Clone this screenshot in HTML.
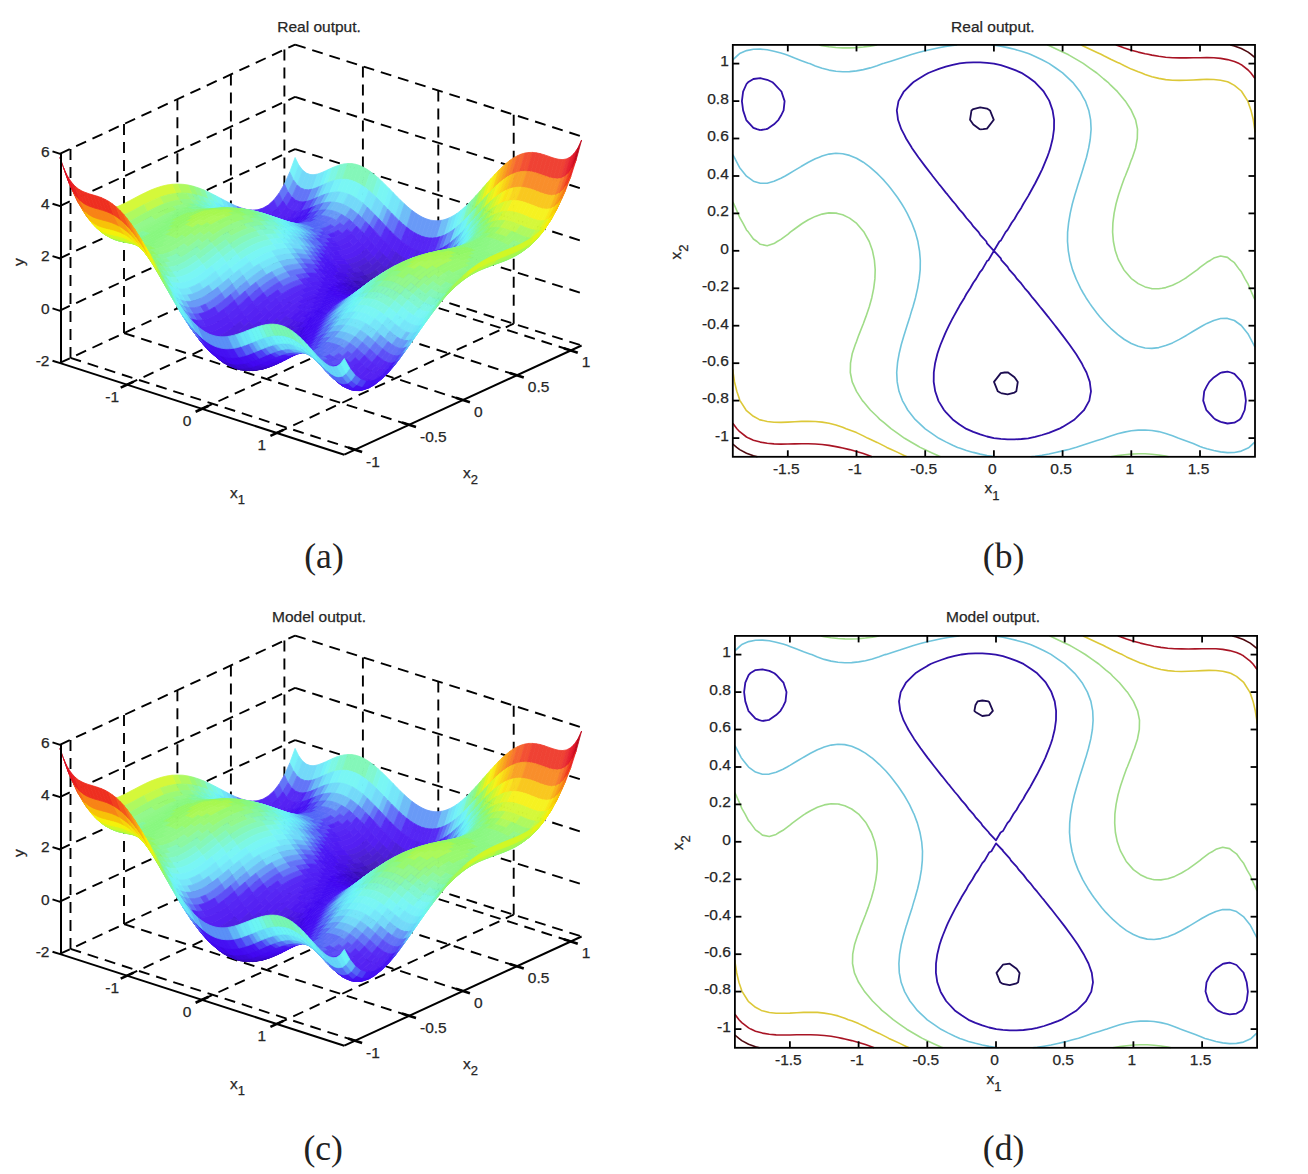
<!DOCTYPE html>
<html><head><meta charset="utf-8"><title>Real vs model output</title>
<style>html,body{margin:0;padding:0;background:#fff;}svg{display:block;}.k0{fill:#2b088f;stroke:#2b088f}.k1{fill:#2f08a3;stroke:#2f08a3}.k2{fill:#3408b7;stroke:#3408b7}.k3{fill:#3808ca;stroke:#3808ca}.k4{fill:#3c08d8;stroke:#3c08d8}.k5{fill:#3f08e5;stroke:#3f08e5}.k6{fill:#4208f1;stroke:#4208f1}.k7{fill:#430cf2;stroke:#430cf2}.k8{fill:#4510f3;stroke:#4510f3}.k9{fill:#4616f4;stroke:#4616f4}.k10{fill:#4d3ef5;stroke:#4d3ef5}.k11{fill:#5367f6;stroke:#5367f6}.k12{fill:#5a90f6;stroke:#5a90f6}.k13{fill:#60b6f7;stroke:#60b6f7}.k14{fill:#64d5f8;stroke:#64d5f8}.k15{fill:#67e4f8;stroke:#67e4f8}.k16{fill:#69f1f8;stroke:#69f1f8}.k17{fill:#6bf5f3;stroke:#6bf5f3}.k18{fill:#6ff6e2;stroke:#6ff6e2}.k19{fill:#73f6ca;stroke:#73f6ca}.k20{fill:#77f6b2;stroke:#77f6b2}.k21{fill:#7ff798;stroke:#7ff798}.k22{fill:#88f87f;stroke:#88f87f}.k23{fill:#91f866;stroke:#91f866}.k24{fill:#a7f84f;stroke:#a7f84f}.k25{fill:#bcf838;stroke:#bcf838}.k26{fill:#d1f725;stroke:#d1f725}.k27{fill:#e3f418;stroke:#e3f418}.k28{fill:#f5f10a;stroke:#f5f10a}.k29{fill:#f8e308;stroke:#f8e308}.k30{fill:#f8d308;stroke:#f8d308}.k31{fill:#f8c208;stroke:#f8c208}.k32{fill:#f8ae0b;stroke:#f8ae0b}.k33{fill:#f89811;stroke:#f89811}.k34{fill:#f88316;stroke:#f88316}.k35{fill:#f66c19;stroke:#f66c19}.k36{fill:#f4551b;stroke:#f4551b}.k37{fill:#f13f1e;stroke:#f13f1e}.k38{fill:#ee2e20;stroke:#ee2e20}.k39{fill:#e92121;stroke:#e92121}.k40{fill:#e51522;stroke:#e51522}.k41{fill:#dd0e22;stroke:#dd0e22}.k42{fill:#d20c20;stroke:#d20c20}.k43{fill:#c7091e;stroke:#c7091e}.k44{fill:#bd081c;stroke:#bd081c}.k45{fill:#b1081b;stroke:#b1081b}.k46{fill:#a50819;stroke:#a50819}.k47{fill:#990817;stroke:#990817}.k48{fill:#310f93;stroke:#310f93}.k49{fill:#360fa6;stroke:#360fa6}.k50{fill:#3a0fb9;stroke:#3a0fb9}.k51{fill:#3e0fcc;stroke:#3e0fcc}.k52{fill:#420fd9;stroke:#420fd9}.k53{fill:#450fe6;stroke:#450fe6}.k54{fill:#4810f1;stroke:#4810f1}.k55{fill:#4913f2;stroke:#4913f2}.k56{fill:#4a17f4;stroke:#4a17f4}.k57{fill:#4c1df5;stroke:#4c1df5}.k58{fill:#5244f6;stroke:#5244f6}.k59{fill:#586cf6;stroke:#586cf6}.k60{fill:#5f93f7;stroke:#5f93f7}.k61{fill:#65b8f7;stroke:#65b8f7}.k62{fill:#69d6f8;stroke:#69d6f8}.k63{fill:#6be5f8;stroke:#6be5f8}.k64{fill:#6df1f8;stroke:#6df1f8}.k65{fill:#70f5f3;stroke:#70f5f3}.k66{fill:#74f7e3;stroke:#74f7e3}.k67{fill:#78f7cb;stroke:#78f7cb}.k68{fill:#7bf7b4;stroke:#7bf7b4}.k69{fill:#83f79c;stroke:#83f79c}.k70{fill:#8cf883;stroke:#8cf883}.k71{fill:#95f86a;stroke:#95f86a}.k72{fill:#a9f854;stroke:#a9f854}.k73{fill:#bef83f;stroke:#bef83f}.k74{fill:#d2f72c;stroke:#d2f72c}.k75{fill:#e3f41f;stroke:#e3f41f}.k76{fill:#f5f112;stroke:#f5f112}.k77{fill:#f8e40f;stroke:#f8e40f}.k78{fill:#f8d40f;stroke:#f8d40f}.k79{fill:#f8c40f;stroke:#f8c40f}.k80{fill:#f8b013;stroke:#f8b013}.k81{fill:#f89c18;stroke:#f89c18}.k82{fill:#f8871d;stroke:#f8871d}.k83{fill:#f77120;stroke:#f77120}.k84{fill:#f45b22;stroke:#f45b22}.k85{fill:#f24525;stroke:#f24525}.k86{fill:#ee3527;stroke:#ee3527}.k87{fill:#ea2828;stroke:#ea2828}.k88{fill:#e61c29;stroke:#e61c29}.k89{fill:#de1529;stroke:#de1529}.k90{fill:#d31327;stroke:#d31327}.k91{fill:#c91125;stroke:#c91125}.k92{fill:#bf0f23;stroke:#bf0f23}.k93{fill:#b30f22;stroke:#b30f22}.k94{fill:#a80f20;stroke:#a80f20}.k95{fill:#9c0f1e;stroke:#9c0f1e}.k96{fill:#381796;stroke:#381796}.k97{fill:#3c17a9;stroke:#3c17a9}.k98{fill:#4017bc;stroke:#4017bc}.k99{fill:#4517ce;stroke:#4517ce}.k100{fill:#4817da;stroke:#4817da}.k101{fill:#4b17e7;stroke:#4b17e7}.k102{fill:#4e17f1;stroke:#4e17f1}.k103{fill:#4f1bf3;stroke:#4f1bf3}.k104{fill:#501ff4;stroke:#501ff4}.k105{fill:#5225f5;stroke:#5225f5}.k106{fill:#584af6;stroke:#584af6}.k107{fill:#5e70f7;stroke:#5e70f7}.k108{fill:#6497f7;stroke:#6497f7}.k109{fill:#6abbf7;stroke:#6abbf7}.k110{fill:#6ed8f9;stroke:#6ed8f9}.k111{fill:#70e5f9;stroke:#70e5f9}.k112{fill:#72f1f9;stroke:#72f1f9}.k113{fill:#75f5f3;stroke:#75f5f3}.k114{fill:#78f7e4;stroke:#78f7e4}.k115{fill:#7cf7cd;stroke:#7cf7cd}.k116{fill:#80f7b6;stroke:#80f7b6}.k117{fill:#87f79f;stroke:#87f79f}.k118{fill:#90f887;stroke:#90f887}.k119{fill:#98f96f;stroke:#98f96f}.k120{fill:#acf95a;stroke:#acf95a}.k121{fill:#c0f945;stroke:#c0f945}.k122{fill:#d3f833;stroke:#d3f833}.k123{fill:#e4f526;stroke:#e4f526}.k124{fill:#f5f219;stroke:#f5f219}.k125{fill:#f9e517;stroke:#f9e517}.k126{fill:#f9d517;stroke:#f9d517}.k127{fill:#f9c617;stroke:#f9c617}.k128{fill:#f9b31b;stroke:#f9b31b}.k129{fill:#f99f1f;stroke:#f99f1f}.k130{fill:#f98a24;stroke:#f98a24}.k131{fill:#f77527;stroke:#f77527}.k132{fill:#f5602a;stroke:#f5602a}.k133{fill:#f24a2c;stroke:#f24a2c}.k134{fill:#ef3b2e;stroke:#ef3b2e}.k135{fill:#eb2f2f;stroke:#eb2f2f}.k136{fill:#e62330;stroke:#e62330}.k137{fill:#df1d2f;stroke:#df1d2f}.k138{fill:#d51b2e;stroke:#d51b2e}.k139{fill:#cb192c;stroke:#cb192c}.k140{fill:#c1172a;stroke:#c1172a}.k141{fill:#b61729;stroke:#b61729}.k142{fill:#ab1727;stroke:#ab1727}.k143{fill:#9f1726;stroke:#9f1726}.k144{fill:#3e1f9a;stroke:#3e1f9a}.k145{fill:#421fac;stroke:#421fac}.k146{fill:#471fbe;stroke:#471fbe}.k147{fill:#4b1fcf;stroke:#4b1fcf}.k148{fill:#4e1fdb;stroke:#4e1fdb}.k149{fill:#511fe7;stroke:#511fe7}.k150{fill:#541ff2;stroke:#541ff2}.k151{fill:#5522f3;stroke:#5522f3}.k152{fill:#5626f4;stroke:#5626f4}.k153{fill:#572cf5;stroke:#572cf5}.k154{fill:#5d50f6;stroke:#5d50f6}.k155{fill:#6375f7;stroke:#6375f7}.k156{fill:#699af7;stroke:#699af7}.k157{fill:#6fbdf7;stroke:#6fbdf7}.k158{fill:#73d9f9;stroke:#73d9f9}.k159{fill:#75e6f9;stroke:#75e6f9}.k160{fill:#77f2f9;stroke:#77f2f9}.k161{fill:#79f6f4;stroke:#79f6f4}.k162{fill:#7cf7e4;stroke:#7cf7e4}.k163{fill:#80f7cf;stroke:#80f7cf}.k164{fill:#84f7b9;stroke:#84f7b9}.k165{fill:#8bf8a2;stroke:#8bf8a2}.k166{fill:#93f88b;stroke:#93f88b}.k167{fill:#9bf974;stroke:#9bf974}.k168{fill:#aff95f;stroke:#aff95f}.k169{fill:#c2f94b;stroke:#c2f94b}.k170{fill:#d5f83a;stroke:#d5f83a}.k171{fill:#e5f52d;stroke:#e5f52d}.k172{fill:#f6f221;stroke:#f6f221}.k173{fill:#f9e61f;stroke:#f9e61f}.k174{fill:#f9d71f;stroke:#f9d71f}.k175{fill:#f9c81f;stroke:#f9c81f}.k176{fill:#f9b522;stroke:#f9b522}.k177{fill:#f9a227;stroke:#f9a227}.k178{fill:#f98e2b;stroke:#f98e2b}.k179{fill:#f77a2e;stroke:#f77a2e}.k180{fill:#f56531;stroke:#f56531}.k181{fill:#f35033;stroke:#f35033}.k182{fill:#ef4234;stroke:#ef4234}.k183{fill:#eb3636;stroke:#eb3636}.k184{fill:#e72a37;stroke:#e72a37}.k185{fill:#e02436;stroke:#e02436}.k186{fill:#d62235;stroke:#d62235}.k187{fill:#cd2033;stroke:#cd2033}.k188{fill:#c31f31;stroke:#c31f31}.k189{fill:#b81f30;stroke:#b81f30}.k190{fill:#ad1f2e;stroke:#ad1f2e}.k191{fill:#a31f2d;stroke:#a31f2d}</style></head>
<body><svg width="1308" height="1174" viewBox="0 0 1308 1174">
<rect width="1308" height="1174" fill="#fff"/>
<g stroke="#000" stroke-width="1.9" stroke-dasharray="11 7" fill="none"><line x1="59.8" y1="362.9" x2="295.1" y2="253.7" /><line x1="295.1" y1="253.7" x2="581.6" y2="345.5" /><line x1="59.8" y1="310.6" x2="295.1" y2="201.4" /><line x1="295.1" y1="201.4" x2="581.6" y2="293.2" /><line x1="59.8" y1="258.3" x2="295.1" y2="149.1" /><line x1="295.1" y1="149.1" x2="581.6" y2="240.9" /><line x1="59.8" y1="206.1" x2="295.1" y2="96.9" /><line x1="295.1" y1="96.9" x2="581.6" y2="188.7" /><line x1="59.8" y1="153.8" x2="295.1" y2="44.6" /><line x1="295.1" y1="44.6" x2="581.6" y2="136.4" /><line x1="70.5" y1="357.9" x2="70.5" y2="148.8" /><line x1="70.5" y1="357.9" x2="355.1" y2="449.7" /><line x1="124" y1="333.1" x2="124" y2="124" /><line x1="124" y1="333.1" x2="409" y2="424.9" /><line x1="177.4" y1="308.3" x2="177.4" y2="99.2" /><line x1="177.4" y1="308.3" x2="462.9" y2="400.1" /><line x1="230.9" y1="283.4" x2="230.9" y2="74.4" /><line x1="230.9" y1="283.4" x2="516.8" y2="375.3" /><line x1="284.4" y1="258.6" x2="284.4" y2="49.6" /><line x1="284.4" y1="258.6" x2="570.8" y2="350.4" /><line x1="362.9" y1="275.4" x2="362.9" y2="66.3" /><line x1="127.2" y1="384.6" x2="362.9" y2="275.4" /><line x1="438.3" y1="299.6" x2="438.3" y2="90.5" /><line x1="202.1" y1="408.8" x2="438.3" y2="299.6" /><line x1="513.7" y1="323.7" x2="513.7" y2="114.7" /><line x1="276.9" y1="432.9" x2="513.7" y2="323.7" /></g>
<g stroke-width=".8" stroke-linejoin="round"><path class="k160" d="M289.7 172.2l5.4-14.7 3.7 7.6-5.3 14.8z"/><path class="k157" d="M284.4 184l5.3-11.8 3.8 7.7-5.4 11.9z"/><path class="k155" d="M279 193.2l5.4-9.2 3.7 7.8-5.3 9.2z"/><path class="k154" d="M273.7 200.1l5.3-6.9 3.8 7.8-5.4 7z"/><path class="k153" d="M268.3 205l5.4-4.9 3.7 7.9-5.3 4.9z"/><path class="k152" d="M257.6 209.8l5.4-1.7 5.3-3.1 3.8 7.9-5.4 3.2-5.3 1.7z"/><path class="k153" d="M246.9 209.5l5.4 .6 5.3-.3 3.8 8-5.3 .5-5.4-.6z"/><path class="k154" d="M241.6 208.1l5.3 1.4 3.8 8.2-5.3-1.3z"/><path class="k155" d="M236.2 206.1l5.4 2 3.8 8.3-5.4-2z"/><path class="k109" d="M230.9 203.6l5.3 2.5 3.8 8.3-5.3-2.4z"/><path class="k110" d="M225.6 200.9l5.3 2.7 3.8 8.4-5.4-2.6z"/><path class="k111" d="M220.2 198.1l5.4 2.8 3.7 8.5-5.3-2.8z"/><path class="k113" d="M214.9 195.3l5.3 2.8 3.8 8.5-5.4-2.8z"/><path class="k114" d="M209.5 192.6l5.4 2.7 3.7 8.5-5.3-2.6z"/><path class="k163" d="M204.2 190.1l5.3 2.5 3.8 8.6-5.4-2.3z"/><path class="k165" d="M198.8 188l5.4 2.1 3.7 8.8-5.3-2.1z"/><path class="k166" d="M193.5 186.3l5.3 1.7 3.8 8.8-5.4-1.6z"/><path class="k167" d="M188.1 185l5.4 1.3 3.7 8.9-5.3-1.2z"/><path class="k168" d="M177.4 184l5.4 .3 5.3 .7 3.8 9-5.4-.8-5.3-.2z"/><path class="k169" d="M172.1 184.3l5.3-.3 3.8 9-5.3 .4z"/><path class="k170" d="M107.9 209.5l5.4-1.4 5.3-2 5.4-2.5 5.3-2.7 5.4-2.9 5.3-2.8 5.4-2.6 5.3-2.5 5.4-2.1 5.3-1.7 5.3-1.3 5.4-.7 3.8 9.1-5.4 .8-5.3 1.3-5.4 1.8-5.3 2.2-5.4 2.5-5.3 2.7-5.4 2.9-5.3 2.9-5.4 2.8-5.3 2.5-5.4 2.1-5.3 1.5z"/><path class="k171" d="M97.3 209.7l5.3 .4 5.3-.6 3.8 9.9-5.4 .7-5.3-.4z"/><path class="k172" d="M91.9 208.1l5.4 1.6 3.7 10-5.3-1.5z"/><path class="k173" d="M86.6 204.9l5.3 3.2 3.8 10.1-5.4-3.1z"/><path class="k127" d="M81.2 200.1l5.4 4.8 3.7 10.2-5.3-4.8z"/><path class="k33" d="M75.9 193.2l5.3 6.9 3.8 10.2-5.4-6.8z"/><path class="k36" d="M70.5 184l5.4 9.2 3.7 10.3-5.3-9.2z"/><path class="k39" d="M65.2 172.2l5.3 11.8 3.8 10.3-5.4-11.7z"/><path class="k44" d="M59.8 157.4l5.4 14.8 3.7 10.4-5.3-14.7z"/><path class="k159" d="M293.5 179.9l5.3-14.8 3.8 5-5.4 14.9z"/><path class="k156" d="M288.1 191.8l5.4-11.9 3.7 5.1-5.3 12z"/><path class="k154" d="M282.8 201l5.3-9.2 3.8 5.2-5.3 9.3z"/><path class="k152" d="M277.4 208l5.4-7 3.8 5.3-5.4 7z"/><path class="k151" d="M256.1 218.3l5.3-.5 5.3-1.7 5.4-3.2 5.3-4.9 3.8 5.3-5.3 5-5.4 3.3-5.3 1.7-5.4 .6z"/><path class="k104" d="M250.7 217.7l5.4 .6 3.7 5.6-5.3-.5z"/><path class="k105" d="M245.4 216.4l5.3 1.3 3.8 5.7-5.4-1.3z"/><path class="k58" d="M240 214.4l5.4 2 3.7 5.7-5.3-1.9z"/><path class="k59" d="M234.7 212l5.3 2.4 3.8 5.8-5.4-2.3z"/><path class="k60" d="M229.3 209.4l5.4 2.6 3.7 5.9-5.3-2.6z"/><path class="k62" d="M224 206.6l5.3 2.8 3.8 5.9-5.4-2.7z"/><path class="k63" d="M218.6 203.8l5.4 2.8 3.7 6-5.3-2.7z"/><path class="k64" d="M213.3 201.2l5.3 2.6 3.8 6.1-5.4-2.6z"/><path class="k66" d="M207.9 198.9l5.4 2.3 3.7 6.1-5.3-2.3z"/><path class="k115" d="M202.6 196.8l5.3 2.1 3.8 6.1-5.4-2z"/><path class="k116" d="M197.2 195.2l5.4 1.6 3.7 6.2-5.3-1.5z"/><path class="k117" d="M191.9 194l5.3 1.2 3.8 6.3-5.4-1.2z"/><path class="k166" d="M186.5 193.2l5.4 .8 3.7 6.3-5.3-.6z"/><path class="k167" d="M175.9 193.4l5.3-.4 5.3 .2 3.8 6.5-5.3-.2-5.4 .4z"/><path class="k168" d="M159.8 197.3l5.4-1.8 5.3-1.3 5.4-.8 3.7 6.5-5.3 .9-5.4 1.4-5.3 1.9z"/><path class="k169" d="M143.8 204.7l5.3-2.7 5.4-2.5 5.3-2.2 3.8 6.8-5.4 2.2-5.3 2.6-5.4 2.8z"/><path class="k168" d="M111.7 219.4l5.3-1.5 5.4-2.1 5.3-2.5 5.4-2.8 5.3-2.9 5.4-2.9 3.7 7-5.3 2.9-5.4 3-5.3 2.8-5.4 2.6-5.3 2.2-5.4 1.5z"/><path class="k169" d="M101 219.7l5.3 .4 5.4-.7 3.7 7.3-5.3 .8-5.4-.3z"/><path class="k170" d="M95.7 218.2l5.3 1.5 3.7 7.5-5.3-1.5z"/><path class="k123" d="M90.3 215.1l5.4 3.1 3.7 7.5-5.3-3z"/><path class="k29" d="M85 210.3l5.3 4.8 3.8 7.6-5.4-4.7z"/><path class="k31" d="M79.6 203.5l5.4 6.8 3.7 7.7-5.3-6.8z"/><path class="k34" d="M74.3 194.3l5.3 9.2 3.8 7.7-5.4-9.1z"/><path class="k37" d="M68.9 182.6l5.4 11.7 3.7 7.8-5.3-11.6z"/><path class="k41" d="M63.6 167.9l5.3 14.7 3.8 7.9-5.4-14.7z"/><path class="k158" d="M297.2 185l5.4-14.9 3.8 3-5.4 15z"/><path class="k155" d="M291.9 197l5.3-12 3.8 3.1-5.3 12z"/><path class="k153" d="M286.6 206.3l5.3-9.3 3.8 3.1-5.4 9.4z"/><path class="k151" d="M275.9 218.3l5.3-5 5.4-7 3.7 3.2-5.3 7.1-5.4 5z"/><path class="k150" d="M270.5 221.6l5.4-3.3 3.7 3.3-5.3 3.4z"/><path class="k102" d="M259.8 223.9l5.4-.6 5.3-1.7 3.8 3.4-5.4 1.8-5.3 .6z"/><path class="k55" d="M254.5 223.4l5.3 .5 3.8 3.5-5.4-.4z"/><path class="k8" d="M249.1 222.1l5.4 1.3 3.7 3.6-5.3-1.3z"/><path class="k9" d="M243.8 220.2l5.3 1.9 3.8 3.6-5.4-1.8z"/><path class="k10" d="M238.4 217.9l5.4 2.3 3.7 3.7-5.3-2.3z"/><path class="k11" d="M233.1 215.3l5.3 2.6 3.8 3.7-5.4-2.5z"/><path class="k13" d="M227.7 212.6l5.4 2.7 3.7 3.8-5.3-2.6z"/><path class="k14" d="M222.4 209.9l5.3 2.7 3.8 3.9-5.4-2.6z"/><path class="k15" d="M217 207.3l5.4 2.6 3.7 4-5.3-2.5z"/><path class="k17" d="M211.7 205l5.3 2.3 3.8 4.1-5.4-2.3z"/><path class="k18" d="M206.3 203l5.4 2 3.7 4.1-5.3-1.9z"/><path class="k19" d="M201 201.5l5.3 1.5 3.8 4.2-5.3-1.5z"/><path class="k68" d="M195.6 200.3l5.4 1.2 3.8 4.2-5.4-1.1z"/><path class="k117" d="M190.3 199.7l5.3 .6 3.8 4.3-5.3-.5z"/><path class="k118" d="M179.6 199.9l5.4-.4 5.3 .2 3.8 4.4-5.4-.1-5.3 .4z"/><path class="k167" d="M110.1 227.5l5.3-.8 5.4-1.5 5.3-2.2 5.4-2.6 5.3-2.8 5.4-3 5.3-2.9 5.4-2.8 5.3-2.6 5.4-2.2 5.3-1.9 5.4-1.4 5.3-.9 3.8 4.5-5.4 1-5.3 1.5-5.4 1.9-5.3 2.3-5.4 2.6-5.3 2.9-5.4 3-5.3 3-5.4 2.9-5.3 2.7-5.4 2.2-5.3 1.6-5.4 .8z"/><path class="k120" d="M104.7 227.2l5.4 .3 3.7 5.3-5.3-.2z"/><path class="k121" d="M99.4 225.7l5.3 1.5 3.8 5.4-5.4-1.4z"/><path class="k26" d="M94.1 222.7l5.3 3 3.7 5.5-5.3-2.9z"/><path class="k28" d="M88.7 218l5.4 4.7 3.7 5.6-5.4-4.7z"/><path class="k30" d="M83.4 211.2l5.3 6.8 3.7 5.6-5.3-6.7z"/><path class="k33" d="M78 202.1l5.4 9.1 3.7 5.7-5.3-9z"/><path class="k36" d="M72.7 190.5l5.3 11.6 3.8 5.8-5.4-11.6z"/><path class="k40" d="M67.3 175.8l5.4 14.7 3.7 5.8-5.3-14.6z"/><path class="k158" d="M301 188.1l5.4-15 3.7 1.4-5.3 15z"/><path class="k155" d="M295.7 200.1l5.3-12 3.8 1.4-5.4 12.1z"/><path class="k153" d="M290.3 209.5l5.4-9.4 3.7 1.5-5.3 9.5z"/><path class="k151" d="M285 216.6l5.3-7.1 3.8 1.6-5.4 7.1z"/><path class="k150" d="M279.6 221.6l5.4-5 3.7 1.6-5.3 5.2z"/><path class="k102" d="M274.3 225l5.3-3.4 3.8 1.8-5.4 3.3z"/><path class="k54" d="M268.9 226.8l5.4-1.8 3.7 1.7-5.3 1.9z"/><path class="k6" d="M263.6 227.4l5.3-.6 3.8 1.8-5.4 .7z"/><path class="k7" d="M258.2 227l5.4 .4 3.7 1.9-5.3-.4z"/><path class="k8" d="M252.9 225.7l5.3 1.3 3.8 1.9-5.4-1.1z"/><path class="k9" d="M247.5 223.9l5.4 1.8 3.7 2.1-5.3-1.8z"/><path class="k10" d="M242.2 221.6l5.3 2.3 3.8 2.1-5.3-2.2z"/><path class="k11" d="M236.8 219.1l5.4 2.5 3.8 2.2-5.4-2.4z"/><path class="k12" d="M231.5 216.5l5.3 2.6 3.8 2.3-5.3-2.6z"/><path class="k14" d="M226.1 213.9l5.4 2.6 3.8 2.3-5.4-2.6z"/><path class="k15" d="M220.8 211.4l5.3 2.5 3.8 2.3-5.3-2.4z"/><path class="k16" d="M215.4 209.1l5.4 2.3 3.8 2.4-5.4-2.2z"/><path class="k17" d="M210.1 207.2l5.3 1.9 3.8 2.5-5.3-1.8z"/><path class="k18" d="M204.8 205.7l5.3 1.5 3.8 2.6-5.4-1.5z"/><path class="k19" d="M199.4 204.6l5.4 1.1 3.7 2.6-5.3-1z"/><path class="k20" d="M194.1 204.1l5.3 .5 3.8 2.7-5.4-.5z"/><path class="k21" d="M188.7 204l5.4 .1 3.7 2.7-5.3 0z"/><path class="k70" d="M183.4 204.4l5.3-.4 3.8 2.8-5.4 .5z"/><path class="k118" d="M172.7 206.9l5.3-1.5 5.4-1 3.7 2.9-5.3 1.1-5.4 1.5z"/><path class="k119" d="M162 211.1l5.3-2.3 5.4-1.9 3.7 3-5.3 2-5.4 2.3z"/><path class="k167" d="M151.3 216.6l5.3-2.9 5.4-2.6 3.7 3.1-5.3 2.7-5.4 3z"/><path class="k166" d="M124.5 230.4l5.4-2.2 5.3-2.7 5.4-2.9 5.3-3 5.4-3 3.7 3.3-5.3 3.1-5.4 3-5.3 3-5.4 2.7-5.3 2.3z"/><path class="k118" d="M119.2 232l5.3-1.6 3.8 3.6-5.4 1.7z"/><path class="k119" d="M113.8 232.8l5.4-.8 3.7 3.7-5.3 .9z"/><path class="k71" d="M108.5 232.6l5.3 .2 3.8 3.8-5.4-.2z"/><path class="k24" d="M103.1 231.2l5.4 1.4 3.7 3.8-5.3-1.3z"/><path class="k25" d="M97.8 228.3l5.3 2.9 3.8 3.9-5.4-2.9z"/><path class="k27" d="M92.4 223.6l5.4 4.7 3.7 3.9-5.3-4.6z"/><path class="k29" d="M87.1 216.9l5.3 6.7 3.8 4-5.4-6.6z"/><path class="k32" d="M81.8 207.9l5.3 9 3.7 4.1-5.3-9z"/><path class="k35" d="M76.4 196.3l5.4 11.6 3.7 4.1-5.4-11.5z"/><path class="k39" d="M71.1 181.7l5.3 14.6 3.7 4.2-5.3-14.5z"/><path class="k158" d="M304.8 189.5l5.3-15 3.8 .2-5.3 15.1z"/><path class="k155" d="M299.4 201.6l5.4-12.1 3.8 .3-5.4 12.1z"/><path class="k153" d="M294.1 211.1l5.3-9.5 3.8 .3-5.3 9.5z"/><path class="k103" d="M288.7 218.2l5.4-7.1 3.8 .3-5.4 7.3z"/><path class="k102" d="M283.4 223.4l5.3-5.2 3.8 .5-5.3 5.2z"/><path class="k54" d="M278 226.7l5.4-3.3 3.8 .5-5.4 3.4z"/><path class="k6" d="M267.3 229.3l5.4-.7 5.3-1.9 3.8 .6-5.3 2-5.4 .7z"/><path class="k7" d="M256.6 227.8l5.4 1.1 5.3 .4 3.8 .7-5.3-.3-5.4-1.1z"/><path class="k8" d="M251.3 226l5.3 1.8 3.8 .8-5.3-1.7z"/><path class="k10" d="M246 223.8l5.3 2.2 3.8 .9-5.4-2.1z"/><path class="k11" d="M240.6 221.4l5.4 2.4 3.7 1-5.3-2.4z"/><path class="k12" d="M235.3 218.8l5.3 2.6 3.8 1-5.4-2.5z"/><path class="k13" d="M229.9 216.2l5.4 2.6 3.7 1.1-5.3-2.5z"/><path class="k15" d="M224.6 213.8l5.3 2.4 3.8 1.2-5.4-2.4z"/><path class="k16" d="M219.2 211.6l5.4 2.2 3.7 1.2-5.3-2.1z"/><path class="k17" d="M213.9 209.8l5.3 1.8 3.8 1.3-5.4-1.8z"/><path class="k18" d="M208.5 208.3l5.4 1.5 3.7 1.3-5.3-1.3z"/><path class="k19" d="M203.2 207.3l5.3 1 3.8 1.5-5.4-1z"/><path class="k20" d="M197.8 206.8l5.4 .5 3.7 1.5-5.3-.4z"/><path class="k21" d="M187.1 207.3l5.4-.5 5.3 0 3.8 1.6-5.4 0-5.3 .6z"/><path class="k22" d="M181.8 208.4l5.3-1.1 3.8 1.7-5.4 1.1z"/><path class="k70" d="M171.1 211.9l5.3-2 5.4-1.5 3.7 1.7-5.3 1.6-5.4 2z"/><path class="k118" d="M122.9 235.7l5.4-1.7 5.3-2.3 5.4-2.7 5.3-3 5.4-3 5.3-3.1 5.4-3 5.3-2.7 5.4-2.3 3.7 1.8-5.3 2.5-5.4 2.7-5.3 3-5.4 3.2-5.3 3.1-5.4 3.1-5.3 2.8-5.4 2.3-5.3 1.8z"/><path class="k70" d="M117.6 236.6l5.3-.9 3.8 2.5-5.4 .9z"/><path class="k23" d="M106.9 235.1l5.3 1.3 5.4 .2 3.7 2.5-5.3-.1-5.4-1.3z"/><path class="k25" d="M101.5 232.2l5.4 2.9 3.7 2.6-5.3-2.8z"/><path class="k26" d="M96.2 227.6l5.3 4.6 3.8 2.7-5.4-4.5z"/><path class="k28" d="M90.8 221l5.4 6.6 3.7 2.8-5.3-6.6z"/><path class="k31" d="M85.5 212l5.3 9 3.8 2.8-5.4-8.9z"/><path class="k34" d="M80.1 200.5l5.4 11.5 3.7 2.9-5.3-11.4z"/><path class="k38" d="M74.8 186l5.3 14.5 3.8 3-5.4-14.5z"/><path class="k158" d="M308.6 189.8l5.3-15.1 3.8-.7-5.4 15.1z"/><path class="k155" d="M303.2 201.9l5.4-12.1 3.7-.7-5.3 12.2z"/><path class="k105" d="M297.9 211.4l5.3-9.5 3.8-.6-5.4 9.6z"/><path class="k104" d="M292.5 218.7l5.4-7.3 3.7-.5-5.3 7.3z"/><path class="k55" d="M287.2 223.9l5.3-5.2 3.8-.5-5.4 5.3z"/><path class="k6" d="M271.1 230l5.4-.7 5.3-2 5.4-3.4 3.7-.4-5.3 3.5-5.4 2-5.3 .8z"/><path class="k7" d="M265.8 229.7l5.3 .3 3.8-.2-5.4-.2z"/><path class="k8" d="M260.4 228.6l5.4 1.1 3.7-.1-5.3-1.1z"/><path class="k9" d="M255.1 226.9l5.3 1.7 3.8-.1-5.4-1.6z"/><path class="k10" d="M249.7 224.8l5.4 2.1 3.7 0-5.3-2.1z"/><path class="k11" d="M244.4 222.4l5.3 2.4 3.8 0-5.4-2.3z"/><path class="k12" d="M239 219.9l5.4 2.5 3.7 .1-5.3-2.4z"/><path class="k14" d="M233.7 217.4l5.3 2.5 3.8 .2-5.4-2.4z"/><path class="k15" d="M228.3 215l5.4 2.4 3.7 .3-5.3-2.3z"/><path class="k16" d="M223 212.9l5.3 2.1 3.8 .4-5.4-2.1z"/><path class="k17" d="M217.6 211.1l5.4 1.8 3.7 .4-5.3-1.7z"/><path class="k18" d="M212.3 209.8l5.3 1.3 3.8 .5-5.4-1.3z"/><path class="k19" d="M206.9 208.8l5.4 1 3.7 .5-5.3-.9z"/><path class="k20" d="M201.6 208.4l5.3 .4 3.8 .6-5.4-.4z"/><path class="k21" d="M190.9 209l5.3-.6 5.4 0 3.7 .6-5.3 .1-5.4 .7z"/><path class="k22" d="M169.5 216.2l5.3-2.5 5.4-2 5.3-1.6 5.4-1.1 3.7 .8-5.3 1.2-5.4 1.6-5.3 2.1-5.4 2.5z"/><path class="k70" d="M142.7 231.3l5.4-3.1 5.3-3.1 5.4-3.2 5.3-3 5.4-2.7 3.7 1-5.3 2.9-5.4 3-5.3 3.2-5.4 3.2-5.3 3.2z"/><path class="k69" d="M132 236.4l5.4-2.3 5.3-2.8 3.8 1.4-5.4 2.8-5.3 2.4z"/><path class="k70" d="M126.7 238.2l5.3-1.8 3.8 1.5-5.4 1.8z"/><path class="k22" d="M116 239l5.3 .1 5.4-.9 3.7 1.5-5.3 1-5.4 0z"/><path class="k23" d="M110.6 237.7l5.4 1.3 3.7 1.7-5.3-1.2z"/><path class="k24" d="M105.3 234.9l5.3 2.8 3.8 1.8-5.4-2.7z"/><path class="k26" d="M99.9 230.4l5.4 4.5 3.7 1.9-5.3-4.5z"/><path class="k28" d="M94.6 223.8l5.3 6.6 3.8 1.9-5.4-6.5z"/><path class="k31" d="M89.2 214.9l5.4 8.9 3.7 2-5.3-8.8z"/><path class="k34" d="M83.9 203.5l5.3 11.4 3.8 2.1-5.4-11.5z"/><path class="k38" d="M78.5 189l5.4 14.5 3.7 2-5.3-14.3z"/><path class="k159" d="M312.3 189.1l5.4-15.1 3.7-1.3-5.3 15.2z"/><path class="k108" d="M307 201.3l5.3-12.2 3.8-1.2-5.4 12.3z"/><path class="k106" d="M301.6 210.9l5.4-9.6 3.7-1.1-5.3 9.6z"/><path class="k56" d="M296.3 218.2l5.3-7.3 3.8-1.1-5.4 7.4z"/><path class="k7" d="M285.6 227l5.3-3.5 5.4-5.3 3.7-1-5.3 5.3-5.4 3.6z"/><path class="k6" d="M280.2 229l5.4-2 3.7-.9-5.3 2.1z"/><path class="k7" d="M269.5 229.6l5.4 .2 5.3-.8 3.8-.8-5.4 .8-5.3-.1z"/><path class="k8" d="M264.2 228.5l5.3 1.1 3.8-.7-5.4-1z"/><path class="k9" d="M258.8 226.9l5.4 1.6 3.7-.6-5.3-1.6z"/><path class="k10" d="M253.5 224.8l5.3 2.1 3.8-.6-5.4-2z"/><path class="k11" d="M248.1 222.5l5.4 2.3 3.7-.5-5.3-2.2z"/><path class="k13" d="M242.8 220.1l5.3 2.4 3.8-.4-5.4-2.4z"/><path class="k14" d="M237.4 217.7l5.4 2.4 3.7-.4-5.3-2.4z"/><path class="k15" d="M232.1 215.4l5.3 2.3 3.8-.4-5.4-2.2z"/><path class="k16" d="M226.7 213.3l5.4 2.1 3.7-.3-5.3-2z"/><path class="k18" d="M221.4 211.6l5.3 1.7 3.8-.2-5.4-1.6z"/><path class="k19" d="M216 210.3l5.4 1.3 3.7-.1-5.3-1.3z"/><path class="k20" d="M205.3 209l5.4 .4 5.3 .9 3.8-.1-5.4-.8-5.3-.3z"/><path class="k21" d="M200 209.1l5.3-.1 3.8 .1-5.4 .2z"/><path class="k22" d="M162.5 223.1l5.4-3 5.3-2.9 5.4-2.5 5.3-2.1 5.4-1.6 5.3-1.2 5.4-.7 3.7 .2-5.3 .7-5.4 1.2-5.3 1.7-5.4 2.2-5.3 2.6-5.4 2.9-5.3 3.1z"/><path class="k70" d="M146.5 232.7l5.3-3.2 5.4-3.2 5.3-3.2 3.8 .6-5.4 3.3-5.3 3.3-5.4 3.1z"/><path class="k69" d="M141.1 235.5l5.4-2.8 3.7 .7-5.3 3z"/><path class="k21" d="M135.8 237.9l5.3-2.4 3.8 .9-5.4 2.4z"/><path class="k22" d="M119.7 240.7l5.4 0 5.3-1 5.4-1.8 3.7 .9-5.3 1.9-5.4 1.1-5.3 0z"/><path class="k23" d="M114.4 239.5l5.3 1.2 3.8 1.1-5.4-1.1z"/><path class="k24" d="M109 236.8l5.4 2.7 3.7 1.2-5.3-2.7z"/><path class="k26" d="M103.7 232.3l5.3 4.5 3.8 1.2-5.4-4.4z"/><path class="k28" d="M98.3 225.8l5.4 6.5 3.7 1.3-5.3-6.5z"/><path class="k31" d="M93 217l5.3 8.8 3.8 1.3-5.4-8.7z"/><path class="k34" d="M87.6 205.5l5.4 11.5 3.7 1.4-5.3-11.4z"/><path class="k38" d="M82.3 191.2l5.3 14.3 3.8 1.5-5.4-14.3z"/><path class="k159" d="M316.1 187.9l5.3-15.2 3.8-1.7-5.3 15.3z"/><path class="k108" d="M310.7 200.2l5.4-12.3 3.8-1.6-5.4 12.3z"/><path class="k106" d="M305.4 209.8l5.3-9.6 3.8-1.6-5.3 9.8z"/><path class="k57" d="M300 217.2l5.4-7.4 3.8-1.4-5.4 7.4z"/><path class="k8" d="M294.7 222.5l5.3-5.3 3.8-1.4-5.3 5.4z"/><path class="k7" d="M278.6 229l5.4-.8 5.3-2.1 5.4-3.6 3.8-1.3-5.4 3.6-5.3 2.2-5.4 .9z"/><path class="k8" d="M273.3 228.9l5.3 .1 3.8-1.1-5.3-.1z"/><path class="k9" d="M267.9 227.9l5.4 1 3.8-1.1-5.4-.9z"/><path class="k10" d="M262.6 226.3l5.3 1.6 3.8-1-5.3-1.5z"/><path class="k11" d="M257.2 224.3l5.4 2 3.8-.9-5.4-2z"/><path class="k12" d="M251.9 222.1l5.3 2.2 3.8-.9-5.4-2.1z"/><path class="k13" d="M246.5 219.7l5.4 2.4 3.7-.8-5.3-2.4z"/><path class="k14" d="M241.2 217.3l5.3 2.4 3.8-.8-5.4-2.3z"/><path class="k16" d="M235.8 215.1l5.4 2.2 3.7-.7-5.3-2.1z"/><path class="k17" d="M230.5 213.1l5.3 2 3.8-.6-5.4-1.9z"/><path class="k18" d="M225.1 211.5l5.4 1.6 3.7-.5-5.3-1.6z"/><path class="k19" d="M219.8 210.2l5.3 1.3 3.8-.5-5.4-1.2z"/><path class="k20" d="M214.4 209.4l5.4 .8 3.7-.4-5.3-.7z"/><path class="k21" d="M203.7 209.3l5.4-.2 5.3 .3 3.8-.3-5.4-.3-5.3 .3z"/><path class="k22" d="M187.7 212.9l5.3-1.7 5.4-1.2 5.3-.7 3.8-.2-5.4 .7-5.3 1.3-5.4 1.8z"/><path class="k23" d="M171.6 220.6l5.4-2.9 5.3-2.6 5.4-2.2 3.7 0-5.3 2.3-5.4 2.6-5.3 3z"/><path class="k22" d="M123.5 241.8l5.3 0 5.4-1.1 5.3-1.9 5.4-2.4 5.3-3 5.4-3.1 5.3-3.3 5.4-3.3 5.3-3.1 3.8 .2-5.4 3.1-5.3 3.4-5.4 3.3-5.3 3.3-5.4 3-5.3 2.5-5.4 1.9-5.3 1.2-5.4 .1z"/><path class="k23" d="M118.1 240.7l5.4 1.1 3.7 .8-5.3-1.1z"/><path class="k24" d="M112.8 238l5.3 2.7 3.8 .8-5.4-2.6z"/><path class="k26" d="M107.4 233.6l5.4 4.4 3.7 .9-5.3-4.4z"/><path class="k28" d="M102.1 227.1l5.3 6.5 3.8 .9-5.4-6.3z"/><path class="k31" d="M96.7 218.4l5.4 8.7 3.7 1.1-5.3-8.7z"/><path class="k34" d="M91.4 207l5.3 11.4 3.8 1.1-5.4-11.3z"/><path class="k38" d="M86 192.7l5.4 14.3 3.7 1.2-5.3-14.2z"/><path class="k112" d="M319.9 186.3l5.3-15.3 3.8-1.8-5.4 15.4z"/><path class="k109" d="M314.5 198.6l5.4-12.3 3.7-1.7-5.3 12.4z"/><path class="k59" d="M309.2 208.4l5.3-9.8 3.8-1.6-5.4 9.8z"/><path class="k9" d="M303.8 215.8l5.4-7.4 3.7-1.6-5.3 7.4z"/><path class="k8" d="M277.1 227.8l5.3 .1 5.4-.9 5.3-2.2 5.4-3.6 5.3-5.4 3.8-1.6-5.4 5.5-5.3 3.7-5.4 2.2-5.3 1-5.4 0z"/><path class="k9" d="M271.7 226.9l5.4 .9 3.7-1.2-5.3-.8z"/><path class="k10" d="M266.4 225.4l5.3 1.5 3.8-1.1-5.4-1.5z"/><path class="k11" d="M261 223.4l5.4 2 3.7-1.1-5.3-1.8z"/><path class="k12" d="M255.6 221.3l5.4 2.1 3.8-.9-5.4-2.2z"/><path class="k14" d="M250.3 218.9l5.3 2.4 3.8-1-5.3-2.2z"/><path class="k15" d="M244.9 216.6l5.4 2.3 3.8-.8-5.4-2.3z"/><path class="k16" d="M239.6 214.5l5.3 2.1 3.8-.8-5.3-2z"/><path class="k17" d="M234.2 212.6l5.4 1.9 3.8-.7-5.4-1.9z"/><path class="k18" d="M228.9 211l5.3 1.6 3.8-.7-5.3-1.5z"/><path class="k19" d="M223.5 209.8l5.4 1.2 3.8-.6-5.4-1.1z"/><path class="k20" d="M218.2 209.1l5.3 .7 3.8-.5-5.3-.7z"/><path class="k21" d="M212.8 208.8l5.4 .3 3.8-.5-5.4-.2z"/><path class="k22" d="M202.1 209.8l5.4-.7 5.3-.3 3.8-.4-5.4 .3-5.3 .9z"/><path class="k23" d="M170 223.9l5.4-3.1 5.3-3 5.4-2.6 5.3-2.3 5.4-1.8 5.3-1.3 3.8-.2-5.4 1.3-5.3 1.9-5.4 2.3-5.3 2.7-5.4 3-5.3 3.3z"/><path class="k22" d="M132.6 242.5l5.3-1.2 5.4-1.9 5.3-2.5 5.4-3 5.3-3.3 5.4-3.3 5.3-3.4 3.8 .2-5.4 3.4-5.3 3.4-5.4 3.3-5.3 3-5.4 2.6-5.3 2.1-5.4 1.2z"/><path class="k23" d="M121.9 241.5l5.3 1.1 5.4-.1 3.7 .6-5.3 .1-5.4-1z"/><path class="k24" d="M116.5 238.9l5.4 2.6 3.7 .7-5.3-2.5z"/><path class="k26" d="M111.2 234.5l5.3 4.4 3.8 .8-5.4-4.3z"/><path class="k28" d="M105.8 228.2l5.4 6.3 3.7 .9-5.3-6.3z"/><path class="k31" d="M100.5 219.5l5.3 8.7 3.8 .9-5.4-8.6z"/><path class="k34" d="M95.1 208.2l5.4 11.3 3.7 1-5.3-11.3z"/><path class="k38" d="M89.8 194l5.3 14.2 3.8 1-5.4-14.1z"/><path class="k161" d="M323.6 184.6l5.4-15.4 3.8-1.7-5.4 15.4z"/><path class="k110" d="M318.3 197l5.3-12.4 3.8-1.7-5.4 12.5z"/><path class="k108" d="M312.9 206.8l5.4-9.8 3.7-1.6-5.3 9.8z"/><path class="k58" d="M307.6 214.2l5.3-7.4 3.8-1.6-5.4 7.6z"/><path class="k9" d="M296.9 223.4l5.3-3.7 5.4-5.5 3.7-1.4-5.3 5.5-5.4 3.8z"/><path class="k8" d="M291.5 225.6l5.4-2.2 3.7-1.3-5.3 2.3z"/><path class="k9" d="M280.8 226.6l5.4 0 5.3-1 3.8-1.2-5.4 1-5.3 .1z"/><path class="k10" d="M275.5 225.8l5.3 .8 3.8-1.1-5.4-.8z"/><path class="k11" d="M270.1 224.3l5.4 1.5 3.7-1.1-5.3-1.4z"/><path class="k12" d="M264.8 222.5l5.3 1.8 3.8-1-5.4-1.8z"/><path class="k13" d="M259.4 220.3l5.4 2.2 3.7-1-5.3-2.1z"/><path class="k14" d="M254.1 218.1l5.3 2.2 3.8-.9-5.4-2.1z"/><path class="k15" d="M248.7 215.8l5.4 2.3 3.7-.8-5.3-2.2z"/><path class="k17" d="M243.4 213.8l5.3 2 3.8-.7-5.4-2z"/><path class="k18" d="M238 211.9l5.4 1.9 3.7-.7-5.3-1.8z"/><path class="k19" d="M232.7 210.4l5.3 1.5 3.8-.6-5.4-1.5z"/><path class="k20" d="M227.3 209.3l5.4 1.1 3.7-.6-5.3-1z"/><path class="k21" d="M222 208.6l5.3 .7 3.8-.5-5.4-.6z"/><path class="k22" d="M211.2 208.7l5.4-.3 5.4 .2 3.7-.4-5.3-.2-5.4 .4z"/><path class="k23" d="M168.4 227.5l5.4-3.4 5.3-3.3 5.4-3 5.3-2.7 5.4-2.3 5.3-1.9 5.4-1.3 5.3-.9 3.8-.3-5.3 .9-5.4 1.5-5.4 1.9-5.3 2.3-5.4 2.8-5.3 3.1-5.4 3.3-5.3 3.5z"/><path class="k22" d="M136.3 243.1l5.4-1.2 5.3-2.1 5.4-2.6 5.3-3 5.4-3.3 5.3-3.4 3.8 .2-5.4 3.5-5.3 3.3-5.4 3.2-5.3 2.6-5.4 2.1-5.3 1.3z"/><path class="k23" d="M125.6 242.2l5.4 1 5.3-.1 3.8 .6-5.4 .2-5.3-1z"/><path class="k25" d="M120.3 239.7l5.3 2.5 3.8 .7-5.4-2.4z"/><path class="k26" d="M114.9 235.4l5.4 4.3 3.7 .8-5.3-4.2z"/><path class="k28" d="M109.6 229.1l5.3 6.3 3.8 .9-5.4-6.3z"/><path class="k31" d="M104.2 220.5l5.4 8.6 3.7 .9-5.3-8.5z"/><path class="k34" d="M98.9 209.2l5.3 11.3 3.8 1-5.4-11.2z"/><path class="k38" d="M93.5 195.1l5.4 14.1 3.7 1.1-5.3-14.1z"/><path class="k162" d="M327.4 182.9l5.4-15.4 3.7-1.5-5.3 15.4z"/><path class="k111" d="M322 195.4l5.4-12.5 3.8-1.5-5.4 12.6z"/><path class="k108" d="M316.7 205.2l5.3-9.8 3.8-1.4-5.3 9.9z"/><path class="k59" d="M311.3 212.8l5.4-7.6 3.8-1.3-5.4 7.6z"/><path class="k10" d="M306 218.3l5.3-5.5 3.8-1.3-5.3 5.6z"/><path class="k9" d="M289.9 225.4l5.4-1 5.3-2.3 5.4-3.8 3.8-1.2-5.4 3.8-5.3 2.4-5.4 1.1z"/><path class="k10" d="M279.2 224.7l5.4 .8 5.3-.1 3.8-1-5.4 .1-5.3-.7z"/><path class="k11" d="M273.9 223.3l5.3 1.4 3.8-.9-5.4-1.3z"/><path class="k12" d="M268.5 221.5l5.4 1.8 3.7-.8-5.3-1.8z"/><path class="k14" d="M263.2 219.4l5.3 2.1 3.8-.8-5.4-2z"/><path class="k15" d="M257.8 217.3l5.4 2.1 3.7-.7-5.3-2.1z"/><path class="k16" d="M252.5 215.1l5.3 2.2 3.8-.7-5.4-2.1z"/><path class="k17" d="M247.1 213.1l5.4 2 3.7-.6-5.3-1.9z"/><path class="k18" d="M241.8 211.3l5.3 1.8 3.8-.5-5.4-1.7z"/><path class="k19" d="M236.4 209.8l5.4 1.5 3.7-.4-5.3-1.4z"/><path class="k20" d="M231.1 208.8l5.3 1 3.8-.3-5.4-1z"/><path class="k21" d="M225.7 208.2l5.4 .6 3.7-.3-5.3-.6z"/><path class="k22" d="M220.4 208l5.3 .2 3.8-.3-5.4 0z"/><path class="k23" d="M204.3 210.8l5.4-1.5 5.3-.9 5.4-.4 3.7-.1-5.3 .4-5.4 1-5.3 1.5z"/><path class="k24" d="M188.2 217.8l5.4-2.8 5.3-2.3 5.4-1.9 3.8 0-5.4 2-5.4 2.4-5.3 2.8z"/><path class="k23" d="M172.2 227.7l5.3-3.5 5.4-3.3 5.3-3.1 3.8 .2-5.4 3.2-5.3 3.4-5.4 3.5z"/><path class="k71" d="M166.8 231.2l5.4-3.5 3.7 .4-5.3 3.6z"/><path class="k70" d="M161.5 234.5l5.3-3.3 3.8 .5-5.4 3.4z"/><path class="k22" d="M140.1 243.7l5.3-1.3 5.4-2.1 5.3-2.6 5.4-3.2 3.7 .6-5.3 3.2-5.4 2.7-5.3 2.2-5.4 1.3z"/><path class="k23" d="M134.7 243.9l5.4-.2 3.7 .8-5.3 .3z"/><path class="k24" d="M129.4 242.9l5.3 1 3.8 .9-5.4-.9z"/><path class="k25" d="M124 240.5l5.4 2.4 3.7 1-5.3-2.4z"/><path class="k26" d="M118.7 236.3l5.3 4.2 3.8 1-5.4-4.2z"/><path class="k28" d="M113.3 230l5.4 6.3 3.7 1-5.3-6.1z"/><path class="k31" d="M108 221.5l5.3 8.5 3.8 1.2-5.4-8.5z"/><path class="k34" d="M102.6 210.3l5.4 11.2 3.7 1.2-5.3-11.1z"/><path class="k38" d="M97.3 196.2l5.3 14.1 3.8 1.3-5.4-14.1z"/><path class="k162" d="M331.2 181.4l5.3-15.4 3.8-1.3-5.4 15.6z"/><path class="k111" d="M325.8 194l5.4-12.6 3.7-1.1-5.3 12.6z"/><path class="k109" d="M320.5 203.9l5.3-9.9 3.8-1.1-5.4 9.9z"/><path class="k59" d="M315.1 211.5l5.4-7.6 3.7-1.1-5.3 7.7z"/><path class="k10" d="M288.3 224.5l5.4-.1 5.4-1.1 5.3-2.4 5.4-3.8 5.3-5.6 3.8-1-5.4 5.7-5.3 3.9-5.4 2.4-5.3 1.2-5.4 .2z"/><path class="k11" d="M283 223.8l5.3 .7 3.8-.6-5.3-.7z"/><path class="k12" d="M277.6 222.5l5.4 1.3 3.8-.6-5.4-1.2z"/><path class="k13" d="M272.3 220.7l5.3 1.8 3.8-.5-5.3-1.7z"/><path class="k14" d="M266.9 218.7l5.4 2 3.8-.4-5.4-1.9z"/><path class="k15" d="M261.6 216.6l5.3 2.1 3.8-.3-5.4-2.1z"/><path class="k16" d="M256.2 214.5l5.4 2.1 3.7-.3-5.3-2z"/><path class="k18" d="M250.9 212.6l5.3 1.9 3.8-.2-5.4-1.9z"/><path class="k19" d="M245.5 210.9l5.4 1.7 3.7-.2-5.3-1.7z"/><path class="k20" d="M240.2 209.5l5.3 1.4 3.8-.2-5.4-1.3z"/><path class="k21" d="M234.8 208.5l5.4 1 3.7-.1-5.3-.9z"/><path class="k22" d="M224.1 207.9l5.4 0 5.3 .6 3.8 0-5.4-.5-5.3 0z"/><path class="k23" d="M213.4 209.3l5.4-1 5.3-.4 3.8 .1-5.4 .5-5.3 1.1z"/><path class="k24" d="M186.6 221.2l5.4-3.2 5.3-2.8 5.4-2.4 5.4-2 5.3-1.5 3.8 .3-5.4 1.5-5.3 2.1-5.4 2.5-5.4 2.9-5.3 3.2z"/><path class="k71" d="M165.2 235.1l5.4-3.4 5.3-3.6 5.4-3.5 5.3-3.4 3.8 .6-5.4 3.4-5.3 3.6-5.4 3.7-5.3 3.5z"/><path class="k70" d="M154.5 241l5.4-2.7 5.3-3.2 3.8 .9-5.4 3.2-5.3 2.8z"/><path class="k22" d="M143.8 244.5l5.4-1.3 5.3-2.2 3.8 1-5.4 2.2-5.3 1.4z"/><path class="k23" d="M138.5 244.8l5.3-.3 3.8 1.1-5.4 .4z"/><path class="k24" d="M133.1 243.9l5.4 .9 3.7 1.2-5.3-.9z"/><path class="k25" d="M127.8 241.5l5.3 2.4 3.8 1.2-5.4-2.3z"/><path class="k26" d="M122.4 237.3l5.4 4.2 3.7 1.3-5.3-4.1z"/><path class="k28" d="M117.1 231.2l5.3 6.1 3.8 1.4-5.4-6.1z"/><path class="k31" d="M111.7 222.7l5.4 8.5 3.7 1.4-5.4-8.4z"/><path class="k34" d="M106.4 211.6l5.3 11.1 3.7 1.5-5.3-11.1z"/><path class="k38" d="M101 197.5l5.4 14.1 3.7 1.5-5.4-13.9z"/><path class="k163" d="M334.9 180.3l5.4-15.6 3.8-.8-5.4 15.6z"/><path class="k160" d="M329.6 192.9l5.3-12.6 3.8-.8-5.3 12.7z"/><path class="k110" d="M324.2 202.8l5.4-9.9 3.8-.7-5.4 10z"/><path class="k108" d="M318.9 210.5l5.3-7.7 3.8-.6-5.4 7.7z"/><path class="k59" d="M313.5 216.2l5.4-5.7 3.7-.6-5.3 5.8z"/><path class="k10" d="M297.5 223.7l5.3-1.2 5.4-2.4 5.3-3.9 3.8-.5-5.4 3.9-5.3 2.5-5.4 1.3z"/><path class="k11" d="M286.8 223.2l5.3 .7 5.4-.2 3.7-.3-5.3 .2-5.4-.6z"/><path class="k12" d="M281.4 222l5.4 1.2 3.7-.2-5.3-1.2z"/><path class="k13" d="M276.1 220.3l5.3 1.7 3.8-.2-5.4-1.6z"/><path class="k14" d="M270.7 218.4l5.4 1.9 3.7-.1-5.3-1.8z"/><path class="k16" d="M265.3 216.3l5.4 2.1 3.8 0-5.4-2z"/><path class="k17" d="M260 214.3l5.3 2 3.8 .1-5.3-2z"/><path class="k18" d="M254.6 212.4l5.4 1.9 3.8 .1-5.4-1.8z"/><path class="k19" d="M249.3 210.7l5.3 1.7 3.8 .2-5.4-1.6z"/><path class="k20" d="M243.9 209.4l5.4 1.3 3.7 .3-5.3-1.3z"/><path class="k21" d="M238.6 208.5l5.3 .9 3.8 .3-5.4-.8z"/><path class="k22" d="M227.9 208l5.3 0 5.4 .5 3.7 .4-5.3-.4-5.4 0z"/><path class="k23" d="M217.2 209.6l5.3-1.1 5.4-.5 3.7 .5-5.3 .6-5.4 1.1z"/><path class="k24" d="M201.1 215.7l5.4-2.5 5.3-2.1 5.4-1.5 3.7 .6-5.3 1.6-5.4 2.2-5.3 2.5z"/><path class="k72" d="M185 225.2l5.4-3.4 5.3-3.2 5.4-2.9 3.8 .8-5.4 3-5.4 3.3-5.3 3.5z"/><path class="k119" d="M169 236l5.3-3.5 5.4-3.7 5.3-3.6 3.8 1.1-5.4 3.7-5.3 3.6-5.4 3.6z"/><path class="k118" d="M163.6 239.2l5.4-3.2 3.7 1.2-5.3 3.3z"/><path class="k70" d="M152.9 244.2l5.4-2.2 5.3-2.8 3.8 1.3-5.4 2.9-5.3 2.2z"/><path class="k22" d="M147.6 245.6l5.3-1.4 3.8 1.4-5.4 1.5z"/><path class="k23" d="M142.2 246l5.4-.4 3.7 1.5-5.3 .5z"/><path class="k24" d="M136.9 245.1l5.3 .9 3.8 1.6-5.4-.8z"/><path class="k25" d="M131.5 242.8l5.4 2.3 3.7 1.7-5.3-2.3z"/><path class="k26" d="M126.2 238.7l5.3 4.1 3.8 1.7-5.4-4z"/><path class="k28" d="M120.8 232.6l5.4 6.1 3.7 1.8-5.4-6.1z"/><path class="k31" d="M115.4 224.2l5.4 8.4 3.7 1.8-5.3-8.3z"/><path class="k34" d="M110.1 213.1l5.3 11.1 3.8 1.9-5.4-11z"/><path class="k38" d="M104.7 199.2l5.4 13.9 3.7 2-5.3-13.9z"/><path class="k163" d="M338.7 179.5l5.4-15.6 3.7-.4-5.3 15.7z"/><path class="k160" d="M333.4 192.2l5.3-12.7 3.8-.3-5.4 12.7z"/><path class="k158" d="M328 202.2l5.4-10 3.7-.3-5.3 10.1z"/><path class="k108" d="M322.6 209.9l5.4-7.7 3.8-.2-5.4 7.8z"/><path class="k59" d="M317.3 215.7l5.3-5.8 3.8-.1-5.3 5.8z"/><path class="k11" d="M311.9 219.6l5.4-3.9 3.8-.1-5.4 4z"/><path class="k10" d="M306.6 222.1l5.3-2.5 3.8 0-5.4 2.6z"/><path class="k11" d="M295.9 223.6l5.3-.2 5.4-1.3 3.7 .1-5.3 1.3-5.4 .3z"/><path class="k12" d="M290.5 223l5.4 .6 3.7 .2-5.3-.5z"/><path class="k13" d="M285.2 221.8l5.3 1.2 3.8 .3-5.4-1.1z"/><path class="k14" d="M279.8 220.2l5.4 1.6 3.7 .4-5.3-1.6z"/><path class="k15" d="M274.5 218.4l5.3 1.8 3.8 .4-5.4-1.8z"/><path class="k16" d="M269.1 216.4l5.4 2 3.7 .4-5.3-1.9z"/><path class="k17" d="M263.8 214.4l5.3 2 3.8 .5-5.4-1.9z"/><path class="k18" d="M258.4 212.6l5.4 1.8 3.7 .6-5.3-1.8z"/><path class="k19" d="M253 211l5.4 1.6 3.8 .6-5.4-1.5z"/><path class="k20" d="M247.7 209.7l5.3 1.3 3.8 .7-5.4-1.2z"/><path class="k21" d="M242.3 208.9l5.4 .8 3.7 .8-5.3-.8z"/><path class="k22" d="M237 208.5l5.3 .4 3.8 .8-5.4-.3z"/><path class="k23" d="M226.3 209.1l5.3-.6 5.4 0 3.7 .9-5.3 .1-5.4 .7z"/><path class="k24" d="M210.2 214l5.4-2.2 5.3-1.6 5.4-1.1 3.7 1.1-5.3 1.1-5.4 1.7-5.3 2.2z"/><path class="k72" d="M199.5 219.5l5.4-3 5.3-2.5 3.8 1.2-5.4 2.6-5.3 3.1z"/><path class="k120" d="M188.8 226.3l5.3-3.5 5.4-3.3 3.8 1.4-5.4 3.3-5.4 3.6z"/><path class="k119" d="M172.7 237.2l5.4-3.6 5.3-3.6 5.4-3.7 3.7 1.5-5.3 3.7-5.4 3.8-5.3 3.6z"/><path class="k118" d="M162 243.4l5.4-2.9 5.3-3.3 3.8 1.7-5.4 3.4-5.3 2.9z"/><path class="k70" d="M151.3 247.1l5.4-1.5 5.3-2.2 3.8 1.8-5.4 2.3-5.3 1.6z"/><path class="k23" d="M140.6 246.8l5.4 .8 5.3-.5 3.8 2-5.4 .5-5.3-.7z"/><path class="k24" d="M135.3 244.5l5.3 2.3 3.8 2.1-5.4-2.2z"/><path class="k26" d="M129.9 240.5l5.4 4 3.7 2.2-5.4-4z"/><path class="k28" d="M124.5 234.4l5.4 6.1 3.7 2.2-5.3-6z"/><path class="k30" d="M119.2 226.1l5.3 8.3 3.8 2.3-5.4-8.3z"/><path class="k33" d="M113.8 215.1l5.4 11 3.7 2.3-5.3-10.9z"/><path class="k37" d="M108.5 201.2l5.3 13.9 3.8 2.4-5.4-13.8z"/><path class="k164" d="M342.5 179.2l5.3-15.7 3.8 .1-5.4 15.7z"/><path class="k161" d="M337.1 191.9l5.4-12.7 3.7 .1-5.3 12.8z"/><path class="k158" d="M331.8 202l5.3-10.1 3.8 .2-5.4 10.2z"/><path class="k109" d="M326.4 209.8l5.4-7.8 3.7 .3-5.3 7.9z"/><path class="k108" d="M321.1 215.6l5.3-5.8 3.8 .4-5.4 5.8z"/><path class="k59" d="M315.7 219.6l5.4-4 3.7 .4-5.3 4.1z"/><path class="k11" d="M299.6 223.8l5.4-.3 5.3-1.3 5.4-2.6 3.8 .5-5.4 2.6-5.3 1.4-5.4 .4z"/><path class="k12" d="M294.3 223.3l5.3 .5 3.8 .7-5.4-.5z"/><path class="k13" d="M288.9 222.2l5.4 1.1 3.7 .7-5.3-1z"/><path class="k14" d="M283.6 220.6l5.3 1.6 3.8 .8-5.4-1.5z"/><path class="k15" d="M278.2 218.8l5.4 1.8 3.7 .9-5.3-1.7z"/><path class="k16" d="M272.9 216.9l5.3 1.9 3.8 1-5.4-1.9z"/><path class="k17" d="M267.5 215l5.4 1.9 3.7 1-5.3-1.8z"/><path class="k18" d="M262.2 213.2l5.3 1.8 3.8 1.1-5.4-1.7z"/><path class="k19" d="M256.8 211.7l5.4 1.5 3.7 1.2-5.3-1.5z"/><path class="k20" d="M251.4 210.5l5.4 1.2 3.8 1.2-5.4-1.1z"/><path class="k21" d="M246.1 209.7l5.3 .8 3.8 1.3-5.3-.7z"/><path class="k22" d="M240.7 209.4l5.4 .3 3.8 1.4-5.4-.3z"/><path class="k23" d="M230 210.2l5.4-.7 5.3-.1 3.8 1.4-5.4 .2-5.3 .7z"/><path class="k24" d="M224.7 211.3l5.3-1.1 3.8 1.5-5.4 1.2z"/><path class="k72" d="M214 215.2l5.3-2.2 5.4-1.7 3.7 1.6-5.3 1.8-5.4 2.2z"/><path class="k120" d="M197.9 224.2l5.4-3.3 5.3-3.1 5.4-2.6 3.7 1.7-5.3 2.7-5.4 3.1-5.3 3.4z"/><path class="k119" d="M181.8 235.3l5.4-3.8 5.3-3.7 5.4-3.6 3.8 1.9-5.4 3.7-5.4 3.8-5.3 3.8z"/><path class="k118" d="M155.1 249.1l5.3-1.6 5.4-2.3 5.3-2.9 5.4-3.4 5.3-3.6 3.8 2.1-5.4 3.7-5.3 3.4-5.4 3-5.3 2.4-5.4 1.6z"/><path class="k70" d="M149.7 249.6l5.4-.5 3.7 2.4-5.3 .6z"/><path class="k23" d="M144.4 248.9l5.3 .7 3.8 2.5-5.4-.7z"/><path class="k24" d="M139 246.7l5.4 2.2 3.7 2.5-5.4-2.1z"/><path class="k26" d="M133.6 242.7l5.4 4 3.7 2.6-5.3-3.9z"/><path class="k27" d="M128.3 236.7l5.3 6 3.8 2.7-5.4-5.9z"/><path class="k30" d="M122.9 228.4l5.4 8.3 3.7 2.8-5.3-8.2z"/><path class="k33" d="M117.6 217.5l5.3 10.9 3.8 2.9-5.4-10.9z"/><path class="k37" d="M112.2 203.7l5.4 13.8 3.7 2.9-5.3-13.7z"/><path class="k164" d="M346.2 179.3l5.4-15.7 3.8 .6-5.4 15.8z"/><path class="k161" d="M340.9 192.1l5.3-12.8 3.8 .7-5.3 12.9z"/><path class="k159" d="M335.5 202.3l5.4-10.2 3.8 .8-5.4 10.2z"/><path class="k157" d="M330.2 210.2l5.3-7.9 3.8 .8-5.4 7.9z"/><path class="k108" d="M324.8 216l5.4-5.8 3.7 .8-5.3 6z"/><path class="k107" d="M319.5 220.1l5.3-4.1 3.8 1-5.4 4.1z"/><path class="k59" d="M314.1 222.7l5.4-2.6 3.7 1-5.3 2.7z"/><path class="k11" d="M303.4 224.5l5.4-.4 5.3-1.4 3.8 1.1-5.4 1.5-5.3 .4z"/><path class="k12" d="M298 224l5.4 .5 3.8 1.2-5.4-.4z"/><path class="k13" d="M292.7 223l5.3 1 3.8 1.3-5.3-1z"/><path class="k14" d="M287.3 221.5l5.4 1.5 3.8 1.3-5.4-1.4z"/><path class="k15" d="M282 219.8l5.3 1.7 3.8 1.4-5.4-1.7z"/><path class="k16" d="M276.6 217.9l5.4 1.9 3.7 1.4-5.3-1.8z"/><path class="k17" d="M271.3 216.1l5.3 1.8 3.8 1.5-5.4-1.7z"/><path class="k18" d="M265.9 214.4l5.4 1.7 3.7 1.6-5.3-1.7z"/><path class="k19" d="M260.6 212.9l5.3 1.5 3.8 1.6-5.4-1.3z"/><path class="k20" d="M255.2 211.8l5.4 1.1 3.7 1.8-5.3-1.1z"/><path class="k21" d="M249.9 211.1l5.3 .7 3.8 1.8-5.4-.7z"/><path class="k22" d="M239.1 211l5.4-.2 5.4 .3 3.7 1.8-5.3-.2-5.4 .3z"/><path class="k23" d="M233.8 211.7l5.3-.7 3.8 2-5.4 .8z"/><path class="k71" d="M228.4 212.9l5.4-1.2 3.7 2.1-5.3 1.3z"/><path class="k72" d="M223.1 214.7l5.3-1.8 3.8 2.2-5.4 1.8z"/><path class="k120" d="M207 222.7l5.4-3.1 5.3-2.7 5.4-2.2 3.7 2.2-5.3 2.3-5.4 2.7-5.3 3.2z"/><path class="k119" d="M201.7 226.1l5.3-3.4 3.8 2.4-5.4 3.5z"/><path class="k167" d="M190.9 233.6l5.4-3.8 5.4-3.7 3.7 2.5-5.3 3.7-5.4 3.9z"/><path class="k166" d="M169.5 247.5l5.4-3 5.3-3.4 5.4-3.7 5.3-3.8 3.8 2.6-5.4 3.8-5.3 3.8-5.4 3.5-5.3 3.1z"/><path class="k118" d="M158.8 251.5l5.4-1.6 5.3-2.4 3.8 2.9-5.4 2.4-5.3 1.7z"/><path class="k70" d="M153.5 252.1l5.3-.6 3.8 3-5.4 .6z"/><path class="k23" d="M148.1 251.4l5.4 .7 3.7 3-5.4-.6z"/><path class="k24" d="M142.7 249.3l5.4 2.1 3.7 3.1-5.3-2z"/><path class="k25" d="M137.4 245.4l5.3 3.9 3.8 3.2-5.4-3.9z"/><path class="k27" d="M132 239.5l5.4 5.9 3.7 3.2-5.3-5.8z"/><path class="k29" d="M126.7 231.3l5.3 8.2 3.8 3.3-5.4-8.2z"/><path class="k33" d="M121.3 220.4l5.4 10.9 3.7 3.3-5.3-10.7z"/><path class="k36" d="M116 206.7l5.3 13.7 3.8 3.5-5.4-13.7z"/><path class="k164" d="M350 180l5.4-15.8 3.7 1.1-5.3 15.9z"/><path class="k161" d="M344.7 192.9l5.3-12.9 3.8 1.2-5.4 12.9z"/><path class="k159" d="M339.3 203.1l5.4-10.2 3.7 1.2-5.3 10.3z"/><path class="k157" d="M333.9 211l5.4-7.9 3.8 1.3-5.4 8z"/><path class="k156" d="M328.6 217l5.3-6 3.8 1.4-5.3 6z"/><path class="k107" d="M323.2 221.1l5.4-4.1 3.8 1.4-5.4 4.2z"/><path class="k59" d="M317.9 223.8l5.3-2.7 3.8 1.5-5.4 2.8z"/><path class="k11" d="M307.2 225.7l5.3-.4 5.4-1.5 3.7 1.6-5.3 1.5-5.4 .5z"/><path class="k12" d="M301.8 225.3l5.4 .4 3.7 1.7-5.3-.3z"/><path class="k13" d="M296.5 224.3l5.3 1 3.8 1.8-5.4-.9z"/><path class="k14" d="M291.1 222.9l5.4 1.4 3.7 1.9-5.3-1.4z"/><path class="k15" d="M285.7 221.2l5.4 1.7 3.8 1.9-5.4-1.6z"/><path class="k16" d="M280.4 219.4l5.3 1.8 3.8 2-5.4-1.7z"/><path class="k17" d="M275 217.7l5.4 1.7 3.7 2.1-5.3-1.7z"/><path class="k18" d="M269.7 216l5.3 1.7 3.8 2.1-5.4-1.6z"/><path class="k19" d="M264.3 214.7l5.4 1.3 3.7 2.2-5.3-1.3z"/><path class="k20" d="M259 213.6l5.3 1.1 3.8 2.2-5.4-1z"/><path class="k21" d="M253.6 212.9l5.4 .7 3.7 2.3-5.3-.6z"/><path class="k22" d="M242.9 213l5.4-.3 5.3 .2 3.8 2.4-5.4-.2-5.3 .4z"/><path class="k71" d="M237.5 213.8l5.4-.8 3.8 2.5-5.4 .8z"/><path class="k119" d="M216.1 221.9l5.4-2.7 5.3-2.3 5.4-1.8 5.3-1.3 3.8 2.5-5.4 1.4-5.3 1.9-5.4 2.3-5.3 2.9z"/><path class="k167" d="M200.1 232.3l5.3-3.7 5.4-3.5 5.3-3.2 3.8 2.9-5.4 3.2-5.3 3.5-5.4 3.8z"/><path class="k166" d="M184 243.8l5.3-3.8 5.4-3.8 5.4-3.9 3.7 3-5.4 3.9-5.3 4-5.4 3.8z"/><path class="k165" d="M167.9 252.8l5.4-2.4 5.3-3.1 5.4-3.5 3.7 3.2-5.3 3.6-5.4 3.1-5.3 2.5z"/><path class="k117" d="M157.2 255.1l5.4-.6 5.3-1.7 3.8 3.4-5.4 1.8-5.3 .7z"/><path class="k70" d="M151.8 254.5l5.4 .6 3.8 3.6-5.4-.5z"/><path class="k23" d="M146.5 252.5l5.3 2 3.8 3.7-5.4-2.1z"/><path class="k25" d="M141.1 248.6l5.4 3.9 3.7 3.6-5.3-3.7z"/><path class="k26" d="M135.8 242.8l5.3 5.8 3.8 3.8-5.4-5.8z"/><path class="k29" d="M130.4 234.6l5.4 8.2 3.7 3.8-5.3-8.1z"/><path class="k32" d="M125.1 223.9l5.3 10.7 3.8 3.9-5.4-10.7z"/><path class="k36" d="M119.7 210.2l5.4 13.7 3.7 3.9-5.3-13.6z"/><path class="k164" d="M353.8 181.2l5.3-15.9 3.8 1.7-5.3 15.9z"/><path class="k161" d="M348.4 194.1l5.4-12.9 3.8 1.7-5.4 13z"/><path class="k158" d="M343.1 204.4l5.3-10.3 3.8 1.8-5.4 10.3z"/><path class="k157" d="M337.7 212.4l5.4-8 3.7 1.8-5.3 8.1z"/><path class="k156" d="M332.4 218.4l5.3-6 3.8 1.9-5.4 6.1z"/><path class="k155" d="M327 222.6l5.4-4.2 3.7 2-5.3 4.3z"/><path class="k107" d="M321.6 225.4l5.4-2.8 3.8 2.1-5.4 2.8z"/><path class="k59" d="M316.3 226.9l5.3-1.5 3.8 2.1-5.3 1.5z"/><path class="k11" d="M310.9 227.4l5.4-.5 3.8 2.1-5.4 .6z"/><path class="k12" d="M300.2 226.2l5.4 .9 5.3 .3 3.8 2.2-5.4-.2-5.3-.9z"/><path class="k13" d="M294.9 224.8l5.3 1.4 3.8 2.3-5.4-1.3z"/><path class="k14" d="M289.5 223.2l5.4 1.6 3.7 2.4-5.3-1.5z"/><path class="k15" d="M284.1 221.5l5.4 1.7 3.8 2.5-5.4-1.7z"/><path class="k17" d="M278.8 219.8l5.3 1.7 3.8 2.5-5.3-1.6z"/><path class="k18" d="M273.4 218.2l5.4 1.6 3.8 2.6-5.4-1.5z"/><path class="k19" d="M268.1 216.9l5.3 1.3 3.8 2.7-5.4-1.3z"/><path class="k20" d="M257.4 215.3l5.3 .6 5.4 1 3.7 2.7-5.3-.9-5.4-.6z"/><path class="k21" d="M252 215.1l5.4 .2 3.7 2.8-5.3 0z"/><path class="k70" d="M246.7 215.5l5.3-.4 3.8 3-5.4 .4z"/><path class="k118" d="M241.3 216.3l5.4-.8 3.7 3-5.3 .9z"/><path class="k119" d="M230.6 219.6l5.3-1.9 5.4-1.4 3.8 3.1-5.4 1.4-5.4 2z"/><path class="k167" d="M209.2 231.5l5.3-3.5 5.4-3.2 5.3-2.9 5.4-2.3 3.7 3.2-5.3 2.4-5.4 2.9-5.3 3.3-5.4 3.6z"/><path class="k166" d="M198.4 239.2l5.4-3.9 5.4-3.8 3.7 3.5-5.3 3.8-5.4 4z"/><path class="k165" d="M177 253.7l5.4-3.1 5.3-3.6 5.4-3.8 5.3-4 3.8 3.6-5.4 4-5.3 3.9-5.4 3.7-5.3 3.2z"/><path class="k164" d="M166.3 258l5.4-1.8 5.3-2.5 3.8 3.9-5.4 2.6-5.3 1.7z"/><path class="k117" d="M161 258.7l5.3-.7 3.8 3.9-5.4 .8z"/><path class="k69" d="M155.6 258.2l5.4 .5 3.7 4-5.4-.4z"/><path class="k22" d="M150.2 256.1l5.4 2.1 3.7 4.1-5.3-2z"/><path class="k24" d="M144.9 252.4l5.3 3.7 3.8 4.2-5.4-3.7z"/><path class="k26" d="M139.5 246.6l5.4 5.8 3.7 4.2-5.3-5.7z"/><path class="k28" d="M134.2 238.5l5.3 8.1 3.8 4.3-5.4-8z"/><path class="k31" d="M128.8 227.8l5.4 10.7 3.7 4.4-5.3-10.7z"/><path class="k35" d="M123.5 214.2l5.3 13.6 3.8 4.4-5.4-13.5z"/><path class="k164" d="M357.6 182.9l5.3-15.9 3.8 2.1-5.4 15.9z"/><path class="k161" d="M352.2 195.9l5.4-13 3.7 2.1-5.3 13.1z"/><path class="k158" d="M346.8 206.2l5.4-10.3 3.8 2.2-5.4 10.4z"/><path class="k157" d="M341.5 214.3l5.3-8.1 3.8 2.3-5.4 8.2z"/><path class="k155" d="M330.8 224.7l5.3-4.3 5.4-6.1 3.7 2.4-5.3 6.1-5.4 4.3z"/><path class="k106" d="M320.1 229l5.3-1.5 5.4-2.8 3.7 2.4-5.3 2.9-5.4 1.7z"/><path class="k59" d="M314.7 229.6l5.4-.6 3.7 2.7-5.3 .6z"/><path class="k11" d="M309.3 229.4l5.4 .2 3.8 2.7-5.4-.2z"/><path class="k12" d="M304 228.5l5.3 .9 3.8 2.7-5.4-.8z"/><path class="k13" d="M298.6 227.2l5.4 1.3 3.7 2.8-5.3-1.2z"/><path class="k14" d="M293.3 225.7l5.3 1.5 3.8 2.9-5.4-1.5z"/><path class="k15" d="M287.9 224l5.4 1.7 3.7 2.9-5.3-1.6z"/><path class="k16" d="M282.6 222.4l5.3 1.6 3.8 3-5.4-1.5z"/><path class="k17" d="M277.2 220.9l5.4 1.5 3.7 3.1-5.3-1.5z"/><path class="k18" d="M271.8 219.6l5.4 1.3 3.8 3.1-5.4-1.2z"/><path class="k19" d="M266.5 218.7l5.3 .9 3.8 3.2-5.4-.8z"/><path class="k20" d="M261.1 218.1l5.4 .6 3.7 3.3-5.3-.5z"/><path class="k69" d="M255.8 218.1l5.3 0 3.8 3.4-5.4 0z"/><path class="k117" d="M250.4 218.5l5.4-.4 3.7 3.4-5.3 .4z"/><path class="k118" d="M239.7 220.8l5.4-1.4 5.3-.9 3.8 3.4-5.4 1-5.3 1.5z"/><path class="k166" d="M207.6 238.8l5.3-3.8 5.4-3.6 5.3-3.3 5.4-2.9 5.3-2.4 5.4-2 3.8 3.6-5.4 2-5.4 2.5-5.3 3-5.4 3.3-5.3 3.7-5.4 3.9z"/><path class="k165" d="M196.8 246.8l5.4-4 5.4-4 3.7 4-5.4 4.1-5.3 4z"/><path class="k164" d="M164.7 262.7l5.4-.8 5.3-1.7 5.4-2.6 5.3-3.2 5.4-3.7 5.3-3.9 3.8 4.1-5.4 4-5.3 3.7-5.4 3.3-5.3 2.6-5.4 1.9-5.4 .8z"/><path class="k117" d="M159.3 262.3l5.4 .4 3.7 4.5-5.3-.4z"/><path class="k22" d="M154 260.3l5.3 2 3.8 4.5-5.4-1.9z"/><path class="k23" d="M148.6 256.6l5.4 3.7 3.7 4.6-5.3-3.6z"/><path class="k25" d="M143.3 250.9l5.3 5.7 3.8 4.7-5.4-5.6z"/><path class="k27" d="M137.9 242.9l5.4 8 3.7 4.8-5.3-8z"/><path class="k30" d="M132.6 232.2l5.3 10.7 3.8 4.8-5.4-10.6z"/><path class="k34" d="M127.2 218.7l5.4 13.5 3.7 4.9-5.4-13.5z"/><path class="k164" d="M361.3 185l5.4-15.9 3.7 2.5-5.3 16z"/><path class="k160" d="M356 198.1l5.3-13.1 3.8 2.6-5.4 13.1z"/><path class="k158" d="M350.6 208.5l5.4-10.4 3.7 2.6-5.3 10.6z"/><path class="k156" d="M345.2 216.7l5.4-8.2 3.8 2.8-5.4 8.1z"/><path class="k155" d="M339.9 222.8l5.3-6.1 3.8 2.7-5.3 6.2z"/><path class="k154" d="M329.2 230l5.3-2.9 5.4-4.3 3.8 2.8-5.4 4.5-5.4 2.9z"/><path class="k106" d="M323.8 231.7l5.4-1.7 3.7 3-5.3 1.7z"/><path class="k58" d="M318.5 232.3l5.3-.6 3.8 3-5.4 .7z"/><path class="k59" d="M313.1 232.1l5.4 .2 3.7 3.1-5.3-.1z"/><path class="k12" d="M307.7 231.3l5.4 .8 3.8 3.2-5.4-.7z"/><path class="k13" d="M302.4 230.1l5.3 1.2 3.8 3.3-5.4-1.2z"/><path class="k14" d="M297 228.6l5.4 1.5 3.7 3.3-5.3-1.4z"/><path class="k15" d="M291.7 227l5.3 1.6 3.8 3.4-5.4-1.5z"/><path class="k16" d="M286.3 225.5l5.4 1.5 3.7 3.5-5.3-1.5z"/><path class="k17" d="M281 224l5.3 1.5 3.8 3.5-5.4-1.4z"/><path class="k18" d="M275.6 222.8l5.4 1.2 3.7 3.6-5.3-1.1z"/><path class="k67" d="M264.9 221.5l5.3 .5 5.4 .8 3.8 3.7-5.4-.9-5.4-.4z"/><path class="k116" d="M259.5 221.5l5.4 0 3.7 3.7-5.3 .1z"/><path class="k117" d="M248.8 222.9l5.4-1 5.3-.4 3.8 3.8-5.4 .5-5.3 1.1z"/><path class="k165" d="M243.5 224.4l5.3-1.5 3.8 4-5.4 1.5z"/><path class="k166" d="M227.4 231.9l5.3-3 5.4-2.5 5.4-2 3.7 4-5.4 2.1-5.3 2.6-5.4 3z"/><path class="k165" d="M211.3 242.8l5.4-3.9 5.3-3.7 5.4-3.3 3.7 4.2-5.3 3.4-5.4 3.8-5.3 3.9z"/><path class="k164" d="M195.2 254.9l5.4-4 5.3-4 5.4-4.1 3.8 4.4-5.4 4.2-5.4 4.1-5.3 4z"/><path class="k163" d="M168.4 267.2l5.4-.8 5.4-1.9 5.3-2.6 5.4-3.3 5.3-3.7 3.8 4.6-5.4 3.8-5.3 3.3-5.4 2.7-5.4 2-5.3 .9z"/><path class="k116" d="M163.1 266.8l5.3 .4 3.8 5-5.4-.4z"/><path class="k69" d="M157.7 264.9l5.4 1.9 3.7 5-5.3-1.8z"/><path class="k22" d="M152.4 261.3l5.3 3.6 3.8 5.1-5.4-3.6z"/><path class="k24" d="M147 255.7l5.4 5.6 3.7 5.1-5.3-5.5z"/><path class="k26" d="M141.7 247.7l5.3 8 3.8 5.2-5.4-7.9z"/><path class="k29" d="M136.3 237.1l5.4 10.6 3.7 5.3-5.4-10.5z"/><path class="k33" d="M130.9 223.6l5.4 13.5 3.7 5.4-5.3-13.5z"/><path class="k163" d="M365.1 187.6l5.3-16 3.8 2.9-5.3 16.1z"/><path class="k160" d="M359.7 200.7l5.4-13.1 3.8 3-5.4 13.2z"/><path class="k158" d="M354.4 211.3l5.3-10.6 3.8 3.1-5.4 10.5z"/><path class="k156" d="M349 219.4l5.4-8.1 3.7 3-5.3 8.3z"/><path class="k154" d="M338.3 230.1l5.4-4.5 5.3-6.2 3.8 3.2-5.4 6.3-5.3 4.4z"/><path class="k153" d="M332.9 233l5.4-2.9 3.8 3.2-5.4 3.1z"/><path class="k105" d="M327.6 234.7l5.3-1.7 3.8 3.4-5.4 1.7z"/><path class="k106" d="M322.2 235.4l5.4-.7 3.7 3.4-5.3 .8z"/><path class="k58" d="M316.9 235.3l5.3 .1 3.8 3.5-5.4-.1z"/><path class="k59" d="M311.5 234.6l5.4 .7 3.7 3.5-5.3-.6z"/><path class="k12" d="M306.1 233.4l5.4 1.2 3.8 3.6-5.4-1.1z"/><path class="k13" d="M300.8 232l5.3 1.4 3.8 3.7-5.3-1.4z"/><path class="k14" d="M295.4 230.5l5.4 1.5 3.8 3.7-5.4-1.4z"/><path class="k15" d="M290.1 229l5.3 1.5 3.8 3.8-5.4-1.5z"/><path class="k16" d="M284.7 227.6l5.4 1.4 3.7 3.8-5.3-1.3z"/><path class="k65" d="M279.4 226.5l5.3 1.1 3.8 3.9-5.4-1z"/><path class="k66" d="M274 225.6l5.4 .9 3.7 4-5.3-.8z"/><path class="k115" d="M263.3 225.3l5.3-.1 5.4 .4 3.8 4.1-5.4-.3-5.4 .1z"/><path class="k116" d="M257.9 225.8l5.4-.5 3.7 4.2-5.3 .6z"/><path class="k164" d="M252.6 226.9l5.3-1.1 3.8 4.3-5.4 1.1z"/><path class="k165" d="M225.8 239.5l5.3-3.4 5.4-3 5.3-2.6 5.4-2.1 5.4-1.5 3.7 4.3-5.3 1.6-5.4 2.2-5.4 2.6-5.3 3.1-5.4 3.5z"/><path class="k164" d="M215.1 247.2l5.3-3.9 5.4-3.8 3.7 4.7-5.3 3.8-5.4 4z"/><path class="k163" d="M199 259.5l5.3-4 5.4-4.1 5.4-4.2 3.7 4.8-5.3 4.2-5.4 4.2-5.4 4.1z"/><path class="k162" d="M172.2 272.2l5.3-.9 5.4-2 5.4-2.7 5.3-3.3 5.4-3.8 3.7 5-5.3 3.8-5.4 3.4-5.3 2.8-5.4 2-5.4 1z"/><path class="k115" d="M166.8 271.8l5.4 .4 3.7 5.3-5.3-.3z"/><path class="k68" d="M161.5 270l5.3 1.8 3.8 5.4-5.4-1.7z"/><path class="k21" d="M156.1 266.4l5.4 3.6 3.7 5.5-5.3-3.5z"/><path class="k23" d="M150.8 260.9l5.3 5.5 3.8 5.6-5.4-5.6z"/><path class="k25" d="M145.4 253l5.4 7.9 3.7 5.5-5.4-7.8z"/><path class="k28" d="M140 242.5l5.4 10.5 3.7 5.6-5.3-10.4z"/><path class="k32" d="M134.7 229l5.3 13.5 3.8 5.7-5.4-13.4z"/><path class="k163" d="M368.9 190.6l5.3-16.1 3.8 3.2-5.4 16.2z"/><path class="k159" d="M363.5 203.8l5.4-13.2 3.7 3.3-5.3 13.2z"/><path class="k157" d="M358.1 214.3l5.4-10.5 3.8 3.3-5.4 10.7z"/><path class="k155" d="M352.8 222.6l5.3-8.3 3.8 3.5-5.3 8.3z"/><path class="k154" d="M347.4 228.9l5.4-6.3 3.8 3.5-5.4 6.3z"/><path class="k153" d="M331.3 238.1l5.4-1.7 5.4-3.1 5.3-4.4 3.8 3.5-5.4 4.6-5.3 3-5.4 1.9z"/><path class="k105" d="M326 238.9l5.3-.8 3.8 3.8-5.3 .8z"/><path class="k106" d="M320.6 238.8l5.4 .1 3.8 3.8-5.4 0z"/><path class="k58" d="M315.3 238.2l5.3 .6 3.8 3.9-5.4-.6z"/><path class="k59" d="M309.9 237.1l5.4 1.1 3.7 3.9-5.3-1z"/><path class="k12" d="M304.6 235.7l5.3 1.4 3.8 4-5.4-1.3z"/><path class="k13" d="M299.2 234.3l5.4 1.4 3.7 4.1-5.3-1.4z"/><path class="k62" d="M293.8 232.8l5.4 1.5 3.8 4.1-5.4-1.4z"/><path class="k63" d="M288.5 231.5l5.3 1.3 3.8 4.2-5.4-1.2z"/><path class="k64" d="M283.1 230.5l5.4 1 3.7 4.3-5.3-1z"/><path class="k65" d="M277.8 229.7l5.3 .8 3.8 4.3-5.4-.7z"/><path class="k114" d="M272.4 229.4l5.4 .3 3.7 4.4-5.3-.2z"/><path class="k115" d="M261.7 230.1l5.3-.6 5.4-.1 3.8 4.5-5.4 .1-5.4 .7z"/><path class="k163" d="M256.3 231.2l5.4-1.1 3.7 4.6-5.3 1.2z"/><path class="k164" d="M229.5 244.2l5.4-3.5 5.3-3.1 5.4-2.6 5.4-2.2 5.3-1.6 3.8 4.7-5.4 1.7-5.3 2.2-5.4 2.7-5.4 3.1-5.3 3.6z"/><path class="k163" d="M218.8 252l5.4-4 5.3-3.8 3.8 5-5.4 3.8-5.3 4.2z"/><path class="k162" d="M202.7 264.5l5.4-4.1 5.4-4.2 5.3-4.2 3.8 5.2-5.4 4.2-5.4 4.3-5.3 4.1z"/><path class="k161" d="M175.9 277.5l5.4-1 5.4-2 5.3-2.8 5.4-3.4 5.3-3.8 3.8 5.3-5.4 3.9-5.3 3.5-5.4 2.8-5.4 2.1-5.3 1z"/><path class="k162" d="M170.6 277.2l5.3 .3 3.8 5.6-5.4-.2z"/><path class="k114" d="M165.2 275.5l5.4 1.7 3.7 5.7-5.3-1.7z"/><path class="k20" d="M159.9 272l5.3 3.5 3.8 5.7-5.4-3.4z"/><path class="k22" d="M154.5 266.4l5.4 5.6 3.7 5.8-5.4-5.5z"/><path class="k24" d="M149.1 258.6l5.4 7.8 3.7 5.9-5.3-7.7z"/><path class="k27" d="M143.8 248.2l5.3 10.4 3.8 6-5.4-10.4z"/><path class="k31" d="M138.4 234.8l5.4 13.4 3.7 6-5.3-13.3z"/><path class="k162" d="M372.6 193.9l5.4-16.2 3.8 3.5-5.4 16.2z"/><path class="k159" d="M367.3 207.1l5.3-13.2 3.8 3.5-5.4 13.4z"/><path class="k156" d="M361.9 217.8l5.4-10.7 3.7 3.7-5.3 10.7z"/><path class="k155" d="M356.6 226.1l5.3-8.3 3.8 3.7-5.4 8.4z"/><path class="k153" d="M351.2 232.4l5.4-6.3 3.7 3.8-5.3 6.3z"/><path class="k152" d="M335.1 241.9l5.4-1.9 5.3-3 5.4-4.6 3.8 3.8-5.4 4.7-5.4 3.1-5.3 1.9z"/><path class="k104" d="M329.8 242.7l5.3-.8 3.8 4-5.4 .9z"/><path class="k105" d="M324.4 242.7l5.4 0 3.7 4.1-5.3 .1z"/><path class="k58" d="M319 242.1l5.4 .6 3.8 4.2-5.4-.6z"/><path class="k59" d="M308.3 239.8l5.4 1.3 5.3 1 3.8 4.2-5.4-.9-5.3-1.2z"/><path class="k60" d="M303 238.4l5.3 1.4 3.8 4.4-5.4-1.4z"/><path class="k61" d="M297.6 237l5.4 1.4 3.7 4.4-5.3-1.3z"/><path class="k62" d="M292.2 235.8l5.4 1.2 3.8 4.5-5.4-1.2z"/><path class="k63" d="M286.9 234.8l5.3 1 3.8 4.5-5.4-.9z"/><path class="k112" d="M281.5 234.1l5.4 .7 3.7 4.6-5.3-.6z"/><path class="k113" d="M276.2 233.9l5.3 .2 3.8 4.7-5.4-.2z"/><path class="k114" d="M270.8 234l5.4-.1 3.7 4.7-5.3 .2z"/><path class="k162" d="M265.4 234.7l5.4-.7 3.8 4.8-5.4 .7z"/><path class="k163" d="M233.3 249.2l5.3-3.6 5.4-3.1 5.4-2.7 5.3-2.2 5.4-1.7 5.3-1.2 3.8 4.8-5.4 1.3-5.3 1.8-5.4 2.2-5.3 2.8-5.4 3.2-5.4 3.6z"/><path class="k162" d="M222.6 257.2l5.3-4.2 5.4-3.8 3.7 5.2-5.3 4-5.4 4.1z"/><path class="k161" d="M211.8 265.7l5.4-4.3 5.4-4.2 3.7 5.3-5.3 4.4-5.4 4.3z"/><path class="k160" d="M174.3 282.9l5.4 .2 5.3-1 5.4-2.1 5.4-2.8 5.3-3.5 5.4-3.9 5.3-4.1 3.8 5.5-5.4 4.2-5.3 4-5.4 3.5-5.3 2.9-5.4 2.1-5.4 1.1-5.3-.1z"/><path class="k113" d="M169 281.2l5.3 1.7 3.8 6-5.4-1.6z"/><path class="k19" d="M163.6 277.8l5.4 3.4 3.7 6.1-5.3-3.4z"/><path class="k20" d="M158.2 272.3l5.4 5.5 3.8 6.1-5.4-5.4z"/><path class="k23" d="M152.9 264.6l5.3 7.7 3.8 6.2-5.4-7.7z"/><path class="k26" d="M147.5 254.2l5.4 10.4 3.7 6.2-5.3-10.3z"/><path class="k29" d="M142.2 240.9l5.3 13.3 3.8 6.3-5.4-13.2z"/><path class="k161" d="M376.4 197.4l5.4-16.2 3.7 3.7-5.3 16.3z"/><path class="k158" d="M371 210.8l5.4-13.4 3.8 3.8-5.4 13.4z"/><path class="k156" d="M365.7 221.5l5.3-10.7 3.8 3.8-5.4 10.7z"/><path class="k154" d="M360.3 229.9l5.4-8.4 3.7 3.8-5.3 8.5z"/><path class="k153" d="M355 236.2l5.3-6.3 3.8 3.9-5.4 6.4z"/><path class="k152" d="M349.6 240.9l5.4-4.7 3.7 4-5.3 4.7z"/><path class="k151" d="M338.9 245.9l5.3-1.9 5.4-3.1 3.8 4-5.4 3.2-5.4 2z"/><path class="k104" d="M328.2 246.9l5.3-.1 5.4-.9 3.7 4.2-5.3 1-5.4 .1z"/><path class="k105" d="M322.8 246.3l5.4 .6 3.7 4.3-5.3-.5z"/><path class="k58" d="M317.4 245.4l5.4 .9 3.8 4.4-5.4-.9z"/><path class="k59" d="M312.1 244.2l5.3 1.2 3.8 4.4-5.4-1.1z"/><path class="k60" d="M306.7 242.8l5.4 1.4 3.7 4.5-5.3-1.3z"/><path class="k61" d="M301.4 241.5l5.3 1.3 3.8 4.6-5.4-1.2z"/><path class="k62" d="M296 240.3l5.4 1.2 3.7 4.7-5.3-1.1z"/><path class="k110" d="M290.6 239.4l5.4 .9 3.8 4.8-5.4-.9z"/><path class="k111" d="M285.3 238.8l5.3 .6 3.8 4.8-5.4-.5z"/><path class="k112" d="M279.9 238.6l5.4 .2 3.7 4.9-5.3-.2z"/><path class="k113" d="M274.6 238.8l5.3-.2 3.8 4.9-5.4 .3z"/><path class="k161" d="M269.2 239.5l5.4-.7 3.7 5-5.3 .8z"/><path class="k162" d="M237 254.4l5.4-3.6 5.4-3.2 5.3-2.8 5.4-2.2 5.3-1.8 5.4-1.3 3.8 5.1-5.4 1.3-5.4 1.8-5.3 2.4-5.4 2.8-5.4 3.3-5.3 3.7z"/><path class="k161" d="M226.3 262.5l5.4-4.1 5.3-4 3.8 5.5-5.4 4-5.3 4.2z"/><path class="k160" d="M215.6 271.2l5.4-4.3 5.3-4.4 3.8 5.6-5.4 4.4-5.4 4.4z"/><path class="k159" d="M199.5 282.9l5.4-3.5 5.3-4 5.4-4.2 3.7 5.7-5.3 4.3-5.4 4-5.3 3.6z"/><path class="k158" d="M188.8 287.9l5.4-2.1 5.3-2.9 3.8 5.9-5.4 3-5.4 2.2z"/><path class="k159" d="M178.1 288.9l5.3 .1 5.4-1.1 3.7 6.1-5.3 1.1-5.4 0z"/><path class="k112" d="M172.7 287.3l5.4 1.6 3.7 6.2-5.3-1.6z"/><path class="k65" d="M167.4 283.9l5.3 3.4 3.8 6.2-5.4-3.3z"/><path class="k19" d="M162 278.5l5.4 5.4 3.7 6.3-5.4-5.3z"/><path class="k21" d="M156.6 270.8l5.4 7.7 3.7 6.4-5.3-7.6z"/><path class="k24" d="M151.3 260.5l5.3 10.3 3.8 6.5-5.4-10.3z"/><path class="k28" d="M145.9 247.3l5.4 13.2 3.7 6.5-5.3-13.2z"/><path class="k161" d="M380.2 201.2l5.3-16.3 3.8 3.8-5.4 16.4z"/><path class="k158" d="M374.8 214.6l5.4-13.4 3.7 3.9-5.3 13.4z"/><path class="k155" d="M369.4 225.3l5.4-10.7 3.8 3.9-5.4 10.9z"/><path class="k153" d="M364.1 233.8l5.3-8.5 3.8 4.1-5.3 8.5z"/><path class="k152" d="M358.7 240.2l5.4-6.4 3.8 4.1-5.4 6.5z"/><path class="k151" d="M337.3 251.1l5.3-1 5.4-2 5.4-3.2 5.3-4.7 3.8 4.2-5.4 4.7-5.3 3.3-5.4 2-5.4 1.1z"/><path class="k103" d="M331.9 251.2l5.4-.1 3.7 4.4-5.3 .2z"/><path class="k104" d="M326.6 250.7l5.3 .5 3.8 4.5-5.4-.4z"/><path class="k105" d="M321.2 249.8l5.4 .9 3.7 4.6-5.3-.9z"/><path class="k58" d="M315.8 248.7l5.4 1.1 3.8 4.6-5.4-1z"/><path class="k59" d="M310.5 247.4l5.3 1.3 3.8 4.7-5.4-1.2z"/><path class="k60" d="M305.1 246.2l5.4 1.2 3.7 4.8-5.3-1.2z"/><path class="k109" d="M299.8 245.1l5.3 1.1 3.8 4.8-5.4-1.1z"/><path class="k110" d="M289 243.7l5.4 .5 5.4 .9 3.7 4.8-5.3-.8-5.4-.4z"/><path class="k111" d="M283.7 243.5l5.3 .2 3.8 5-5.4-.1z"/><path class="k160" d="M273 244.6l5.3-.8 5.4-.3 3.7 5.1-5.3 .3-5.4 .9z"/><path class="k161" d="M246.1 256.2l5.4-3.3 5.4-2.8 5.3-2.4 5.4-1.8 5.4-1.3 3.7 5.2-5.4 1.4-5.3 1.9-5.4 2.4-5.3 2.9-5.4 3.3z"/><path class="k160" d="M230.1 268.1l5.3-4.2 5.4-4 5.3-3.7 3.8 5.5-5.4 3.8-5.3 4-5.4 4.3z"/><path class="k159" d="M219.3 276.9l5.4-4.4 5.4-4.4 3.7 5.7-5.3 4.5-5.4 4.4z"/><path class="k158" d="M208.6 285.2l5.4-4 5.3-4.3 3.8 5.8-5.4 4.4-5.3 4.1z"/><path class="k157" d="M187.2 295.1l5.3-1.1 5.4-2.2 5.4-3 5.3-3.6 3.8 6-5.4 3.6-5.4 3.1-5.3 2.2-5.4 1.3z"/><path class="k158" d="M181.8 295.1l5.4 0 3.7 6.3-5.3 0z"/><path class="k111" d="M176.5 293.5l5.3 1.6 3.8 6.3-5.4-1.5z"/><path class="k64" d="M171.1 290.2l5.4 3.3 3.7 6.4-5.4-3.3z"/><path class="k18" d="M165.7 284.9l5.4 5.3 3.7 6.4-5.3-5.2z"/><path class="k20" d="M160.4 277.3l5.3 7.6 3.8 6.5-5.4-7.6z"/><path class="k23" d="M155 267l5.4 10.3 3.7 6.5-5.3-10.2z"/><path class="k27" d="M149.7 253.8l5.3 13.2 3.8 6.6-5.4-13.1z"/><path class="k160" d="M383.9 205.1l5.4-16.4 3.8 3.9-5.4 16.4z"/><path class="k157" d="M378.6 218.5l5.3-13.4 3.8 3.9-5.4 13.5z"/><path class="k154" d="M373.2 229.4l5.4-10.9 3.7 4-5.3 10.9z"/><path class="k152" d="M367.9 237.9l5.3-8.5 3.8 4-5.4 8.6z"/><path class="k151" d="M362.5 244.4l5.4-6.5 3.7 4.1-5.3 6.6z"/><path class="k150" d="M341 255.5l5.4-1.1 5.4-2 5.3-3.3 5.4-4.7 3.8 4.2-5.4 4.8-5.4 3.3-5.3 2.1-5.4 1.1z"/><path class="k103" d="M330.3 255.3l5.4 .4 5.3-.2 3.8 4.4-5.4 .3-5.3-.3z"/><path class="k104" d="M325 254.4l5.3 .9 3.8 4.6-5.4-.8z"/><path class="k57" d="M319.6 253.4l5.4 1 3.7 4.7-5.3-1z"/><path class="k58" d="M314.2 252.2l5.4 1.2 3.8 4.7-5.4-1.2z"/><path class="k59" d="M308.9 251l5.3 1.2 3.8 4.7-5.4-1.1z"/><path class="k108" d="M303.5 249.9l5.4 1.1 3.7 4.8-5.3-.9z"/><path class="k109" d="M292.8 248.7l5.4 .4 5.3 .8 3.8 5-5.4-.8-5.3-.4z"/><path class="k110" d="M287.4 248.6l5.4 .1 3.8 5-5.4 0z"/><path class="k159" d="M271.3 251.2l5.4-1.4 5.4-.9 5.3-.3 3.8 5.1-5.4 .4-5.3 .9-5.4 1.5z"/><path class="k160" d="M249.9 261.7l5.4-3.3 5.3-2.9 5.4-2.4 5.3-1.9 3.8 5.3-5.4 1.9-5.3 2.5-5.4 3-5.3 3.4z"/><path class="k159" d="M239.2 269.5l5.3-4 5.4-3.8 3.8 5.6-5.4 3.8-5.4 4.1z"/><path class="k158" d="M228.5 278.3l5.3-4.5 5.4-4.3 3.7 5.7-5.3 4.4-5.4 4.5z"/><path class="k157" d="M217.7 287.1l5.4-4.4 5.4-4.4 3.7 5.8-5.4 4.5-5.3 4.5z"/><path class="k156" d="M185.6 301.4l5.3 0 5.4-1.3 5.3-2.2 5.4-3.1 5.4-3.6 5.3-4.1 3.8 6-5.4 4.1-5.3 3.7-5.4 3.1-5.4 2.4-5.3 1.3-5.4 0z"/><path class="k109" d="M180.2 299.9l5.4 1.5 3.7 6.3-5.4-1.4z"/><path class="k63" d="M174.8 296.6l5.4 3.3 3.7 6.4-5.3-3.2z"/><path class="k16" d="M169.5 291.4l5.3 5.2 3.8 6.5-5.4-5.2z"/><path class="k19" d="M164.1 283.8l5.4 7.6 3.7 6.5-5.3-7.5z"/><path class="k22" d="M158.8 273.6l5.3 10.2 3.8 6.6-5.4-10.1z"/><path class="k25" d="M153.4 260.5l5.4 13.1 3.7 6.7-5.4-13z"/><path class="k159" d="M387.7 209l5.4-16.4 3.7 3.8-5.3 16.5z"/><path class="k156" d="M382.3 222.5l5.4-13.5 3.8 3.9-5.4 13.6z"/><path class="k154" d="M377 233.4l5.3-10.9 3.8 4-5.4 11z"/><path class="k152" d="M371.6 242l5.4-8.6 3.7 4.1-5.3 8.6z"/><path class="k150" d="M366.3 248.6l5.3-6.6 3.8 4.1-5.4 6.7z"/><path class="k149" d="M344.8 259.9l5.4-1.1 5.3-2.1 5.4-3.3 5.4-4.8 3.7 4.2-5.3 4.8-5.4 3.5-5.4 2.1-5.3 1.2z"/><path class="k102" d="M334.1 259.9l5.3 .3 5.4-.3 3.8 4.5-5.4 .3-5.4-.3z"/><path class="k103" d="M328.7 259.1l5.4 .8 3.7 4.5-5.3-.7z"/><path class="k56" d="M323.4 258.1l5.3 1 3.8 4.6-5.4-.9z"/><path class="k57" d="M318 256.9l5.4 1.2 3.7 4.7-5.3-1.1z"/><path class="k106" d="M312.6 255.8l5.4 1.1 3.8 4.8-5.4-1z"/><path class="k107" d="M307.3 254.9l5.3 .9 3.8 4.9-5.4-.9z"/><path class="k108" d="M296.6 253.7l5.3 .4 5.4 .8 3.7 4.9-5.3-.7-5.4-.4z"/><path class="k109" d="M291.2 253.7l5.4 0 3.7 5-5.4 .1z"/><path class="k158" d="M275.1 256.5l5.4-1.5 5.3-.9 5.4-.4 3.7 5.1-5.3 .5-5.4 1-5.3 1.5z"/><path class="k159" d="M259 263.9l5.4-3 5.3-2.5 5.4-1.9 3.8 5.3-5.4 2-5.4 2.5-5.3 3.1z"/><path class="k158" d="M242.9 275.2l5.4-4.1 5.4-3.8 5.3-3.4 3.8 5.5-5.4 3.4-5.4 3.9-5.3 4.2z"/><path class="k157" d="M232.2 284.1l5.4-4.5 5.3-4.4 3.8 5.7-5.4 4.4-5.3 4.6z"/><path class="k156" d="M221.5 293.1l5.3-4.5 5.4-4.5 3.8 5.8-5.4 4.6-5.4 4.5z"/><path class="k155" d="M205.4 304l5.4-3.1 5.3-3.7 5.4-4.1 3.7 5.9-5.3 4.2-5.4 3.8-5.4 3.2z"/><path class="k154" d="M200 306.4l5.4-2.4 3.7 6.2-5.3 2.4z"/><path class="k155" d="M189.3 307.7l5.4 0 5.3-1.3 3.8 6.2-5.4 1.3-5.3 .2z"/><path class="k108" d="M183.9 306.3l5.4 1.4 3.8 6.4-5.4-1.4z"/><path class="k61" d="M178.6 303.1l5.3 3.2 3.8 6.4-5.4-3.1z"/><path class="k15" d="M173.2 297.9l5.4 5.2 3.7 6.5-5.3-5.1z"/><path class="k17" d="M167.9 290.4l5.3 7.5 3.8 6.6-5.4-7.5z"/><path class="k20" d="M162.5 280.3l5.4 10.1 3.7 6.6-5.4-10z"/><path class="k24" d="M157.1 267.3l5.4 13 3.7 6.7-5.3-13z"/><path class="k159" d="M391.5 212.9l5.3-16.5 3.8 3.8-5.4 16.6z"/><path class="k155" d="M386.1 226.5l5.4-13.6 3.7 3.9-5.3 13.6z"/><path class="k153" d="M380.7 237.5l5.4-11 3.8 3.9-5.4 11z"/><path class="k151" d="M375.4 246.1l5.3-8.6 3.8 3.9-5.3 8.8z"/><path class="k150" d="M370 252.8l5.4-6.7 3.8 4.1-5.4 6.7z"/><path class="k149" d="M364.7 257.6l5.3-4.8 3.8 4.1-5.4 4.9z"/><path class="k148" d="M348.6 264.4l5.3-1.2 5.4-2.1 5.4-3.5 3.7 4.2-5.3 3.5-5.4 2.2-5.4 1.2z"/><path class="k101" d="M337.8 264.4l5.4 .3 5.4-.3 3.7 4.3-5.3 .4-5.4-.2z"/><path class="k102" d="M332.5 263.7l5.3 .7 3.8 4.5-5.4-.6z"/><path class="k55" d="M327.1 262.8l5.4 .9 3.7 4.6-5.3-.9z"/><path class="k56" d="M321.8 261.7l5.3 1.1 3.8 4.6-5.4-1z"/><path class="k105" d="M316.4 260.7l5.4 1 3.7 4.7-5.3-1z"/><path class="k106" d="M311 259.8l5.4 .9 3.8 4.7-5.4-.8z"/><path class="k107" d="M300.3 258.7l5.4 .4 5.3 .7 3.8 4.8-5.4-.6-5.3-.3z"/><path class="k108" d="M294.9 258.8l5.4-.1 3.8 5-5.4 .1z"/><path class="k157" d="M278.9 261.8l5.3-1.5 5.4-1 5.3-.5 3.8 5-5.4 .6-5.3 1-5.4 1.6z"/><path class="k158" d="M262.8 269.4l5.3-3.1 5.4-2.5 5.4-2 3.7 5.2-5.3 2.1-5.4 2.6-5.4 3.1z"/><path class="k157" d="M246.7 280.9l5.3-4.2 5.4-3.9 5.4-3.4 3.7 5.4-5.3 3.5-5.4 3.9-5.4 4.3z"/><path class="k156" d="M236 289.9l5.3-4.6 5.4-4.4 3.7 5.6-5.3 4.5-5.4 4.7z"/><path class="k155" d="M230.6 294.5l5.4-4.6 3.7 5.8-5.4 4.6z"/><path class="k154" d="M214.5 307l5.4-3.8 5.3-4.2 5.4-4.5 3.7 5.8-5.3 4.6-5.4 4.2-5.3 3.9z"/><path class="k153" d="M198.4 313.9l5.4-1.3 5.3-2.4 5.4-3.2 3.8 6-5.4 3.3-5.4 2.4-5.3 1.4z"/><path class="k154" d="M193.1 314.1l5.3-.2 3.8 6.2-5.4 .2z"/><path class="k107" d="M187.7 312.7l5.4 1.4 3.7 6.2-5.4-1.3z"/><path class="k60" d="M182.3 309.6l5.4 3.1 3.7 6.3-5.3-3z"/><path class="k14" d="M177 304.5l5.3 5.1 3.8 6.4-5.4-5.1z"/><path class="k16" d="M171.6 297l5.4 7.5 3.7 6.4-5.3-7.4z"/><path class="k19" d="M166.2 287l5.4 10 3.8 6.5-5.4-9.9z"/><path class="k22" d="M160.9 274l5.3 13 3.8 6.6-5.4-13z"/><path class="k158" d="M395.2 216.8l5.4-16.6 3.8 3.6-5.4 16.7z"/><path class="k155" d="M389.9 230.4l5.3-13.6 3.8 3.7-5.4 13.7z"/><path class="k152" d="M384.5 241.4l5.4-11 3.7 3.8-5.3 11.1z"/><path class="k150" d="M379.2 250.2l5.3-8.8 3.8 3.9-5.4 8.7z"/><path class="k149" d="M373.8 256.9l5.4-6.7 3.7 3.8-5.3 6.8z"/><path class="k148" d="M368.4 261.8l5.4-4.9 3.8 3.9-5.4 5z"/><path class="k147" d="M357.7 267.5l5.4-2.2 5.3-3.5 3.8 4-5.4 3.6-5.3 2.2z"/><path class="k148" d="M352.3 268.7l5.4-1.2 3.8 4.1-5.4 1.3z"/><path class="k100" d="M347 269.1l5.3-.4 3.8 4.2-5.4 .5z"/><path class="k101" d="M336.2 268.3l5.4 .6 5.4 .2 3.7 4.3-5.3-.1-5.4-.6z"/><path class="k54" d="M330.9 267.4l5.3 .9 3.8 4.4-5.4-.8z"/><path class="k55" d="M325.5 266.4l5.4 1 3.7 4.5-5.3-1z"/><path class="k56" d="M320.2 265.4l5.3 1 3.8 4.5-5.4-.9z"/><path class="k105" d="M314.8 264.6l5.4 .8 3.7 4.6-5.3-.8z"/><path class="k106" d="M304.1 263.7l5.3 .3 5.4 .6 3.8 4.6-5.4-.5-5.4-.2z"/><path class="k107" d="M298.7 263.8l5.4-.1 3.7 4.8-5.3 .2z"/><path class="k156" d="M282.6 267l5.4-1.6 5.3-1 5.4-.6 3.8 4.9-5.4 .6-5.4 1.1-5.3 1.6z"/><path class="k157" d="M271.9 271.7l5.4-2.6 5.3-2.1 3.8 5-5.4 2.2-5.4 2.7z"/><path class="k156" d="M255.8 282.2l5.4-3.9 5.3-3.5 5.4-3.1 3.7 5.2-5.3 3.1-5.4 3.6-5.3 4z"/><path class="k155" d="M245.1 291l5.3-4.5 5.4-4.3 3.8 5.4-5.4 4.4-5.4 4.5z"/><path class="k154" d="M234.3 300.3l5.4-4.6 5.4-4.7 3.7 5.5-5.3 4.7-5.4 4.8z"/><path class="k153" d="M223.6 309.1l5.4-4.2 5.3-4.6 3.8 5.7-5.4 4.6-5.3 4.3z"/><path class="k152" d="M202.2 320.1l5.3-1.4 5.4-2.4 5.4-3.3 5.3-3.9 3.8 5.8-5.4 3.9-5.4 3.4-5.3 2.5-5.4 1.5z"/><path class="k153" d="M196.8 320.3l5.4-.2 3.7 6.1-5.3 .2z"/><path class="k105" d="M191.4 319l5.4 1.3 3.8 6.1-5.4-1.2z"/><path class="k58" d="M186.1 316l5.3 3 3.8 6.2-5.4-3z"/><path class="k12" d="M180.7 310.9l5.4 5.1 3.7 6.2-5.3-5z"/><path class="k14" d="M175.4 303.5l5.3 7.4 3.8 6.3-5.4-7.3z"/><path class="k17" d="M170 293.6l5.4 9.9 3.7 6.4-5.4-9.9z"/><path class="k21" d="M164.6 280.6l5.4 13 3.7 6.4-5.3-12.9z"/><path class="k157" d="M399 220.5l5.4-16.7 3.7 3.4-5.3 16.7z"/><path class="k154" d="M393.6 234.2l5.4-13.7 3.8 3.4-5.4 13.8z"/><path class="k151" d="M388.3 245.3l5.3-11.1 3.8 3.5-5.3 11.2z"/><path class="k150" d="M382.9 254l5.4-8.7 3.8 3.6-5.4 8.8z"/><path class="k148" d="M377.6 260.8l5.3-6.8 3.8 3.7-5.4 6.8z"/><path class="k147" d="M361.5 271.6l5.3-2.2 5.4-3.6 5.4-5 3.7 3.7-5.3 5.1-5.4 3.6-5.4 2.4z"/><path class="k99" d="M350.7 273.4l5.4-.5 5.4-1.3 3.7 4-5.3 1.3-5.4 .6z"/><path class="k100" d="M345.4 273.3l5.3 .1 3.8 4.1-5.4-.1z"/><path class="k53" d="M334.6 271.9l5.4 .8 5.4 .6 3.7 4.1-5.3-.5-5.4-.8z"/><path class="k54" d="M329.3 270.9l5.3 1 3.8 4.2-5.4-.8z"/><path class="k55" d="M323.9 270l5.4 .9 3.7 4.4-5.3-.9z"/><path class="k56" d="M318.6 269.2l5.3 .8 3.8 4.4-5.4-.7z"/><path class="k105" d="M313.2 268.7l5.4 .5 3.7 4.5-5.3-.5z"/><path class="k106" d="M302.5 268.7l5.3-.2 5.4 .2 3.8 4.5-5.4-.1-5.4 .2z"/><path class="k155" d="M286.4 272l5.3-1.6 5.4-1.1 5.4-.6 3.7 4.6-5.3 .7-5.4 1.2-5.4 1.7z"/><path class="k156" d="M275.6 276.9l5.4-2.7 5.4-2.2 3.7 4.9-5.3 2.2-5.4 2.7z"/><path class="k155" d="M259.6 287.6l5.3-4 5.4-3.6 5.3-3.1 3.8 4.9-5.4 3.3-5.3 3.6-5.4 4.1z"/><path class="k154" d="M248.8 296.5l5.4-4.5 5.4-4.4 3.7 5.2-5.4 4.4-5.3 4.6z"/><path class="k153" d="M238.1 306l5.4-4.8 5.3-4.7 3.8 5.3-5.4 4.8-5.4 4.8z"/><path class="k152" d="M227.4 314.9l5.3-4.3 5.4-4.6 3.7 5.4-5.3 4.7-5.4 4.4z"/><path class="k151" d="M200.6 326.4l5.3-.2 5.4-1.5 5.3-2.5 5.4-3.4 5.4-3.9 3.7 5.6-5.3 4-5.4 3.3-5.4 2.6-5.3 1.6-5.4 .3z"/><path class="k104" d="M195.2 325.2l5.4 1.2 3.7 5.9-5.4-1.2z"/><path class="k57" d="M189.8 322.2l5.4 3 3.7 5.9-5.3-2.9z"/><path class="k11" d="M184.5 317.2l5.3 5 3.8 6-5.4-4.9z"/><path class="k13" d="M179.1 309.9l5.4 7.3 3.7 6.1-5.4-7.2z"/><path class="k16" d="M173.7 300l5.4 9.9 3.7 6.2-5.3-9.9z"/><path class="k20" d="M168.4 287.1l5.3 12.9 3.8 6.2-5.4-12.8z"/><path class="k157" d="M402.8 223.9l5.3-16.7 3.8 3.1-5.3 16.8z"/><path class="k154" d="M397.4 237.7l5.4-13.8 3.8 3.2-5.4 13.9z"/><path class="k151" d="M392.1 248.9l5.3-11.2 3.8 3.3-5.4 11.2z"/><path class="k149" d="M386.7 257.7l5.4-8.8 3.7 3.3-5.3 8.9z"/><path class="k148" d="M381.3 264.5l5.4-6.8 3.8 3.4-5.4 6.9z"/><path class="k147" d="M376 269.6l5.3-5.1 3.8 3.5-5.4 5.1z"/><path class="k146" d="M365.2 275.6l5.4-2.4 5.4-3.6 3.7 3.5-5.3 3.7-5.4 2.4z"/><path class="k98" d="M359.9 276.9l5.3-1.3 3.8 3.6-5.4 1.4z"/><path class="k99" d="M349.1 277.4l5.4 .1 5.4-.6 3.7 3.7-5.3 .6-5.4 0z"/><path class="k52" d="M343.8 276.9l5.3 .5 3.8 3.8-5.4-.4z"/><path class="k53" d="M333 275.3l5.4 .8 5.4 .8 3.7 3.9-5.3-.7-5.4-.8z"/><path class="k54" d="M327.7 274.4l5.3 .9 3.8 4-5.4-.8z"/><path class="k55" d="M322.3 273.7l5.4 .7 3.7 4.1-5.3-.6z"/><path class="k104" d="M317 273.2l5.3 .5 3.8 4.2-5.4-.5z"/><path class="k105" d="M306.2 273.3l5.4-.2 5.4 .1 3.7 4.2-5.4 0-5.3 .3z"/><path class="k106" d="M300.9 274l5.3-.7 3.8 4.4-5.4 .7z"/><path class="k154" d="M295.5 275.2l5.4-1.2 3.7 4.4-5.4 1.3z"/><path class="k155" d="M279.4 281.8l5.4-2.7 5.3-2.2 5.4-1.7 3.7 4.5-5.3 1.7-5.4 2.3-5.3 2.8z"/><path class="k154" d="M263.3 292.8l5.4-4.1 5.3-3.6 5.4-3.3 3.8 4.7-5.4 3.3-5.4 3.8-5.3 4.1z"/><path class="k153" d="M252.6 301.8l5.3-4.6 5.4-4.4 3.8 4.9-5.4 4.4-5.4 4.7z"/><path class="k152" d="M241.8 311.4l5.4-4.8 5.4-4.8 3.7 5-5.3 4.9-5.4 4.8z"/><path class="k151" d="M231.1 320.5l5.4-4.4 5.3-4.7 3.8 5.1-5.4 4.8-5.3 4.5z"/><path class="k150" d="M204.3 332.3l5.4-.3 5.3-1.6 5.4-2.6 5.4-3.3 5.3-4 3.8 5.3-5.4 4-5.4 3.5-5.3 2.6-5.4 1.6-5.4 .4z"/><path class="k103" d="M198.9 331.1l5.4 1.2 3.7 5.6-5.3-1.1z"/><path class="k56" d="M193.6 328.2l5.3 2.9 3.8 5.7-5.4-2.8z"/><path class="k10" d="M188.2 323.3l5.4 4.9 3.7 5.8-5.4-4.9z"/><path class="k12" d="M182.8 316.1l5.4 7.2 3.7 5.8-5.3-7.2z"/><path class="k15" d="M177.5 306.2l5.3 9.9 3.8 5.8-5.4-9.8z"/><path class="k18" d="M172.1 293.4l5.4 12.8 3.7 5.9-5.3-12.7z"/><path class="k156" d="M406.6 227.1l5.3-16.8 3.8 2.8-5.4 16.9z"/><path class="k153" d="M401.2 241l5.4-13.9 3.7 2.9-5.3 13.9z"/><path class="k150" d="M395.8 252.2l5.4-11.2 3.8 2.9-5.4 11.3z"/><path class="k148" d="M390.5 261.1l5.3-8.9 3.8 3-5.4 9z"/><path class="k147" d="M385.1 268l5.4-6.9 3.7 3.1-5.3 6.9z"/><path class="k146" d="M374.4 276.8l5.3-3.7 5.4-5.1 3.8 3.1-5.4 5.2-5.4 3.8z"/><path class="k145" d="M369 279.2l5.4-2.4 3.7 3.3-5.3 2.4z"/><path class="k98" d="M358.3 281.2l5.3-.6 5.4-1.4 3.8 3.3-5.4 1.5-5.4 .7z"/><path class="k50" d="M352.9 281.2l5.4 0 3.7 3.5-5.3 .1z"/><path class="k51" d="M347.5 280.8l5.4 .4 3.8 3.6-5.4-.4z"/><path class="k52" d="M342.2 280.1l5.3 .7 3.8 3.6-5.4-.6z"/><path class="k53" d="M336.8 279.3l5.4 .8 3.7 3.7-5.3-.8z"/><path class="k54" d="M326.1 277.9l5.3 .6 5.4 .8 3.8 3.7-5.4-.7-5.4-.6z"/><path class="k55" d="M320.7 277.4l5.4 .5 3.7 3.8-5.3-.3z"/><path class="k104" d="M315.3 277.4l5.4 0 3.8 4-5.4-.1z"/><path class="k105" d="M304.6 278.4l5.4-.7 5.3-.3 3.8 3.9-5.4 .4-5.3 .8z"/><path class="k153" d="M299.2 279.7l5.4-1.3 3.8 4.1-5.4 1.4z"/><path class="k154" d="M277.8 289.8l5.4-3.3 5.3-2.8 5.4-2.3 5.3-1.7 3.8 4.2-5.4 1.8-5.3 2.3-5.4 2.9-5.4 3.3z"/><path class="k153" d="M267.1 297.7l5.3-4.1 5.4-3.8 3.7 4.4-5.3 3.9-5.4 4.2z"/><path class="k152" d="M256.3 306.8l5.4-4.7 5.4-4.4 3.7 4.6-5.4 4.5-5.3 4.7z"/><path class="k151" d="M245.6 316.5l5.4-4.8 5.3-4.9 3.8 4.7-5.4 4.9-5.4 5z"/><path class="k150" d="M240.2 321.3l5.4-4.8 3.7 4.9-5.3 4.8z"/><path class="k149" d="M208 337.9l5.4-.4 5.4-1.6 5.3-2.6 5.4-3.5 5.4-4 5.3-4.5 3.8 4.9-5.4 4.5-5.3 4.1-5.4 3.5-5.4 2.8-5.3 1.6-5.4 .5z"/><path class="k102" d="M202.7 336.8l5.3 1.1 3.8 5.3-5.4-1z"/><path class="k7" d="M197.3 334l5.4 2.8 3.7 5.4-5.3-2.8z"/><path class="k9" d="M191.9 329.1l5.4 4.9 3.8 5.4-5.4-4.8z"/><path class="k11" d="M186.6 321.9l5.3 7.2 3.8 5.5-5.4-7.1z"/><path class="k14" d="M181.2 312.1l5.4 9.8 3.7 5.6-5.3-9.8z"/><path class="k17" d="M175.9 299.4l5.3 12.7 3.8 5.6-5.4-12.6z"/><path class="k156" d="M410.3 230l5.4-16.9 3.8 2.5-5.4 16.9z"/><path class="k153" d="M405 243.9l5.3-13.9 3.8 2.5-5.4 13.9z"/><path class="k150" d="M399.6 255.2l5.4-11.3 3.7 2.5-5.3 11.4z"/><path class="k148" d="M394.2 264.2l5.4-9 3.8 2.6-5.4 9z"/><path class="k147" d="M388.9 271.1l5.3-6.9 3.8 2.6-5.4 7.1z"/><path class="k146" d="M383.5 276.3l5.4-5.2 3.7 2.8-5.3 5.2z"/><path class="k145" d="M378.1 280.1l5.4-3.8 3.8 2.8-5.4 3.8z"/><path class="k97" d="M367.4 284l5.4-1.5 5.3-2.4 3.8 2.8-5.4 2.6-5.3 1.5z"/><path class="k49" d="M362 284.7l5.4-.7 3.8 3-5.4 .8z"/><path class="k50" d="M356.7 284.8l5.3-.1 3.8 3.1-5.4 .1z"/><path class="k51" d="M351.3 284.4l5.4 .4 3.7 3.1-5.3-.3z"/><path class="k3" d="M345.9 283.8l5.4 .6 3.8 3.2-5.4-.6z"/><path class="k4" d="M340.6 283l5.3 .8 3.8 3.2-5.4-.7z"/><path class="k5" d="M335.2 282.3l5.4 .7 3.7 3.3-5.3-.6z"/><path class="k54" d="M329.8 281.7l5.4 .6 3.8 3.4-5.4-.5z"/><path class="k55" d="M319.1 281.3l5.4 .1 5.3 .3 3.8 3.5-5.4-.3-5.3 0z"/><path class="k104" d="M308.4 282.5l5.3-.8 5.4-.4 3.8 3.6-5.4 .5-5.4 .9z"/><path class="k105" d="M303 283.9l5.4-1.4 3.7 3.8-5.3 1.3z"/><path class="k153" d="M276.2 298.1l5.3-3.9 5.4-3.3 5.4-2.9 5.3-2.3 5.4-1.8 3.8 3.7-5.4 1.9-5.4 2.5-5.3 2.9-5.4 3.4-5.4 3.9z"/><path class="k152" d="M265.4 306.8l5.4-4.5 5.4-4.2 3.7 4.1-5.3 4.2-5.4 4.6z"/><path class="k151" d="M260.1 311.5l5.3-4.7 3.8 4.2-5.4 4.9z"/><path class="k150" d="M249.3 321.4l5.4-5 5.4-4.9 3.7 4.4-5.3 4.9-5.4 5z"/><path class="k149" d="M238.6 330.7l5.4-4.5 5.3-4.8 3.8 4.4-5.4 4.9-5.3 4.6z"/><path class="k148" d="M211.8 343.2l5.4-.5 5.3-1.6 5.4-2.8 5.4-3.5 5.3-4.1 3.8 4.6-5.4 4.2-5.4 3.6-5.3 2.7-5.4 1.8-5.4 .5z"/><path class="k101" d="M206.4 342.2l5.4 1 3.7 4.9-5.3-1z"/><path class="k6" d="M201.1 339.4l5.3 2.8 3.8 4.9-5.4-2.7z"/><path class="k7" d="M195.7 334.6l5.4 4.8 3.7 5-5.4-4.7z"/><path class="k10" d="M190.3 327.5l5.4 7.1 3.7 5.1-5.3-7.1z"/><path class="k12" d="M185 317.7l5.3 9.8 3.8 5.1-5.4-9.6z"/><path class="k16" d="M179.6 305.1l5.4 12.6 3.7 5.3-5.4-12.6z"/><path class="k156" d="M414.1 232.5l5.4-16.9 3.7 2-5.3 16.9z"/><path class="k152" d="M408.7 246.4l5.4-13.9 3.8 2-5.4 14.1z"/><path class="k150" d="M403.4 257.8l5.3-11.4 3.8 2.2-5.4 11.4z"/><path class="k148" d="M398 266.8l5.4-9 3.7 2.2-5.3 9.1z"/><path class="k146" d="M392.6 273.9l5.4-7.1 3.8 2.3-5.4 7.1z"/><path class="k145" d="M381.9 282.9l5.4-3.8 5.3-5.2 3.8 2.3-5.4 5.3-5.3 3.9z"/><path class="k97" d="M371.2 287l5.3-1.5 5.4-2.6 3.8 2.5-5.4 2.6-5.4 1.6z"/><path class="k49" d="M365.8 287.8l5.4-.8 3.7 2.6-5.3 .8z"/><path class="k1" d="M360.4 287.9l5.4-.1 3.8 2.6-5.4 .2z"/><path class="k2" d="M355.1 287.6l5.3 .3 3.8 2.7-5.4-.2z"/><path class="k3" d="M349.7 287l5.4 .6 3.7 2.8-5.3-.5z"/><path class="k4" d="M344.3 286.3l5.4 .7 3.8 2.9-5.4-.6z"/><path class="k5" d="M333.6 285.2l5.4 .5 5.3 .6 3.8 3-5.4-.6-5.3-.5z"/><path class="k6" d="M328.2 284.9l5.4 .3 3.8 3-5.4-.2z"/><path class="k55" d="M317.5 285.4l5.4-.5 5.3 0 3.8 3.1-5.4 .1-5.3 .5z"/><path class="k104" d="M301.4 289.5l5.4-1.9 5.3-1.3 5.4-.9 3.8 3.2-5.4 1-5.4 1.4-5.3 2z"/><path class="k152" d="M279.9 302.2l5.4-3.9 5.4-3.4 5.3-2.9 5.4-2.5 3.8 3.5-5.4 2.5-5.4 2.9-5.3 3.5-5.4 4z"/><path class="k151" d="M269.2 311l5.4-4.6 5.3-4.2 3.8 3.7-5.4 4.3-5.3 4.7z"/><path class="k150" d="M258.5 320.8l5.3-4.9 5.4-4.9 3.8 3.9-5.4 4.8-5.4 5.1z"/><path class="k149" d="M253.1 325.8l5.4-5 3.7 4-5.3 5z"/><path class="k148" d="M242.4 335.3l5.3-4.6 5.4-4.9 3.8 4-5.4 5-5.4 4.6z"/><path class="k147" d="M220.9 347.6l5.4-1.8 5.3-2.7 5.4-3.6 5.4-4.2 3.7 4.1-5.4 4.3-5.3 3.6-5.4 2.9-5.4 1.8z"/><path class="k99" d="M215.5 348.1l5.4-.5 3.7 4.4-5.3 .6z"/><path class="k52" d="M210.2 347.1l5.3 1 3.8 4.5-5.4-.9z"/><path class="k5" d="M204.8 344.4l5.4 2.7 3.7 4.6-5.4-2.7z"/><path class="k7" d="M199.4 339.7l5.4 4.7 3.7 4.6-5.3-4.6z"/><path class="k9" d="M194.1 332.6l5.3 7.1 3.8 4.7-5.4-7z"/><path class="k12" d="M188.7 323l5.4 9.6 3.7 4.8-5.4-9.6z"/><path class="k15" d="M183.3 310.4l5.4 12.6 3.7 4.8-5.3-12.5z"/><path class="k156" d="M417.9 234.5l5.3-16.9 3.8 1.5-5.4 17z"/><path class="k152" d="M412.5 248.6l5.4-14.1 3.7 1.6-5.3 14.1z"/><path class="k150" d="M407.1 260l5.4-11.4 3.8 1.6-5.4 11.5z"/><path class="k147" d="M401.8 269.1l5.3-9.1 3.8 1.7-5.4 9.2z"/><path class="k146" d="M396.4 276.2l5.4-7.1 3.7 1.8-5.3 7.2z"/><path class="k145" d="M391 281.5l5.4-5.3 3.8 1.9-5.4 5.4z"/><path class="k96" d="M380.3 288l5.4-2.6 5.3-3.9 3.8 2-5.4 3.9-5.3 2.7z"/><path class="k48" d="M374.9 289.6l5.4-1.6 3.8 2.1-5.4 1.6z"/><path class="k1" d="M364.2 290.6l5.4-.2 5.3-.8 3.8 2.1-5.4 .9-5.3 .3z"/><path class="k2" d="M358.8 290.4l5.4 .2 3.8 2.3-5.4-.2z"/><path class="k3" d="M348.1 289.3l5.4 .6 5.3 .5 3.8 2.3-5.4-.4-5.4-.6z"/><path class="k4" d="M342.7 288.7l5.4 .6 3.7 2.4-5.3-.5z"/><path class="k5" d="M337.4 288.2l5.3 .5 3.8 2.5-5.4-.4z"/><path class="k6" d="M326.6 288.1l5.4-.1 5.4 .2 3.7 2.6-5.4-.2-5.3 .2z"/><path class="k55" d="M315.9 289.6l5.4-1 5.3-.5 3.8 2.7-5.4 .6-5.4 1z"/><path class="k104" d="M299.8 295.5l5.4-2.5 5.3-2 5.4-1.4 3.7 2.8-5.3 1.5-5.4 2-5.4 2.6z"/><path class="k152" d="M289.1 301.9l5.3-3.5 5.4-2.9 3.7 3-5.3 3.1-5.4 3.5z"/><path class="k151" d="M278.3 310.2l5.4-4.3 5.4-4 3.7 3.2-5.4 4-5.3 4.4z"/><path class="k150" d="M267.6 319.7l5.4-4.8 5.3-4.7 3.8 3.3-5.4 4.7-5.4 5z"/><path class="k149" d="M262.2 324.8l5.4-5.1 3.7 3.5-5.3 5.1z"/><path class="k148" d="M251.5 334.8l5.4-5 5.3-5 3.8 3.5-5.4 5.1-5.4 5z"/><path class="k147" d="M240.7 343.7l5.4-4.3 5.4-4.6 3.7 3.6-5.3 4.7-5.4 4.4z"/><path class="k146" d="M224.6 352l5.4-1.8 5.4-2.9 5.3-3.6 3.8 3.8-5.4 3.7-5.3 2.9-5.4 1.9z"/><path class="k98" d="M219.3 352.6l5.3-.6 3.8 4-5.4 .6z"/><path class="k51" d="M213.9 351.7l5.4 .9 3.7 4-5.3-.8z"/><path class="k4" d="M208.5 349l5.4 2.7 3.8 4.1-5.4-2.6z"/><path class="k6" d="M203.2 344.4l5.3 4.6 3.8 4.2-5.4-4.6z"/><path class="k8" d="M197.8 337.4l5.4 7 3.7 4.2-5.3-6.9z"/><path class="k11" d="M192.4 327.8l5.4 9.6 3.8 4.3-5.4-9.6z"/><path class="k14" d="M187.1 315.3l5.3 12.5 3.8 4.3-5.4-12.4z"/><path class="k156" d="M421.6 236.1l5.4-17 3.8 1.1-5.4 17.1z"/><path class="k152" d="M416.3 250.2l5.3-14.1 3.8 1.2-5.4 14.1z"/><path class="k149" d="M410.9 261.7l5.4-11.5 3.7 1.2-5.3 11.6z"/><path class="k147" d="M405.5 270.9l5.4-9.2 3.8 1.3-5.4 9.2z"/><path class="k146" d="M400.2 278.1l5.3-7.2 3.8 1.3-5.4 7.2z"/><path class="k145" d="M394.8 283.5l5.4-5.4 3.7 1.3-5.3 5.5z"/><path class="k96" d="M389.4 287.4l5.4-3.9 3.8 1.4-5.4 4z"/><path class="k48" d="M378.7 291.7l5.4-1.6 5.3-2.7 3.8 1.5-5.4 2.8-5.3 1.7z"/><path class="k0" d="M373.3 292.6l5.4-.9 3.8 1.7-5.4 .9z"/><path class="k1" d="M368 292.9l5.3-.3 3.8 1.7-5.4 .3z"/><path class="k2" d="M357.2 292.3l5.4 .4 5.4 .2 3.7 1.7-5.4-.1-5.3-.3z"/><path class="k3" d="M351.8 291.7l5.4 .6 3.8 1.9-5.4-.5z"/><path class="k4" d="M346.5 291.2l5.3 .5 3.8 2-5.4-.5z"/><path class="k5" d="M335.7 290.6l5.4 .2 5.4 .4 3.7 2-5.3-.3-5.4-.1z"/><path class="k6" d="M330.4 290.8l5.3-.2 3.8 2.2-5.4 .3z"/><path class="k7" d="M325 291.4l5.4-.6 3.7 2.3-5.3 .6z"/><path class="k55" d="M314.3 293.9l5.3-1.5 5.4-1 3.8 2.3-5.4 1.1-5.4 1.6z"/><path class="k103" d="M298.2 301.6l5.3-3.1 5.4-2.6 5.4-2 3.7 2.5-5.3 2-5.4 2.7-5.4 3.1z"/><path class="k151" d="M287.4 309.1l5.4-4 5.4-3.5 3.7 2.6-5.3 3.6-5.4 4.1z"/><path class="k150" d="M276.7 318.2l5.4-4.7 5.3-4.4 3.8 2.8-5.4 4.4-5.3 4.8z"/><path class="k149" d="M271.3 323.2l5.4-5 3.8 2.9-5.4 5z"/><path class="k148" d="M260.6 333.4l5.4-5.1 5.3-5.1 3.8 2.9-5.4 5.2-5.3 5.2z"/><path class="k147" d="M255.2 338.4l5.4-5 3.8 3.1-5.4 5.1z"/><path class="k146" d="M239.1 351.2l5.4-3.7 5.4-4.4 5.3-4.7 3.8 3.2-5.4 4.8-5.4 4.3-5.3 3.8z"/><path class="k145" d="M233.8 354.1l5.3-2.9 3.8 3.3-5.4 3z"/><path class="k97" d="M228.4 356l5.4-1.9 3.7 3.4-5.4 1.9z"/><path class="k98" d="M223 356.6l5.4-.6 3.7 3.4-5.3 .7z"/><path class="k2" d="M217.7 355.8l5.3 .8 3.8 3.5-5.4-.7z"/><path class="k3" d="M212.3 353.2l5.4 2.6 3.7 3.6-5.4-2.6z"/><path class="k5" d="M206.9 348.6l5.4 4.6 3.7 3.6-5.3-4.5z"/><path class="k7" d="M201.6 341.7l5.3 6.9 3.8 3.7-5.4-6.8z"/><path class="k10" d="M196.2 332.1l5.4 9.6 3.7 3.8-5.4-9.5z"/><path class="k13" d="M190.8 319.7l5.4 12.4 3.7 3.9-5.3-12.4z"/><path class="k156" d="M425.4 237.3l5.4-17.1 3.7 .5-5.3 17.2z"/><path class="k152" d="M420 251.4l5.4-14.1 3.8 .6-5.4 14.2z"/><path class="k150" d="M414.7 263l5.3-11.6 3.8 .7-5.4 11.6z"/><path class="k147" d="M409.3 272.2l5.4-9.2 3.7 .7-5.3 9.3z"/><path class="k146" d="M403.9 279.4l5.4-7.2 3.8 .8-5.4 7.3z"/><path class="k97" d="M398.6 284.9l5.3-5.5 3.8 .9-5.4 5.6z"/><path class="k96" d="M393.2 288.9l5.4-4 3.7 1-5.3 4z"/><path class="k48" d="M387.8 291.7l5.4-2.8 3.8 1-5.4 2.8z"/><path class="k0" d="M377.1 294.3l5.4-.9 5.3-1.7 3.8 1-5.4 1.8-5.4 1z"/><path class="k1" d="M371.7 294.6l5.4-.3 3.7 1.2-5.3 .4z"/><path class="k2" d="M361 294.2l5.3 .3 5.4 .1 3.8 1.3-5.4 0-5.4-.3z"/><path class="k3" d="M355.6 293.7l5.4 .5 3.7 1.4-5.3-.5z"/><path class="k4" d="M344.9 292.9l5.3 .3 5.4 .5 3.8 1.4-5.4-.3-5.4-.3z"/><path class="k5" d="M339.5 292.8l5.4 .1 3.7 1.6-5.3 0z"/><path class="k6" d="M328.8 293.7l5.3-.6 5.4-.3 3.8 1.7-5.4 .3-5.4 .7z"/><path class="k7" d="M323.4 294.8l5.4-1.1 3.7 1.8-5.3 1.1z"/><path class="k55" d="M312.7 298.4l5.3-2 5.4-1.6 3.8 1.8-5.4 1.7-5.4 2.1z"/><path class="k103" d="M296.6 307.8l5.3-3.6 5.4-3.1 5.4-2.7 3.7 2-5.3 2.7-5.4 3.2-5.4 3.7z"/><path class="k150" d="M285.8 316.3l5.4-4.4 5.4-4.1 3.7 2.2-5.4 4.1-5.3 4.5z"/><path class="k149" d="M275.1 326.1l5.4-5 5.3-4.8 3.8 2.3-5.4 4.9-5.4 5.1z"/><path class="k148" d="M269.7 331.3l5.4-5.2 3.7 2.5-5.3 5.2z"/><path class="k147" d="M259 341.6l5.4-5.1 5.3-5.2 3.8 2.5-5.4 5.3-5.4 5.1z"/><path class="k146" d="M253.6 346.4l5.4-4.8 3.7 2.6-5.3 4.9z"/><path class="k145" d="M237.5 357.5l5.4-3 5.3-3.8 5.4-4.3 3.8 2.7-5.4 4.4-5.4 3.8-5.3 3.1z"/><path class="k97" d="M232.1 359.4l5.4-1.9 3.8 2.9-5.4 2z"/><path class="k49" d="M226.8 360.1l5.3-.7 3.8 3-5.4 .8z"/><path class="k2" d="M221.4 359.4l5.4 .7 3.7 3.1-5.3-.7z"/><path class="k3" d="M216 356.8l5.4 2.6 3.8 3.1-5.4-2.5z"/><path class="k4" d="M210.7 352.3l5.3 4.5 3.8 3.2-5.4-4.5z"/><path class="k7" d="M205.3 345.5l5.4 6.8 3.7 3.2-5.4-6.7z"/><path class="k9" d="M199.9 336l5.4 9.5 3.7 3.3-5.3-9.4z"/><path class="k13" d="M194.6 323.6l5.3 12.4 3.8 3.4-5.4-12.4z"/><path class="k156" d="M429.2 237.9l5.3-17.2 3.8 0-5.4 17.3z"/><path class="k152" d="M423.8 252.1l5.4-14.2 3.7 .1-5.3 14.3z"/><path class="k150" d="M418.4 263.7l5.4-11.6 3.8 .2-5.4 11.6z"/><path class="k148" d="M413.1 273l5.3-9.3 3.8 .2-5.4 9.4z"/><path class="k98" d="M407.7 280.3l5.4-7.3 3.7 .3-5.3 7.4z"/><path class="k97" d="M402.3 285.9l5.4-5.6 3.8 .4-5.4 5.6z"/><path class="k48" d="M397 289.9l5.3-4 3.8 .4-5.4 4.1z"/><path class="k0" d="M380.8 295.5l5.4-1 5.4-1.8 5.4-2.8 3.7 .5-5.4 2.9-5.3 1.8-5.4 1.1z"/><path class="k1" d="M375.5 295.9l5.3-.4 3.8 .7-5.4 .5z"/><path class="k2" d="M364.7 295.6l5.4 .3 5.4 0 3.7 .8-5.3 0-5.4-.3z"/><path class="k3" d="M359.4 295.1l5.3 .5 3.8 .8-5.4-.3z"/><path class="k4" d="M348.6 294.5l5.4 .3 5.4 .3 3.7 1-5.3-.3-5.4-.2z"/><path class="k5" d="M343.3 294.5l5.3 0 3.8 1.1-5.4 0z"/><path class="k6" d="M332.5 295.5l5.4-.7 5.4-.3 3.7 1.1-5.3 .4-5.4 .8z"/><path class="k7" d="M321.8 298.3l5.4-1.7 5.3-1.1 3.8 1.3-5.4 1.2-5.4 1.7z"/><path class="k55" d="M311.1 303.1l5.3-2.7 5.4-2.1 3.7 1.4-5.3 2.2-5.4 2.7z"/><path class="k103" d="M300.3 310l5.4-3.7 5.4-3.2 3.7 1.5-5.4 3.3-5.3 3.7z"/><path class="k102" d="M289.6 318.6l5.3-4.5 5.4-4.1 3.8 1.6-5.4 4.2-5.4 4.6z"/><path class="k149" d="M278.8 328.6l5.4-5.1 5.4-4.9 3.7 1.8-5.3 4.9-5.4 5.2z"/><path class="k148" d="M273.5 333.8l5.3-5.2 3.8 1.9-5.4 5.3z"/><path class="k147" d="M268.1 339.1l5.4-5.3 3.7 2-5.3 5.3z"/><path class="k146" d="M257.4 349.1l5.3-4.9 5.4-5.1 3.8 2-5.4 5.2-5.4 5z"/><path class="k145" d="M246.6 357.3l5.4-3.8 5.4-4.4 3.7 2.2-5.4 4.5-5.3 3.9z"/><path class="k96" d="M235.9 362.4l5.4-2 5.3-3.1 3.8 2.4-5.4 3.1-5.4 2z"/><path class="k49" d="M230.5 363.2l5.4-.8 3.7 2.4-5.3 .9z"/><path class="k1" d="M225.2 362.5l5.3 .7 3.8 2.5-5.4-.7z"/><path class="k2" d="M219.8 360l5.4 2.5 3.7 2.5-5.4-2.3z"/><path class="k4" d="M214.4 355.5l5.4 4.5 3.7 2.7-5.3-4.5z"/><path class="k6" d="M209 348.8l5.4 6.7 3.8 2.7-5.4-6.7z"/><path class="k9" d="M203.7 339.4l5.3 9.4 3.8 2.7-5.4-9.3z"/><path class="k12" d="M198.3 327l5.4 12.4 3.7 2.8-5.3-12.3z"/><path class="k156" d="M432.9 238l5.4-17.3 3.8-.5-5.4 17.3z"/><path class="k153" d="M427.6 252.3l5.3-14.3 3.8-.5-5.4 14.4z"/><path class="k150" d="M422.2 263.9l5.4-11.6 3.7-.4-5.3 11.8z"/><path class="k100" d="M416.8 273.3l5.4-9.4 3.8-.2-5.4 9.4z"/><path class="k98" d="M411.5 280.7l5.3-7.4 3.8-.2-5.4 7.4z"/><path class="k49" d="M406.1 286.3l5.4-5.6 3.7-.2-5.3 5.7z"/><path class="k1" d="M400.7 290.4l5.4-4.1 3.8-.1-5.4 4.2z"/><path class="k0" d="M390 295.1l5.3-1.8 5.4-2.9 3.8 0-5.4 2.9-5.4 1.9z"/><path class="k1" d="M379.2 296.7l5.4-.5 5.4-1.1 3.7 .1-5.3 1.2-5.4 .5z"/><path class="k2" d="M368.5 296.4l5.4 .3 5.3 0 3.8 .2-5.4 .1-5.3-.2z"/><path class="k3" d="M363.1 296.1l5.4 .3 3.8 .4-5.4-.3z"/><path class="k4" d="M357.8 295.8l5.3 .3 3.8 .4-5.4-.2z"/><path class="k5" d="M347 295.6l5.4 0 5.4 .2 3.7 .5-5.3-.2-5.4 .1z"/><path class="k6" d="M336.3 296.8l5.4-.8 5.3-.4 3.8 .6-5.4 .5-5.4 .8z"/><path class="k7" d="M320.2 301.9l5.3-2.2 5.4-1.7 5.4-1.2 3.7 .7-5.3 1.3-5.4 1.8-5.4 2.2z"/><path class="k55" d="M309.4 307.9l5.4-3.3 5.4-2.7 3.7 .9-5.3 2.9-5.4 3.3z"/><path class="k103" d="M304.1 311.6l5.3-3.7 3.8 1.1-5.4 3.8z"/><path class="k102" d="M293.3 320.4l5.4-4.6 5.4-4.2 3.7 1.2-5.3 4.2-5.4 4.7z"/><path class="k101" d="M288 325.3l5.3-4.9 3.8 1.3-5.4 5z"/><path class="k100" d="M277.2 335.8l5.4-5.3 5.4-5.2 3.7 1.4-5.4 5.2-5.3 5.4z"/><path class="k147" d="M271.9 341.1l5.3-5.3 3.8 1.5-5.4 5.3z"/><path class="k146" d="M261.1 351.3l5.4-5 5.4-5.2 3.7 1.5-5.4 5.3-5.3 5z"/><path class="k97" d="M255.7 355.8l5.4-4.5 3.8 1.6-5.4 4.6z"/><path class="k96" d="M245 362.8l5.4-3.1 5.3-3.9 3.8 1.7-5.4 4-5.3 3.1z"/><path class="k48" d="M239.6 364.8l5.4-2 3.8 1.8-5.4 2.2z"/><path class="k0" d="M234.3 365.7l5.3-.9 3.8 2-5.4 .9z"/><path class="k1" d="M228.9 365l5.4 .7 3.7 2-5.4-.6z"/><path class="k2" d="M223.5 362.7l5.4 2.3 3.7 2.1-5.3-2.3z"/><path class="k4" d="M218.2 358.2l5.3 4.5 3.8 2.1-5.4-4.4z"/><path class="k6" d="M212.8 351.5l5.4 6.7 3.7 2.2-5.4-6.6z"/><path class="k8" d="M207.4 342.2l5.4 9.3 3.7 2.3-5.3-9.3z"/><path class="k12" d="M202.1 329.9l5.3 12.3 3.8 2.3-5.4-12.2z"/><path class="k157" d="M436.7 237.5l5.4-17.3 3.7-1-5.3 17.4z"/><path class="k153" d="M431.3 251.9l5.4-14.4 3.8-.9-5.4 14.4z"/><path class="k103" d="M426 263.7l5.3-11.8 3.8-.9-5.4 11.8z"/><path class="k100" d="M420.6 273.1l5.4-9.4 3.7-.9-5.3 9.5z"/><path class="k99" d="M415.2 280.5l5.4-7.4 3.8-.8-5.4 7.5z"/><path class="k50" d="M409.9 286.2l5.3-5.7 3.8-.7-5.4 5.8z"/><path class="k1" d="M383 296.9l5.4-.5 5.3-1.2 5.4-1.9 5.4-2.9 5.4-4.2 3.7-.6-5.3 4.2-5.4 3-5.4 2-5.4 1.2-5.3 .6z"/><path class="k2" d="M377.6 297l5.4-.1 3.8-.3-5.4 .2z"/><path class="k3" d="M366.9 296.5l5.4 .3 5.3 .2 3.8-.2-5.4-.2-5.3-.2z"/><path class="k4" d="M361.5 296.3l5.4 .2 3.8-.1-5.4-.2z"/><path class="k5" d="M350.8 296.2l5.4-.1 5.3 .2 3.8-.1-5.4 0-5.4 .1z"/><path class="k6" d="M340 297.5l5.4-.8 5.4-.5 3.7 .1-5.3 .5-5.4 .9z"/><path class="k7" d="M318.6 305.7l5.3-2.9 5.4-2.2 5.4-1.8 5.3-1.3 3.8 .2-5.4 1.4-5.3 1.8-5.4 2.4-5.4 2.8z"/><path class="k55" d="M307.8 312.8l5.4-3.8 5.4-3.3 3.7 .4-5.4 3.4-5.3 3.9z"/><path class="k54" d="M302.5 317l5.3-4.2 3.8 .6-5.4 4.3z"/><path class="k102" d="M297.1 321.7l5.4-4.7 3.7 .7-5.4 4.8z"/><path class="k101" d="M291.7 326.7l5.4-5 3.7 .8-5.3 5z"/><path class="k100" d="M281 337.3l5.3-5.4 5.4-5.2 3.8 .8-5.4 5.3-5.4 5.4z"/><path class="k99" d="M275.6 342.6l5.4-5.3 3.7 .9-5.3 5.5z"/><path class="k98" d="M264.9 352.9l5.3-5 5.4-5.3 3.8 1.1-5.4 5.3-5.4 5.1z"/><path class="k97" d="M259.5 357.5l5.4-4.6 3.7 1.2-5.4 4.6z"/><path class="k96" d="M248.8 364.6l5.3-3.1 5.4-4 3.7 1.2-5.3 4-5.4 3.3z"/><path class="k48" d="M243.4 366.8l5.4-2.2 3.7 1.4-5.4 2.2z"/><path class="k0" d="M238 367.7l5.4-.9 3.7 1.4-5.3 1z"/><path class="k1" d="M232.6 367.1l5.4 .6 3.8 1.5-5.4-.6z"/><path class="k2" d="M227.3 364.8l5.3 2.3 3.8 1.5-5.4-2.2z"/><path class="k3" d="M221.9 360.4l5.4 4.4 3.7 1.6-5.4-4.3z"/><path class="k6" d="M216.5 353.8l5.4 6.6 3.7 1.7-5.3-6.6z"/><path class="k8" d="M211.2 344.5l5.3 9.3 3.8 1.7-5.4-9.2z"/><path class="k12" d="M205.8 332.3l5.4 12.2 3.7 1.8-5.4-12.1z"/><path class="k157" d="M440.5 236.6l5.3-17.4 3.8-1.5-5.4 17.5z"/><path class="k154" d="M435.1 251l5.4-14.4 3.7-1.4-5.3 14.4z"/><path class="k103" d="M429.7 262.8l5.4-11.8 3.8-1.4-5.4 11.9z"/><path class="k101" d="M424.4 272.3l5.3-9.5 3.8-1.3-5.4 9.6z"/><path class="k51" d="M419 279.8l5.4-7.5 3.7-1.2-5.3 7.5z"/><path class="k2" d="M408.3 289.8l5.3-4.2 5.4-5.8 3.8-1.2-5.4 5.8-5.4 4.4z"/><path class="k1" d="M397.5 294.8l5.4-2 5.4-3 3.7-1-5.4 3-5.3 2.1z"/><path class="k2" d="M381.4 296.8l5.4-.2 5.3-.6 5.4-1.2 3.8-.9-5.4 1.3-5.4 .6-5.3 .2z"/><path class="k3" d="M376 296.6l5.4 .2 3.8-.8-5.4 0z"/><path class="k4" d="M365.3 296.2l5.4 .2 5.3 .2 3.8-.6-5.4-.2-5.4-.1z"/><path class="k5" d="M359.9 296.2l5.4 0 3.7-.5-5.3 0z"/><path class="k6" d="M349.2 296.8l5.3-.5 5.4-.1 3.8-.5-5.4 .2-5.4 .6z"/><path class="k7" d="M311.6 313.4l5.3-3.9 5.4-3.4 5.4-2.8 5.4-2.4 5.3-1.8 5.4-1.4 5.4-.9 3.7-.3-5.3 1-5.4 1.4-5.4 1.9-5.4 2.4-5.3 2.9-5.4 3.5-5.4 3.9z"/><path class="k55" d="M306.2 317.7l5.4-4.3 3.7 .1-5.3 4.4z"/><path class="k54" d="M300.8 322.5l5.4-4.8 3.8 .2-5.4 4.8z"/><path class="k53" d="M295.5 327.5l5.3-5 3.8 .2-5.4 5.1z"/><path class="k101" d="M290.1 332.8l5.4-5.3 3.7 .3-5.4 5.4z"/><path class="k100" d="M284.7 338.2l5.4-5.4 3.7 .4-5.3 5.5z"/><path class="k99" d="M279.4 343.7l5.3-5.5 3.8 .5-5.4 5.5z"/><path class="k98" d="M268.6 354.1l5.4-5.1 5.4-5.3 3.7 .5-5.4 5.4-5.3 5.1z"/><path class="k97" d="M263.2 358.7l5.4-4.6 3.8 .6-5.4 4.7z"/><path class="k48" d="M252.5 366l5.4-3.3 5.3-4 3.8 .7-5.4 4.1-5.4 3.3z"/><path class="k0" d="M241.8 369.2l5.3-1 5.4-2.2 3.7 .8-5.3 2.3-5.4 1z"/><path class="k1" d="M236.4 368.6l5.4 .6 3.7 .9-5.4-.4z"/><path class="k2" d="M231 366.4l5.4 2.2 3.7 1.1-5.3-2.2z"/><path class="k3" d="M225.6 362.1l5.4 4.3 3.8 1.1-5.4-4.2z"/><path class="k5" d="M220.3 355.5l5.3 6.6 3.8 1.2-5.4-6.6z"/><path class="k8" d="M214.9 346.3l5.4 9.2 3.7 1.2-5.3-9.1z"/><path class="k12" d="M209.5 334.2l5.4 12.1 3.8 1.3-5.4-12.1z"/><path class="k158" d="M444.2 235.2l5.4-17.5 3.8-2-5.4 17.5z"/><path class="k107" d="M438.9 249.6l5.3-14.4 3.8-2-5.4 14.6z"/><path class="k104" d="M433.5 261.5l5.4-11.9 3.7-1.8-5.3 11.9z"/><path class="k54" d="M428.1 271.1l5.4-9.6 3.8-1.8-5.4 9.7z"/><path class="k4" d="M422.8 278.6l5.3-7.5 3.8-1.7-5.4 7.6z"/><path class="k3" d="M417.4 284.4l5.4-5.8 3.7-1.6-5.3 5.8z"/><path class="k2" d="M395.9 295.2l5.4-1.3 5.3-2.1 5.4-3 5.4-4.4 3.8-1.6-5.4 4.4-5.4 3.2-5.4 2.1-5.3 1.3z"/><path class="k3" d="M385.2 296l5.3-.2 5.4-.6 3.8-1.4-5.4 .7-5.4 .3z"/><path class="k4" d="M374.4 295.8l5.4 .2 5.4 0 3.7-1.2-5.4 0-5.3-.1z"/><path class="k5" d="M369 295.7l5.4 .1 3.8-1.1-5.4 0z"/><path class="k6" d="M358.3 295.9l5.4-.2 5.3 0 3.8-1-5.4 0-5.3 .3z"/><path class="k7" d="M347.6 297.5l5.3-1 5.4-.6 3.8-.9-5.4 .7-5.4 1z"/><path class="k8" d="M320.7 309.6l5.4-3.5 5.3-2.9 5.4-2.4 5.4-1.9 5.4-1.4 3.7-.8-5.4 1.5-5.3 2-5.4 2.4-5.4 3-5.3 3.6z"/><path class="k7" d="M310 317.9l5.3-4.4 5.4-3.9 3.8-.4-5.4 4-5.4 4.4z"/><path class="k6" d="M304.6 322.7l5.4-4.8 3.7-.3-5.4 4.9z"/><path class="k54" d="M299.2 327.8l5.4-5.1 3.7-.2-5.3 5.2z"/><path class="k53" d="M293.8 333.2l5.4-5.4 3.8-.1-5.4 5.4z"/><path class="k52" d="M288.5 338.7l5.3-5.5 3.8-.1-5.4 5.5z"/><path class="k51" d="M277.7 349.6l5.4-5.4 5.4-5.5 3.7-.1-5.3 5.6-5.4 5.5z"/><path class="k50" d="M272.4 354.7l5.3-5.1 3.8 .1-5.4 5.2z"/><path class="k49" d="M261.6 363.5l5.4-4.1 5.4-4.7 3.7 .2-5.4 4.7-5.3 4.2z"/><path class="k0" d="M245.5 370.1l5.4-1 5.3-2.3 5.4-3.3 3.8 .3-5.4 3.4-5.4 2.3-5.3 1.1z"/><path class="k1" d="M240.1 369.7l5.4 .4 3.8 .5-5.4-.4z"/><path class="k2" d="M234.8 367.5l5.3 2.2 3.8 .5-5.4-2.1z"/><path class="k3" d="M229.4 363.3l5.4 4.2 3.7 .6-5.4-4.2z"/><path class="k6" d="M224 356.7l5.4 6.6 3.7 .6-5.3-6.4z"/><path class="k8" d="M218.7 347.6l5.3 9.1 3.8 .8-5.4-9.1z"/><path class="k12" d="M213.3 335.5l5.4 12.1 3.7 .8-5.4-12z"/><path class="k111" d="M448 233.2l5.4-17.5 3.8-2.4-5.4 17.5z"/><path class="k108" d="M442.6 247.8l5.4-14.6 3.8-2.4-5.4 14.7z"/><path class="k105" d="M437.3 259.7l5.3-11.9 3.8-2.3-5.4 12z"/><path class="k55" d="M431.9 269.4l5.4-9.7 3.7-2.2-5.3 9.7z"/><path class="k5" d="M426.5 277l5.4-7.6 3.8-2.2-5.4 7.6z"/><path class="k4" d="M421.2 282.8l5.3-5.8 3.8-2.2-5.4 6z"/><path class="k3" d="M394.3 294.5l5.4-.7 5.3-1.3 5.4-2.1 5.4-3.2 5.4-4.4 3.7-2-5.4 4.4-5.3 3.2-5.4 2.2-5.4 1.4-5.3 .8z"/><path class="k4" d="M383.5 294.8l5.4 0 5.4-.3 3.8-1.7-5.4 .3-5.4 .1z"/><path class="k5" d="M378.2 294.7l5.3 .1 3.8-1.6-5.4 0z"/><path class="k6" d="M367.4 294.7l5.4 0 5.4 0 3.7-1.5-5.3 0-5.4 .1z"/><path class="k7" d="M356.7 295.7l5.4-.7 5.3-.3 3.8-1.4-5.4 .4-5.4 .7z"/><path class="k8" d="M319.1 313.2l5.4-4 5.3-3.6 5.4-3 5.4-2.4 5.3-2 5.4-1.5 5.4-1 3.7-1.3-5.3 1.1-5.4 1.5-5.4 2.1-5.3 2.5-5.4 3.1-5.4 3.6-5.4 4z"/><path class="k7" d="M308.3 322.5l5.4-4.9 5.4-4.4 3.7-.9-5.3 4.6-5.4 4.9z"/><path class="k6" d="M303 327.7l5.3-5.2 3.8-.7-5.4 5.2z"/><path class="k5" d="M297.6 333.1l5.4-5.4 3.7-.7-5.3 5.5z"/><path class="k53" d="M292.2 338.6l5.4-5.5 3.8-.6-5.4 5.6z"/><path class="k52" d="M286.9 344.2l5.3-5.6 3.8-.5-5.4 5.7z"/><path class="k51" d="M281.5 349.7l5.4-5.5 3.7-.4-5.4 5.5z"/><path class="k50" d="M276.1 354.9l5.4-5.2 3.7-.4-5.3 5.3z"/><path class="k1" d="M243.9 370.2l5.4 .4 5.3-1.1 5.4-2.3 5.4-3.4 5.3-4.2 5.4-4.7 3.8-.3-5.4 4.8-5.4 4.2-5.4 3.5-5.3 2.4-5.4 1.1-5.4-.3z"/><path class="k2" d="M238.5 368.1l5.4 2.1 3.7 .1-5.3-2z"/><path class="k4" d="M233.1 363.9l5.4 4.2 3.8 .2-5.4-4.1z"/><path class="k6" d="M227.8 357.5l5.3 6.4 3.8 .3-5.4-6.4z"/><path class="k8" d="M222.4 348.4l5.4 9.1 3.7 .3-5.4-9z"/><path class="k12" d="M217 336.4l5.4 12 3.7 .4-5.3-12z"/><path class="k112" d="M451.8 230.8l5.4-17.5 3.7-2.9-5.3 17.6z"/><path class="k108" d="M446.4 245.5l5.4-14.7 3.8-2.8-5.4 14.7z"/><path class="k58" d="M441 257.5l5.4-12 3.8-2.8-5.4 12.1z"/><path class="k7" d="M435.7 267.2l5.3-9.7 3.8-2.7-5.4 9.7z"/><path class="k6" d="M430.3 274.8l5.4-7.6 3.7-2.7-5.3 7.8z"/><path class="k5" d="M424.9 280.8l5.4-6 3.8-2.5-5.4 6z"/><path class="k4" d="M398.1 292.8l5.3-.8 5.4-1.4 5.4-2.2 5.3-3.2 5.4-4.4 3.8-2.5-5.4 4.5-5.4 3.3-5.3 2.2-5.4 1.5-5.4 .8z"/><path class="k5" d="M387.3 293.2l5.4-.1 5.4-.3 3.7-2.2-5.4 .4-5.3 .2z"/><path class="k6" d="M376.6 293.2l5.3 0 5.4 0 3.8-2-5.4 0-5.4 .1z"/><path class="k7" d="M371.2 293.3l5.4-.1 3.7-1.9-5.3 .2z"/><path class="k8" d="M360.4 294.4l5.4-.7 5.4-.4 3.8-1.8-5.4 .4-5.4 .8z"/><path class="k9" d="M328.2 308.3l5.4-3.6 5.4-3.1 5.3-2.5 5.4-2.1 5.4-1.5 5.3-1.1 3.8-1.7-5.4 1.2-5.3 1.6-5.4 2.1-5.4 2.6-5.4 3.1-5.3 3.7z"/><path class="k8" d="M317.5 316.9l5.3-4.6 5.4-4 3.8-1.3-5.4 4.1-5.4 4.6z"/><path class="k7" d="M306.7 327l5.4-5.2 5.4-4.9 3.7-1.2-5.4 5-5.3 5.3z"/><path class="k6" d="M301.4 332.5l5.3-5.5 3.8-1-5.4 5.5z"/><path class="k5" d="M296 338.1l5.4-5.6 3.7-1-5.4 5.7z"/><path class="k4" d="M290.6 343.8l5.4-5.7 3.7-.9-5.3 5.7z"/><path class="k3" d="M279.9 354.6l5.3-5.3 5.4-5.5 3.8-.9-5.4 5.6-5.4 5.3z"/><path class="k2" d="M274.5 359.4l5.4-4.8 3.7-.8-5.4 4.9z"/><path class="k1" d="M253 370.6l5.4-1.1 5.3-2.4 5.4-3.5 5.4-4.2 3.7-.7-5.3 4.3-5.4 3.5-5.4 2.5-5.4 1.2z"/><path class="k2" d="M247.6 370.3l5.4 .3 3.7-.4-5.3-.2z"/><path class="k3" d="M242.3 368.3l5.3 2 3.8-.3-5.4-2z"/><path class="k4" d="M236.9 364.2l5.4 4.1 3.7-.3-5.4-4z"/><path class="k6" d="M231.5 357.8l5.4 6.4 3.7-.2-5.3-6.4z"/><path class="k9" d="M226.1 348.8l5.4 9 3.8-.2-5.4-8.9z"/><path class="k12" d="M220.8 336.8l5.3 12 3.8-.1-5.4-11.9z"/><path class="k113" d="M455.6 228l5.3-17.6 3.8-3.3-5.4 17.7z"/><path class="k110" d="M450.2 242.7l5.4-14.7 3.7-3.2-5.4 14.8z"/><path class="k59" d="M444.8 254.8l5.4-12.1 3.7-3.1-5.3 12.1z"/><path class="k9" d="M439.4 264.5l5.4-9.7 3.8-3.1-5.4 9.8z"/><path class="k7" d="M434.1 272.3l5.3-7.8 3.8-3-5.4 7.9z"/><path class="k6" d="M428.7 278.3l5.4-6 3.7-2.9-5.3 6z"/><path class="k5" d="M396.4 291l5.4-.4 5.4-.8 5.4-1.5 5.3-2.2 5.4-3.3 5.4-4.5 3.8-2.9-5.4 4.6-5.4 3.3-5.4 2.4-5.3 1.5-5.4 .9-5.4 .5z"/><path class="k6" d="M391.1 291.2l5.3-.2 3.8-2.4-5.4 .2z"/><path class="k7" d="M380.3 291.3l5.4-.1 5.4 0 3.7-2.4-5.3 .1-5.4 .1z"/><path class="k8" d="M369.6 291.9l5.4-.4 5.3-.2 3.8-2.3-5.4 .3-5.4 .5z"/><path class="k9" d="M358.8 293.9l5.4-1.2 5.4-.8 3.7-2.1-5.3 .8-5.4 1.2z"/><path class="k10" d="M337.3 303.3l5.4-3.1 5.4-2.6 5.4-2.1 5.3-1.6 3.8-2.1-5.4 1.7-5.4 2.2-5.3 2.7-5.4 3.2z"/><path class="k9" d="M321.2 315.7l5.4-4.6 5.4-4.1 5.3-3.7 3.8-1.7-5.4 3.7-5.3 4.2-5.4 4.6z"/><path class="k8" d="M315.8 320.7l5.4-5 3.8-1.6-5.4 5.1z"/><path class="k7" d="M310.5 326l5.3-5.3 3.8-1.5-5.4 5.3z"/><path class="k6" d="M299.7 337.2l5.4-5.7 5.4-5.5 3.7-1.5-5.3 5.7-5.4 5.7z"/><path class="k5" d="M294.4 342.9l5.3-5.7 3.8-1.3-5.4 5.8z"/><path class="k4" d="M289 348.5l5.4-5.6 3.7-1.2-5.4 5.6z"/><path class="k3" d="M283.6 353.8l5.4-5.3 3.7-1.2-5.3 5.4z"/><path class="k2" d="M267.5 366.5l5.4-3.5 5.3-4.3 5.4-4.9 3.8-1.1-5.4 5-5.4 4.4-5.4 3.5z"/><path class="k1" d="M262.1 369l5.4-2.5 3.7-.9-5.3 2.6z"/><path class="k2" d="M251.4 370l5.3 .2 5.4-1.2 3.8-.8-5.4 1.3-5.4-.2z"/><path class="k3" d="M246 368l5.4 2 3.7-.7-5.4-2z"/><path class="k4" d="M240.6 364l5.4 4 3.7-.7-5.3-3.9z"/><path class="k6" d="M235.3 357.6l5.3 6.4 3.8-.6-5.4-6.3z"/><path class="k9" d="M229.9 348.7l5.4 8.9 3.7-.5-5.4-8.8z"/><path class="k12" d="M224.5 336.8l5.4 11.9 3.7-.4-5.4-11.9z"/><path class="k114" d="M459.3 224.8l5.4-17.7 3.8-3.6-5.4 17.8z"/><path class="k63" d="M453.9 239.6l5.4-14.8 3.8-3.5-5.4 14.8z"/><path class="k12" d="M448.6 251.7l5.3-12.1 3.8-3.5-5.4 12.2z"/><path class="k10" d="M443.2 261.5l5.4-9.8 3.7-3.4-5.3 9.9z"/><path class="k8" d="M437.8 269.4l5.4-7.9 3.8-3.3-5.4 7.9z"/><path class="k7" d="M432.5 275.4l5.3-6 3.8-3.3-5.4 6.1z"/><path class="k6" d="M405.6 288.1l5.4-.9 5.3-1.5 5.4-2.4 5.4-3.3 5.4-4.6 3.7-3.2-5.4 4.7-5.3 3.4-5.4 2.4-5.4 1.5-5.4 1z"/><path class="k7" d="M394.8 288.8l5.4-.2 5.4-.5 3.7-2.9-5.3 .6-5.4 .2z"/><path class="k8" d="M384.1 289l5.4-.1 5.3-.1 3.8-2.8-5.4 .2-5.4 .2z"/><path class="k9" d="M373.3 289.8l5.4-.5 5.4-.3 3.7-2.6-5.3 .3-5.4 .6z"/><path class="k10" d="M357.2 293.5l5.4-1.7 5.4-1.2 5.3-.8 3.8-2.5-5.4 .9-5.3 1.3-5.4 1.7z"/><path class="k11" d="M341.1 301.6l5.4-3.2 5.3-2.7 5.4-2.2 3.8-2.3-5.4 2.3-5.4 2.7-5.3 3.3z"/><path class="k10" d="M330.4 309.5l5.3-4.2 5.4-3.7 3.8-2.1-5.4 3.7-5.4 4.3z"/><path class="k9" d="M319.6 319.2l5.4-5.1 5.4-4.6 3.7-2-5.4 4.7-5.3 5.1z"/><path class="k8" d="M314.2 324.5l5.4-5.3 3.8-1.9-5.4 5.5z"/><path class="k7" d="M308.9 330.2l5.3-5.7 3.8-1.7-5.4 5.7z"/><path class="k6" d="M303.5 335.9l5.4-5.7 3.7-1.7-5.4 5.8z"/><path class="k5" d="M292.7 347.3l5.4-5.6 5.4-5.8 3.7-1.6-5.3 5.8-5.4 5.7z"/><path class="k4" d="M287.4 352.7l5.3-5.4 3.8-1.5-5.4 5.5z"/><path class="k3" d="M276.6 362.1l5.4-4.4 5.4-5 3.7-1.4-5.4 5-5.3 4.5z"/><path class="k2" d="M260.5 369.5l5.4-1.3 5.3-2.6 5.4-3.5 3.8-1.3-5.4 3.6-5.4 2.6-5.4 1.4z"/><path class="k3" d="M255.1 369.3l5.4 .2 3.7-1.1-5.3-.2z"/><path class="k4" d="M249.7 367.3l5.4 2 3.8-1.1-5.4-1.8z"/><path class="k5" d="M244.4 363.4l5.3 3.9 3.8-.9-5.4-3.9z"/><path class="k7" d="M239 357.1l5.4 6.3 3.7-.9-5.4-6.2z"/><path class="k10" d="M233.6 348.3l5.4 8.8 3.7-.8-5.3-8.8z"/><path class="k13" d="M228.2 336.4l5.4 11.9 3.8-.8-5.4-11.8z"/><path class="k116" d="M463.1 221.3l5.4-17.8 3.7-3.8-5.3 17.8z"/><path class="k64" d="M457.7 236.1l5.4-14.8 3.8-3.8-5.4 14.9z"/><path class="k13" d="M452.3 248.3l5.4-12.2 3.8-3.7-5.4 12.3z"/><path class="k11" d="M447 258.2l5.3-9.9 3.8-3.6-5.4 9.9z"/><path class="k9" d="M441.6 266.1l5.4-7.9 3.7-3.6-5.3 8z"/><path class="k8" d="M436.2 272.2l5.4-6.1 3.8-3.5-5.4 6.1z"/><path class="k7" d="M409.3 285.2l5.4-1 5.4-1.5 5.4-2.4 5.3-3.4 5.4-4.7 3.8-3.5-5.4 4.8-5.4 3.4-5.3 2.5-5.4 1.6-5.4 1.1z"/><path class="k8" d="M398.6 286l5.4-.2 5.3-.6 3.8-3.1-5.4 .6-5.3 .3z"/><path class="k9" d="M387.8 286.4l5.4-.2 5.4-.2 3.8-3-5.4 .3-5.4 .2z"/><path class="k10" d="M377.1 287.3l5.4-.6 5.3-.3 3.8-2.9-5.4 .4-5.3 .7z"/><path class="k11" d="M361 291.2l5.4-1.7 5.3-1.3 5.4-.9 3.8-2.7-5.4 .9-5.4 1.4-5.4 1.8z"/><path class="k12" d="M350.2 296.2l5.4-2.7 5.4-2.3 3.7-2.5-5.3 2.3-5.4 2.8z"/><path class="k11" d="M334.1 307.5l5.4-4.3 5.4-3.7 5.3-3.3 3.8-2.4-5.4 3.3-5.4 3.9-5.3 4.3z"/><path class="k10" d="M323.4 317.3l5.3-5.1 5.4-4.7 3.8-2.2-5.4 4.8-5.4 5.2z"/><path class="k9" d="M318 322.8l5.4-5.5 3.7-2-5.4 5.5z"/><path class="k8" d="M312.6 328.5l5.4-5.7 3.7-2-5.3 5.7z"/><path class="k7" d="M307.2 334.3l5.4-5.8 3.8-2-5.4 5.9z"/><path class="k6" d="M301.9 340.1l5.3-5.8 3.8-1.9-5.4 5.9z"/><path class="k5" d="M291.1 351.3l5.4-5.5 5.4-5.7 3.7-1.8-5.4 5.8-5.3 5.5z"/><path class="k4" d="M285.7 356.3l5.4-5 3.8-1.7-5.4 5.1z"/><path class="k3" d="M258.9 368.2l5.3 .2 5.4-1.4 5.4-2.6 5.4-3.6 5.3-4.5 3.8-1.6-5.4 4.5-5.4 3.7-5.3 2.6-5.4 1.5-5.4-.1z"/><path class="k4" d="M253.5 366.4l5.4 1.8 3.7-1.3-5.4-1.8z"/><path class="k6" d="M248.1 362.5l5.4 3.9 3.7-1.3-5.3-3.8z"/><path class="k7" d="M242.7 356.3l5.4 6.2 3.8-1.2-5.4-6.1z"/><path class="k10" d="M237.4 347.5l5.3 8.8 3.8-1.1-5.4-8.8z"/><path class="k13" d="M232 335.7l5.4 11.8 3.7-1.1-5.4-11.7z"/><path class="k117" d="M466.9 217.5l5.3-17.8 3.8-4.1-5.4 17.9z"/><path class="k65" d="M461.5 232.4l5.4-14.9 3.7-4-5.3 14.9z"/><path class="k14" d="M456.1 244.7l5.4-12.3 3.8-4-5.4 12.4z"/><path class="k12" d="M450.7 254.6l5.4-9.9 3.8-3.9-5.4 10z"/><path class="k10" d="M445.4 262.6l5.3-8 3.8-3.8-5.4 8z"/><path class="k9" d="M434.6 273.5l5.4-4.8 5.4-6.1 3.7-3.8-5.4 6.3-5.3 4.7z"/><path class="k8" d="M413.1 282.1l5.4-1.1 5.4-1.6 5.3-2.5 5.4-3.4 3.8-3.7-5.4 3.6-5.4 2.5-5.4 1.7-5.3 1.1z"/><path class="k9" d="M402.4 283l5.3-.3 5.4-.6 3.8-3.4-5.4 .7-5.4 .4z"/><path class="k10" d="M391.6 283.5l5.4-.2 5.4-.3 3.7-3.2-5.4 .3-5.3 .3z"/><path class="k11" d="M380.9 284.6l5.3-.7 5.4-.4 3.8-3.1-5.4 .5-5.4 .7z"/><path class="k12" d="M364.7 288.7l5.4-1.8 5.4-1.4 5.4-.9 3.7-3-5.4 1-5.3 1.4-5.4 1.9z"/><path class="k13" d="M354 293.8l5.4-2.8 5.3-2.3 3.8-2.8-5.4 2.4-5.4 2.8z"/><path class="k12" d="M337.9 305.3l5.3-4.3 5.4-3.9 5.4-3.3 3.7-2.7-5.3 3.4-5.4 3.9-5.4 4.4z"/><path class="k11" d="M332.5 310.1l5.4-4.8 3.7-2.5-5.4 4.9z"/><path class="k10" d="M321.7 320.8l5.4-5.5 5.4-5.2 3.7-2.4-5.3 5.2-5.4 5.6z"/><path class="k9" d="M316.4 326.5l5.3-5.7 3.8-2.3-5.4 5.8z"/><path class="k8" d="M311 332.4l5.4-5.9 3.7-2.2-5.4 6z"/><path class="k7" d="M305.6 338.3l5.4-5.9 3.7-2.1-5.3 5.9z"/><path class="k6" d="M300.2 344.1l5.4-5.8 3.8-2.1-5.4 5.9z"/><path class="k5" d="M289.5 354.7l5.4-5.1 5.3-5.5 3.8-2-5.4 5.6-5.4 5.1z"/><path class="k4" d="M278.7 362.9l5.4-3.7 5.4-4.5 3.7-1.9-5.3 4.6-5.4 3.7z"/><path class="k3" d="M268 367l5.4-1.5 5.3-2.6 3.8-1.8-5.4 2.8-5.4 1.5z"/><path class="k4" d="M262.6 366.9l5.4 .1 3.7-1.6-5.3 0z"/><path class="k5" d="M257.2 365.1l5.4 1.8 3.8-1.5-5.4-1.7z"/><path class="k6" d="M251.9 361.3l5.3 3.8 3.8-1.4-5.4-3.8z"/><path class="k8" d="M246.5 355.2l5.4 6.1 3.7-1.4-5.4-6.1z"/><path class="k11" d="M241.1 346.4l5.4 8.8 3.7-1.4-5.3-8.6z"/><path class="k14" d="M235.7 334.7l5.4 11.7 3.8-1.2-5.4-11.7z"/><path class="k70" d="M470.6 213.5l5.4-17.9 3.8-4.2-5.4 17.9z"/><path class="k67" d="M465.3 228.4l5.3-14.9 3.8-4.2-5.4 15z"/><path class="k16" d="M459.9 240.8l5.4-12.4 3.7-4.1-5.4 12.4z"/><path class="k14" d="M454.5 250.8l5.4-10 3.7-4.1-5.3 10.1z"/><path class="k12" d="M449.1 258.8l5.4-8 3.8-4-5.4 8.1z"/><path class="k11" d="M443.7 265.1l5.4-6.3 3.8-3.9-5.4 6.3z"/><path class="k10" d="M438.4 269.8l5.3-4.7 3.8-3.9-5.4 4.9z"/><path class="k9" d="M422.2 277.6l5.4-1.7 5.4-2.5 5.4-3.6 3.7-3.7-5.3 3.6-5.4 2.5-5.4 1.8z"/><path class="k10" d="M406.1 279.8l5.4-.4 5.4-.7 5.3-1.1 3.8-3.6-5.4 1.2-5.3 .7-5.4 .5z"/><path class="k11" d="M400.7 280.1l5.4-.3 3.8-3.4-5.4 .4z"/><path class="k12" d="M390 280.9l5.4-.5 5.3-.3 3.8-3.3-5.4 .4-5.3 .5z"/><path class="k13" d="M373.9 284l5.3-1.4 5.4-1 5.4-.7 3.8-3.2-5.4 .8-5.4 1.1-5.4 1.4z"/><path class="k14" d="M357.7 291.1l5.4-2.8 5.4-2.4 5.4-1.9 3.7-3-5.4 2-5.3 2.4-5.4 2.9z"/><path class="k13" d="M341.6 302.8l5.4-4.4 5.4-3.9 5.3-3.4 3.8-2.8-5.4 3.5-5.4 4-5.3 4.4z"/><path class="k12" d="M336.2 307.7l5.4-4.9 3.8-2.6-5.4 5z"/><path class="k11" d="M325.5 318.5l5.4-5.6 5.3-5.2 3.8-2.5-5.4 5.3-5.4 5.6z"/><path class="k10" d="M320.1 324.3l5.4-5.8 3.7-2.4-5.3 5.9z"/><path class="k9" d="M314.7 330.3l5.4-6 3.8-2.3-5.4 6z"/><path class="k8" d="M309.4 336.2l5.3-5.9 3.8-2.3-5.4 6z"/><path class="k7" d="M304 342.1l5.4-5.9 3.7-2.2-5.4 5.9z"/><path class="k6" d="M298.6 347.7l5.4-5.6 3.7-2.2-5.3 5.7z"/><path class="k5" d="M287.9 357.4l5.3-4.6 5.4-5.1 3.8-2.1-5.4 5.2-5.4 4.7z"/><path class="k4" d="M271.7 365.4l5.4-1.5 5.4-2.8 5.4-3.7 3.7-1.9-5.4 3.8-5.3 2.8-5.4 1.5z"/><path class="k5" d="M266.4 365.4l5.3 0 3.8-1.8-5.4 .1z"/><path class="k6" d="M261 363.7l5.4 1.7 3.7-1.7-5.4-1.7z"/><path class="k7" d="M255.6 359.9l5.4 3.8 3.7-1.7-5.4-3.7z"/><path class="k9" d="M250.2 353.8l5.4 6.1 3.7-1.6-5.3-6z"/><path class="k11" d="M244.9 345.2l5.3 8.6 3.8-1.5-5.4-8.6z"/><path class="k15" d="M239.5 333.5l5.4 11.7 3.7-1.5-5.4-11.5z"/><path class="k72" d="M474.4 209.3l5.4-17.9 3.7-4.3-5.3 18z"/><path class="k68" d="M469 224.3l5.4-15 3.8-4.2-5.4 15.1z"/><path class="k17" d="M463.6 236.7l5.4-12.4 3.8-4.1-5.4 12.4z"/><path class="k15" d="M458.3 246.8l5.3-10.1 3.8-4.1-5.4 10.2z"/><path class="k13" d="M452.9 254.9l5.4-8.1 3.7-4-5.3 8.1z"/><path class="k12" d="M447.5 261.2l5.4-6.3 3.8-4-5.4 6.4z"/><path class="k11" d="M436.8 269.7l5.3-3.6 5.4-4.9 3.8-3.9-5.4 4.9-5.4 3.7z"/><path class="k10" d="M431.4 272.2l5.4-2.5 3.7-3.8-5.3 2.6z"/><path class="k11" d="M415.3 275.9l5.3-.7 5.4-1.2 5.4-1.8 3.8-3.7-5.4 1.9-5.4 1.2-5.4 .8z"/><path class="k12" d="M404.5 276.8l5.4-.4 5.4-.5 3.7-3.5-5.4 .6-5.3 .4z"/><path class="k13" d="M393.8 277.7l5.3-.5 5.4-.4 3.8-3.4-5.4 .4-5.4 .6z"/><path class="k14" d="M377.6 281l5.4-1.4 5.4-1.1 5.4-.8 3.7-3.3-5.4 .9-5.3 1.1-5.4 1.6z"/><path class="k15" d="M361.5 288.3l5.4-2.9 5.3-2.4 5.4-2 3.8-3-5.4 2-5.4 2.5-5.3 3z"/><path class="k14" d="M345.4 300.2l5.3-4.4 5.4-4 5.4-3.5 3.8-2.8-5.4 3.5-5.4 4-5.4 4.6z"/><path class="k13" d="M340 305.2l5.4-5 3.7-2.6-5.4 4.9z"/><path class="k12" d="M329.2 316.1l5.4-5.6 5.4-5.3 3.7-2.7-5.3 5.4-5.4 5.7z"/><path class="k11" d="M323.9 322l5.3-5.9 3.8-2.5-5.4 6z"/><path class="k10" d="M318.5 328l5.4-6 3.7-2.4-5.4 6z"/><path class="k9" d="M313.1 334l5.4-6 3.7-2.4-5.3 6.1z"/><path class="k8" d="M307.7 339.9l5.4-5.9 3.8-2.3-5.4 6z"/><path class="k7" d="M302.4 345.6l5.3-5.7 3.8-2.2-5.4 5.7z"/><path class="k6" d="M291.6 355.5l5.4-4.7 5.4-5.2 3.7-2.2-5.4 5.3-5.3 4.7z"/><path class="k5" d="M270.1 363.7l5.4-.1 5.4-1.5 5.3-2.8 5.4-3.8 3.8-2.1-5.4 3.9-5.4 2.9-5.4 1.6-5.4 .1z"/><path class="k6" d="M264.7 362l5.4 1.7 3.7-1.8-5.3-1.6z"/><path class="k8" d="M259.3 358.3l5.4 3.7 3.8-1.7-5.4-3.6z"/><path class="k10" d="M254 352.3l5.3 6 3.8-1.6-5.4-5.9z"/><path class="k12" d="M248.6 343.7l5.4 8.6 3.7-1.5-5.4-8.6z"/><path class="k15" d="M243.2 332.2l5.4 11.5 3.7-1.5-5.3-11.5z"/><path class="k73" d="M478.2 205.1l5.3-18 3.8-4.4-5.4 18.1z"/><path class="k70" d="M472.8 220.2l5.4-15.1 3.7-4.3-5.3 15.2z"/><path class="k19" d="M467.4 232.6l5.4-12.4 3.8-4.2-5.4 12.5z"/><path class="k16" d="M462 242.8l5.4-10.2 3.8-4.1-5.4 10.2z"/><path class="k15" d="M456.7 250.9l5.3-8.1 3.8-4.1-5.4 8.2z"/><path class="k13" d="M451.3 257.3l5.4-6.4 3.7-4-5.4 6.5z"/><path class="k12" d="M419 272.4l5.4-.8 5.4-1.2 5.4-1.9 5.3-2.6 5.4-3.7 5.4-4.9 3.7-3.9-5.3 4.9-5.4 3.8-5.4 2.7-5.4 1.9-5.3 1.3-5.4 .9z"/><path class="k13" d="M408.3 273.4l5.3-.4 5.4-.6 3.8-3.5-5.4 .6-5.4 .5z"/><path class="k14" d="M397.5 274.4l5.4-.6 5.4-.4 3.7-3.4-5.3 .5-5.4 .6z"/><path class="k15" d="M386.8 276.4l5.3-1.1 5.4-.9 3.8-3.3-5.4 .9-5.4 1.3z"/><path class="k16" d="M365.3 285.5l5.3-3 5.4-2.5 5.4-2 5.4-1.6 3.7-3.1-5.4 1.6-5.3 2-5.4 2.6-5.4 3.1z"/><path class="k15" d="M349.1 297.6l5.4-4.6 5.4-4 5.4-3.5 3.7-2.9-5.4 3.6-5.3 4.1-5.4 4.6z"/><path class="k14" d="M343.7 302.5l5.4-4.9 3.8-2.7-5.4 5z"/><path class="k13" d="M333 313.6l5.4-5.7 5.3-5.4 3.8-2.6-5.4 5.5-5.4 5.7z"/><path class="k12" d="M327.6 319.6l5.4-6 3.7-2.5-5.3 6z"/><path class="k11" d="M322.2 325.6l5.4-6 3.8-2.5-5.4 6.2z"/><path class="k10" d="M316.9 331.7l5.3-6.1 3.8-2.3-5.4 6.1z"/><path class="k9" d="M311.5 337.7l5.4-6 3.7-2.3-5.4 6.1z"/><path class="k8" d="M306.1 343.4l5.4-5.7 3.7-2.2-5.3 5.8z"/><path class="k7" d="M295.4 353.4l5.3-4.7 5.4-5.3 3.8-2.1-5.4 5.3-5.4 4.8z"/><path class="k6" d="M273.8 361.9l5.4-.1 5.4-1.6 5.4-2.9 5.4-3.9 3.7-2-5.4 3.9-5.4 3-5.3 1.7-5.4 .2z"/><path class="k7" d="M268.5 360.3l5.3 1.6 3.8-1.7-5.4-1.6z"/><path class="k8" d="M263.1 356.7l5.4 3.6 3.7-1.7-5.4-3.5z"/><path class="k10" d="M257.7 350.8l5.4 5.9 3.7-1.6-5.3-5.9z"/><path class="k13" d="M252.3 342.2l5.4 8.6 3.8-1.6-5.4-8.5z"/><path class="k16" d="M247 330.7l5.3 11.5 3.8-1.5-5.4-11.4z"/><path class="k75" d="M481.9 200.8l5.4-18.1 3.8-4.2-5.4 18.1z"/><path class="k71" d="M476.6 216l5.3-15.2 3.8-4.2-5.4 15.2z"/><path class="k20" d="M471.2 228.5l5.4-12.5 3.7-4.2-5.4 12.6z"/><path class="k18" d="M465.8 238.7l5.4-10.2 3.7-4.1-5.3 10.3z"/><path class="k16" d="M460.4 246.9l5.4-8.2 3.8-4-5.4 8.3z"/><path class="k15" d="M455 253.4l5.4-6.5 3.8-3.9-5.4 6.5z"/><path class="k14" d="M449.7 258.3l5.3-4.9 3.8-3.9-5.4 5z"/><path class="k13" d="M428.2 268l5.3-1.3 5.4-1.9 5.4-2.7 5.4-3.8 3.7-3.8-5.3 3.8-5.4 2.8-5.4 2-5.4 1.3z"/><path class="k14" d="M417.4 269.5l5.4-.6 5.4-.9 3.7-3.6-5.4 1-5.3 .7z"/><path class="k15" d="M406.7 270.5l5.3-.5 5.4-.5 3.8-3.4-5.4 .5-5.4 .6z"/><path class="k16" d="M390.5 273.3l5.4-1.3 5.4-.9 5.4-.6 3.7-3.3-5.4 .7-5.3 1-5.4 1.3z"/><path class="k17" d="M363.6 286.2l5.4-3.6 5.4-3.1 5.4-2.6 5.3-2 5.4-1.6 3.8-3.1-5.4 1.6-5.4 2.2-5.4 2.6-5.3 3.1-5.4 3.7z"/><path class="k16" d="M352.9 294.9l5.4-4.6 5.3-4.1 3.8-2.8-5.4 4.2-5.4 4.6z"/><path class="k15" d="M347.5 299.9l5.4-5 3.7-2.7-5.3 5.1z"/><path class="k14" d="M336.7 311.1l5.4-5.7 5.4-5.5 3.8-2.6-5.4 5.5-5.4 5.9z"/><path class="k13" d="M331.4 317.1l5.3-6 3.8-2.4-5.4 6z"/><path class="k12" d="M326 323.3l5.4-6.2 3.7-2.4-5.4 6.3z"/><path class="k11" d="M320.6 329.4l5.4-6.1 3.7-2.3-5.3 6.2z"/><path class="k10" d="M315.2 335.5l5.4-6.1 3.8-2.2-5.4 6.1z"/><path class="k9" d="M309.9 341.3l5.3-5.8 3.8-2.2-5.4 5.9z"/><path class="k8" d="M304.5 346.6l5.4-5.3 3.7-2.1-5.4 5.4z"/><path class="k7" d="M277.6 360.2l5.4-.2 5.3-1.7 5.4-3 5.4-3.9 5.4-4.8 3.7-2-5.3 4.8-5.4 4-5.4 3-5.4 1.8-5.4 .2z"/><path class="k8" d="M272.2 358.6l5.4 1.6 3.7-1.8-5.3-1.4z"/><path class="k9" d="M266.8 355.1l5.4 3.5 3.8-1.6-5.4-3.5z"/><path class="k11" d="M261.5 349.2l5.3 5.9 3.8-1.6-5.4-5.8z"/><path class="k14" d="M256.1 340.7l5.4 8.5 3.7-1.5-5.4-8.5z"/><path class="k17" d="M250.7 329.3l5.4 11.4 3.7-1.5-5.4-11.3z"/><path class="k124" d="M485.7 196.6l5.4-18.1 3.8-4.2-5.4 18.2z"/><path class="k72" d="M480.3 211.8l5.4-15.2 3.8-4.1-5.4 15.3z"/><path class="k21" d="M474.9 224.4l5.4-12.6 3.8-4-5.4 12.7z"/><path class="k19" d="M469.6 234.7l5.3-10.3 3.8-3.9-5.4 10.3z"/><path class="k17" d="M464.2 243l5.4-8.3 3.7-3.9-5.3 8.3z"/><path class="k16" d="M458.8 249.5l5.4-6.5 3.8-3.9-5.4 6.6z"/><path class="k15" d="M448.1 258.3l5.3-3.8 5.4-5 3.8-3.8-5.4 5.1-5.4 3.9z"/><path class="k14" d="M437.3 263.1l5.4-2 5.4-2.8 3.7-3.6-5.4 2.8-5.3 2.1z"/><path class="k15" d="M421.2 266.1l5.3-.7 5.4-1 5.4-1.3 3.8-3.5-5.4 1.4-5.4 1-5.4 .8z"/><path class="k16" d="M410.4 267.2l5.4-.6 5.4-.5 3.7-3.3-5.3 .6-5.4 .6z"/><path class="k17" d="M399.7 268.9l5.3-1 5.4-.7 3.8-3.2-5.4 .8-5.4 1z"/><path class="k18" d="M367.4 283.4l5.4-3.7 5.3-3.1 5.4-2.6 5.4-2.2 5.4-1.6 5.4-1.3 3.7-3.1-5.4 1.4-5.3 1.7-5.4 2.2-5.4 2.7-5.4 3.2-5.4 3.7z"/><path class="k17" d="M356.6 292.2l5.4-4.6 5.4-4.2 3.7-2.7-5.3 4.3-5.4 4.7z"/><path class="k16" d="M351.3 297.3l5.3-5.1 3.8-2.5-5.4 5.2z"/><path class="k15" d="M345.9 302.8l5.4-5.5 3.7-2.4-5.4 5.6z"/><path class="k14" d="M335.1 314.7l5.4-6 5.4-5.9 3.7-2.3-5.4 5.9-5.3 6.1z"/><path class="k13" d="M329.7 321l5.4-6.3 3.8-2.2-5.4 6.3z"/><path class="k12" d="M324.4 327.2l5.3-6.2 3.8-2.2-5.4 6.3z"/><path class="k11" d="M319 333.3l5.4-6.1 3.7-2.1-5.4 6.1z"/><path class="k10" d="M313.6 339.2l5.4-5.9 3.7-2.1-5.3 6z"/><path class="k9" d="M308.2 344.6l5.4-5.4 3.8-2-5.4 5.5z"/><path class="k8" d="M297.5 353.4l5.4-4 5.3-4.8 3.8-1.9-5.4 4.8-5.4 4.1z"/><path class="k7" d="M286.7 358.2l5.4-1.8 5.4-3 3.7-1.8-5.4 3.1-5.3 1.8z"/><path class="k8" d="M281.3 358.4l5.4-.2 3.8-1.7-5.4 .3z"/><path class="k9" d="M276 357l5.3 1.4 3.8-1.6-5.4-1.4z"/><path class="k10" d="M270.6 353.5l5.4 3.5 3.7-1.6-5.4-3.4z"/><path class="k12" d="M265.2 347.7l5.4 5.8 3.7-1.5-5.4-5.7z"/><path class="k14" d="M259.8 339.2l5.4 8.5 3.7-1.4-5.3-8.4z"/><path class="k17" d="M254.4 327.9l5.4 11.3 3.8-1.3-5.4-11.3z"/><path class="k125" d="M489.5 192.5l5.4-18.2 3.7-3.9-5.4 18.2z"/><path class="k74" d="M484.1 207.8l5.4-15.3 3.7-3.9-5.3 15.4z"/><path class="k23" d="M478.7 220.5l5.4-12.7 3.8-3.8-5.4 12.7z"/><path class="k20" d="M473.3 230.8l5.4-10.3 3.8-3.8-5.4 10.4z"/><path class="k19" d="M468 239.1l5.3-8.3 3.8-3.7-5.4 8.4z"/><path class="k17" d="M462.6 245.7l5.4-6.6 3.7-3.6-5.4 6.7z"/><path class="k16" d="M424.9 262.8l5.4-.8 5.4-1 5.4-1.4 5.3-2.1 5.4-2.8 5.4-3.9 5.4-5.1 3.7-3.5-5.3 5.1-5.4 4-5.4 2.9-5.4 2.1-5.4 1.5-5.3 1-5.4 .9z"/><path class="k17" d="M414.2 264l5.4-.6 5.3-.6 3.8-3.1-5.4 .6-5.4 .8z"/><path class="k18" d="M403.4 265.8l5.4-1 5.4-.8 3.7-2.9-5.3 .8-5.4 1.1z"/><path class="k19" d="M371.1 280.7l5.4-3.7 5.4-3.2 5.4-2.7 5.4-2.2 5.3-1.7 5.4-1.4 3.8-2.8-5.4 1.4-5.4 1.8-5.4 2.3-5.3 2.7-5.4 3.3-5.4 3.8z"/><path class="k18" d="M360.4 289.7l5.4-4.7 5.3-4.3 3.8-2.4-5.4 4.3-5.4 4.8z"/><path class="k17" d="M355 294.9l5.4-5.2 3.7-2.3-5.3 5.2z"/><path class="k16" d="M349.6 300.5l5.4-5.6 3.8-2.3-5.4 5.7z"/><path class="k15" d="M344.2 306.4l5.4-5.9 3.8-2.2-5.4 5.9z"/><path class="k14" d="M338.9 312.5l5.3-6.1 3.8-2.2-5.4 6.2z"/><path class="k13" d="M333.5 318.8l5.4-6.3 3.7-2.1-5.4 6.4z"/><path class="k12" d="M328.1 325.1l5.4-6.3 3.7-2-5.3 6.3z"/><path class="k11" d="M317.4 337.2l5.3-6 5.4-6.1 3.8-2-5.4 6.3-5.4 6z"/><path class="k10" d="M312 342.7l5.4-5.5 3.7-1.8-5.4 5.5z"/><path class="k9" d="M306.6 347.5l5.4-4.8 3.7-1.8-5.4 5z"/><path class="k8" d="M285.1 356.8l5.4-.3 5.3-1.8 5.4-3.1 5.4-4.1 3.7-1.6-5.3 4.1-5.4 3.1-5.4 1.9-5.4 .4z"/><path class="k9" d="M279.7 355.4l5.4 1.4 3.7-1.4-5.3-1.3z"/><path class="k11" d="M274.3 352l5.4 3.4 3.8-1.3-5.4-3.4z"/><path class="k12" d="M268.9 346.3l5.4 5.7 3.8-1.3-5.4-5.6z"/><path class="k15" d="M263.6 337.9l5.3 8.4 3.8-1.2-5.4-8.3z"/><path class="k18" d="M258.2 326.6l5.4 11.3 3.7-1.1-5.4-11.3z"/><path class="k127" d="M493.2 188.6l5.4-18.2 3.8-3.7-5.4 18.3z"/><path class="k75" d="M487.9 204l5.3-15.4 3.8-3.6-5.4 15.4z"/><path class="k72" d="M482.5 216.7l5.4-12.7 3.7-3.6-5.3 12.8z"/><path class="k22" d="M477.1 227.1l5.4-10.4 3.8-3.5-5.4 10.5z"/><path class="k20" d="M471.7 235.5l5.4-8.4 3.8-3.4-5.4 8.5z"/><path class="k18" d="M461 247.3l5.3-5.1 5.4-6.7 3.8-3.3-5.4 6.7-5.4 5.2z"/><path class="k17" d="M434.1 258.8l5.3-1 5.4-1.5 5.4-2.1 5.4-2.9 5.4-4 3.7-3.2-5.3 4-5.4 3-5.4 2.1-5.4 1.6-5.4 1.1z"/><path class="k18" d="M417.9 261.1l5.4-.8 5.4-.6 5.4-.9 3.7-2.9-5.3 .9-5.4 .8-5.4 .8z"/><path class="k19" d="M407.2 263l5.4-1.1 5.3-.8 3.8-2.7-5.4 .9-5.4 1.1z"/><path class="k20" d="M380.3 274.5l5.4-3.3 5.3-2.7 5.4-2.3 5.4-1.8 5.4-1.4 3.7-2.6-5.3 1.5-5.4 1.9-5.4 2.3-5.4 2.8-5.4 3.4z"/><path class="k19" d="M364.1 287.4l5.4-4.8 5.4-4.3 5.4-3.8 3.7-2.2-5.3 3.8-5.4 4.4-5.4 4.8z"/><path class="k18" d="M358.8 292.6l5.3-5.2 3.8-2.1-5.4 5.3z"/><path class="k17" d="M353.4 298.3l5.4-5.7 3.7-2-5.4 5.8z"/><path class="k16" d="M348 304.2l5.4-5.9 3.7-1.9-5.3 6z"/><path class="k15" d="M342.6 310.4l5.4-6.2 3.8-1.8-5.4 6.2z"/><path class="k14" d="M337.2 316.8l5.4-6.4 3.8-1.8-5.4 6.5z"/><path class="k13" d="M331.9 323.1l5.3-6.3 3.8-1.7-5.4 6.4z"/><path class="k12" d="M326.5 329.4l5.4-6.3 3.7-1.6-5.4 6.3z"/><path class="k11" d="M321.1 335.4l5.4-6 3.7-1.6-5.3 6z"/><path class="k10" d="M310.3 345.9l5.4-5 5.4-5.5 3.8-1.6-5.4 5.7-5.4 5z"/><path class="k9" d="M288.8 355.4l5.4-.4 5.4-1.9 5.4-3.1 5.3-4.1 3.8-1.4-5.4 4.2-5.4 3.2-5.3 1.9-5.4 .5z"/><path class="k10" d="M283.5 354.1l5.3 1.3 3.8-1.1-5.4-1.3z"/><path class="k11" d="M278.1 350.7l5.4 3.4 3.7-1.1-5.4-3.3z"/><path class="k13" d="M272.7 345.1l5.4 5.6 3.7-1-5.4-5.6z"/><path class="k15" d="M267.3 336.8l5.4 8.3 3.7-1-5.3-8.2z"/><path class="k19" d="M261.9 325.5l5.4 11.3 3.8-.9-5.4-11.2z"/><path class="k128" d="M497 185l5.4-18.3 3.8-3.4-5.4 18.4z"/><path class="k124" d="M491.6 200.4l5.4-15.4 3.8-3.3-5.4 15.5z"/><path class="k73" d="M486.3 213.2l5.3-12.8 3.8-3.2-5.4 12.8z"/><path class="k23" d="M480.9 223.7l5.4-10.5 3.7-3.2-5.4 10.6z"/><path class="k21" d="M475.5 232.2l5.4-8.5 3.7-3.1-5.3 8.5z"/><path class="k20" d="M470.1 238.9l5.4-6.7 3.8-3.1-5.4 6.8z"/><path class="k19" d="M464.7 244.1l5.4-5.2 3.8-3-5.4 5.3z"/><path class="k18" d="M437.8 255.9l5.4-1.1 5.4-1.6 5.4-2.1 5.4-3 5.3-4 3.8-2.9-5.4 4.1-5.4 3-5.3 2.2-5.4 1.7-5.4 1.2z"/><path class="k19" d="M421.7 258.4l5.4-.8 5.4-.8 5.3-.9 3.8-2.5-5.4 .9-5.4 .8-5.3 .9z"/><path class="k20" d="M410.9 260.4l5.4-1.1 5.4-.9 3.8-2.4-5.4 1-5.4 1.2z"/><path class="k21" d="M384 272.3l5.4-3.4 5.4-2.8 5.4-2.3 5.4-1.9 5.3-1.5 3.8-2.2-5.4 1.5-5.4 2-5.3 2.4-5.4 2.8-5.4 3.4z"/><path class="k20" d="M373.3 280.5l5.4-4.4 5.3-3.8 3.8-2-5.4 4-5.4 4.4z"/><path class="k19" d="M362.5 290.6l5.4-5.3 5.4-4.8 3.7-1.8-5.4 4.9-5.3 5.4z"/><path class="k18" d="M357.1 296.4l5.4-5.8 3.8-1.6-5.4 5.8z"/><path class="k17" d="M351.8 302.4l5.3-6 3.8-1.6-5.4 6z"/><path class="k16" d="M346.4 308.6l5.4-6.2 3.7-1.6-5.4 6.4z"/><path class="k15" d="M341 315.1l5.4-6.5 3.7-1.4-5.4 6.5z"/><path class="k14" d="M335.6 321.5l5.4-6.4 3.7-1.4-5.3 6.4z"/><path class="k13" d="M330.2 327.8l5.4-6.3 3.8-1.4-5.4 6.4z"/><path class="k12" d="M324.9 333.8l5.3-6 3.8-1.3-5.4 6.1z"/><path class="k11" d="M319.5 339.5l5.4-5.7 3.7-1.2-5.4 5.7z"/><path class="k10" d="M308.7 348.7l5.4-4.2 5.4-5 3.7-1.2-5.4 5.1-5.3 4.3z"/><path class="k9" d="M298 353.8l5.3-1.9 5.4-3.2 3.8-1-5.4 3.2-5.4 2z"/><path class="k10" d="M287.2 353l5.4 1.3 5.4-.5 3.7-.9-5.4 .6-5.4-1.2z"/><path class="k12" d="M281.8 349.7l5.4 3.3 3.7-.7-5.3-3.3z"/><path class="k14" d="M276.4 344.1l5.4 5.6 3.8-.7-5.4-5.5z"/><path class="k16" d="M271.1 335.9l5.3 8.2 3.8-.6-5.4-8.2z"/><path class="k19" d="M265.7 324.7l5.4 11.2 3.7-.6-5.4-11.1z"/><path class="k129" d="M500.8 181.7l5.4-18.4 3.7-3-5.4 18.5z"/><path class="k125" d="M495.4 197.2l5.4-15.5 3.7-2.9-5.3 15.5z"/><path class="k74" d="M490 210l5.4-12.8 3.8-2.9-5.4 13z"/><path class="k24" d="M484.6 220.6l5.4-10.6 3.8-2.7-5.4 10.6z"/><path class="k22" d="M479.3 229.1l5.3-8.5 3.8-2.7-5.4 8.6z"/><path class="k21" d="M473.9 235.9l5.4-6.8 3.7-2.6-5.4 6.8z"/><path class="k20" d="M468.5 241.2l5.4-5.3 3.7-2.6-5.3 5.4z"/><path class="k19" d="M441.6 253.4l5.4-1.2 5.4-1.7 5.3-2.2 5.4-3 5.4-4.1 3.8-2.5-5.4 4.1-5.4 3.1-5.4 2.3-5.4 1.7-5.3 1.3z"/><path class="k20" d="M425.5 256l5.3-.9 5.4-.8 5.4-.9 3.8-2.2-5.4 1-5.4 .9-5.4 .9z"/><path class="k21" d="M409.3 259.7l5.4-1.5 5.4-1.2 5.4-1 3.7-2-5.4 1-5.3 1.3-5.4 1.6z"/><path class="k22" d="M393.2 266.9l5.4-2.8 5.3-2.4 5.4-2 3.8-1.8-5.4 2-5.4 2.5-5.4 2.9z"/><path class="k21" d="M377 278.7l5.4-4.4 5.4-4 5.4-3.4 3.7-1.6-5.4 3.5-5.3 4-5.4 4.5z"/><path class="k20" d="M371.6 283.6l5.4-4.9 3.8-1.4-5.4 5z"/><path class="k19" d="M360.9 294.8l5.4-5.8 5.3-5.4 3.8-1.3-5.4 5.4-5.4 5.8z"/><path class="k18" d="M355.5 300.8l5.4-6 3.7-1.3-5.3 6.2z"/><path class="k17" d="M350.1 307.2l5.4-6.4 3.8-1.1-5.4 6.4z"/><path class="k16" d="M344.7 313.7l5.4-6.5 3.8-1.1-5.4 6.5z"/><path class="k63" d="M339.4 320.1l5.3-6.4 3.8-1.1-5.4 6.6z"/><path class="k62" d="M334 326.5l5.4-6.4 3.7-.9-5.4 6.4z"/><path class="k61" d="M328.6 332.6l5.4-6.1 3.7-.9-5.3 6.2z"/><path class="k12" d="M323.2 338.3l5.4-5.7 3.8-.8-5.4 5.8z"/><path class="k11" d="M317.8 343.4l5.4-5.1 3.8-.7-5.4 5.1z"/><path class="k10" d="M296.3 353.5l5.4-.6 5.4-2 5.4-3.2 5.3-4.3 3.8-.7-5.4 4.3-5.4 3.4-5.4 2.1-5.3 .5z"/><path class="k11" d="M290.9 352.3l5.4 1.2 3.8-.5-5.4-1.1z"/><path class="k12" d="M285.6 349l5.3 3.3 3.8-.4-5.4-3.2z"/><path class="k14" d="M280.2 343.5l5.4 5.5 3.7-.3-5.4-5.4z"/><path class="k16" d="M274.8 335.3l5.4 8.2 3.7-.2-5.4-8.1z"/><path class="k20" d="M269.4 324.2l5.4 11.1 3.7-.1-5.3-11.1z"/><path class="k130" d="M504.5 178.8l5.4-18.5 3.8-2.5-5.4 18.5z"/><path class="k126" d="M499.2 194.3l5.3-15.5 3.8-2.5-5.4 15.6z"/><path class="k123" d="M493.8 207.3l5.4-13 3.7-2.4-5.3 13z"/><path class="k73" d="M488.4 217.9l5.4-10.6 3.8-2.4-5.4 10.7z"/><path class="k23" d="M483 226.5l5.4-8.6 3.8-2.3-5.4 8.6z"/><path class="k22" d="M477.6 233.3l5.4-6.8 3.8-2.3-5.4 7z"/><path class="k21" d="M472.3 238.7l5.3-5.4 3.8-2.1-5.4 5.4z"/><path class="k20" d="M440 252.2l5.4-1 5.3-1.3 5.4-1.7 5.4-2.3 5.4-3.1 5.4-4.1 3.7-2.1-5.4 4.2-5.3 3.1-5.4 2.4-5.4 1.8-5.4 1.3-5.4 1.1z"/><path class="k21" d="M429.2 254l5.4-.9 5.4-.9 3.7-1.7-5.3 .9-5.4 1z"/><path class="k22" d="M386.2 272.8l5.3-4 5.4-3.5 5.4-2.9 5.4-2.5 5.4-2 5.4-1.6 5.3-1.3 5.4-1 3.8-1.6-5.4 1.1-5.4 1.4-5.4 1.6-5.4 2.1-5.3 2.5-5.4 3.1-5.4 3.5-5.4 4z"/><path class="k21" d="M375.4 282.3l5.4-5 5.4-4.5 3.7-1.1-5.4 4.6-5.3 5.1z"/><path class="k20" d="M370 287.7l5.4-5.4 3.8-.9-5.4 5.5z"/><path class="k19" d="M364.6 293.5l5.4-5.8 3.8-.8-5.4 5.9z"/><path class="k66" d="M359.3 299.7l5.3-6.2 3.8-.7-5.4 6.2z"/><path class="k65" d="M353.9 306.1l5.4-6.4 3.7-.7-5.4 6.4z"/><path class="k64" d="M348.5 312.6l5.4-6.5 3.7-.7-5.4 6.6z"/><path class="k63" d="M343.1 319.2l5.4-6.6 3.7-.6-5.3 6.7z"/><path class="k62" d="M337.7 325.6l5.4-6.4 3.8-.5-5.4 6.5z"/><path class="k61" d="M332.4 331.8l5.3-6.2 3.8-.4-5.4 6.2z"/><path class="k60" d="M327 337.6l5.4-5.8 3.7-.4-5.4 5.8z"/><path class="k59" d="M321.6 342.7l5.4-5.1 3.7-.4-5.4 5.2z"/><path class="k11" d="M316.2 347l5.4-4.3 3.7-.3-5.3 4.4z"/><path class="k10" d="M305.4 352.5l5.4-2.1 5.4-3.4 3.8-.2-5.4 3.4-5.4 2.2z"/><path class="k11" d="M294.7 351.9l5.4 1.1 5.3-.5 3.8-.1-5.4 .6-5.4-1z"/><path class="k13" d="M289.3 348.7l5.4 3.2 3.7 .1-5.4-3.1z"/><path class="k14" d="M283.9 343.3l5.4 5.4 3.7 .2-5.3-5.4z"/><path class="k17" d="M278.5 335.2l5.4 8.1 3.8 .2-5.4-8.1z"/><path class="k20" d="M273.2 324.1l5.3 11.1 3.8 .2-5.4-10.9z"/><path class="k179" d="M508.3 176.3l5.4-18.5 3.8-2.1-5.4 18.6z"/><path class="k127" d="M502.9 191.9l5.4-15.6 3.8-2-5.4 15.7z"/><path class="k124" d="M497.6 204.9l5.3-13 3.8-1.9-5.4 13z"/><path class="k122" d="M492.2 215.6l5.4-10.7 3.7-1.9-5.4 10.8z"/><path class="k72" d="M486.8 224.2l5.4-8.6 3.7-1.8-5.3 8.7z"/><path class="k22" d="M481.4 231.2l5.4-7 3.8-1.7-5.4 7z"/><path class="k21" d="M470.6 240.8l5.4-4.2 5.4-5.4 3.8-1.7-5.4 5.5-5.4 4.2z"/><path class="k20" d="M459.9 246.3l5.4-2.4 5.3-3.1 3.8-1.6-5.4 3.3-5.4 2.4z"/><path class="k21" d="M438.4 251.4l5.3-.9 5.4-1.1 5.4-1.3 5.4-1.8 3.7-1.4-5.3 1.8-5.4 1.4-5.4 1.1-5.4 1.1z"/><path class="k22" d="M427.6 253.5l5.4-1.1 5.4-1 3.7-1.1-5.4 1-5.3 1.2z"/><path class="k23" d="M395.3 267.7l5.4-3.5 5.4-3.1 5.3-2.5 5.4-2.1 5.4-1.6 5.4-1.4 3.8-1-5.4 1.4-5.4 1.7-5.4 2.2-5.4 2.6-5.4 3.1-5.3 3.5z"/><path class="k22" d="M384.5 276.3l5.4-4.6 5.4-4 3.8-.7-5.4 4.2-5.4 4.6z"/><path class="k21" d="M379.2 281.4l5.3-5.1 3.8-.5-5.4 5.1z"/><path class="k68" d="M368.4 292.8l5.4-5.9 5.4-5.5 3.7-.5-5.4 5.6-5.4 5.9z"/><path class="k67" d="M363 299l5.4-6.2 3.7-.4-5.3 6.3z"/><path class="k114" d="M357.6 305.4l5.4-6.4 3.8-.3-5.4 6.6z"/><path class="k113" d="M352.2 312l5.4-6.6 3.8-.1-5.4 6.6z"/><path class="k111" d="M346.9 318.7l5.3-6.7 3.8-.1-5.4 6.7z"/><path class="k110" d="M341.5 325.2l5.4-6.5 3.7-.1-5.4 6.6z"/><path class="k109" d="M336.1 331.4l5.4-6.2 3.7 0-5.3 6.3z"/><path class="k108" d="M330.7 337.2l5.4-5.8 3.8 .1-5.4 5.9z"/><path class="k60" d="M325.3 342.4l5.4-5.2 3.8 .2-5.4 5.2z"/><path class="k59" d="M320 346.8l5.3-4.4 3.8 .2-5.4 4.5z"/><path class="k11" d="M303.8 353l5.4-.6 5.4-2.2 5.4-3.4 3.7 .3-5.4 3.5-5.4 2.2-5.3 .7z"/><path class="k12" d="M298.4 352l5.4 1 3.8 .5-5.4-1z"/><path class="k13" d="M293 348.9l5.4 3.1 3.8 .5-5.4-3z"/><path class="k14" d="M287.7 343.5l5.3 5.4 3.8 .6-5.4-5.4z"/><path class="k17" d="M282.3 335.4l5.4 8.1 3.7 .6-5.4-7.9z"/><path class="k20" d="M276.9 324.5l5.4 10.9 3.7 .8-5.4-10.9z"/><path class="k180" d="M512.1 174.3l5.4-18.6 3.7-1.6-5.3 18.7z"/><path class="k176" d="M506.7 190l5.4-15.7 3.8-1.5-5.4 15.7z"/><path class="k125" d="M501.3 203l5.4-13 3.8-1.5-5.4 13.1z"/><path class="k122" d="M495.9 213.8l5.4-10.8 3.8-1.4-5.4 10.8z"/><path class="k73" d="M490.6 222.5l5.3-8.7 3.8-1.4-5.4 8.8z"/><path class="k71" d="M485.2 229.5l5.4-7 3.7-1.3-5.4 7.1z"/><path class="k22" d="M479.8 235l5.4-5.5 3.7-1.2-5.3 5.5z"/><path class="k21" d="M452.9 248.1l5.4-1.4 5.3-1.8 5.4-2.4 5.4-3.3 5.4-4.2 3.8-1.2-5.4 4.4-5.4 3.3-5.4 2.5-5.4 1.8-5.4 1.5z"/><path class="k22" d="M436.7 251.3l5.4-1 5.4-1.1 5.4-1.1 3.7-.8-5.3 1.2-5.4 1.1-5.4 1.1z"/><path class="k23" d="M393.7 271.2l5.4-4.2 5.3-3.5 5.4-3.1 5.4-2.6 5.4-2.2 5.4-1.7 5.4-1.4 5.3-1.2 3.8-.6-5.4 1.2-5.4 1.5-5.4 1.8-5.3 2.2-5.4 2.7-5.4 3.1-5.4 3.7-5.4 4.2z"/><path class="k70" d="M382.9 280.9l5.4-5.1 5.4-4.6 3.7-.1-5.4 4.7-5.3 5.2z"/><path class="k117" d="M377.5 286.5l5.4-5.6 3.8 .1-5.4 5.6z"/><path class="k116" d="M372.1 292.4l5.4-5.9 3.8 .1-5.4 6z"/><path class="k115" d="M366.8 298.7l5.3-6.3 3.8 .2-5.4 6.4z"/><path class="k114" d="M361.4 305.3l5.4-6.6 3.7 .3-5.4 6.6z"/><path class="k113" d="M356 311.9l5.4-6.6 3.7 .3-5.3 6.7z"/><path class="k112" d="M350.6 318.6l5.4-6.7 3.8 .4-5.4 6.8z"/><path class="k111" d="M345.2 325.2l5.4-6.6 3.8 .5-5.4 6.6z"/><path class="k110" d="M339.9 331.5l5.3-6.3 3.8 .5-5.4 6.4z"/><path class="k109" d="M334.5 337.4l5.4-5.9 3.7 .6-5.4 5.9z"/><path class="k108" d="M329.1 342.6l5.4-5.2 3.7 .6-5.4 5.4z"/><path class="k107" d="M323.7 347.1l5.4-4.5 3.7 .8-5.3 4.5z"/><path class="k59" d="M318.3 350.6l5.4-3.5 3.8 .8-5.4 3.5z"/><path class="k11" d="M307.6 353.5l5.3-.7 5.4-2.2 3.8 .8-5.4 2.3-5.4 .8z"/><path class="k12" d="M302.2 352.5l5.4 1 3.7 1-5.4-1z"/><path class="k13" d="M296.8 349.5l5.4 3 3.7 1-5.4-2.9z"/><path class="k15" d="M291.4 344.1l5.4 5.4 3.7 1.1-5.3-5.3z"/><path class="k17" d="M286 336.2l5.4 7.9 3.8 1.2-5.4-7.9z"/><path class="k20" d="M280.6 325.3l5.4 10.9 3.8 1.2-5.4-10.8z"/><path class="k180" d="M515.9 172.8l5.3-18.7 3.8-1.1-5.4 18.8z"/><path class="k177" d="M510.5 188.5l5.4-15.7 3.7-1-5.4 15.8z"/><path class="k173" d="M505.1 201.6l5.4-13.1 3.7-.9-5.3 13.2z"/><path class="k123" d="M499.7 212.4l5.4-10.8 3.8-.8-5.4 10.8z"/><path class="k121" d="M494.3 221.2l5.4-8.8 3.8-.8-5.4 8.9z"/><path class="k72" d="M488.9 228.3l5.4-7.1 3.8-.7-5.4 7.1z"/><path class="k23" d="M483.6 233.8l5.3-5.5 3.8-.7-5.4 5.6z"/><path class="k22" d="M445.9 249.6l5.4-1.1 5.3-1.2 5.4-1.5 5.4-1.8 5.4-2.5 5.4-3.3 5.4-4.4 3.7-.6-5.4 4.4-5.3 3.4-5.4 2.5-5.4 2-5.4 1.5-5.4 1.3-5.4 1.1z"/><path class="k23" d="M429.7 253.4l5.4-1.5 5.4-1.2 5.4-1.1 3.7-.2-5.3 1.2-5.4 1.3-5.4 1.6z"/><path class="k24" d="M408.2 263.2l5.4-3.1 5.4-2.7 5.3-2.2 5.4-1.8 3.8 .1-5.4 1.8-5.4 2.3-5.4 2.7-5.3 3.2z"/><path class="k71" d="M397.4 271.1l5.4-4.2 5.4-3.7 3.8 .3-5.4 3.8-5.4 4.2z"/><path class="k70" d="M392 275.8l5.4-4.7 3.8 .4-5.4 4.8z"/><path class="k118" d="M386.7 281l5.3-5.2 3.8 .5-5.4 5.2z"/><path class="k117" d="M381.3 286.6l5.4-5.6 3.7 .5-5.4 5.7z"/><path class="k116" d="M375.9 292.6l5.4-6 3.7 .6-5.3 6.1z"/><path class="k115" d="M370.5 299l5.4-6.4 3.8 .7-5.4 6.4z"/><path class="k114" d="M365.1 305.6l5.4-6.6 3.8 .7-5.4 6.7z"/><path class="k161" d="M359.8 312.3l5.3-6.7 3.8 .8-5.4 6.8z"/><path class="k160" d="M354.4 319.1l5.4-6.8 3.7 .9-5.4 6.8z"/><path class="k159" d="M349 325.7l5.4-6.6 3.7 .9-5.4 6.7z"/><path class="k158" d="M343.6 332.1l5.4-6.4 3.7 1-5.3 6.5z"/><path class="k109" d="M338.2 338l5.4-5.9 3.8 1.1-5.4 6z"/><path class="k108" d="M332.8 343.4l5.4-5.4 3.8 1.2-5.4 5.4z"/><path class="k107" d="M322.1 351.4l5.4-3.5 5.3-4.5 3.8 1.2-5.4 4.6-5.4 3.6z"/><path class="k59" d="M316.7 353.7l5.4-2.3 3.7 1.4-5.4 2.3z"/><path class="k11" d="M311.3 354.5l5.4-.8 3.7 1.4-5.4 .9z"/><path class="k12" d="M305.9 353.5l5.4 1 3.7 1.5-5.3-.9z"/><path class="k13" d="M300.5 350.6l5.4 2.9 3.8 1.6-5.4-2.9z"/><path class="k15" d="M295.2 345.3l5.3 5.3 3.8 1.6-5.4-5.2z"/><path class="k17" d="M289.8 337.4l5.4 7.9 3.7 1.7-5.4-7.9z"/><path class="k20" d="M284.4 326.6l5.4 10.8 3.7 1.7-5.4-10.7z"/><path class="k181" d="M519.6 171.8l5.4-18.8 3.8-.5-5.4 18.8z"/><path class="k177" d="M514.2 187.6l5.4-15.8 3.8-.5-5.4 15.9z"/><path class="k174" d="M508.9 200.8l5.3-13.2 3.8-.4-5.4 13.2z"/><path class="k171" d="M503.5 211.6l5.4-10.8 3.7-.4-5.4 10.9z"/><path class="k122" d="M498.1 220.5l5.4-8.9 3.7-.3-5.3 9z"/><path class="k120" d="M492.7 227.6l5.4-7.1 3.8-.2-5.4 7.1z"/><path class="k71" d="M487.3 233.2l5.4-5.6 3.8-.2-5.4 5.7z"/><path class="k22" d="M455 248.3l5.4-1.3 5.4-1.5 5.4-2 5.4-2.5 5.3-3.4 5.4-4.4 3.8-.1-5.4 4.5-5.4 3.4-5.4 2.6-5.3 2.1-5.4 1.5-5.4 1.4z"/><path class="k23" d="M438.9 251.9l5.4-1.3 5.3-1.2 5.4-1.1 3.8 .3-5.4 1.2-5.4 1.2-5.4 1.4z"/><path class="k24" d="M417.3 260.3l5.4-2.7 5.4-2.3 5.4-1.8 5.4-1.6 3.7 .5-5.4 1.6-5.3 2-5.4 2.3-5.4 2.8z"/><path class="k72" d="M406.6 267.3l5.4-3.8 5.3-3.2 3.8 .8-5.4 3.3-5.4 3.7z"/><path class="k119" d="M395.8 276.3l5.4-4.8 5.4-4.2 3.7 .8-5.4 4.4-5.3 4.8z"/><path class="k118" d="M390.4 281.5l5.4-5.2 3.8 1-5.4 5.3z"/><path class="k117" d="M385 287.2l5.4-5.7 3.8 1.1-5.4 5.8z"/><path class="k164" d="M379.7 293.3l5.3-6.1 3.8 1.2-5.4 6.1z"/><path class="k163" d="M374.3 299.7l5.4-6.4 3.7 1.2-5.4 6.5z"/><path class="k162" d="M368.9 306.4l5.4-6.7 3.7 1.3-5.4 6.7z"/><path class="k161" d="M363.5 313.2l5.4-6.8 3.7 1.3-5.3 6.9z"/><path class="k160" d="M358.1 320l5.4-6.8 3.8 1.4-5.4 6.9z"/><path class="k159" d="M352.7 326.7l5.4-6.7 3.8 1.5-5.4 6.7z"/><path class="k158" d="M347.4 333.2l5.3-6.5 3.8 1.5-5.4 6.5z"/><path class="k157" d="M342 339.2l5.4-6 3.7 1.5-5.4 6.1z"/><path class="k156" d="M336.6 344.6l5.4-5.4 3.7 1.6-5.4 5.5z"/><path class="k107" d="M320.4 355.1l5.4-2.3 5.4-3.6 5.4-4.6 3.7 1.7-5.4 4.7-5.3 3.6-5.4 2.4z"/><path class="k11" d="M315 356l5.4-.9 3.8 1.9-5.4 .9z"/><path class="k12" d="M309.7 355.1l5.3 .9 3.8 1.9-5.4-.8z"/><path class="k13" d="M304.3 352.2l5.4 2.9 3.7 2-5.4-2.8z"/><path class="k14" d="M298.9 347l5.4 5.2 3.7 2.1-5.4-5.2z"/><path class="k17" d="M293.5 339.1l5.4 7.9 3.7 2.1-5.3-7.7z"/><path class="k20" d="M288.1 328.4l5.4 10.7 3.8 2.3-5.4-10.7z"/><path class="k181" d="M523.4 171.3l5.4-18.8 3.7-.1-5.3 18.9z"/><path class="k177" d="M518 187.2l5.4-15.9 3.8 0-5.4 15.9z"/><path class="k174" d="M512.6 200.4l5.4-13.2 3.8 0-5.4 13.3z"/><path class="k172" d="M507.2 211.3l5.4-10.9 3.8 .1-5.4 11z"/><path class="k170" d="M501.9 220.3l5.3-9 3.8 .2-5.4 9z"/><path class="k120" d="M496.5 227.4l5.4-7.1 3.7 .2-5.4 7.3z"/><path class="k119" d="M491.1 233.1l5.4-5.7 3.7 .4-5.3 5.7z"/><path class="k71" d="M485.7 237.6l5.4-4.5 3.8 .4-5.4 4.5z"/><path class="k70" d="M480.3 241l5.4-3.4 3.8 .4-5.4 3.5z"/><path class="k22" d="M464.2 247.2l5.4-1.5 5.3-2.1 5.4-2.6 3.8 .5-5.4 2.7-5.4 2.1-5.4 1.7z"/><path class="k23" d="M448 251l5.4-1.2 5.4-1.2 5.4-1.4 3.7 .8-5.4 1.4-5.3 1.2-5.4 1.3z"/><path class="k24" d="M431.9 256l5.3-2 5.4-1.6 5.4-1.4 3.8 .9-5.4 1.5-5.4 1.7-5.4 2z"/><path class="k72" d="M421.1 261.1l5.4-2.8 5.4-2.3 3.7 1.1-5.4 2.4-5.3 2.8z"/><path class="k120" d="M410.3 268.1l5.4-3.7 5.4-3.3 3.8 1.2-5.4 3.4-5.4 3.8z"/><path class="k119" d="M399.6 277.3l5.3-4.8 5.4-4.4 3.8 1.4-5.4 4.4-5.4 4.9z"/><path class="k166" d="M394.2 282.6l5.4-5.3 3.7 1.5-5.4 5.4z"/><path class="k165" d="M388.8 288.4l5.4-5.8 3.7 1.6-5.4 5.8z"/><path class="k164" d="M383.4 294.5l5.4-6.1 3.7 1.6-5.3 6.2z"/><path class="k163" d="M378 301l5.4-6.5 3.8 1.7-5.4 6.6z"/><path class="k162" d="M372.6 307.7l5.4-6.7 3.8 1.8-5.4 6.8z"/><path class="k161" d="M367.3 314.6l5.3-6.9 3.8 1.9-5.4 6.9z"/><path class="k160" d="M361.9 321.5l5.4-6.9 3.7 1.9-5.4 6.9z"/><path class="k159" d="M356.5 328.2l5.4-6.7 3.7 1.9-5.4 6.9z"/><path class="k158" d="M351.1 334.7l5.4-6.5 3.7 2.1-5.3 6.5z"/><path class="k157" d="M345.7 340.8l5.4-6.1 3.8 2.1-5.4 6.2z"/><path class="k156" d="M340.3 346.3l5.4-5.5 3.8 2.2-5.4 5.5z"/><path class="k155" d="M329.6 354.6l5.3-3.6 5.4-4.7 3.8 2.2-5.4 4.7-5.4 3.8z"/><path class="k106" d="M324.2 357l5.4-2.4 3.7 2.4-5.4 2.4z"/><path class="k59" d="M318.8 357.9l5.4-.9 3.7 2.4-5.4 1z"/><path class="k11" d="M313.4 357.1l5.4 .8 3.7 2.5-5.3-.7z"/><path class="k12" d="M308 354.3l5.4 2.8 3.8 2.6-5.4-2.8z"/><path class="k14" d="M302.6 349.1l5.4 5.2 3.8 2.6-5.4-5.1z"/><path class="k16" d="M297.3 341.4l5.3 7.7 3.8 2.7-5.4-7.7z"/><path class="k19" d="M291.9 330.7l5.4 10.7 3.7 2.7-5.4-10.6z"/><path class="k182" d="M527.2 171.3l5.3-18.9 3.8 .4-5.4 18.9z"/><path class="k178" d="M521.8 187.2l5.4-15.9 3.7 .4-5.4 16z"/><path class="k175" d="M516.4 200.5l5.4-13.3 3.7 .5-5.3 13.4z"/><path class="k172" d="M511 211.5l5.4-11 3.8 .6-5.4 11.1z"/><path class="k170" d="M505.6 220.5l5.4-9 3.8 .7-5.4 9z"/><path class="k169" d="M500.2 227.8l5.4-7.3 3.8 .7-5.4 7.3z"/><path class="k120" d="M494.9 233.5l5.3-5.7 3.8 .7-5.4 5.9z"/><path class="k119" d="M489.5 238l5.4-4.5 3.7 .9-5.4 4.5z"/><path class="k70" d="M478.7 244.2l5.4-2.7 5.4-3.5 3.7 .9-5.3 3.6-5.4 2.8z"/><path class="k22" d="M467.9 248l5.4-1.7 5.4-2.1 3.8 1.1-5.4 2.1-5.4 1.7z"/><path class="k23" d="M451.8 251.9l5.4-1.3 5.3-1.2 5.4-1.4 3.8 1.1-5.4 1.5-5.4 1.3-5.4 1.4z"/><path class="k24" d="M441 255.1l5.4-1.7 5.4-1.5 3.7 1.4-5.3 1.5-5.4 1.8z"/><path class="k72" d="M430.2 259.5l5.4-2.4 5.4-2 3.8 1.5-5.4 2-5.4 2.5z"/><path class="k120" d="M419.5 265.7l5.4-3.4 5.3-2.8 3.8 1.6-5.4 2.9-5.4 3.4z"/><path class="k119" d="M408.7 273.9l5.4-4.4 5.4-3.8 3.7 1.7-5.4 3.9-5.3 4.5z"/><path class="k166" d="M397.9 284.2l5.4-5.4 5.4-4.9 3.8 1.9-5.4 4.9-5.4 5.5z"/><path class="k165" d="M392.5 290l5.4-5.8 3.8 2-5.4 5.9z"/><path class="k164" d="M387.2 296.2l5.3-6.2 3.8 2.1-5.4 6.3z"/><path class="k163" d="M381.8 302.8l5.4-6.6 3.7 2.2-5.4 6.6z"/><path class="k162" d="M376.4 309.6l5.4-6.8 3.7 2.2-5.4 6.8z"/><path class="k161" d="M371 316.5l5.4-6.9 3.7 2.2-5.3 7z"/><path class="k160" d="M365.6 323.4l5.4-6.9 3.8 2.3-5.4 7z"/><path class="k158" d="M360.2 330.3l5.4-6.9 3.8 2.4-5.4 6.9z"/><path class="k157" d="M354.9 336.8l5.3-6.5 3.8 2.4-5.4 6.7z"/><path class="k156" d="M349.5 343l5.4-6.2 3.7 2.6-5.4 6.2z"/><path class="k155" d="M338.7 353.2l5.4-4.7 5.4-5.5 3.7 2.6-5.4 5.6-5.4 4.8z"/><path class="k154" d="M333.3 357l5.4-3.8 3.7 2.8-5.3 3.8z"/><path class="k106" d="M322.5 360.4l5.4-1 5.4-2.4 3.8 2.8-5.4 2.5-5.4 1.1z"/><path class="k11" d="M317.2 359.7l5.3 .7 3.8 3-5.4-.7z"/><path class="k12" d="M311.8 356.9l5.4 2.8 3.7 3-5.4-2.7z"/><path class="k14" d="M306.4 351.8l5.4 5.1 3.7 3.1-5.4-5.1z"/><path class="k16" d="M301 344.1l5.4 7.7 3.7 3.1-5.4-7.6z"/><path class="k19" d="M295.6 333.5l5.4 10.6 3.7 3.2-5.3-10.6z"/><path class="k182" d="M530.9 171.7l5.4-18.9 3.8 .8-5.4 19z"/><path class="k178" d="M525.5 187.7l5.4-16 3.8 .9-5.4 16z"/><path class="k175" d="M520.2 201.1l5.3-13.4 3.8 .9-5.4 13.5z"/><path class="k172" d="M514.8 212.2l5.4-11.1 3.7 1-5.4 11.1z"/><path class="k170" d="M509.4 221.2l5.4-9 3.7 1-5.3 9.1z"/><path class="k169" d="M504 228.5l5.4-7.3 3.8 1.1-5.4 7.4z"/><path class="k168" d="M498.6 234.4l5.4-5.9 3.8 1.2-5.4 5.9z"/><path class="k119" d="M493.2 238.9l5.4-4.5 3.8 1.2-5.4 4.6z"/><path class="k118" d="M487.9 242.5l5.3-3.6 3.8 1.3-5.4 3.7z"/><path class="k70" d="M471.7 249.1l5.4-1.7 5.4-2.1 5.4-2.8 3.7 1.4-5.4 2.8-5.4 2.2-5.3 1.8z"/><path class="k23" d="M455.5 253.3l5.4-1.4 5.4-1.3 5.4-1.5 3.8 1.6-5.4 1.5-5.4 1.4-5.4 1.5z"/><path class="k71" d="M450.2 254.8l5.3-1.5 3.8 1.8-5.4 1.5z"/><path class="k72" d="M439.4 258.6l5.4-2 5.4-1.8 3.7 1.8-5.4 1.8-5.4 2.2z"/><path class="k120" d="M423.2 267.4l5.4-3.4 5.4-2.9 5.4-2.5 3.7 2-5.3 2.5-5.4 3-5.4 3.5z"/><path class="k167" d="M412.5 275.8l5.3-4.5 5.4-3.9 3.8 2.2-5.4 3.9-5.4 4.6z"/><path class="k166" d="M401.7 286.2l5.4-5.5 5.4-4.9 3.7 2.3-5.4 5-5.4 5.5z"/><path class="k165" d="M396.3 292.1l5.4-5.9 3.7 2.4-5.3 5.9z"/><path class="k164" d="M390.9 298.4l5.4-6.3 3.8 2.4-5.4 6.4z"/><path class="k163" d="M385.5 305l5.4-6.6 3.8 2.5-5.4 6.7z"/><path class="k162" d="M380.1 311.8l5.4-6.8 3.8 2.6-5.4 6.9z"/><path class="k160" d="M374.8 318.8l5.3-7 3.8 2.7-5.4 7.1z"/><path class="k159" d="M369.4 325.8l5.4-7 3.7 2.8-5.4 7z"/><path class="k158" d="M364 332.7l5.4-6.9 3.7 2.8-5.4 7z"/><path class="k157" d="M358.6 339.4l5.4-6.7 3.7 2.9-5.4 6.7z"/><path class="k156" d="M353.2 345.6l5.4-6.2 3.7 2.9-5.3 6.3z"/><path class="k155" d="M347.8 351.2l5.4-5.6 3.8 3-5.4 5.6z"/><path class="k154" d="M331.7 362.3l5.4-2.5 5.3-3.8 5.4-4.8 3.8 3-5.4 4.9-5.4 3.9-5.4 2.6z"/><path class="k106" d="M326.3 363.4l5.4-1.1 3.7 3.3-5.4 1.1z"/><path class="k10" d="M320.9 362.7l5.4 .7 3.7 3.3-5.4-.6z"/><path class="k11" d="M315.5 360l5.4 2.7 3.7 3.4-5.3-2.7z"/><path class="k13" d="M310.1 354.9l5.4 5.1 3.8 3.4-5.4-4.9z"/><path class="k15" d="M304.7 347.3l5.4 7.6 3.8 3.6-5.4-7.6z"/><path class="k18" d="M299.4 336.7l5.3 10.6 3.8 3.6-5.4-10.5z"/><path class="k182" d="M534.7 172.6l5.4-19 3.8 1.1-5.4 19z"/><path class="k178" d="M529.3 188.6l5.4-16 3.8 1.1-5.4 16.1z"/><path class="k175" d="M523.9 202.1l5.4-13.5 3.8 1.2-5.4 13.6z"/><path class="k172" d="M518.5 213.2l5.4-11.1 3.8 1.3-5.4 11.2z"/><path class="k170" d="M513.2 222.3l5.3-9.1 3.8 1.4-5.4 9.1z"/><path class="k169" d="M507.8 229.7l5.4-7.4 3.7 1.4-5.4 7.5z"/><path class="k168" d="M502.4 235.6l5.4-5.9 3.7 1.5-5.3 5.9z"/><path class="k119" d="M497 240.2l5.4-4.6 3.8 1.5-5.4 4.7z"/><path class="k118" d="M486.2 246.7l5.4-2.8 5.4-3.7 3.8 1.6-5.4 3.7-5.4 2.9z"/><path class="k70" d="M470.1 252.2l5.4-1.5 5.3-1.8 5.4-2.2 3.8 1.7-5.4 2.3-5.4 1.9-5.4 1.6z"/><path class="k71" d="M448.5 258.4l5.4-1.8 5.4-1.5 5.4-1.5 5.4-1.4 3.7 2-5.4 1.4-5.3 1.5-5.4 1.7-5.4 1.8z"/><path class="k120" d="M432.4 266.1l5.4-3 5.3-2.5 5.4-2.2 3.8 2.2-5.4 2.2-5.4 2.6-5.4 3.1z"/><path class="k167" d="M416.2 278.1l5.4-4.6 5.4-3.9 5.4-3.5 3.7 2.4-5.4 3.5-5.3 4.1-5.4 4.5z"/><path class="k166" d="M410.8 283.1l5.4-5 3.8 2.5-5.4 5.1z"/><path class="k165" d="M405.4 288.6l5.4-5.5 3.8 2.6-5.4 5.6z"/><path class="k164" d="M400.1 294.5l5.3-5.9 3.8 2.7-5.4 6z"/><path class="k163" d="M394.7 300.9l5.4-6.4 3.7 2.8-5.4 6.4z"/><path class="k162" d="M389.3 307.6l5.4-6.7 3.7 2.8-5.4 6.8z"/><path class="k161" d="M383.9 314.5l5.4-6.9 3.7 2.9-5.4 7z"/><path class="k160" d="M378.5 321.6l5.4-7.1 3.7 3-5.3 7.1z"/><path class="k159" d="M373.1 328.6l5.4-7 3.8 3-5.4 7.1z"/><path class="k158" d="M367.7 335.6l5.4-7 3.8 3.1-5.4 7.1z"/><path class="k156" d="M362.3 342.3l5.4-6.7 3.8 3.2-5.4 6.7z"/><path class="k155" d="M357 348.6l5.3-6.3 3.8 3.2-5.4 6.4z"/><path class="k154" d="M346.2 359.1l5.4-4.9 5.4-5.6 3.7 3.3-5.4 5.7-5.4 4.9z"/><path class="k153" d="M335.4 365.6l5.4-2.6 5.4-3.9 3.7 3.4-5.3 4-5.4 2.6z"/><path class="k105" d="M330 366.7l5.4-1.1 3.8 3.5-5.4 1.2z"/><path class="k58" d="M324.6 366.1l5.4 .6 3.8 3.6-5.4-.5z"/><path class="k11" d="M319.3 363.4l5.3 2.7 3.8 3.7-5.4-2.6z"/><path class="k12" d="M313.9 358.5l5.4 4.9 3.7 3.8-5.4-4.9z"/><path class="k15" d="M308.5 350.9l5.4 7.6 3.7 3.8-5.4-7.5z"/><path class="k18" d="M303.1 340.4l5.4 10.5 3.7 3.9-5.4-10.5z"/><path class="k182" d="M538.5 173.7l5.4-19 3.7 1.2-5.4 19.2z"/><path class="k178" d="M533.1 189.8l5.4-16.1 3.7 1.4-5.3 16.2z"/><path class="k175" d="M527.7 203.4l5.4-13.6 3.8 1.5-5.4 13.5z"/><path class="k172" d="M522.3 214.6l5.4-11.2 3.8 1.4-5.4 11.3z"/><path class="k170" d="M516.9 223.7l5.4-9.1 3.8 1.5-5.4 9.2z"/><path class="k169" d="M511.5 231.2l5.4-7.5 3.8 1.6-5.4 7.5z"/><path class="k167" d="M500.8 241.8l5.4-4.7 5.3-5.9 3.8 1.6-5.4 6.1-5.4 4.7z"/><path class="k118" d="M484.6 250.7l5.4-2.3 5.4-2.9 5.4-3.7 3.7 1.8-5.4 3.8-5.3 2.9-5.4 2.4z"/><path class="k70" d="M468.4 255.6l5.4-1.4 5.4-1.6 5.4-1.9 3.8 2-5.4 1.9-5.4 1.7-5.4 1.5z"/><path class="k71" d="M457.7 258.8l5.4-1.7 5.3-1.5 3.8 2.2-5.4 1.6-5.4 1.7z"/><path class="k119" d="M436.1 268.5l5.4-3.1 5.4-2.6 5.4-2.2 5.4-1.8 3.7 2.3-5.4 1.9-5.3 2.3-5.4 2.6-5.4 3.2z"/><path class="k167" d="M425.4 276.1l5.3-4.1 5.4-3.5 3.8 2.6-5.4 3.6-5.4 4.1z"/><path class="k166" d="M414.6 285.7l5.4-5.1 5.4-4.5 3.7 2.7-5.4 4.6-5.4 5.2z"/><path class="k165" d="M409.2 291.3l5.4-5.6 3.7 2.9-5.4 5.6z"/><path class="k164" d="M403.8 297.3l5.4-6 3.7 2.9-5.3 6.1z"/><path class="k163" d="M398.4 303.7l5.4-6.4 3.8 3-5.4 6.5z"/><path class="k162" d="M393 310.5l5.4-6.8 3.8 3.1-5.4 6.8z"/><path class="k161" d="M387.6 317.5l5.4-7 3.8 3.1-5.4 7z"/><path class="k159" d="M382.3 324.6l5.3-7.1 3.8 3.1-5.4 7.2z"/><path class="k158" d="M376.9 331.7l5.4-7.1 3.7 3.2-5.4 7.2z"/><path class="k157" d="M371.5 338.8l5.4-7.1 3.7 3.3-5.4 7.1z"/><path class="k156" d="M366.1 345.5l5.4-6.7 3.7 3.3-5.4 6.9z"/><path class="k155" d="M360.7 351.9l5.4-6.4 3.7 3.5-5.3 6.4z"/><path class="k154" d="M355.3 357.6l5.4-5.7 3.8 3.5-5.4 5.8z"/><path class="k153" d="M344.6 366.5l5.3-4 5.4-4.9 3.8 3.6-5.4 5-5.4 3.9z"/><path class="k152" d="M339.2 369.1l5.4-2.6 3.7 3.6-5.4 2.8z"/><path class="k105" d="M333.8 370.3l5.4-1.2 3.7 3.8-5.4 1.2z"/><path class="k57" d="M328.4 369.8l5.4 .5 3.7 3.8-5.4-.5z"/><path class="k10" d="M323 367.2l5.4 2.6 3.7 3.8-5.4-2.5z"/><path class="k12" d="M317.6 362.3l5.4 4.9 3.7 3.9-5.3-4.8z"/><path class="k14" d="M312.2 354.8l5.4 7.5 3.8 4-5.4-7.4z"/><path class="k17" d="M306.8 344.3l5.4 10.5 3.8 4.1-5.4-10.4z"/><path class="k182" d="M542.2 175.1l5.4-19.2 3.8 1.4-5.4 19.1z"/><path class="k178" d="M536.9 191.3l5.3-16.2 3.8 1.3-5.4 16.3z"/><path class="k175" d="M531.5 204.8l5.4-13.5 3.7 1.4-5.4 13.6z"/><path class="k172" d="M526.1 216.1l5.4-11.3 3.7 1.5-5.4 11.4z"/><path class="k170" d="M520.7 225.3l5.4-9.2 3.7 1.6-5.3 9.3z"/><path class="k168" d="M515.3 232.8l5.4-7.5 3.8 1.7-5.4 7.6z"/><path class="k167" d="M504.5 243.6l5.4-4.7 5.4-6.1 3.8 1.8-5.4 6-5.4 4.9z"/><path class="k118" d="M488.4 252.7l5.4-2.4 5.3-2.9 5.4-3.8 3.8 1.9-5.4 3.8-5.4 3-5.4 2.4z"/><path class="k70" d="M466.8 259.4l5.4-1.6 5.4-1.5 5.4-1.7 5.4-1.9 3.7 2-5.4 2-5.3 1.7-5.4 1.7-5.4 1.6z"/><path class="k119" d="M439.9 271.1l5.4-3.2 5.4-2.6 5.3-2.3 5.4-1.9 5.4-1.7 3.8 2.3-5.4 1.7-5.4 2.1-5.4 2.3-5.4 2.7-5.4 3.2z"/><path class="k167" d="M434.5 274.7l5.4-3.6 3.7 2.6-5.3 3.7z"/><path class="k166" d="M423.7 283.4l5.4-4.6 5.4-4.1 3.8 2.7-5.4 4.1-5.4 4.7z"/><path class="k165" d="M418.3 288.6l5.4-5.2 3.8 2.8-5.4 5.3z"/><path class="k164" d="M412.9 294.2l5.4-5.6 3.8 2.9-5.4 5.7z"/><path class="k163" d="M407.6 300.3l5.3-6.1 3.8 3-5.4 6.1z"/><path class="k162" d="M402.2 306.8l5.4-6.5 3.7 3-5.4 6.6z"/><path class="k161" d="M396.8 313.6l5.4-6.8 3.7 3.1-5.4 6.8z"/><path class="k160" d="M391.4 320.6l5.4-7 3.7 3.1-5.4 7.2z"/><path class="k159" d="M386 327.8l5.4-7.2 3.7 3.3-5.3 7.2z"/><path class="k158" d="M380.6 335l5.4-7.2 3.8 3.3-5.4 7.3z"/><path class="k156" d="M375.2 342.1l5.4-7.1 3.8 3.4-5.4 7.2z"/><path class="k155" d="M369.8 349l5.4-6.9 3.8 3.5-5.4 6.9z"/><path class="k154" d="M364.5 355.4l5.3-6.4 3.8 3.5-5.4 6.4z"/><path class="k153" d="M359.1 361.2l5.4-5.8 3.7 3.5-5.4 5.9z"/><path class="k152" d="M342.9 372.9l5.4-2.8 5.4-3.9 5.4-5 3.7 3.6-5.4 5-5.4 4.1-5.3 2.8z"/><path class="k104" d="M337.5 374.1l5.4-1.2 3.8 3.8-5.4 1.3z"/><path class="k56" d="M332.1 373.6l5.4 .5 3.8 3.9-5.4-.4z"/><path class="k9" d="M326.7 371.1l5.4 2.5 3.8 4-5.4-2.5z"/><path class="k11" d="M321.4 366.3l5.3 4.8 3.8 4-5.4-4.7z"/><path class="k13" d="M316 358.9l5.4 7.4 3.7 4.1-5.4-7.4z"/><path class="k16" d="M310.6 348.5l5.4 10.4 3.7 4.1-5.4-10.3z"/><path class="k182" d="M546 176.4l5.4-19.1 3.8 1.2-5.4 19.2z"/><path class="k178" d="M540.6 192.7l5.4-16.3 3.8 1.3-5.4 16.3z"/><path class="k175" d="M535.2 206.3l5.4-13.6 3.8 1.3-5.4 13.7z"/><path class="k172" d="M529.8 217.7l5.4-11.4 3.8 1.4-5.4 11.4z"/><path class="k170" d="M524.5 227l5.3-9.3 3.8 1.4-5.4 9.4z"/><path class="k168" d="M519.1 234.6l5.4-7.6 3.7 1.5-5.4 7.6z"/><path class="k167" d="M513.7 240.6l5.4-6 3.7 1.5-5.4 6.2z"/><path class="k166" d="M508.3 245.5l5.4-4.9 3.7 1.7-5.3 4.9z"/><path class="k118" d="M492.1 254.7l5.4-2.4 5.4-3 5.4-3.8 3.8 1.7-5.4 3.9-5.4 3.1-5.4 2.4z"/><path class="k70" d="M465.2 263.4l5.4-1.7 5.4-1.6 5.4-1.7 5.3-1.7 5.4-2 3.8 1.9-5.4 2.1-5.4 1.8-5.4 1.7-5.4 1.7-5.3 1.8z"/><path class="k119" d="M449 270.5l5.4-2.7 5.4-2.3 5.4-2.1 3.8 2.3-5.4 2.1-5.4 2.4-5.4 2.7z"/><path class="k118" d="M443.6 273.7l5.4-3.2 3.8 2.4-5.4 3.3z"/><path class="k166" d="M432.9 281.5l5.4-4.1 5.3-3.7 3.8 2.5-5.4 3.7-5.4 4.3z"/><path class="k165" d="M422.1 291.5l5.4-5.3 5.4-4.7 3.7 2.7-5.4 4.7-5.4 5.3z"/><path class="k164" d="M416.7 297.2l5.4-5.7 3.7 2.7-5.3 5.8z"/><path class="k163" d="M411.3 303.3l5.4-6.1 3.8 2.8-5.4 6.2z"/><path class="k162" d="M405.9 309.9l5.4-6.6 3.8 2.9-5.4 6.6z"/><path class="k161" d="M400.5 316.7l5.4-6.8 3.8 2.9-5.4 7z"/><path class="k160" d="M395.1 323.9l5.4-7.2 3.8 3.1-5.4 7.2z"/><path class="k158" d="M389.8 331.1l5.3-7.2 3.8 3.1-5.4 7.3z"/><path class="k157" d="M384.4 338.4l5.4-7.3 3.7 3.2-5.4 7.3z"/><path class="k156" d="M379 345.6l5.4-7.2 3.7 3.2-5.4 7.2z"/><path class="k155" d="M373.6 352.5l5.4-6.9 3.7 3.2-5.4 7z"/><path class="k154" d="M368.2 358.9l5.4-6.4 3.7 3.3-5.3 6.5z"/><path class="k153" d="M362.8 364.8l5.4-5.9 3.8 3.4-5.4 6z"/><path class="k152" d="M357.4 369.8l5.4-5 3.8 3.5-5.4 5.1z"/><path class="k151" d="M346.7 376.7l5.3-2.8 5.4-4.1 3.8 3.6-5.4 4.1-5.4 2.9z"/><path class="k103" d="M341.3 378l5.4-1.3 3.7 3.7-5.4 1.3z"/><path class="k56" d="M335.9 377.6l5.4 .4 3.7 3.7-5.4-.3z"/><path class="k9" d="M330.5 375.1l5.4 2.5 3.7 3.8-5.4-2.4z"/><path class="k10" d="M325.1 370.4l5.4 4.7 3.7 3.9-5.3-4.7z"/><path class="k12" d="M319.7 363l5.4 7.4 3.8 3.9-5.4-7.3z"/><path class="k15" d="M314.3 352.7l5.4 10.3 3.8 4-5.4-10.2z"/><path class="k182" d="M549.8 177.7l5.4-19.2 3.7 .8-5.4 19.3z"/><path class="k178" d="M544.4 194l5.4-16.3 3.7 .9-5.3 16.4z"/><path class="k175" d="M539 207.7l5.4-13.7 3.8 1-5.4 13.8z"/><path class="k172" d="M533.6 219.1l5.4-11.4 3.8 1.1-5.4 11.4z"/><path class="k170" d="M528.2 228.5l5.4-9.4 3.8 1.1-5.4 9.5z"/><path class="k168" d="M522.8 236.1l5.4-7.6 3.8 1.2-5.4 7.7z"/><path class="k167" d="M517.4 242.3l5.4-6.2 3.8 1.3-5.4 6.2z"/><path class="k118" d="M501.3 254.2l5.4-3.1 5.4-3.9 5.3-4.9 3.8 1.3-5.4 5-5.4 3.9-5.4 3.2z"/><path class="k69" d="M490.5 258.7l5.4-2.1 5.4-2.4 3.7 1.5-5.3 2.5-5.4 2.1z"/><path class="k70" d="M463.6 267.8l5.4-2.1 5.3-1.8 5.4-1.7 5.4-1.7 5.4-1.8 3.8 1.6-5.4 1.9-5.4 1.7-5.4 1.8-5.4 1.9-5.4 2.1z"/><path class="k118" d="M442 279.9l5.4-3.7 5.4-3.3 5.4-2.7 5.4-2.4 3.7 1.9-5.4 2.5-5.4 2.8-5.3 3.3-5.4 3.8z"/><path class="k166" d="M436.6 284.2l5.4-4.3 3.8 2.2-5.4 4.4z"/><path class="k165" d="M431.2 288.9l5.4-4.7 3.8 2.3-5.4 4.8z"/><path class="k164" d="M420.5 300l5.3-5.8 5.4-5.3 3.8 2.4-5.4 5.3-5.4 5.9z"/><path class="k163" d="M415.1 306.2l5.4-6.2 3.7 2.5-5.4 6.3z"/><path class="k162" d="M409.7 312.8l5.4-6.6 3.7 2.6-5.4 6.6z"/><path class="k160" d="M404.3 319.8l5.4-7 3.7 2.6-5.4 7.1z"/><path class="k159" d="M398.9 327l5.4-7.2 3.7 2.7-5.3 7.2z"/><path class="k158" d="M393.5 334.3l5.4-7.3 3.8 2.7-5.4 7.4z"/><path class="k157" d="M388.1 341.6l5.4-7.3 3.8 2.8-5.4 7.4z"/><path class="k155" d="M382.7 348.8l5.4-7.2 3.8 2.9-5.4 7.3z"/><path class="k154" d="M377.3 355.8l5.4-7 3.8 3-5.4 7z"/><path class="k153" d="M372 362.3l5.3-6.5 3.8 3-5.4 6.6z"/><path class="k152" d="M366.6 368.3l5.4-6 3.7 3.1-5.4 6z"/><path class="k151" d="M355.8 377.5l5.4-4.1 5.4-5.1 3.7 3.1-5.4 5.2-5.4 4.2z"/><path class="k150" d="M350.4 380.4l5.4-2.9 3.7 3.3-5.3 2.9z"/><path class="k103" d="M345 381.7l5.4-1.3 3.8 3.3-5.4 1.4z"/><path class="k55" d="M339.6 381.4l5.4 .3 3.8 3.4-5.4-.3z"/><path class="k8" d="M334.2 379l5.4 2.4 3.8 3.4-5.4-2.3z"/><path class="k10" d="M328.9 374.3l5.3 4.7 3.8 3.5-5.4-4.6z"/><path class="k12" d="M323.5 367l5.4 7.3 3.7 3.6-5.4-7.2z"/><path class="k15" d="M318.1 356.8l5.4 10.2 3.7 3.7-5.4-10.2z"/><path class="k182" d="M553.5 178.6l5.4-19.3 3.8 .3-5.4 19.3z"/><path class="k178" d="M548.2 195l5.3-16.4 3.8 .3-5.4 16.5z"/><path class="k175" d="M542.8 208.8l5.4-13.8 3.7 .4-5.4 13.8z"/><path class="k172" d="M537.4 220.2l5.4-11.4 3.7 .4-5.4 11.6z"/><path class="k170" d="M532 229.7l5.4-9.5 3.7 .6-5.3 9.5z"/><path class="k168" d="M526.6 237.4l5.4-7.7 3.8 .6-5.4 7.7z"/><path class="k119" d="M521.2 243.6l5.4-6.2 3.8 .6-5.4 6.3z"/><path class="k118" d="M515.8 248.6l5.4-5 3.8 .7-5.4 5z"/><path class="k70" d="M505 255.7l5.4-3.2 5.4-3.9 3.8 .7-5.4 4.1-5.4 3.2z"/><path class="k21" d="M494.3 260.3l5.4-2.1 5.3-2.5 3.8 .9-5.4 2.6-5.4 2.2z"/><path class="k22" d="M472.7 267.6l5.4-1.9 5.4-1.8 5.4-1.7 5.4-1.9 3.7 1.1-5.4 1.9-5.3 1.8-5.4 1.8-5.4 2z"/><path class="k70" d="M456.5 275l5.4-2.8 5.4-2.5 5.4-2.1 3.8 1.3-5.4 2.2-5.4 2.5-5.4 2.9z"/><path class="k118" d="M445.8 282.1l5.4-3.8 5.3-3.3 3.8 1.5-5.4 3.4-5.4 3.9z"/><path class="k117" d="M440.4 286.5l5.4-4.4 3.7 1.7-5.4 4.4z"/><path class="k165" d="M435 291.3l5.4-4.8 3.7 1.7-5.4 4.8z"/><path class="k164" d="M429.6 296.6l5.4-5.3 3.7 1.7-5.3 5.5z"/><path class="k163" d="M424.2 302.5l5.4-5.9 3.8 1.9-5.4 5.9z"/><path class="k162" d="M418.8 308.8l5.4-6.3 3.8 1.9-5.4 6.3z"/><path class="k161" d="M413.4 315.4l5.4-6.6 3.8 1.9-5.4 6.8z"/><path class="k160" d="M408 322.5l5.4-7.1 3.8 2.1-5.4 7z"/><path class="k159" d="M402.7 329.7l5.3-7.2 3.8 2-5.4 7.4z"/><path class="k158" d="M397.3 337.1l5.4-7.4 3.7 2.2-5.4 7.4z"/><path class="k156" d="M391.9 344.5l5.4-7.4 3.7 2.2-5.4 7.5z"/><path class="k155" d="M386.5 351.8l5.4-7.3 3.7 2.3-5.4 7.3z"/><path class="k154" d="M381.1 358.8l5.4-7 3.7 2.3-5.4 7.1z"/><path class="k153" d="M375.7 365.4l5.4-6.6 3.7 2.4-5.3 6.7z"/><path class="k152" d="M370.3 371.4l5.4-6 3.8 2.5-5.4 6z"/><path class="k151" d="M364.9 376.6l5.4-5.2 3.8 2.5-5.4 5.3z"/><path class="k150" d="M359.5 380.8l5.4-4.2 3.8 2.6-5.4 4.2z"/><path class="k102" d="M348.8 385.1l5.4-1.4 5.3-2.9 3.8 2.6-5.4 3-5.4 1.6z"/><path class="k7" d="M343.4 384.8l5.4 .3 3.7 2.9-5.4-.3z"/><path class="k8" d="M338 382.5l5.4 2.3 3.7 2.9-5.4-2.2z"/><path class="k9" d="M332.6 377.9l5.4 4.6 3.7 3-5.4-4.6z"/><path class="k11" d="M327.2 370.7l5.4 7.2 3.7 3-5.4-7.2z"/><path class="k14" d="M321.8 360.5l5.4 10.2 3.7 3-5.3-10.1z"/><path class="k182" d="M557.3 178.9l5.4-19.3 3.8-.7-5.4 19.5z"/><path class="k178" d="M551.9 195.4l5.4-16.5 3.8-.5-5.4 16.5z"/><path class="k175" d="M546.5 209.2l5.4-13.8 3.8-.5-5.4 13.9z"/><path class="k172" d="M541.1 220.8l5.4-11.6 3.8-.4-5.4 11.6z"/><path class="k122" d="M535.8 230.3l5.3-9.5 3.8-.4-5.4 9.6z"/><path class="k121" d="M530.4 238l5.4-7.7 3.7-.3-5.4 7.8z"/><path class="k119" d="M525 244.3l5.4-6.3 3.7-.2-5.4 6.3z"/><path class="k71" d="M519.6 249.3l5.4-5 3.7-.2-5.3 5.1z"/><path class="k22" d="M460.3 276.5l5.4-2.9 5.4-2.5 5.4-2.2 5.4-2 5.4-1.8 5.3-1.8 5.4-1.9 5.4-2.2 5.4-2.6 5.4-3.2 5.4-4.1 3.8-.1-5.4 4.1-5.4 3.3-5.4 2.7-5.4 2.2-5.4 2-5.4 1.9-5.4 1.9-5.4 2-5.4 2.3-5.3 2.6-5.4 3z"/><path class="k70" d="M449.5 283.8l5.4-3.9 5.4-3.4 3.8 .7-5.4 3.4-5.4 3.9z"/><path class="k117" d="M438.7 293l5.4-4.8 5.4-4.4 3.8 .7-5.4 4.5-5.4 4.9z"/><path class="k116" d="M433.4 298.5l5.3-5.5 3.8 .9-5.4 5.5z"/><path class="k115" d="M428 304.4l5.4-5.9 3.7 .9-5.4 6z"/><path class="k162" d="M422.6 310.7l5.4-6.3 3.7 1-5.4 6.4z"/><path class="k161" d="M417.2 317.5l5.4-6.8 3.7 1.1-5.4 6.8z"/><path class="k160" d="M411.8 324.5l5.4-7 3.7 1.1-5.4 7.1z"/><path class="k159" d="M406.4 331.9l5.4-7.4 3.7 1.2-5.3 7.4z"/><path class="k157" d="M401 339.3l5.4-7.4 3.8 1.2-5.4 7.5z"/><path class="k156" d="M395.6 346.8l5.4-7.5 3.8 1.3-5.4 7.6z"/><path class="k155" d="M390.2 354.1l5.4-7.3 3.8 1.4-5.4 7.4z"/><path class="k154" d="M384.8 361.2l5.4-7.1 3.8 1.5-5.4 7.2z"/><path class="k152" d="M379.5 367.9l5.3-6.7 3.8 1.6-5.4 6.7z"/><path class="k151" d="M368.7 379.2l5.4-5.3 5.4-6 3.7 1.6-5.4 6.1-5.4 5.3z"/><path class="k102" d="M357.9 386.4l5.4-3 5.4-4.2 3.7 1.7-5.4 4.3-5.4 3.1z"/><path class="k54" d="M352.5 388l5.4-1.6 3.7 1.9-5.3 1.6z"/><path class="k6" d="M347.1 387.7l5.4 .3 3.8 1.9-5.4-.2z"/><path class="k7" d="M341.7 385.5l5.4 2.2 3.8 2-5.4-2.2z"/><path class="k9" d="M336.3 380.9l5.4 4.6 3.8 2-5.4-4.5z"/><path class="k11" d="M330.9 373.7l5.4 7.2 3.8 2.1-5.4-7.1z"/><path class="k14" d="M325.6 363.6l5.3 10.1 3.8 2.2-5.4-10z"/><path class="k183" d="M561.1 178.4l5.4-19.5 3.7-1.8-5.3 19.5z"/><path class="k179" d="M555.7 194.9l5.4-16.5 3.8-1.8-5.4 16.6z"/><path class="k128" d="M550.3 208.8l5.4-13.9 3.8-1.7-5.4 13.9z"/><path class="k125" d="M544.9 220.4l5.4-11.6 3.8-1.7-5.4 11.7z"/><path class="k75" d="M539.5 230l5.4-9.6 3.8-1.6-5.4 9.6z"/><path class="k73" d="M534.1 237.8l5.4-7.8 3.8-1.6-5.4 7.9z"/><path class="k24" d="M528.7 244.1l5.4-6.3 3.8-1.5-5.4 6.4z"/><path class="k23" d="M518 253.3l5.4-4.1 5.3-5.1 3.8-1.4-5.4 5.2-5.4 4.2z"/><path class="k22" d="M485.6 267.3l5.4-1.9 5.4-1.9 5.4-2 5.4-2.2 5.4-2.7 5.4-3.3 3.7-1.2-5.4 3.3-5.4 2.7-5.3 2.4-5.4 2-5.4 1.9-5.4 2z"/><path class="k23" d="M464.1 277.2l5.4-3 5.3-2.6 5.4-2.3 5.4-2 3.8-.9-5.4 2.1-5.4 2.3-5.4 2.7-5.4 3z"/><path class="k22" d="M447.9 289l5.4-4.5 5.4-3.9 5.4-3.4 3.7-.7-5.4 3.5-5.4 4-5.4 4.5z"/><path class="k21" d="M442.5 293.9l5.4-4.9 3.7-.5-5.3 5.1z"/><path class="k68" d="M437.1 299.4l5.4-5.5 3.8-.3-5.4 5.5z"/><path class="k67" d="M431.7 305.4l5.4-6 3.8-.3-5.4 6z"/><path class="k114" d="M426.3 311.8l5.4-6.4 3.8-.3-5.4 6.5z"/><path class="k113" d="M420.9 318.6l5.4-6.8 3.8-.2-5.4 6.9z"/><path class="k112" d="M415.5 325.7l5.4-7.1 3.8-.1-5.4 7.2z"/><path class="k111" d="M410.2 333.1l5.3-7.4 3.8 0-5.4 7.5z"/><path class="k110" d="M404.8 340.6l5.4-7.5 3.7 .1-5.4 7.5z"/><path class="k108" d="M399.4 348.2l5.4-7.6 3.7 .1-5.4 7.6z"/><path class="k107" d="M394 355.6l5.4-7.4 3.7 .1-5.4 7.5z"/><path class="k106" d="M388.6 362.8l5.4-7.2 3.7 .2-5.4 7.3z"/><path class="k105" d="M383.2 369.5l5.4-6.7 3.7 .3-5.3 6.7z"/><path class="k104" d="M377.8 375.6l5.4-6.1 3.8 .3-5.4 6.2z"/><path class="k103" d="M372.4 380.9l5.4-5.3 3.8 .4-5.4 5.4z"/><path class="k54" d="M367 385.2l5.4-4.3 3.8 .5-5.4 4.4z"/><path class="k6" d="M350.9 389.7l5.4 .2 5.3-1.6 5.4-3.1 3.8 .6-5.4 3.1-5.4 1.7-5.4-.1z"/><path class="k7" d="M345.5 387.5l5.4 2.2 3.7 .8-5.4-2.2z"/><path class="k9" d="M340.1 383l5.4 4.5 3.7 .8-5.4-4.4z"/><path class="k11" d="M334.7 375.9l5.4 7.1 3.7 .9-5.4-7z"/><path class="k14" d="M329.3 365.9l5.4 10 3.7 1-5.4-10z"/><path class="k136" d="M564.9 176.6l5.3-19.5 3.8-3.5-5.4 19.6z"/><path class="k132" d="M559.5 193.2l5.4-16.6 3.7-3.4-5.4 16.6z"/><path class="k81" d="M554.1 207.1l5.4-13.9 3.7-3.4-5.4 14.1z"/><path class="k30" d="M548.7 218.8l5.4-11.7 3.7-3.2-5.3 11.7z"/><path class="k28" d="M543.3 228.4l5.4-9.6 3.8-3.2-5.4 9.7z"/><path class="k26" d="M537.9 236.3l5.4-7.9 3.8-3.1-5.4 8z"/><path class="k25" d="M532.5 242.7l5.4-6.4 3.8-3-5.4 6.4z"/><path class="k24" d="M527.1 247.9l5.4-5.2 3.8-3-5.4 5.3z"/><path class="k23" d="M457 284l5.4-4 5.4-3.5 5.4-3 5.4-2.7 5.4-2.3 5.4-2.1 5.4-2 5.4-1.9 5.4-2 5.3-2.4 5.4-2.7 5.4-3.3 5.4-4.2 3.8-2.9-5.4 4.2-5.4 3.4-5.4 2.8-5.4 2.4-5.4 2.1-5.4 2-5.4 2-5.3 2.2-5.4 2.4-5.4 2.7-5.4 3.1-5.4 3.6-5.4 4z"/><path class="k22" d="M446.3 293.6l5.3-5.1 5.4-4.5 3.8-2.1-5.4 4.6-5.4 5.1z"/><path class="k21" d="M440.9 299.1l5.4-5.5 3.7-2-5.4 5.6z"/><path class="k20" d="M435.5 305.1l5.4-6 3.7-1.9-5.4 6.1z"/><path class="k19" d="M430.1 311.6l5.4-6.5 3.7-1.8-5.4 6.6z"/><path class="k18" d="M424.7 318.5l5.4-6.9 3.7-1.7-5.4 6.9z"/><path class="k17" d="M419.3 325.7l5.4-7.2 3.7-1.7-5.3 7.3z"/><path class="k15" d="M413.9 333.2l5.4-7.5 3.8-1.6-5.4 7.5z"/><path class="k14" d="M408.5 340.7l5.4-7.5 3.8-1.6-5.4 7.6z"/><path class="k61" d="M403.1 348.3l5.4-7.6 3.8-1.5-5.4 7.7z"/><path class="k59" d="M397.7 355.8l5.4-7.5 3.8-1.4-5.4 7.6z"/><path class="k58" d="M392.3 363.1l5.4-7.3 3.8-1.3-5.4 7.2z"/><path class="k9" d="M387 369.8l5.3-6.7 3.8-1.4-5.4 6.9z"/><path class="k8" d="M381.6 376l5.4-6.2 3.7-1.2-5.4 6.3z"/><path class="k7" d="M376.2 381.4l5.4-5.4 3.7-1.1-5.4 5.4z"/><path class="k6" d="M360 390.6l5.4-1.7 5.4-3.1 5.4-4.4 3.7-1.1-5.4 4.4-5.4 3.2-5.4 1.7z"/><path class="k7" d="M349.2 388.3l5.4 2.2 5.4 .1 3.7-1-5.3 0-5.4-2z"/><path class="k9" d="M343.8 383.9l5.4 4.4 3.8-.7-5.4-4.4z"/><path class="k11" d="M338.4 376.9l5.4 7 3.8-.7-5.4-7z"/><path class="k14" d="M333 366.9l5.4 10 3.8-.7-5.4-9.9z"/><path class="k89" d="M568.6 173.2l5.4-19.6 3.8-5.5-5.4 19.6z"/><path class="k37" d="M563.2 189.8l5.4-16.6 3.8-5.5-5.4 16.8z"/><path class="k34" d="M557.8 203.9l5.4-14.1 3.8-5.3-5.4 14.1z"/><path class="k31" d="M552.5 215.6l5.3-11.7 3.8-5.3-5.4 11.7z"/><path class="k29" d="M547.1 225.3l5.4-9.7 3.7-5.3-5.4 9.8z"/><path class="k27" d="M541.7 233.3l5.4-8 3.7-5.2-5.4 8z"/><path class="k26" d="M536.3 239.7l5.4-6.4 3.7-5.2-5.4 6.6z"/><path class="k25" d="M525.5 249.2l5.4-4.2 5.4-5.3 3.7-5-5.4 5.3-5.3 4.3z"/><path class="k24" d="M493.1 263.9l5.4-2 5.4-2 5.4-2.1 5.4-2.4 5.4-2.8 5.4-3.4 3.8-4.9-5.4 3.4-5.4 2.9-5.4 2.4-5.4 2.2-5.4 2.1-5.4 2.1z"/><path class="k25" d="M477 271.2l5.4-2.7 5.4-2.4 5.3-2.2 3.8-4.5-5.4 2.2-5.4 2.5-5.4 2.8z"/><path class="k24" d="M460.8 281.9l5.4-4 5.4-3.6 5.4-3.1 3.7-4.3-5.4 3.1-5.4 3.7-5.3 4.1z"/><path class="k23" d="M450 291.6l5.4-5.1 5.4-4.6 3.8-4.1-5.4 4.6-5.4 5.2z"/><path class="k22" d="M444.6 297.2l5.4-5.6 3.8-4-5.4 5.7z"/><path class="k21" d="M439.2 303.3l5.4-6.1 3.8-3.9-5.4 6.1z"/><path class="k20" d="M433.8 309.9l5.4-6.6 3.8-3.9-5.4 6.6z"/><path class="k19" d="M428.4 316.8l5.4-6.9 3.8-3.9-5.4 7.1z"/><path class="k18" d="M423.1 324.1l5.3-7.3 3.8-3.7-5.4 7.3z"/><path class="k16" d="M417.7 331.6l5.4-7.5 3.7-3.7-5.4 7.6z"/><path class="k15" d="M412.3 339.2l5.4-7.6 3.7-3.6-5.4 7.7z"/><path class="k14" d="M406.9 346.9l5.4-7.7 3.7-3.5-5.4 7.7z"/><path class="k12" d="M401.5 354.5l5.4-7.6 3.7-3.5-5.4 7.6z"/><path class="k11" d="M396.1 361.7l5.4-7.2 3.7-3.5-5.4 7.4z"/><path class="k10" d="M390.7 368.6l5.4-6.9 3.7-3.3-5.3 6.9z"/><path class="k9" d="M385.3 374.9l5.4-6.3 3.8-3.3-5.4 6.3z"/><path class="k8" d="M379.9 380.3l5.4-5.4 3.8-3.3-5.4 5.5z"/><path class="k7" d="M358.4 389.6l5.3 0 5.4-1.7 5.4-3.2 5.4-4.4 3.8-3.2-5.4 4.5-5.4 3.3-5.4 1.8-5.4 0z"/><path class="k8" d="M353 387.6l5.4 2 3.7-2.9-5.4-2z"/><path class="k10" d="M347.6 383.2l5.4 4.4 3.7-2.9-5.4-4.3z"/><path class="k12" d="M342.2 376.2l5.4 7 3.7-2.8-5.4-6.9z"/><path class="k15" d="M336.8 366.3l5.4 9.9 3.7-2.7-5.4-9.8z"/><path class="k44" d="M572.4 167.7l5.4-19.6 3.8-8.1-5.4 19.7z"/><path class="k39" d="M567 184.5l5.4-16.8 3.8-8-5.4 16.8z"/><path class="k36" d="M561.6 198.6l5.4-14.1 3.8-8-5.4 14.2z"/><path class="k33" d="M556.2 210.3l5.4-11.7 3.8-7.9-5.4 11.8z"/><path class="k31" d="M550.8 220.1l5.4-9.8 3.8-7.8-5.4 9.9z"/><path class="k29" d="M545.4 228.1l5.4-8 3.8-7.7-5.4 8.1z"/><path class="k28" d="M540 234.7l5.4-6.6 3.8-7.6-5.4 6.6z"/><path class="k27" d="M529.3 244.3l5.3-4.3 5.4-5.3 3.8-7.6-5.4 5.3-5.4 4.4z"/><path class="k26" d="M464.6 277.8l5.3-4.1 5.4-3.7 5.4-3.1 5.4-2.8 5.4-2.5 5.4-2.2 5.4-2.1 5.4-2.1 5.4-2.2 5.4-2.4 5.4-2.9 5.4-3.4 3.7-7.5-5.4 3.5-5.4 3-5.4 2.5-5.4 2.2-5.3 2.1-5.4 2.2-5.4 2.3-5.4 2.5-5.4 2.9-5.4 3.2-5.4 3.7-5.4 4.2z"/><path class="k25" d="M459.2 282.4l5.4-4.6 3.7-6.7-5.4 4.7z"/><path class="k24" d="M448.4 293.3l5.4-5.7 5.4-5.2 3.7-6.6-5.4 5.2-5.4 5.8z"/><path class="k23" d="M443 299.4l5.4-6.1 3.7-6.5-5.4 6.2z"/><path class="k22" d="M437.6 306l5.4-6.6 3.7-6.4-5.4 6.7z"/><path class="k21" d="M432.2 313.1l5.4-7.1 3.7-6.3-5.4 7.1z"/><path class="k19" d="M426.8 320.4l5.4-7.3 3.7-6.3-5.3 7.4z"/><path class="k18" d="M421.4 328l5.4-7.6 3.8-6.2-5.4 7.6z"/><path class="k17" d="M416 335.7l5.4-7.7 3.8-6.2-5.4 7.8z"/><path class="k15" d="M410.6 343.4l5.4-7.7 3.8-6.1-5.4 7.8z"/><path class="k14" d="M405.2 351l5.4-7.6 3.8-6-5.4 7.7z"/><path class="k13" d="M399.8 358.4l5.4-7.4 3.8-5.9-5.4 7.4z"/><path class="k11" d="M394.5 365.3l5.3-6.9 3.8-5.9-5.4 7z"/><path class="k10" d="M389.1 371.6l5.4-6.3 3.7-5.8-5.4 6.4z"/><path class="k9" d="M378.3 381.6l5.4-4.5 5.4-5.5 3.7-5.7-5.4 5.5-5.4 4.6z"/><path class="k8" d="M367.5 386.7l5.4-1.8 5.4-3.3 3.7-5.6-5.4 3.3-5.4 1.9z"/><path class="k9" d="M362.1 386.7l5.4 0 3.7-5.5-5.4 .1z"/><path class="k10" d="M356.7 384.7l5.4 2 3.7-5.4-5.3-2z"/><path class="k11" d="M351.3 380.4l5.4 4.3 3.8-5.4-5.4-4.2z"/><path class="k13" d="M345.9 373.5l5.4 6.9 3.8-5.3-5.4-6.9z"/><path class="k16" d="M340.5 363.7l5.4 9.8 3.8-5.3-5.4-9.7z"/></g>
<g stroke="#000" stroke-width="2" fill="none"><line x1="61" y1="363.4" x2="61" y2="154.1" /><line x1="61" y1="363.4" x2="344.3" y2="454.7" /><line x1="344.3" y1="454.7" x2="581.6" y2="345.5" /><line x1="61" y1="363.4" x2="52.5" y2="360.7" /><line x1="61" y1="311.1" x2="52.5" y2="308.4" /><line x1="61" y1="258.8" x2="52.5" y2="256.1" /><line x1="61" y1="206.4" x2="52.5" y2="203.7" /><line x1="61" y1="154.1" x2="52.5" y2="151.4" /></g>
<g stroke="#000" stroke-width="2.6" fill="none"><line x1="120.7" y1="387.6" x2="133.7" y2="381.6" /><line x1="195.6" y1="411.8" x2="208.6" y2="405.8" /><line x1="270.4" y1="435.9" x2="283.4" y2="429.9" /><line x1="348.1" y1="447.4" x2="362.1" y2="451.9" /><line x1="402" y1="422.6" x2="416" y2="427.1" /><line x1="455.9" y1="397.8" x2="469.9" y2="402.3" /><line x1="509.8" y1="373" x2="523.8" y2="377.5" /><line x1="563.8" y1="348.2" x2="577.8" y2="352.7" /></g>
<g font-family="Liberation Sans, Arial, sans-serif" fill="#262626" stroke="#262626" stroke-width="0.25" font-size="15.5"><text x="319" y="31.6" text-anchor="middle">Real output.</text><text x="49.5" y="366" text-anchor="end">-2</text><text x="49.5" y="313.7" text-anchor="end">0</text><text x="49.5" y="261.4" text-anchor="end">2</text><text x="49.5" y="209" text-anchor="end">4</text><text x="49.5" y="156.7" text-anchor="end">6</text><text x="112.2" y="402.1" text-anchor="middle">-1</text><text x="187.1" y="426.3" text-anchor="middle">0</text><text x="261.9" y="450.4" text-anchor="middle">1</text><text x="366.1" y="466.7" text-anchor="start">-1</text><text x="420" y="441.9" text-anchor="start">-0.5</text><text x="473.9" y="417.1" text-anchor="start">0</text><text x="527.8" y="392.3" text-anchor="start">0.5</text><text x="581.8" y="367.4" text-anchor="start">1</text><text x="230" y="498">x<tspan dy="6" font-size="13">1</tspan></text><text x="463" y="478">x<tspan dy="6" font-size="13">2</tspan></text><text transform="translate(23.5 266) rotate(-90)">y</text></g>
<path fill="none" stroke="#1c0c50" stroke-width="1.8" stroke-linejoin="round" d="M1000.8 393.1 997.8 391.3 994 381.9 1000.8 373.1 1004.6 372.5 1007.6 372.4 1008.1 372.5 1014.5 377.2 1017.8 381.9 1016.3 391.3 1014.5 392.6 1007.6 394.4 1000.8 393.1M980.2 129.3 979.7 129.2 973.3 124.5 970 119.8 971.5 110.4 973.3 109.1 980.2 107.3 987 108.6 990 110.4 993.8 119.8 987 128.6 983.2 129.2 980.2 129.3"/>
<path fill="none" stroke="#3010a8" stroke-width="1.8" stroke-linejoin="round" d="M993.9 438.1 987 436.5 980.2 434.4 973.3 431.9 966.4 428.9 959.5 424.4 952.7 419.4 945.8 412.1 944 410 938.9 401.6 938.4 400.6 935.2 391.3 933.7 381.9 933.8 372.5 935.1 363.2 937.4 353.8 938.9 349.2 940.6 344.5 944.5 335.1 945.8 332.1 948.9 325.7 952.7 318.2 953.7 316.4 958.9 307 959.5 305.8 964.5 297.7 966.4 294 970.2 288.3 973.3 282.7 976.1 278.9 980.2 271.8 982.2 269.6 987 261.1 988.4 260.2 993.9 250.8 987 243.4 986.4 241.5 980.2 234.8 978.6 232.1 973.3 226.4 970.8 222.8 966.4 218 963 213.4 959.5 209.6 955.3 204 952.7 201.1 947.6 194.7 945.8 192.6 940 185.3 938.9 184 932.6 176 932.1 175.3 925.4 166.6 918.4 157.2 911.9 147.9 911.4 147.1 906.1 138.5 904.6 135.4 901.3 129.2 898 119.8 897.7 117.2 896.8 110.4 897.7 105.6 898.5 101.1 903.7 91.7 904.6 90.8 911.4 84 913.2 82.3 918.3 79 925.2 74.8 928.4 73 932.1 71.5 938.9 68.9 945.8 66.7 952.7 64.8 958.5 63.6 959.5 63.4 966.4 62.7 973.3 62.3 980.2 62.4 987 62.8 993.9 63.6 1000.8 65.2 1007.6 67.3 1014.5 69.8 1021.4 72.8 1028.3 77.3 1035.1 82.3 1042 89.6 1043.8 91.7 1048.9 100.1 1049.4 101.1 1052.6 110.4 1054.1 119.8 1054 129.2 1052.7 138.5 1050.4 147.9 1048.9 152.5 1047.2 157.2 1043.3 166.6 1042 169.6 1038.9 176 1035.1 183.5 1034.1 185.3 1028.9 194.7 1028.3 195.9 1023.3 204 1021.4 207.7 1017.6 213.4 1014.5 219 1011.7 222.8 1007.6 229.9 1005.6 232.1 1000.8 240.6 999.4 241.5 993.9 250.8 1000.8 258.3 1001.4 260.2 1007.6 266.9 1009.2 269.6 1014.5 275.3 1017 278.9 1021.4 283.7 1024.8 288.3 1028.3 292.1 1032.5 297.7 1035.1 300.6 1040.2 307 1042 309.1 1047.8 316.4 1048.9 317.7 1055.2 325.7 1055.7 326.4 1062.4 335.1 1069.4 344.5 1075.9 353.8 1076.4 354.6 1081.7 363.2 1083.2 366.3 1086.5 372.5 1089.8 381.9 1090.1 384.5 1091 391.3 1090.1 396.1 1089.3 400.6 1084.1 410 1083.2 410.9 1076.4 417.7 1074.6 419.4 1069.5 422.7 1062.6 426.9 1059.4 428.7 1055.7 430.2 1048.9 432.8 1042 435 1035.1 436.9 1029.3 438.1 1028.3 438.3 1021.4 439 1014.5 439.4 1007.6 439.3 1000.8 438.9 993.9 438.1M1220.6 421.9 1215.3 419.4 1213.8 418.1 1206.9 410.7 1206.3 410 1203.2 400.6 1204.2 391.3 1206.9 385.9 1209.3 381.9 1213.8 377.4 1220.6 372.8 1221.7 372.5 1227.5 371.6 1230.9 372.5 1234.4 373.8 1241.3 381.3 1241.6 381.9 1244.7 391.3 1245.9 400.6 1244.7 410 1241.3 417.7 1239.8 419.4 1234.4 422.7 1227.5 423.5 1220.6 421.9M760.3 130.1 756.9 129.2 753.4 127.9 746.5 120.4 746.2 119.8 743.1 110.4 741.9 101.1 743.1 91.7 746.5 84 748 82.3 753.4 79 760.3 78.2 767.2 79.8 772.5 82.3 774 83.6 780.9 91 781.5 91.7 784.6 101.1 783.6 110.4 780.9 115.8 778.5 119.8 774 124.3 767.2 128.9 766.1 129.2 760.3 130.1"/>
<path fill="none" stroke="#70c4dc" stroke-width="1.6" stroke-linejoin="round" d="M996.4 456.8 993.9 456.5 987 455.5 980.2 454.1 973.3 452.4 966.4 450.4 959.5 448.1 957.6 447.4 952.7 445.2 945.8 441.9 938.9 438.3 938.5 438.1 932.1 433.7 925.2 428.8 918.3 422.4 915.1 419.4 911.4 414.7 907.7 410 904.6 404.4 902.4 400.6 899 391.3 897.7 384.6 897.2 381.9 896.7 372.5 897.5 363.2 897.7 361.7 899.1 353.8 901.3 344.5 904.1 335.1 904.6 333.5 907 325.7 910 316.4 911.4 311.6 912.9 307 915.5 297.7 917.6 288.3 918.3 284.2 919.2 278.9 920.2 269.6 920.3 260.2 919.5 250.8 918.3 244.1 917.9 241.5 915.3 232.1 911.7 222.8 911.4 222.2 907.2 213.4 904.6 208.7 901.8 204 897.7 197.8 895.5 194.7 890.8 188.5 888.2 185.3 884 180.4 879.7 176 877.1 173.4 870.2 167.3 869.3 166.6 863.3 162.2 856.5 158.2 854 157.2 849.6 155.4 842.7 153.7 835.9 153.3 829 154.1 822.1 156.1 819.3 157.2 815.3 158.8 808.4 162.3 801.5 166.2 801 166.6 794.6 170.4 787.8 174.5 785.2 176 780.9 178.3 774 181.3 767.2 183.2 760.3 183.3 753.4 181.2 746.5 176.2 739.7 167.7 739.1 166.6 734.2 157.2 732.8 154.5M1255 441.9 1249.1 447.4 1248.1 448.1 1241.3 451.1 1234.4 452.5 1227.5 452.6 1220.6 451.9 1213.8 450.5 1206.9 448.7 1202.8 447.4 1200 446.4 1193.2 443.6 1186.3 441 1179.4 438.5 1178.1 438.1 1172.5 435.8 1165.7 433.4 1158.8 431.6 1151.9 430.5 1145.1 430 1138.2 430.1 1131.3 430.8 1124.4 432.1 1117.6 433.8 1110.7 436 1104.9 438.1 1103.8 438.4 1097 440.5 1090.1 442.7 1083.2 445 1076.4 447.3 1069.5 449.2 1062.6 450.9 1055.7 452.5 1048.9 454 1042 455.3 1035.1 456.3 1030.7 456.8M732.8 59.8 738.7 54.3 739.7 53.6 746.5 50.6 753.4 49.2 760.3 49.1 767.2 49.8 774 51.2 780.9 53 785 54.3 787.8 55.3 794.6 58.1 801.5 60.7 808.4 63.2 809.7 63.6 815.3 65.9 822.1 68.3 829 70.1 835.9 71.2 842.7 71.7 849.6 71.6 856.5 70.9 863.3 69.6 870.2 67.9 877.1 65.7 882.9 63.6 884 63.3 890.8 61.2 897.7 59 904.6 56.7 911.4 54.4 918.3 52.5 925.2 50.8 932.1 49.2 938.9 47.7 945.8 46.4 952.7 45.4 957.1 44.9M991.4 44.9 993.9 45.2 1000.8 46.2 1007.6 47.6 1014.5 49.3 1021.4 51.3 1028.3 53.6 1030.2 54.3 1035.1 56.5 1042 59.8 1048.9 63.4 1049.3 63.6 1055.7 68 1062.6 72.9 1069.5 79.3 1072.7 82.3 1076.4 87 1080.1 91.7 1083.2 97.3 1085.4 101.1 1088.8 110.4 1090.1 117.1 1090.6 119.8 1091.1 129.2 1090.3 138.5 1090.1 140 1088.7 147.9 1086.5 157.2 1083.7 166.6 1083.2 168.2 1080.8 176 1077.8 185.3 1076.4 190.1 1074.9 194.7 1072.3 204 1070.2 213.4 1069.5 217.5 1068.6 222.8 1067.6 232.1 1067.5 241.5 1068.3 250.8 1069.5 257.6 1069.9 260.2 1072.5 269.6 1076.1 278.9 1076.4 279.5 1080.6 288.3 1083.2 293 1086 297.7 1090.1 303.9 1092.3 307 1097 313.2 1099.6 316.4 1103.8 321.3 1108.1 325.7 1110.7 328.3 1117.6 334.4 1118.5 335.1 1124.4 339.5 1131.3 343.5 1133.8 344.5 1138.2 346.3 1145.1 348 1151.9 348.4 1158.8 347.6 1165.7 345.6 1168.5 344.5 1172.5 342.9 1179.4 339.4 1186.3 335.5 1186.8 335.1 1193.2 331.3 1200 327.2 1202.6 325.7 1206.9 323.4 1213.8 320.4 1220.6 318.5 1227.5 318.4 1234.4 320.5 1241.3 325.5 1248.1 334 1248.7 335.1 1253.6 344.5 1255 347.2"/>
<path fill="none" stroke="#a0dc88" stroke-width="1.6" stroke-linejoin="round" d="M940.6 456.8 938.9 456.1 932.1 453 925.2 449.8 920.2 447.4 918.3 446.3 911.4 442.3 904.6 438.3 897.7 433.4 891 428.7 884 422.7 879.8 419.4 877.1 416.5 870.3 410 863.3 401.6 862.4 400.6 856.5 391.4 852.2 381.9 850.3 372.5 850.5 363.2 852.2 353.8 855.3 344.5 856.5 341.6 858.8 335.1 862.5 325.7 863.3 323.7 866 316.4 869.2 307 870.2 303.5 871.8 297.7 873.7 288.3 874.9 278.9 875.2 269.6 874.4 260.2 872.5 250.8 870.2 244.2 869.2 241.5 864 232.1 863.3 231.2 856.5 223.2 856 222.8 849.6 218.1 842.7 214.8 837.3 213.4 835.9 213.1 829 212.9 825.9 213.4 822.1 214.1 815.3 216.4 808.4 219.8 803.4 222.8 801.5 224 794.6 229 790.3 232.1 787.8 234.3 780.9 239.4 777.2 241.5 774 243.6 767.2 245.7 760.3 244.3 757 241.5 753.4 239 748.4 232.1 746.5 229.9 742.8 222.8 739.7 217.5 738 213.4 733.9 204 732.8 201.8M1168.8 456.8 1165.7 456.1 1158.8 455 1151.9 454.2 1145.1 453.8 1138.2 453.8 1131.3 454.1 1124.4 454.7 1117.6 455.6 1110.7 456.8 1110.6 456.8M819 44.9 822.1 45.6 829 46.7 835.9 47.5 842.7 47.9 849.6 47.9 856.5 47.6 863.3 47 870.2 46.1 877.1 44.9 877.2 44.9M1047.2 44.9 1048.9 45.6 1055.7 48.7 1062.6 51.9 1067.6 54.3 1069.5 55.4 1076.4 59.4 1083.2 63.4 1090.1 68.3 1096.8 73 1103.8 79 1108 82.3 1110.7 85.2 1117.5 91.7 1124.4 100.1 1125.4 101.1 1131.3 110.3 1135.6 119.8 1137.5 129.2 1137.3 138.5 1135.6 147.9 1132.5 157.2 1131.3 160.1 1129 166.6 1125.3 176 1124.4 178 1121.8 185.3 1118.6 194.7 1117.6 198.2 1116 204 1114.1 213.4 1112.9 222.8 1112.6 232.1 1113.4 241.5 1115.3 250.8 1117.6 257.5 1118.6 260.2 1123.8 269.6 1124.4 270.5 1131.3 278.5 1131.8 278.9 1138.2 283.6 1145.1 286.9 1150.5 288.3 1151.9 288.6 1158.8 288.8 1161.9 288.3 1165.7 287.6 1172.5 285.3 1179.4 281.9 1184.4 278.9 1186.3 277.7 1193.2 272.7 1197.5 269.6 1200 267.4 1206.9 262.3 1210.6 260.2 1213.8 258.1 1220.6 256 1227.5 257.4 1230.8 260.2 1234.4 262.7 1239.4 269.6 1241.3 271.8 1245 278.9 1248.1 284.2 1249.8 288.3 1253.9 297.7 1255 299.9"/>
<path fill="none" stroke="#dcc838" stroke-width="1.6" stroke-linejoin="round" d="M906.9 456.8 904.6 455.7 897.7 452.4 890.8 449.2 886.8 447.4 884 445.9 877.1 442.4 870.2 439.2 867.5 438.1 863.3 435.9 856.5 432.6 849.6 429.9 846.1 428.7 842.7 427.3 835.9 425 829 423.3 822.1 422.1 815.3 421.5 808.4 421.3 801.5 421.4 794.6 421.7 787.8 422.1 780.9 422.4 774 422.2 767.2 421.5 760.3 419.9 759.1 419.4 753.4 416.3 746.5 410.7 746 410 740 400.6 739.7 399.8 736.8 391.3 734.5 381.9 733.1 372.5 732.8 369.4M1080.9 44.9 1083.2 46 1090.1 49.3 1097 52.5 1101 54.3 1103.8 55.8 1110.7 59.3 1117.6 62.5 1120.3 63.6 1124.4 65.8 1131.3 69.1 1138.2 71.8 1141.7 73 1145.1 74.4 1151.9 76.7 1158.8 78.4 1165.7 79.6 1172.5 80.2 1179.4 80.4 1186.3 80.3 1193.2 80 1200 79.6 1206.9 79.3 1213.8 79.5 1220.6 80.2 1227.5 81.8 1228.7 82.3 1234.4 85.4 1241.3 91 1241.8 91.7 1247.8 101.1 1248.1 101.9 1251 110.4 1253.3 119.8 1254.7 129.2 1255 132.3"/>
<path fill="none" stroke="#a81424" stroke-width="1.6" stroke-linejoin="round" d="M872 456.8 870.2 456.1 863.3 453.6 856.5 451.5 849.6 449.6 842.7 448 839.7 447.4 835.9 446.6 829 445.4 822.1 444.5 815.3 444 808.4 443.8 801.5 443.8 794.6 443.9 787.8 444 780.9 444.1 774 443.9 767.2 443.3 760.3 442.1 753.4 440.2 748.6 438.1 746.5 437 739.7 431.7 736.9 428.7 732.8 423.3M1115.8 44.9 1117.6 45.6 1124.4 48.1 1131.3 50.2 1138.2 52.1 1145.1 53.7 1148.1 54.3 1151.9 55.1 1158.8 56.3 1165.7 57.2 1172.5 57.7 1179.4 57.9 1186.3 57.9 1193.2 57.8 1200 57.7 1206.9 57.6 1213.8 57.8 1220.6 58.4 1227.5 59.6 1234.4 61.5 1239.2 63.6 1241.3 64.7 1248.1 70 1250.9 73 1255 78.4"/>
<path fill="none" stroke="#500a10" stroke-width="1.6" stroke-linejoin="round" d="M757.5 456.8 753.4 455.8 746.5 453.2 739.7 449.6 736.7 447.4 732.8 444M1230.3 44.9 1234.4 45.9 1241.3 48.5 1248.1 52.1 1251.1 54.3 1255 57.7"/>
<g stroke="#000" stroke-width="1.8" fill="none"><rect x="732.8" y="44.9" width="522.2" height="411.9"/><line x1="787.8" y1="456.8" x2="787.8" y2="450.3" /><line x1="787.8" y1="44.9" x2="787.8" y2="51.4" /><line x1="856.5" y1="456.8" x2="856.5" y2="450.3" /><line x1="856.5" y1="44.9" x2="856.5" y2="51.4" /><line x1="925.2" y1="456.8" x2="925.2" y2="450.3" /><line x1="925.2" y1="44.9" x2="925.2" y2="51.4" /><line x1="993.9" y1="456.8" x2="993.9" y2="450.3" /><line x1="993.9" y1="44.9" x2="993.9" y2="51.4" /><line x1="1062.6" y1="456.8" x2="1062.6" y2="450.3" /><line x1="1062.6" y1="44.9" x2="1062.6" y2="51.4" /><line x1="1131.3" y1="456.8" x2="1131.3" y2="450.3" /><line x1="1131.3" y1="44.9" x2="1131.3" y2="51.4" /><line x1="1200" y1="456.8" x2="1200" y2="450.3" /><line x1="1200" y1="44.9" x2="1200" y2="51.4" /><line x1="732.8" y1="438.1" x2="739.3" y2="438.1" /><line x1="1255" y1="438.1" x2="1248.5" y2="438.1" /><line x1="732.8" y1="400.6" x2="739.3" y2="400.6" /><line x1="1255" y1="400.6" x2="1248.5" y2="400.6" /><line x1="732.8" y1="363.2" x2="739.3" y2="363.2" /><line x1="1255" y1="363.2" x2="1248.5" y2="363.2" /><line x1="732.8" y1="325.7" x2="739.3" y2="325.7" /><line x1="1255" y1="325.7" x2="1248.5" y2="325.7" /><line x1="732.8" y1="288.3" x2="739.3" y2="288.3" /><line x1="1255" y1="288.3" x2="1248.5" y2="288.3" /><line x1="732.8" y1="250.8" x2="739.3" y2="250.8" /><line x1="1255" y1="250.8" x2="1248.5" y2="250.8" /><line x1="732.8" y1="213.4" x2="739.3" y2="213.4" /><line x1="1255" y1="213.4" x2="1248.5" y2="213.4" /><line x1="732.8" y1="176" x2="739.3" y2="176" /><line x1="1255" y1="176" x2="1248.5" y2="176" /><line x1="732.8" y1="138.5" x2="739.3" y2="138.5" /><line x1="1255" y1="138.5" x2="1248.5" y2="138.5" /><line x1="732.8" y1="101.1" x2="739.3" y2="101.1" /><line x1="1255" y1="101.1" x2="1248.5" y2="101.1" /><line x1="732.8" y1="63.6" x2="739.3" y2="63.6" /><line x1="1255" y1="63.6" x2="1248.5" y2="63.6" /></g>
<g font-family="Liberation Sans, Arial, sans-serif" fill="#262626" stroke="#262626" stroke-width="0.25" font-size="15.5"><text x="992.9" y="31.5" text-anchor="middle">Real output.</text><text x="786.3" y="473.6" text-anchor="middle">-1.5</text><text x="855" y="473.6" text-anchor="middle">-1</text><text x="923.7" y="473.6" text-anchor="middle">-0.5</text><text x="992.4" y="473.6" text-anchor="middle">0</text><text x="1061.1" y="473.6" text-anchor="middle">0.5</text><text x="1129.8" y="473.6" text-anchor="middle">1</text><text x="1198.5" y="473.6" text-anchor="middle">1.5</text><text x="728.8" y="440.9" text-anchor="end">-1</text><text x="728.8" y="403.4" text-anchor="end">-0.8</text><text x="728.8" y="366" text-anchor="end">-0.6</text><text x="728.8" y="328.5" text-anchor="end">-0.4</text><text x="728.8" y="291.1" text-anchor="end">-0.2</text><text x="728.8" y="253.7" text-anchor="end">0</text><text x="728.8" y="216.2" text-anchor="end">0.2</text><text x="728.8" y="178.8" text-anchor="end">0.4</text><text x="728.8" y="141.3" text-anchor="end">0.6</text><text x="728.8" y="103.9" text-anchor="end">0.8</text><text x="728.8" y="66.4" text-anchor="end">1</text><text x="984.4" y="492.8">x<tspan dy="7" font-size="13">1</tspan></text><text transform="translate(681.3 259.4) rotate(-90)">x<tspan dy="7" font-size="13">2</tspan></text></g>
<g stroke="#000" stroke-width="1.9" stroke-dasharray="11 7" fill="none"><line x1="59.8" y1="953.9" x2="295.1" y2="844.7" /><line x1="295.1" y1="844.7" x2="581.6" y2="936.5" /><line x1="59.8" y1="901.6" x2="295.1" y2="792.4" /><line x1="295.1" y1="792.4" x2="581.6" y2="884.2" /><line x1="59.8" y1="849.3" x2="295.1" y2="740.1" /><line x1="295.1" y1="740.1" x2="581.6" y2="831.9" /><line x1="59.8" y1="797.1" x2="295.1" y2="687.9" /><line x1="295.1" y1="687.9" x2="581.6" y2="779.7" /><line x1="59.8" y1="744.8" x2="295.1" y2="635.6" /><line x1="295.1" y1="635.6" x2="581.6" y2="727.4" /><line x1="70.5" y1="948.9" x2="70.5" y2="739.8" /><line x1="70.5" y1="948.9" x2="355.1" y2="1040.7" /><line x1="124" y1="924.1" x2="124" y2="715" /><line x1="124" y1="924.1" x2="409" y2="1015.9" /><line x1="177.4" y1="899.3" x2="177.4" y2="690.2" /><line x1="177.4" y1="899.3" x2="462.9" y2="991.1" /><line x1="230.9" y1="874.4" x2="230.9" y2="665.4" /><line x1="230.9" y1="874.4" x2="516.8" y2="966.3" /><line x1="284.4" y1="849.6" x2="284.4" y2="640.6" /><line x1="284.4" y1="849.6" x2="570.8" y2="941.4" /><line x1="362.9" y1="866.4" x2="362.9" y2="657.3" /><line x1="127.2" y1="975.6" x2="362.9" y2="866.4" /><line x1="438.3" y1="890.6" x2="438.3" y2="681.5" /><line x1="202.1" y1="999.8" x2="438.3" y2="890.6" /><line x1="513.7" y1="914.7" x2="513.7" y2="705.7" /><line x1="276.9" y1="1023.9" x2="513.7" y2="914.7" /></g>
<g stroke-width=".8" stroke-linejoin="round"><path class="k160" d="M289.7 763.2l5.4-14.8 3.7 7.6-5.3 14.8z"/><path class="k157" d="M284.4 775l5.3-11.8 3.8 7.6-5.4 11.9z"/><path class="k155" d="M279 784.2l5.4-9.2 3.7 7.7-5.3 9.3z"/><path class="k154" d="M273.7 791.1l5.3-6.9 3.8 7.8-5.4 6.9z"/><path class="k153" d="M268.3 795.9l5.4-4.8 3.7 7.8-5.3 5z"/><path class="k152" d="M257.6 800.7l5.4-1.6 5.3-3.2 3.8 8-5.4 3.2-5.3 1.7z"/><path class="k153" d="M246.9 800.5l5.4 .6 5.3-.4 3.8 8.1-5.3 .4-5.4-.5z"/><path class="k154" d="M241.6 799.1l5.3 1.4 3.8 8.2-5.3-1.4z"/><path class="k155" d="M236.2 797l5.4 2.1 3.8 8.2-5.4-1.9z"/><path class="k109" d="M230.9 794.6l5.3 2.4 3.8 8.4-5.3-2.4z"/><path class="k110" d="M225.6 791.9l5.3 2.7 3.8 8.4-5.4-2.7z"/><path class="k111" d="M220.2 789l5.4 2.9 3.7 8.4-5.3-2.8z"/><path class="k113" d="M214.9 786.2l5.3 2.8 3.8 8.5-5.4-2.7z"/><path class="k114" d="M209.5 783.5l5.4 2.7 3.7 8.6-5.3-2.6z"/><path class="k163" d="M204.2 781.1l5.3 2.4 3.8 8.7-5.4-2.4z"/><path class="k165" d="M198.8 779l5.4 2.1 3.7 8.7-5.3-2z"/><path class="k166" d="M193.5 777.3l5.3 1.7 3.8 8.8-5.4-1.7z"/><path class="k167" d="M188.1 776l5.4 1.3 3.7 8.8-5.3-1.2z"/><path class="k168" d="M177.4 775l5.4 .2 5.3 .8 3.8 8.9-5.4-.7-5.3-.2z"/><path class="k169" d="M172.1 775.2l5.3-.2 3.8 9-5.3 .3z"/><path class="k170" d="M107.9 800.5l5.4-1.5 5.3-2 5.4-2.4 5.3-2.8 5.4-2.8 5.3-2.8 5.4-2.7 5.3-2.4 5.4-2.1 5.3-1.7 5.3-1.3 5.4-.8 3.8 9.1-5.4 .9-5.3 1.3-5.4 1.8-5.3 2.2-5.4 2.5-5.3 2.7-5.4 2.9-5.3 2.9-5.4 2.7-5.3 2.6-5.4 2.1-5.3 1.4z"/><path class="k171" d="M97.3 800.7l5.3 .4 5.3-.6 3.8 9.8-5.4 .7-5.3-.3z"/><path class="k172" d="M91.9 799l5.4 1.7 3.7 10-5.3-1.6z"/><path class="k173" d="M86.6 795.9l5.3 3.1 3.8 10.1-5.4-3z"/><path class="k127" d="M81.2 791l5.4 4.9 3.7 10.2-5.3-4.9z"/><path class="k33" d="M75.9 784.1l5.3 6.9 3.8 10.2-5.4-6.8z"/><path class="k36" d="M70.5 774.9l5.4 9.2 3.7 10.3-5.3-9.1z"/><path class="k39" d="M65.2 763.1l5.3 11.8 3.8 10.4-5.4-11.8z"/><path class="k44" d="M59.8 748.4l5.4 14.7 3.7 10.4-5.3-14.6z"/><path class="k159" d="M293.5 770.8l5.3-14.8 3.8 5.1-5.4 14.9z"/><path class="k156" d="M288.1 782.7l5.4-11.9 3.7 5.2-5.3 11.9z"/><path class="k154" d="M282.8 792l5.3-9.3 3.8 5.2-5.3 9.3z"/><path class="k152" d="M277.4 798.9l5.4-6.9 3.8 5.2-5.4 7.1z"/><path class="k151" d="M256.1 809.2l5.3-.4 5.3-1.7 5.4-3.2 5.3-5 3.8 5.4-5.3 5-5.4 3.2-5.3 1.8-5.4 .5z"/><path class="k104" d="M250.7 808.7l5.4 .5 3.7 5.6-5.3-.5z"/><path class="k105" d="M245.4 807.3l5.3 1.4 3.8 5.6-5.4-1.3z"/><path class="k58" d="M240 805.4l5.4 1.9 3.7 5.7-5.3-1.9z"/><path class="k59" d="M234.7 803l5.3 2.4 3.8 5.7-5.4-2.3z"/><path class="k60" d="M229.3 800.3l5.4 2.7 3.7 5.8-5.3-2.6z"/><path class="k62" d="M224 797.5l5.3 2.8 3.8 5.9-5.4-2.7z"/><path class="k63" d="M218.6 794.8l5.4 2.7 3.7 6-5.3-2.7z"/><path class="k64" d="M213.3 792.2l5.3 2.6 3.8 6-5.4-2.5z"/><path class="k66" d="M207.9 789.8l5.4 2.4 3.7 6.1-5.3-2.3z"/><path class="k115" d="M202.6 787.8l5.3 2 3.8 6.2-5.4-2z"/><path class="k116" d="M197.2 786.1l5.4 1.7 3.7 6.2-5.3-1.6z"/><path class="k117" d="M191.9 784.9l5.3 1.2 3.8 6.3-5.4-1.1z"/><path class="k166" d="M186.5 784.2l5.4 .7 3.7 6.4-5.3-.7z"/><path class="k167" d="M175.9 784.3l5.3-.3 5.3 .2 3.8 6.4-5.3-.1-5.4 .4z"/><path class="k168" d="M159.8 788.3l5.4-1.8 5.3-1.3 5.4-.9 3.7 6.6-5.3 .9-5.4 1.4-5.3 1.8z"/><path class="k169" d="M143.8 795.7l5.3-2.7 5.4-2.5 5.3-2.2 3.8 6.7-5.4 2.3-5.3 2.5-5.4 2.8z"/><path class="k168" d="M111.7 810.3l5.3-1.4 5.4-2.1 5.3-2.6 5.4-2.7 5.3-2.9 5.4-2.9 3.7 6.9-5.3 3-5.4 3-5.3 2.8-5.4 2.6-5.3 2.1-5.4 1.6z"/><path class="k169" d="M101 810.7l5.3 .3 5.4-.7 3.7 7.4-5.3 .7-5.4-.2z"/><path class="k170" d="M95.7 809.1l5.3 1.6 3.7 7.5-5.3-1.5z"/><path class="k123" d="M90.3 806.1l5.4 3 3.7 7.6-5.3-3z"/><path class="k29" d="M85 801.2l5.3 4.9 3.8 7.6-5.4-4.8z"/><path class="k31" d="M79.6 794.4l5.4 6.8 3.7 7.7-5.3-6.7z"/><path class="k34" d="M74.3 785.3l5.3 9.1 3.8 7.8-5.4-9.1z"/><path class="k37" d="M68.9 773.5l5.4 11.8 3.7 7.8-5.3-11.7z"/><path class="k41" d="M63.6 758.9l5.3 14.6 3.8 7.9-5.4-14.6z"/><path class="k158" d="M297.2 776l5.4-14.9 3.8 3-5.4 14.9z"/><path class="k155" d="M291.9 787.9l5.3-11.9 3.8 3-5.3 12.1z"/><path class="k153" d="M286.6 797.2l5.3-9.3 3.8 3.2-5.4 9.3z"/><path class="k151" d="M275.9 809.3l5.3-5 5.4-7.1 3.7 3.2-5.3 7.1-5.4 5.1z"/><path class="k150" d="M270.5 812.5l5.4-3.2 3.7 3.3-5.3 3.3z"/><path class="k102" d="M259.8 814.8l5.4-.5 5.3-1.8 3.8 3.4-5.4 1.9-5.3 .5z"/><path class="k55" d="M254.5 814.3l5.3 .5 3.8 3.5-5.4-.4z"/><path class="k8" d="M249.1 813l5.4 1.3 3.7 3.6-5.3-1.2z"/><path class="k9" d="M243.8 811.1l5.3 1.9 3.8 3.7-5.4-1.8z"/><path class="k10" d="M238.4 808.8l5.4 2.3 3.7 3.8-5.3-2.3z"/><path class="k11" d="M233.1 806.2l5.3 2.6 3.8 3.8-5.4-2.5z"/><path class="k13" d="M227.7 803.5l5.4 2.7 3.7 3.9-5.3-2.7z"/><path class="k14" d="M222.4 800.8l5.3 2.7 3.8 3.9-5.4-2.6z"/><path class="k15" d="M217 798.3l5.4 2.5 3.7 4-5.3-2.5z"/><path class="k17" d="M211.7 796l5.3 2.3 3.8 4-5.4-2.2z"/><path class="k18" d="M206.3 794l5.4 2 3.7 4.1-5.3-1.9z"/><path class="k19" d="M201 792.4l5.3 1.6 3.8 4.2-5.3-1.5z"/><path class="k68" d="M195.6 791.3l5.4 1.1 3.8 4.3-5.4-1.1z"/><path class="k117" d="M190.3 790.6l5.3 .7 3.8 4.3-5.3-.6z"/><path class="k118" d="M179.6 790.9l5.4-.4 5.3 .1 3.8 4.4-5.4-.1-5.3 .5z"/><path class="k167" d="M110.1 818.4l5.3-.7 5.4-1.6 5.3-2.1 5.4-2.6 5.3-2.8 5.4-3 5.3-3 5.4-2.8 5.3-2.5 5.4-2.3 5.3-1.8 5.4-1.4 5.3-.9 3.8 4.5-5.4 1-5.3 1.4-5.4 1.9-5.3 2.3-5.4 2.7-5.3 2.8-5.4 3.1-5.3 3-5.4 2.9-5.3 2.6-5.4 2.3-5.3 1.6-5.4 .8z"/><path class="k120" d="M104.7 818.2l5.4 .2 3.7 5.4-5.3-.2z"/><path class="k121" d="M99.4 816.7l5.3 1.5 3.8 5.4-5.4-1.4z"/><path class="k26" d="M94.1 813.7l5.3 3 3.7 5.5-5.3-3z"/><path class="k28" d="M88.7 808.9l5.4 4.8 3.7 5.5-5.4-4.7z"/><path class="k30" d="M83.4 802.2l5.3 6.7 3.7 5.6-5.3-6.7z"/><path class="k33" d="M78 793.1l5.4 9.1 3.7 5.6-5.3-9z"/><path class="k36" d="M72.7 781.4l5.3 11.7 3.8 5.7-5.4-11.6z"/><path class="k40" d="M67.3 766.8l5.4 14.6 3.7 5.8-5.3-14.5z"/><path class="k158" d="M301 779l5.4-14.9 3.7 1.4-5.3 15z"/><path class="k155" d="M295.7 791.1l5.3-12.1 3.8 1.5-5.4 12.1z"/><path class="k153" d="M290.3 800.4l5.4-9.3 3.7 1.5-5.3 9.4z"/><path class="k151" d="M285 807.5l5.3-7.1 3.8 1.6-5.4 7.2z"/><path class="k150" d="M279.6 812.6l5.4-5.1 3.7 1.7-5.3 5.1z"/><path class="k102" d="M274.3 815.9l5.3-3.3 3.8 1.7-5.4 3.4z"/><path class="k54" d="M268.9 817.8l5.4-1.9 3.7 1.8-5.3 1.9z"/><path class="k6" d="M263.6 818.3l5.3-.5 3.8 1.8-5.4 .7z"/><path class="k7" d="M258.2 817.9l5.4 .4 3.7 2-5.3-.4z"/><path class="k8" d="M252.9 816.7l5.3 1.2 3.8 2-5.4-1.2z"/><path class="k9" d="M247.5 814.9l5.4 1.8 3.7 2-5.3-1.7z"/><path class="k10" d="M242.2 812.6l5.3 2.3 3.8 2.1-5.3-2.2z"/><path class="k11" d="M236.8 810.1l5.4 2.5 3.8 2.2-5.4-2.5z"/><path class="k12" d="M231.5 807.4l5.3 2.7 3.8 2.2-5.3-2.6z"/><path class="k14" d="M226.1 804.8l5.4 2.6 3.8 2.3-5.4-2.5z"/><path class="k15" d="M220.8 802.3l5.3 2.5 3.8 2.4-5.3-2.4z"/><path class="k16" d="M215.4 800.1l5.4 2.2 3.8 2.5-5.4-2.2z"/><path class="k17" d="M210.1 798.2l5.3 1.9 3.8 2.5-5.3-1.8z"/><path class="k18" d="M204.8 796.7l5.3 1.5 3.8 2.6-5.4-1.5z"/><path class="k19" d="M199.4 795.6l5.4 1.1 3.7 2.6-5.3-1z"/><path class="k20" d="M194.1 795l5.3 .6 3.8 2.7-5.4-.5z"/><path class="k21" d="M188.7 794.9l5.4 .1 3.7 2.8-5.3 0z"/><path class="k70" d="M183.4 795.4l5.3-.5 3.8 2.9-5.4 .5z"/><path class="k118" d="M172.7 797.8l5.3-1.4 5.4-1 3.7 2.9-5.3 1-5.4 1.6z"/><path class="k119" d="M162 802l5.3-2.3 5.4-1.9 3.7 3.1-5.3 1.9-5.4 2.4z"/><path class="k167" d="M151.3 807.5l5.3-2.8 5.4-2.7 3.7 3.2-5.3 2.7-5.4 2.9z"/><path class="k166" d="M124.5 821.4l5.4-2.3 5.3-2.6 5.4-2.9 5.3-3 5.4-3.1 3.7 3.3-5.3 3.1-5.4 3.1-5.3 3-5.4 2.7-5.3 2.3z"/><path class="k118" d="M119.2 823l5.3-1.6 3.8 3.6-5.4 1.7z"/><path class="k119" d="M113.8 823.8l5.4-.8 3.7 3.7-5.3 .8z"/><path class="k71" d="M108.5 823.6l5.3 .2 3.8 3.7-5.4-.1z"/><path class="k24" d="M103.1 822.2l5.4 1.4 3.7 3.8-5.3-1.4z"/><path class="k25" d="M97.8 819.2l5.3 3 3.8 3.8-5.4-2.8z"/><path class="k27" d="M92.4 814.5l5.4 4.7 3.7 4-5.3-4.6z"/><path class="k29" d="M87.1 807.8l5.3 6.7 3.8 4.1-5.4-6.7z"/><path class="k32" d="M81.8 798.8l5.3 9 3.7 4.1-5.3-8.9z"/><path class="k35" d="M76.4 787.2l5.4 11.6 3.7 4.2-5.4-11.6z"/><path class="k39" d="M71.1 772.7l5.3 14.5 3.7 4.2-5.3-14.5z"/><path class="k158" d="M304.8 780.5l5.3-15 3.8 .2-5.3 15z"/><path class="k155" d="M299.4 792.6l5.4-12.1 3.8 .2-5.4 12.2z"/><path class="k153" d="M294.1 802l5.3-9.4 3.8 .3-5.3 9.5z"/><path class="k103" d="M288.7 809.2l5.4-7.2 3.8 .4-5.4 7.2z"/><path class="k102" d="M283.4 814.3l5.3-5.1 3.8 .4-5.3 5.2z"/><path class="k54" d="M278 817.7l5.4-3.4 3.8 .5-5.4 3.5z"/><path class="k6" d="M267.3 820.3l5.4-.7 5.3-1.9 3.8 .6-5.3 1.9-5.4 .8z"/><path class="k7" d="M256.6 818.7l5.4 1.2 5.3 .4 3.8 .7-5.3-.3-5.4-1.1z"/><path class="k8" d="M251.3 817l5.3 1.7 3.8 .9-5.3-1.7z"/><path class="k10" d="M246 814.8l5.3 2.2 3.8 .9-5.4-2.2z"/><path class="k11" d="M240.6 812.3l5.4 2.5 3.7 .9-5.3-2.4z"/><path class="k12" d="M235.3 809.7l5.3 2.6 3.8 1-5.4-2.5z"/><path class="k14" d="M229.9 807.2l5.4 2.5 3.7 1.1-5.3-2.5z"/><path class="k15" d="M224.6 804.8l5.3 2.4 3.8 1.1-5.4-2.3z"/><path class="k16" d="M219.2 802.6l5.4 2.2 3.7 1.2-5.3-2.1z"/><path class="k17" d="M213.9 800.8l5.3 1.8 3.8 1.3-5.4-1.8z"/><path class="k18" d="M208.5 799.3l5.4 1.5 3.7 1.3-5.3-1.4z"/><path class="k19" d="M203.2 798.3l5.3 1 3.8 1.4-5.4-.9z"/><path class="k20" d="M197.8 797.8l5.4 .5 3.7 1.5-5.3-.5z"/><path class="k21" d="M187.1 798.3l5.4-.5 5.3 0 3.8 1.5-5.4 .1-5.3 .6z"/><path class="k22" d="M181.8 799.3l5.3-1 3.8 1.7-5.4 1.1z"/><path class="k70" d="M171.1 802.8l5.3-1.9 5.4-1.6 3.7 1.8-5.3 1.6-5.4 2z"/><path class="k118" d="M122.9 826.7l5.4-1.7 5.3-2.3 5.4-2.7 5.3-3 5.4-3.1 5.3-3.1 5.4-2.9 5.3-2.7 5.4-2.4 3.7 1.9-5.3 2.4-5.4 2.8-5.3 3-5.4 3.1-5.3 3.2-5.4 3-5.3 2.8-5.4 2.4-5.3 1.7z"/><path class="k70" d="M117.6 827.5l5.3-.8 3.8 2.4-5.4 1z"/><path class="k23" d="M106.9 826l5.3 1.4 5.4 .1 3.7 2.6-5.3-.1-5.4-1.3z"/><path class="k25" d="M101.5 823.2l5.4 2.8 3.7 2.7-5.3-2.8z"/><path class="k26" d="M96.2 818.6l5.3 4.6 3.8 2.7-5.4-4.6z"/><path class="k28" d="M90.8 811.9l5.4 6.7 3.7 2.7-5.3-6.5z"/><path class="k31" d="M85.5 803l5.3 8.9 3.8 2.9-5.4-8.9z"/><path class="k34" d="M80.1 791.4l5.4 11.6 3.7 2.9-5.3-11.5z"/><path class="k38" d="M74.8 776.9l5.3 14.5 3.8 3-5.4-14.4z"/><path class="k158" d="M308.6 780.7l5.3-15 3.8-.8-5.4 15.2z"/><path class="k155" d="M303.2 792.9l5.4-12.2 3.7-.6-5.3 12.2z"/><path class="k105" d="M297.9 802.4l5.3-9.5 3.8-.6-5.4 9.6z"/><path class="k104" d="M292.5 809.6l5.4-7.2 3.7-.5-5.3 7.3z"/><path class="k55" d="M287.2 814.8l5.3-5.2 3.8-.4-5.4 5.2z"/><path class="k6" d="M271.1 821l5.4-.8 5.3-1.9 5.4-3.5 3.7-.4-5.3 3.5-5.4 2.1-5.3 .8z"/><path class="k7" d="M265.8 820.7l5.3 .3 3.8-.2-5.4-.3z"/><path class="k8" d="M260.4 819.6l5.4 1.1 3.7-.2-5.3-1z"/><path class="k9" d="M255.1 817.9l5.3 1.7 3.8-.1-5.4-1.6z"/><path class="k10" d="M249.7 815.7l5.4 2.2 3.7 0-5.3-2.1z"/><path class="k11" d="M244.4 813.3l5.3 2.4 3.8 .1-5.4-2.3z"/><path class="k12" d="M239 810.8l5.4 2.5 3.7 .2-5.3-2.5z"/><path class="k14" d="M233.7 808.3l5.3 2.5 3.8 .2-5.4-2.4z"/><path class="k15" d="M228.3 806l5.4 2.3 3.7 .3-5.3-2.3z"/><path class="k16" d="M223 803.9l5.3 2.1 3.8 .3-5.4-2z"/><path class="k17" d="M217.6 802.1l5.4 1.8 3.7 .4-5.3-1.7z"/><path class="k18" d="M212.3 800.7l5.3 1.4 3.8 .5-5.4-1.4z"/><path class="k19" d="M206.9 799.8l5.4 .9 3.7 .5-5.3-.8z"/><path class="k20" d="M201.6 799.3l5.3 .5 3.8 .6-5.4-.4z"/><path class="k21" d="M190.9 800l5.3-.6 5.4-.1 3.7 .7-5.3 .1-5.4 .7z"/><path class="k22" d="M169.5 807.1l5.3-2.4 5.4-2 5.3-1.6 5.4-1.1 3.7 .8-5.3 1.1-5.4 1.7-5.3 2.1-5.4 2.5z"/><path class="k70" d="M142.7 822.2l5.4-3 5.3-3.2 5.4-3.1 5.3-3 5.4-2.8 3.7 1.1-5.3 2.8-5.4 3.1-5.3 3.2-5.4 3.2-5.3 3.1z"/><path class="k69" d="M132 827.4l5.4-2.4 5.3-2.8 3.8 1.4-5.4 2.9-5.3 2.4z"/><path class="k70" d="M126.7 829.1l5.3-1.7 3.8 1.5-5.4 1.8z"/><path class="k22" d="M116 830l5.3 .1 5.4-1 3.7 1.6-5.3 1-5.4 0z"/><path class="k23" d="M110.6 828.7l5.4 1.3 3.7 1.7-5.3-1.3z"/><path class="k24" d="M105.3 825.9l5.3 2.8 3.8 1.7-5.4-2.7z"/><path class="k26" d="M99.9 821.3l5.4 4.6 3.7 1.8-5.3-4.5z"/><path class="k28" d="M94.6 814.8l5.3 6.5 3.8 1.9-5.4-6.5z"/><path class="k31" d="M89.2 805.9l5.4 8.9 3.7 1.9-5.3-8.8z"/><path class="k34" d="M83.9 794.4l5.3 11.5 3.8 2-5.4-11.4z"/><path class="k38" d="M78.5 780l5.4 14.4 3.7 2.1-5.3-14.4z"/><path class="k159" d="M312.3 780.1l5.4-15.2 3.7-1.3-5.3 15.2z"/><path class="k108" d="M307 792.3l5.3-12.2 3.8-1.3-5.4 12.3z"/><path class="k106" d="M301.6 801.9l5.4-9.6 3.7-1.2-5.3 9.7z"/><path class="k56" d="M296.3 809.2l5.3-7.3 3.8-1.1-5.4 7.3z"/><path class="k7" d="M285.6 817.9l5.3-3.5 5.4-5.2 3.7-1.1-5.3 5.3-5.4 3.6z"/><path class="k6" d="M280.2 820l5.4-2.1 3.7-.9-5.3 2.1z"/><path class="k7" d="M269.5 820.5l5.4 .3 5.3-.8 3.8-.9-5.4 .9-5.3-.2z"/><path class="k8" d="M264.2 819.5l5.3 1 3.8-.7-5.4-1z"/><path class="k9" d="M258.8 817.9l5.4 1.6 3.7-.7-5.3-1.5z"/><path class="k10" d="M253.5 815.8l5.3 2.1 3.8-.6-5.4-2z"/><path class="k11" d="M248.1 813.5l5.4 2.3 3.7-.5-5.3-2.3z"/><path class="k13" d="M242.8 811l5.3 2.5 3.8-.5-5.4-2.4z"/><path class="k14" d="M237.4 808.6l5.4 2.4 3.7-.4-5.3-2.3z"/><path class="k15" d="M232.1 806.3l5.3 2.3 3.8-.3-5.4-2.2z"/><path class="k16" d="M226.7 804.3l5.4 2 3.7-.2-5.3-2z"/><path class="k18" d="M221.4 802.6l5.3 1.7 3.8-.2-5.4-1.7z"/><path class="k19" d="M216 801.2l5.4 1.4 3.7-.2-5.3-1.2z"/><path class="k20" d="M205.3 800l5.4 .4 5.3 .8 3.8 0-5.4-.8-5.3-.4z"/><path class="k21" d="M200 800.1l5.3-.1 3.8 0-5.4 .2z"/><path class="k22" d="M162.5 814.1l5.4-3.1 5.3-2.8 5.4-2.5 5.3-2.1 5.4-1.7 5.3-1.1 5.4-.7 3.7 .1-5.3 .8-5.4 1.2-5.3 1.7-5.4 2.2-5.3 2.5-5.4 2.9-5.3 3.2z"/><path class="k70" d="M141.1 826.5l5.4-2.9 5.3-3.1 5.4-3.2 5.3-3.2 3.8 .6-5.4 3.2-5.3 3.3-5.4 3.2-5.3 2.9z"/><path class="k21" d="M135.8 828.9l5.3-2.4 3.8 .8-5.4 2.5z"/><path class="k22" d="M119.7 831.7l5.4 0 5.3-1 5.4-1.8 3.7 .9-5.3 1.9-5.4 1-5.3 .1z"/><path class="k23" d="M114.4 830.4l5.3 1.3 3.8 1.1-5.4-1.2z"/><path class="k24" d="M109 827.7l5.4 2.7 3.7 1.2-5.3-2.7z"/><path class="k26" d="M103.7 823.2l5.3 4.5 3.8 1.2-5.4-4.4z"/><path class="k28" d="M98.3 816.7l5.4 6.5 3.7 1.3-5.3-6.4z"/><path class="k31" d="M93 807.9l5.3 8.8 3.8 1.4-5.4-8.7z"/><path class="k34" d="M87.6 796.5l5.4 11.4 3.7 1.5-5.3-11.4z"/><path class="k38" d="M82.3 782.1l5.3 14.4 3.8 1.5-5.4-14.3z"/><path class="k159" d="M316.1 778.8l5.3-15.2 3.8-1.6-5.3 15.3z"/><path class="k109" d="M310.7 791.1l5.4-12.3 3.8-1.5-5.4 12.3z"/><path class="k106" d="M305.4 800.8l5.3-9.7 3.8-1.5-5.3 9.7z"/><path class="k57" d="M300 808.1l5.4-7.3 3.8-1.5-5.4 7.4z"/><path class="k8" d="M294.7 813.4l5.3-5.3 3.8-1.4-5.3 5.4z"/><path class="k7" d="M278.6 820l5.4-.9 5.3-2.1 5.4-3.6 3.8-1.3-5.4 3.7-5.3 2.1-5.4 .9z"/><path class="k8" d="M273.3 819.8l5.3 .2 3.8-1.2-5.3-.1z"/><path class="k9" d="M267.9 818.8l5.4 1 3.8-1.1-5.4-.9z"/><path class="k10" d="M262.6 817.3l5.3 1.5 3.8-1-5.3-1.5z"/><path class="k11" d="M257.2 815.3l5.4 2 3.8-1-5.4-1.9z"/><path class="k12" d="M251.9 813l5.3 2.3 3.8-.9-5.4-2.2z"/><path class="k13" d="M246.5 810.6l5.4 2.4 3.7-.8-5.3-2.3z"/><path class="k14" d="M241.2 808.3l5.3 2.3 3.8-.7-5.4-2.3z"/><path class="k16" d="M235.8 806.1l5.4 2.2 3.7-.7-5.3-2.1z"/><path class="k17" d="M230.5 804.1l5.3 2 3.8-.6-5.4-2z"/><path class="k18" d="M225.1 802.4l5.4 1.7 3.7-.6-5.3-1.6z"/><path class="k19" d="M219.8 801.2l5.3 1.2 3.8-.5-5.4-1.1z"/><path class="k20" d="M214.4 800.4l5.4 .8 3.7-.4-5.3-.8z"/><path class="k21" d="M203.7 800.2l5.4-.2 5.3 .4 3.8-.4-5.4-.2-5.3 .2z"/><path class="k22" d="M187.7 803.9l5.3-1.7 5.4-1.2 5.3-.8 3.8-.2-5.4 .8-5.3 1.3-5.4 1.8z"/><path class="k23" d="M171.6 811.5l5.4-2.9 5.3-2.5 5.4-2.2 3.7 0-5.3 2.2-5.4 2.7-5.3 2.9z"/><path class="k22" d="M123.5 832.8l5.3-.1 5.4-1 5.3-1.9 5.4-2.5 5.3-2.9 5.4-3.2 5.3-3.3 5.4-3.2 5.3-3.2 3.8 .2-5.4 3.2-5.3 3.3-5.4 3.4-5.3 3.2-5.4 3-5.3 2.6-5.4 1.9-5.3 1.1-5.4 .2z"/><path class="k23" d="M118.1 831.6l5.4 1.2 3.7 .8-5.3-1.2z"/><path class="k24" d="M112.8 828.9l5.3 2.7 3.8 .8-5.4-2.6z"/><path class="k26" d="M107.4 824.5l5.4 4.4 3.7 .9-5.3-4.3z"/><path class="k28" d="M102.1 818.1l5.3 6.4 3.8 1-5.4-6.4z"/><path class="k31" d="M96.7 809.4l5.4 8.7 3.7 1-5.3-8.7z"/><path class="k34" d="M91.4 798l5.3 11.4 3.8 1-5.4-11.2z"/><path class="k38" d="M86 783.7l5.4 14.3 3.7 1.2-5.3-14.3z"/><path class="k112" d="M319.9 777.3l5.3-15.3 3.8-1.8-5.4 15.3z"/><path class="k109" d="M314.5 789.6l5.4-12.3 3.7-1.8-5.3 12.4z"/><path class="k59" d="M309.2 799.3l5.3-9.7 3.8-1.7-5.4 9.8z"/><path class="k9" d="M303.8 806.7l5.4-7.4 3.7-1.6-5.3 7.5z"/><path class="k8" d="M277.1 818.7l5.3 .1 5.4-.9 5.3-2.1 5.4-3.7 5.3-5.4 3.8-1.5-5.4 5.5-5.3 3.7-5.4 2.2-5.3 1-5.4 0z"/><path class="k9" d="M271.7 817.8l5.4 .9 3.7-1.1-5.3-.9z"/><path class="k10" d="M266.4 816.3l5.3 1.5 3.8-1.1-5.4-1.4z"/><path class="k11" d="M261 814.4l5.4 1.9 3.7-1-5.3-1.9z"/><path class="k12" d="M255.6 812.2l5.4 2.2 3.8-1-5.4-2.1z"/><path class="k14" d="M250.3 809.9l5.3 2.3 3.8-.9-5.3-2.3z"/><path class="k15" d="M244.9 807.6l5.4 2.3 3.8-.9-5.4-2.2z"/><path class="k16" d="M239.6 805.5l5.3 2.1 3.8-.8-5.3-2.1z"/><path class="k17" d="M234.2 803.5l5.4 2 3.8-.8-5.4-1.8z"/><path class="k18" d="M228.9 801.9l5.3 1.6 3.8-.6-5.3-1.6z"/><path class="k19" d="M223.5 800.8l5.4 1.1 3.8-.6-5.4-1.1z"/><path class="k20" d="M218.2 800l5.3 .8 3.8-.6-5.3-.7z"/><path class="k21" d="M212.8 799.8l5.4 .2 3.8-.5-5.4-.1z"/><path class="k22" d="M202.1 800.8l5.4-.8 5.3-.2 3.8-.4-5.4 .3-5.3 .8z"/><path class="k23" d="M170 814.9l5.4-3.2 5.3-2.9 5.4-2.7 5.3-2.2 5.4-1.8 5.3-1.3 3.8-.3-5.4 1.4-5.3 1.8-5.4 2.3-5.3 2.7-5.4 3.1-5.3 3.2z"/><path class="k22" d="M132.6 833.4l5.3-1.1 5.4-1.9 5.3-2.6 5.4-3 5.3-3.2 5.4-3.4 5.3-3.3 3.8 .1-5.4 3.4-5.3 3.4-5.4 3.3-5.3 3.1-5.4 2.6-5.3 2-5.4 1.2z"/><path class="k23" d="M121.9 832.4l5.3 1.2 5.4-.2 3.7 .6-5.3 .2-5.4-1z"/><path class="k24" d="M116.5 829.8l5.4 2.6 3.7 .8-5.3-2.6z"/><path class="k26" d="M111.2 825.5l5.3 4.3 3.8 .8-5.4-4.3z"/><path class="k28" d="M105.8 819.1l5.4 6.4 3.7 .8-5.3-6.3z"/><path class="k31" d="M100.5 810.4l5.3 8.7 3.8 .9-5.4-8.6z"/><path class="k34" d="M95.1 799.2l5.4 11.2 3.7 1-5.3-11.2z"/><path class="k38" d="M89.8 784.9l5.3 14.3 3.8 1-5.4-14.2z"/><path class="k161" d="M323.6 775.5l5.4-15.3 3.8-1.7-5.4 15.4z"/><path class="k110" d="M318.3 787.9l5.3-12.4 3.8-1.6-5.4 12.4z"/><path class="k108" d="M312.9 797.7l5.4-9.8 3.7-1.6-5.3 9.9z"/><path class="k58" d="M307.6 805.2l5.3-7.5 3.8-1.5-5.4 7.5z"/><path class="k9" d="M296.9 814.4l5.3-3.7 5.4-5.5 3.7-1.5-5.3 5.6-5.4 3.7z"/><path class="k8" d="M291.5 816.6l5.4-2.2 3.7-1.4-5.3 2.3z"/><path class="k9" d="M280.8 817.6l5.4 0 5.3-1 3.8-1.3-5.4 1.1-5.3 0z"/><path class="k10" d="M275.5 816.7l5.3 .9 3.8-1.2-5.4-.8z"/><path class="k11" d="M270.1 815.3l5.4 1.4 3.7-1.1-5.3-1.3z"/><path class="k12" d="M264.8 813.4l5.3 1.9 3.8-1-5.4-1.8z"/><path class="k13" d="M259.4 811.3l5.4 2.1 3.7-.9-5.3-2.1z"/><path class="k14" d="M254.1 809l5.3 2.3 3.8-.9-5.4-2.2z"/><path class="k15" d="M248.7 806.8l5.4 2.2 3.7-.8-5.3-2.1z"/><path class="k17" d="M243.4 804.7l5.3 2.1 3.8-.7-5.4-2.1z"/><path class="k18" d="M238 802.9l5.4 1.8 3.7-.7-5.3-1.8z"/><path class="k19" d="M232.7 801.3l5.3 1.6 3.8-.7-5.4-1.4z"/><path class="k20" d="M227.3 800.2l5.4 1.1 3.7-.5-5.3-1.1z"/><path class="k21" d="M222 799.5l5.3 .7 3.8-.5-5.4-.6z"/><path class="k22" d="M211.2 799.7l5.4-.3 5.4 .1 3.7-.4-5.3-.1-5.4 .4z"/><path class="k23" d="M163.1 821.8l5.3-3.4 5.4-3.4 5.3-3.2 5.4-3.1 5.3-2.7 5.4-2.3 5.3-1.8 5.4-1.4 5.3-.8 3.8-.3-5.3 .9-5.4 1.4-5.4 1.9-5.3 2.4-5.4 2.8-5.3 3.1-5.4 3.3-5.3 3.4-5.4 3.5z"/><path class="k22" d="M136.3 834l5.4-1.2 5.3-2 5.4-2.6 5.3-3.1 5.4-3.3 3.7 .3-5.3 3.4-5.4 3.1-5.3 2.7-5.4 2.1-5.3 1.2z"/><path class="k23" d="M125.6 833.2l5.4 1 5.3-.2 3.8 .6-5.4 .3-5.3-1z"/><path class="k25" d="M120.3 830.6l5.3 2.6 3.8 .7-5.4-2.5z"/><path class="k26" d="M114.9 826.3l5.4 4.3 3.7 .8-5.3-4.2z"/><path class="k28" d="M109.6 820l5.3 6.3 3.8 .9-5.4-6.2z"/><path class="k31" d="M104.2 811.4l5.4 8.6 3.7 1-5.3-8.6z"/><path class="k34" d="M98.9 800.2l5.3 11.2 3.8 1-5.4-11.1z"/><path class="k38" d="M93.5 786l5.4 14.2 3.7 1.1-5.3-14.1z"/><path class="k162" d="M327.4 773.9l5.4-15.4 3.7-1.6-5.3 15.5z"/><path class="k111" d="M322 786.3l5.4-12.4 3.8-1.5-5.4 12.5z"/><path class="k108" d="M316.7 796.2l5.3-9.9 3.8-1.4-5.3 9.9z"/><path class="k59" d="M311.3 803.7l5.4-7.5 3.8-1.4-5.4 7.7z"/><path class="k10" d="M306 809.3l5.3-5.6 3.8-1.2-5.3 5.5z"/><path class="k9" d="M289.9 816.4l5.4-1.1 5.3-2.3 5.4-3.7 3.8-1.3-5.4 3.9-5.3 2.3-5.4 1.2z"/><path class="k10" d="M279.2 815.6l5.4 .8 5.3 0 3.8-1-5.4 .1-5.3-.7z"/><path class="k11" d="M273.9 814.3l5.3 1.3 3.8-.8-5.4-1.4z"/><path class="k12" d="M268.5 812.5l5.4 1.8 3.7-.9-5.3-1.7z"/><path class="k14" d="M263.2 810.4l5.3 2.1 3.8-.8-5.4-2z"/><path class="k15" d="M257.8 808.2l5.4 2.2 3.7-.7-5.3-2.1z"/><path class="k16" d="M252.5 806.1l5.3 2.1 3.8-.6-5.4-2.1z"/><path class="k17" d="M247.1 804l5.4 2.1 3.7-.6-5.3-2z"/><path class="k18" d="M241.8 802.2l5.3 1.8 3.8-.5-5.4-1.7z"/><path class="k19" d="M236.4 800.8l5.4 1.4 3.7-.4-5.3-1.4z"/><path class="k20" d="M231.1 799.7l5.3 1.1 3.8-.4-5.4-1z"/><path class="k21" d="M225.7 799.1l5.4 .6 3.7-.3-5.3-.5z"/><path class="k22" d="M220.4 799l5.3 .1 3.8-.2-5.4-.1z"/><path class="k23" d="M204.3 801.7l5.4-1.4 5.3-.9 5.4-.4 3.7-.2-5.3 .5-5.4 1-5.3 1.4z"/><path class="k24" d="M188.2 808.8l5.4-2.8 5.3-2.4 5.4-1.9 3.8 0-5.4 2-5.4 2.5-5.3 2.8z"/><path class="k23" d="M172.2 818.6l5.3-3.4 5.4-3.3 5.3-3.1 3.8 .2-5.4 3.1-5.3 3.4-5.4 3.6z"/><path class="k71" d="M166.8 822.1l5.4-3.5 3.7 .5-5.3 3.5z"/><path class="k70" d="M161.5 825.5l5.3-3.4 3.8 .5-5.4 3.5z"/><path class="k22" d="M140.1 834.6l5.3-1.2 5.4-2.1 5.3-2.7 5.4-3.1 3.7 .6-5.3 3.1-5.4 2.8-5.3 2.1-5.4 1.3z"/><path class="k23" d="M134.7 834.9l5.4-.3 3.7 .8-5.3 .4z"/><path class="k24" d="M129.4 833.9l5.3 1 3.8 .9-5.4-1z"/><path class="k25" d="M124 831.4l5.4 2.5 3.7 .9-5.3-2.4z"/><path class="k26" d="M118.7 827.2l5.3 4.2 3.8 1-5.4-4.1z"/><path class="k28" d="M113.3 821l5.4 6.2 3.7 1.1-5.3-6.2z"/><path class="k31" d="M108 812.4l5.3 8.6 3.8 1.1-5.4-8.5z"/><path class="k34" d="M102.6 801.3l5.4 11.1 3.7 1.2-5.3-11.1z"/><path class="k38" d="M97.3 787.2l5.3 14.1 3.8 1.2-5.4-14z"/><path class="k162" d="M331.2 772.4l5.3-15.5 3.8-1.2-5.4 15.5z"/><path class="k111" d="M325.8 784.9l5.4-12.5 3.7-1.2-5.3 12.6z"/><path class="k109" d="M320.5 794.8l5.3-9.9 3.8-1.1-5.4 10z"/><path class="k59" d="M315.1 802.5l5.4-7.7 3.7-1-5.3 7.7z"/><path class="k10" d="M288.3 815.5l5.4-.1 5.4-1.2 5.3-2.3 5.4-3.9 5.3-5.5 3.8-1-5.4 5.6-5.3 3.9-5.4 2.5-5.3 1.1-5.4 .2z"/><path class="k11" d="M283 814.8l5.3 .7 3.8-.7-5.3-.6z"/><path class="k12" d="M277.6 813.4l5.4 1.4 3.8-.6-5.4-1.3z"/><path class="k13" d="M272.3 811.7l5.3 1.7 3.8-.5-5.3-1.6z"/><path class="k14" d="M266.9 809.7l5.4 2 3.8-.4-5.4-2z"/><path class="k15" d="M261.6 807.6l5.3 2.1 3.8-.4-5.4-2z"/><path class="k16" d="M256.2 805.5l5.4 2.1 3.7-.3-5.3-2.1z"/><path class="k18" d="M250.9 803.5l5.3 2 3.8-.3-5.4-1.9z"/><path class="k19" d="M245.5 801.8l5.4 1.7 3.7-.2-5.3-1.6z"/><path class="k20" d="M240.2 800.4l5.3 1.4 3.8-.1-5.4-1.3z"/><path class="k21" d="M234.8 799.4l5.4 1 3.7 0-5.3-1z"/><path class="k22" d="M224.1 798.8l5.4 .1 5.3 .5 3.8 0-5.4-.4-5.3 0z"/><path class="k23" d="M213.4 800.3l5.4-1 5.3-.5 3.8 .2-5.4 .5-5.3 1z"/><path class="k24" d="M186.6 812.1l5.4-3.1 5.3-2.8 5.4-2.5 5.4-2 5.3-1.4 3.8 .2-5.4 1.6-5.3 2-5.4 2.5-5.4 2.9-5.3 3.2z"/><path class="k71" d="M165.2 826.1l5.4-3.5 5.3-3.5 5.4-3.6 5.3-3.4 3.8 .6-5.4 3.5-5.3 3.6-5.4 3.6-5.3 3.5z"/><path class="k70" d="M154.5 832l5.4-2.8 5.3-3.1 3.8 .8-5.4 3.2-5.3 2.9z"/><path class="k22" d="M143.8 835.4l5.4-1.3 5.3-2.1 3.8 1-5.4 2.2-5.3 1.4z"/><path class="k23" d="M138.5 835.8l5.3-.4 3.8 1.2-5.4 .3z"/><path class="k24" d="M133.1 834.8l5.4 1 3.7 1.1-5.3-.8z"/><path class="k25" d="M127.8 832.4l5.3 2.4 3.8 1.3-5.4-2.4z"/><path class="k26" d="M122.4 828.3l5.4 4.1 3.7 1.3-5.3-4z"/><path class="k28" d="M117.1 822.1l5.3 6.2 3.8 1.4-5.4-6.1z"/><path class="k31" d="M111.7 813.6l5.4 8.5 3.7 1.5-5.4-8.5z"/><path class="k34" d="M106.4 802.5l5.3 11.1 3.7 1.5-5.3-11z"/><path class="k38" d="M101 788.5l5.4 14 3.7 1.6-5.4-14z"/><path class="k163" d="M334.9 771.2l5.4-15.5 3.8-.8-5.4 15.6z"/><path class="k160" d="M329.6 783.8l5.3-12.6 3.8-.7-5.3 12.6z"/><path class="k110" d="M324.2 793.8l5.4-10 3.8-.7-5.4 10.1z"/><path class="k108" d="M318.9 801.5l5.3-7.7 3.8-.6-5.4 7.7z"/><path class="k59" d="M313.5 807.1l5.4-5.6 3.7-.6-5.3 5.7z"/><path class="k10" d="M297.5 814.6l5.3-1.1 5.4-2.5 5.3-3.9 3.8-.5-5.4 4-5.3 2.5-5.4 1.2z"/><path class="k11" d="M286.8 814.2l5.3 .6 5.4-.2 3.7-.3-5.3 .3-5.4-.6z"/><path class="k12" d="M281.4 812.9l5.4 1.3 3.7-.2-5.3-1.2z"/><path class="k13" d="M276.1 811.3l5.3 1.6 3.8-.1-5.4-1.6z"/><path class="k14" d="M270.7 809.3l5.4 2 3.7-.1-5.3-1.9z"/><path class="k16" d="M265.3 807.3l5.4 2 3.8 0-5.4-2z"/><path class="k17" d="M260 805.2l5.3 2.1 3.8 0-5.3-1.9z"/><path class="k18" d="M254.6 803.3l5.4 1.9 3.8 .2-5.4-1.9z"/><path class="k19" d="M249.3 801.7l5.3 1.6 3.8 .2-5.4-1.5z"/><path class="k20" d="M243.9 800.4l5.4 1.3 3.7 .3-5.3-1.3z"/><path class="k21" d="M238.6 799.4l5.3 1 3.8 .3-5.4-.9z"/><path class="k22" d="M227.9 799l5.3 0 5.4 .4 3.7 .4-5.3-.4-5.4 .1z"/><path class="k23" d="M217.2 800.5l5.3-1 5.4-.5 3.7 .5-5.3 .6-5.4 1.1z"/><path class="k24" d="M201.1 806.6l5.4-2.5 5.3-2 5.4-1.6 3.7 .7-5.3 1.6-5.4 2.1-5.3 2.6z"/><path class="k72" d="M185 816.2l5.4-3.5 5.3-3.2 5.4-2.9 3.8 .9-5.4 2.9-5.4 3.3-5.3 3.5z"/><path class="k119" d="M169 826.9l5.3-3.5 5.4-3.6 5.3-3.6 3.8 1-5.4 3.7-5.3 3.7-5.4 3.6z"/><path class="k118" d="M163.6 830.1l5.4-3.2 3.7 1.3-5.3 3.3z"/><path class="k70" d="M152.9 835.2l5.4-2.2 5.3-2.9 3.8 1.4-5.4 2.8-5.3 2.3z"/><path class="k22" d="M147.6 836.6l5.3-1.4 3.8 1.4-5.4 1.5z"/><path class="k23" d="M142.2 836.9l5.4-.3 3.7 1.5-5.3 .4z"/><path class="k24" d="M136.9 836.1l5.3 .8 3.8 1.6-5.4-.8z"/><path class="k25" d="M131.5 833.7l5.4 2.4 3.7 1.6-5.3-2.2z"/><path class="k26" d="M126.2 829.7l5.3 4 3.8 1.8-5.4-4.1z"/><path class="k28" d="M120.8 823.6l5.4 6.1 3.7 1.7-5.4-6z"/><path class="k31" d="M115.4 815.1l5.4 8.5 3.7 1.8-5.3-8.4z"/><path class="k34" d="M110.1 804.1l5.3 11 3.8 1.9-5.4-10.9z"/><path class="k38" d="M104.7 790.1l5.4 14 3.7 2-5.3-13.9z"/><path class="k163" d="M338.7 770.5l5.4-15.6 3.7-.4-5.3 15.6z"/><path class="k160" d="M333.4 783.1l5.3-12.6 3.8-.4-5.4 12.8z"/><path class="k158" d="M328 793.2l5.4-10.1 3.7-.2-5.3 10.1z"/><path class="k108" d="M322.6 800.9l5.4-7.7 3.8-.2-5.4 7.8z"/><path class="k59" d="M317.3 806.6l5.3-5.7 3.8-.1-5.3 5.8z"/><path class="k11" d="M311.9 810.6l5.4-4 3.8 0-5.4 4z"/><path class="k10" d="M306.6 813.1l5.3-2.5 3.8 0-5.4 2.5z"/><path class="k11" d="M295.9 814.6l5.3-.3 5.4-1.2 3.7 0-5.3 1.4-5.4 .3z"/><path class="k12" d="M290.5 814l5.4 .6 3.7 .2-5.3-.6z"/><path class="k13" d="M285.2 812.8l5.3 1.2 3.8 .2-5.4-1.1z"/><path class="k14" d="M279.8 811.2l5.4 1.6 3.7 .3-5.3-1.5z"/><path class="k15" d="M274.5 809.3l5.3 1.9 3.8 .4-5.4-1.8z"/><path class="k16" d="M269.1 807.3l5.4 2 3.7 .5-5.3-1.9z"/><path class="k17" d="M263.8 805.4l5.3 1.9 3.8 .6-5.4-1.9z"/><path class="k18" d="M258.4 803.5l5.4 1.9 3.7 .6-5.3-1.8z"/><path class="k19" d="M253 802l5.4 1.5 3.8 .7-5.4-1.5z"/><path class="k20" d="M247.7 800.7l5.3 1.3 3.8 .7-5.4-1.2z"/><path class="k21" d="M242.3 799.8l5.4 .9 3.7 .8-5.3-.8z"/><path class="k22" d="M237 799.4l5.3 .4 3.8 .9-5.4-.4z"/><path class="k23" d="M226.3 800.1l5.3-.6 5.4-.1 3.7 .9-5.3 .2-5.4 .6z"/><path class="k24" d="M210.2 804.9l5.4-2.1 5.3-1.6 5.4-1.1 3.7 1-5.3 1.2-5.4 1.7-5.3 2.2z"/><path class="k72" d="M199.5 810.4l5.4-2.9 5.3-2.6 3.8 1.3-5.4 2.6-5.3 3z"/><path class="k120" d="M188.8 817.2l5.3-3.5 5.4-3.3 3.8 1.4-5.4 3.4-5.4 3.6z"/><path class="k119" d="M172.7 828.2l5.4-3.6 5.3-3.7 5.4-3.7 3.7 1.6-5.3 3.7-5.4 3.7-5.3 3.7z"/><path class="k118" d="M162 834.3l5.4-2.8 5.3-3.3 3.8 1.7-5.4 3.3-5.3 3z"/><path class="k70" d="M151.3 838.1l5.4-1.5 5.3-2.3 3.8 1.9-5.4 2.3-5.3 1.5z"/><path class="k23" d="M140.6 837.7l5.4 .8 5.3-.4 3.8 1.9-5.4 .6-5.3-.8z"/><path class="k24" d="M135.3 835.5l5.3 2.2 3.8 2.1-5.4-2.2z"/><path class="k26" d="M129.9 831.4l5.4 4.1 3.7 2.1-5.4-3.9z"/><path class="k28" d="M124.5 825.4l5.4 6 3.7 2.3-5.3-6z"/><path class="k30" d="M119.2 817l5.3 8.4 3.8 2.3-5.4-8.3z"/><path class="k33" d="M113.8 806.1l5.4 10.9 3.7 2.4-5.3-10.9z"/><path class="k37" d="M108.5 792.2l5.3 13.9 3.8 2.4-5.4-13.8z"/><path class="k164" d="M342.5 770.1l5.3-15.6 3.8 .1-5.4 15.7z"/><path class="k161" d="M337.1 782.9l5.4-12.8 3.7 .2-5.3 12.8z"/><path class="k158" d="M331.8 793l5.3-10.1 3.8 .2-5.4 10.2z"/><path class="k109" d="M326.4 800.8l5.4-7.8 3.7 .3-5.3 7.8z"/><path class="k108" d="M321.1 806.6l5.3-5.8 3.8 .3-5.4 5.9z"/><path class="k59" d="M315.7 810.6l5.4-4 3.7 .4-5.3 4.1z"/><path class="k11" d="M299.6 814.8l5.4-.3 5.3-1.4 5.4-2.5 3.8 .5-5.4 2.6-5.3 1.4-5.4 .3z"/><path class="k12" d="M294.3 814.2l5.3 .6 3.8 .6-5.4-.4z"/><path class="k13" d="M288.9 813.1l5.4 1.1 3.7 .8-5.3-1z"/><path class="k14" d="M283.6 811.6l5.3 1.5 3.8 .9-5.4-1.5z"/><path class="k15" d="M278.2 809.8l5.4 1.8 3.7 .9-5.3-1.8z"/><path class="k16" d="M272.9 807.9l5.3 1.9 3.8 .9-5.4-1.8z"/><path class="k17" d="M267.5 806l5.4 1.9 3.7 1-5.3-1.9z"/><path class="k18" d="M262.2 804.2l5.3 1.8 3.8 1-5.4-1.7z"/><path class="k19" d="M256.8 802.7l5.4 1.5 3.7 1.1-5.3-1.4z"/><path class="k20" d="M251.4 801.5l5.4 1.2 3.8 1.2-5.4-1.1z"/><path class="k21" d="M246.1 800.7l5.3 .8 3.8 1.3-5.3-.8z"/><path class="k22" d="M240.7 800.3l5.4 .4 3.8 1.3-5.4-.3z"/><path class="k23" d="M230 801.1l5.4-.6 5.3-.2 3.8 1.4-5.4 .2-5.3 .8z"/><path class="k24" d="M224.7 802.3l5.3-1.2 3.8 1.6-5.4 1.2z"/><path class="k72" d="M214 806.2l5.3-2.2 5.4-1.7 3.7 1.6-5.3 1.8-5.4 2.2z"/><path class="k120" d="M197.9 815.2l5.4-3.4 5.3-3 5.4-2.6 3.7 1.7-5.3 2.7-5.4 3.1-5.3 3.4z"/><path class="k119" d="M181.8 826.2l5.4-3.7 5.3-3.7 5.4-3.6 3.8 1.9-5.4 3.6-5.4 3.8-5.3 3.9z"/><path class="k118" d="M155.1 840l5.3-1.5 5.4-2.3 5.3-3 5.4-3.3 5.3-3.7 3.8 2.2-5.4 3.6-5.3 3.5-5.4 3-5.3 2.4-5.4 1.6z"/><path class="k70" d="M149.7 840.6l5.4-.6 3.7 2.5-5.3 .6z"/><path class="k23" d="M144.4 839.8l5.3 .8 3.8 2.5-5.4-.7z"/><path class="k24" d="M139 837.6l5.4 2.2 3.7 2.6-5.4-2.1z"/><path class="k26" d="M133.6 833.7l5.4 3.9 3.7 2.7-5.3-3.9z"/><path class="k27" d="M128.3 827.7l5.3 6 3.8 2.7-5.4-5.9z"/><path class="k30" d="M122.9 819.4l5.4 8.3 3.7 2.8-5.3-8.3z"/><path class="k33" d="M117.6 808.5l5.3 10.9 3.8 2.8-5.4-10.8z"/><path class="k37" d="M112.2 794.7l5.4 13.8 3.7 2.9-5.3-13.8z"/><path class="k164" d="M346.2 770.3l5.4-15.7 3.8 .6-5.4 15.8z"/><path class="k161" d="M340.9 783.1l5.3-12.8 3.8 .7-5.3 12.8z"/><path class="k159" d="M335.5 793.3l5.4-10.2 3.8 .7-5.4 10.3z"/><path class="k157" d="M330.2 801.1l5.3-7.8 3.8 .8-5.4 7.9z"/><path class="k108" d="M324.8 807l5.4-5.9 3.7 .9-5.3 5.9z"/><path class="k107" d="M319.5 811.1l5.3-4.1 3.8 .9-5.4 4.2z"/><path class="k59" d="M314.1 813.7l5.4-2.6 3.7 1-5.3 2.7z"/><path class="k11" d="M303.4 815.4l5.4-.3 5.3-1.4 3.8 1.1-5.4 1.4-5.3 .4z"/><path class="k12" d="M298 815l5.4 .4 3.8 1.2-5.4-.3z"/><path class="k13" d="M292.7 814l5.3 1 3.8 1.3-5.3-1z"/><path class="k14" d="M287.3 812.5l5.4 1.5 3.8 1.3-5.4-1.4z"/><path class="k15" d="M282 810.7l5.3 1.8 3.8 1.4-5.4-1.7z"/><path class="k16" d="M276.6 808.9l5.4 1.8 3.7 1.5-5.3-1.8z"/><path class="k17" d="M271.3 807l5.3 1.9 3.8 1.5-5.4-1.8z"/><path class="k18" d="M265.9 805.3l5.4 1.7 3.7 1.6-5.3-1.6z"/><path class="k19" d="M260.6 803.9l5.3 1.4 3.8 1.7-5.4-1.4z"/><path class="k20" d="M255.2 802.8l5.4 1.1 3.7 1.7-5.3-1.1z"/><path class="k21" d="M249.9 802l5.3 .8 3.8 1.7-5.4-.6z"/><path class="k22" d="M239.1 801.9l5.4-.2 5.4 .3 3.7 1.9-5.3-.2-5.4 .2z"/><path class="k23" d="M233.8 802.7l5.3-.8 3.8 2-5.4 .8z"/><path class="k71" d="M228.4 803.9l5.4-1.2 3.7 2-5.3 1.3z"/><path class="k72" d="M223.1 805.7l5.3-1.8 3.8 2.1-5.4 1.8z"/><path class="k120" d="M207 813.7l5.4-3.1 5.3-2.7 5.4-2.2 3.7 2.1-5.3 2.3-5.4 2.8-5.3 3.2z"/><path class="k119" d="M201.7 817.1l5.3-3.4 3.8 2.4-5.4 3.4z"/><path class="k167" d="M190.9 824.5l5.4-3.8 5.4-3.6 3.7 2.4-5.3 3.8-5.4 3.8z"/><path class="k166" d="M169.5 838.5l5.4-3 5.3-3.5 5.4-3.6 5.3-3.9 3.8 2.6-5.4 3.9-5.3 3.8-5.4 3.5-5.3 3z"/><path class="k118" d="M158.8 842.5l5.4-1.6 5.3-2.4 3.8 2.8-5.4 2.5-5.3 1.7z"/><path class="k70" d="M153.5 843.1l5.3-.6 3.8 3-5.4 .6z"/><path class="k23" d="M148.1 842.4l5.4 .7 3.7 3-5.4-.6z"/><path class="k24" d="M142.7 840.3l5.4 2.1 3.7 3.1-5.3-2.1z"/><path class="k25" d="M137.4 836.4l5.3 3.9 3.8 3.1-5.4-3.8z"/><path class="k27" d="M132 830.5l5.4 5.9 3.7 3.2-5.3-5.9z"/><path class="k29" d="M126.7 822.2l5.3 8.3 3.8 3.2-5.4-8.1z"/><path class="k33" d="M121.3 811.4l5.4 10.8 3.7 3.4-5.3-10.8z"/><path class="k36" d="M116 797.6l5.3 13.8 3.8 3.4-5.4-13.7z"/><path class="k164" d="M350 771l5.4-15.8 3.7 1.1-5.3 15.9z"/><path class="k161" d="M344.7 783.8l5.3-12.8 3.8 1.2-5.4 12.9z"/><path class="k159" d="M339.3 794.1l5.4-10.3 3.7 1.3-5.3 10.3z"/><path class="k157" d="M333.9 802l5.4-7.9 3.8 1.3-5.4 8z"/><path class="k156" d="M328.6 807.9l5.3-5.9 3.8 1.4-5.3 6z"/><path class="k107" d="M323.2 812.1l5.4-4.2 3.8 1.5-5.4 4.2z"/><path class="k59" d="M317.9 814.8l5.3-2.7 3.8 1.5-5.4 2.8z"/><path class="k11" d="M307.2 816.6l5.3-.4 5.4-1.4 3.7 1.6-5.3 1.5-5.4 .5z"/><path class="k12" d="M301.8 816.3l5.4 .3 3.7 1.8-5.3-.4z"/><path class="k13" d="M296.5 815.3l5.3 1 3.8 1.7-5.4-.9z"/><path class="k14" d="M291.1 813.9l5.4 1.4 3.7 1.8-5.3-1.3z"/><path class="k15" d="M285.7 812.2l5.4 1.7 3.8 1.9-5.4-1.6z"/><path class="k16" d="M280.4 810.4l5.3 1.8 3.8 2-5.4-1.8z"/><path class="k17" d="M275 808.6l5.4 1.8 3.7 2-5.3-1.7z"/><path class="k18" d="M269.7 807l5.3 1.6 3.8 2.1-5.4-1.5z"/><path class="k19" d="M264.3 805.6l5.4 1.4 3.7 2.2-5.3-1.4z"/><path class="k20" d="M259 804.5l5.3 1.1 3.8 2.2-5.4-1z"/><path class="k21" d="M253.6 803.9l5.4 .6 3.7 2.3-5.3-.6z"/><path class="k22" d="M242.9 803.9l5.4-.2 5.3 .2 3.8 2.3-5.4-.1-5.3 .3z"/><path class="k71" d="M237.5 804.7l5.4-.8 3.8 2.5-5.4 .9z"/><path class="k119" d="M216.1 812.9l5.4-2.8 5.3-2.3 5.4-1.8 5.3-1.3 3.8 2.6-5.4 1.3-5.3 1.9-5.4 2.4-5.3 2.8z"/><path class="k167" d="M200.1 823.3l5.3-3.8 5.4-3.4 5.3-3.2 3.8 2.8-5.4 3.2-5.3 3.6-5.4 3.8z"/><path class="k166" d="M184 834.8l5.3-3.8 5.4-3.9 5.4-3.8 3.7 3-5.4 3.9-5.3 3.9-5.4 3.9z"/><path class="k165" d="M167.9 843.8l5.4-2.5 5.3-3 5.4-3.5 3.7 3.2-5.3 3.5-5.4 3.2-5.3 2.5z"/><path class="k117" d="M157.2 846.1l5.4-.6 5.3-1.7 3.8 3.4-5.4 1.7-5.3 .7z"/><path class="k70" d="M151.8 845.5l5.4 .6 3.8 3.5-5.4-.5z"/><path class="k23" d="M146.5 843.4l5.3 2.1 3.8 3.6-5.4-2z"/><path class="k25" d="M141.1 839.6l5.4 3.8 3.7 3.7-5.3-3.8z"/><path class="k26" d="M135.8 833.7l5.3 5.9 3.8 3.7-5.4-5.7z"/><path class="k29" d="M130.4 825.6l5.4 8.1 3.7 3.9-5.3-8.1z"/><path class="k32" d="M125.1 814.8l5.3 10.8 3.8 3.9-5.4-10.7z"/><path class="k36" d="M119.7 801.1l5.4 13.7 3.7 4-5.3-13.7z"/><path class="k164" d="M353.8 772.2l5.3-15.9 3.8 1.6-5.3 15.9z"/><path class="k161" d="M348.4 785.1l5.4-12.9 3.8 1.6-5.4 13z"/><path class="k159" d="M343.1 795.4l5.3-10.3 3.8 1.7-5.4 10.4z"/><path class="k157" d="M337.7 803.4l5.4-8 3.7 1.8-5.3 8.1z"/><path class="k156" d="M332.4 809.4l5.3-6 3.8 1.9-5.4 6z"/><path class="k155" d="M327 813.6l5.4-4.2 3.7 1.9-5.3 4.3z"/><path class="k107" d="M321.6 816.4l5.4-2.8 3.8 2-5.4 2.8z"/><path class="k59" d="M316.3 817.9l5.3-1.5 3.8 2-5.3 1.6z"/><path class="k11" d="M310.9 818.4l5.4-.5 3.8 2.1-5.4 .6z"/><path class="k12" d="M300.2 817.1l5.4 .9 5.3 .4 3.8 2.2-5.4-.3-5.3-.8z"/><path class="k13" d="M294.9 815.8l5.3 1.3 3.8 2.4-5.4-1.3z"/><path class="k14" d="M289.5 814.2l5.4 1.6 3.7 2.4-5.3-1.6z"/><path class="k16" d="M284.1 812.4l5.4 1.8 3.8 2.4-5.4-1.6z"/><path class="k17" d="M278.8 810.7l5.3 1.7 3.8 2.6-5.3-1.7z"/><path class="k18" d="M273.4 809.2l5.4 1.5 3.8 2.6-5.4-1.5z"/><path class="k19" d="M268.1 807.8l5.3 1.4 3.8 2.6-5.4-1.2z"/><path class="k20" d="M257.4 806.2l5.3 .6 5.4 1 3.7 2.8-5.3-1-5.4-.5z"/><path class="k21" d="M252 806.1l5.4 .1 3.7 2.9-5.3-.1z"/><path class="k70" d="M246.7 806.4l5.3-.3 3.8 2.9-5.4 .4z"/><path class="k118" d="M241.3 807.3l5.4-.9 3.7 3-5.3 .9z"/><path class="k119" d="M230.6 810.5l5.3-1.9 5.4-1.3 3.8 3-5.4 1.5-5.4 1.9z"/><path class="k167" d="M209.2 822.5l5.3-3.6 5.4-3.2 5.3-2.8 5.4-2.4 3.7 3.2-5.3 2.5-5.4 2.8-5.3 3.3-5.4 3.6z"/><path class="k166" d="M198.4 830.2l5.4-3.9 5.4-3.8 3.7 3.4-5.3 3.9-5.4 4z"/><path class="k165" d="M177 844.7l5.4-3.2 5.3-3.5 5.4-3.9 5.3-3.9 3.8 3.6-5.4 4-5.3 3.9-5.4 3.6-5.3 3.2z"/><path class="k164" d="M166.3 848.9l5.4-1.7 5.3-2.5 3.8 3.8-5.4 2.6-5.3 1.8z"/><path class="k117" d="M161 849.6l5.3-.7 3.8 4-5.4 .8z"/><path class="k69" d="M155.6 849.1l5.4 .5 3.7 4.1-5.4-.5z"/><path class="k22" d="M150.2 847.1l5.4 2 3.7 4.1-5.3-1.9z"/><path class="k24" d="M144.9 843.3l5.3 3.8 3.8 4.2-5.4-3.7z"/><path class="k26" d="M139.5 837.6l5.4 5.7 3.7 4.3-5.3-5.7z"/><path class="k28" d="M134.2 829.5l5.3 8.1 3.8 4.3-5.4-8.1z"/><path class="k31" d="M128.8 818.8l5.4 10.7 3.7 4.3-5.3-10.6z"/><path class="k35" d="M123.5 805.1l5.3 13.7 3.8 4.4-5.4-13.6z"/><path class="k164" d="M357.6 773.8l5.3-15.9 3.8 2.1-5.4 16z"/><path class="k161" d="M352.2 786.8l5.4-13 3.7 2.2-5.3 13.1z"/><path class="k158" d="M346.8 797.2l5.4-10.4 3.8 2.3-5.4 10.4z"/><path class="k157" d="M341.5 805.3l5.3-8.1 3.8 2.3-5.4 8.1z"/><path class="k155" d="M330.8 815.6l5.3-4.3 5.4-6 3.7 2.3-5.3 6.1-5.4 4.4z"/><path class="k106" d="M320.1 820l5.3-1.6 5.4-2.8 3.7 2.5-5.3 2.9-5.4 1.6z"/><path class="k59" d="M314.7 820.6l5.4-.6 3.7 2.6-5.3 .6z"/><path class="k11" d="M309.3 820.3l5.4 .3 3.8 2.6-5.4-.1z"/><path class="k12" d="M304 819.5l5.3 .8 3.8 2.8-5.4-.8z"/><path class="k13" d="M298.6 818.2l5.4 1.3 3.7 2.8-5.3-1.2z"/><path class="k14" d="M293.3 816.6l5.3 1.6 3.8 2.9-5.4-1.5z"/><path class="k15" d="M287.9 815l5.4 1.6 3.7 3-5.3-1.6z"/><path class="k16" d="M282.6 813.3l5.3 1.7 3.8 3-5.4-1.6z"/><path class="k17" d="M277.2 811.8l5.4 1.5 3.7 3.1-5.3-1.4z"/><path class="k18" d="M271.8 810.6l5.4 1.2 3.8 3.2-5.4-1.2z"/><path class="k19" d="M266.5 809.6l5.3 1 3.8 3.2-5.4-.9z"/><path class="k20" d="M261.1 809.1l5.4 .5 3.7 3.3-5.3-.5z"/><path class="k69" d="M255.8 809l5.3 .1 3.8 3.3-5.4 0z"/><path class="k117" d="M250.4 809.4l5.4-.4 3.7 3.4-5.3 .5z"/><path class="k118" d="M239.7 811.8l5.4-1.5 5.3-.9 3.8 3.5-5.4 1-5.3 1.5z"/><path class="k166" d="M207.6 829.8l5.3-3.9 5.4-3.6 5.3-3.3 5.4-2.8 5.3-2.5 5.4-1.9 3.8 3.6-5.4 2-5.4 2.5-5.3 2.9-5.4 3.4-5.3 3.7-5.4 3.9z"/><path class="k165" d="M196.8 837.8l5.4-4 5.4-4 3.7 4-5.4 4-5.3 4.1z"/><path class="k164" d="M164.7 853.7l5.4-.8 5.3-1.8 5.4-2.6 5.3-3.2 5.4-3.6 5.3-3.9 3.8 4.1-5.4 4-5.3 3.7-5.4 3.2-5.3 2.7-5.4 1.8-5.4 .9z"/><path class="k117" d="M159.3 853.2l5.4 .5 3.7 4.5-5.3-.4z"/><path class="k22" d="M154 851.3l5.3 1.9 3.8 4.6-5.4-1.9z"/><path class="k23" d="M148.6 847.6l5.4 3.7 3.7 4.6-5.3-3.6z"/><path class="k25" d="M143.3 841.9l5.3 5.7 3.8 4.7-5.4-5.7z"/><path class="k27" d="M137.9 833.8l5.4 8.1 3.7 4.7-5.3-7.9z"/><path class="k30" d="M132.6 823.2l5.3 10.6 3.8 4.9-5.4-10.6z"/><path class="k34" d="M127.2 809.6l5.4 13.6 3.7 4.9-5.4-13.5z"/><path class="k164" d="M361.3 776l5.4-16 3.7 2.5-5.3 16.1z"/><path class="k160" d="M356 789.1l5.3-13.1 3.8 2.6-5.4 13.1z"/><path class="k158" d="M350.6 799.5l5.4-10.4 3.7 2.6-5.3 10.5z"/><path class="k156" d="M345.2 807.6l5.4-8.1 3.8 2.7-5.4 8.2z"/><path class="k155" d="M339.9 813.7l5.3-6.1 3.8 2.8-5.3 6.2z"/><path class="k154" d="M329.2 821l5.3-2.9 5.4-4.4 3.8 2.9-5.4 4.4-5.4 3z"/><path class="k106" d="M323.8 822.6l5.4-1.6 3.7 3-5.3 1.7z"/><path class="k58" d="M318.5 823.2l5.3-.6 3.8 3.1-5.4 .7z"/><path class="k59" d="M313.1 823.1l5.4 .1 3.7 3.2-5.3-.2z"/><path class="k12" d="M307.7 822.3l5.4 .8 3.8 3.1-5.4-.7z"/><path class="k13" d="M302.4 821.1l5.3 1.2 3.8 3.2-5.4-1.1z"/><path class="k14" d="M297 819.6l5.4 1.5 3.7 3.3-5.3-1.5z"/><path class="k15" d="M291.7 818l5.3 1.6 3.8 3.3-5.4-1.5z"/><path class="k16" d="M286.3 816.4l5.4 1.6 3.7 3.4-5.3-1.5z"/><path class="k17" d="M281 815l5.3 1.4 3.8 3.5-5.4-1.4z"/><path class="k18" d="M275.6 813.8l5.4 1.2 3.7 3.5-5.3-1.1z"/><path class="k67" d="M264.9 812.4l5.3 .5 5.4 .9 3.8 3.6-5.4-.8-5.4-.4z"/><path class="k116" d="M259.5 812.4l5.4 0 3.7 3.8-5.3 0z"/><path class="k117" d="M248.8 813.9l5.4-1 5.3-.5 3.8 3.8-5.4 .6-5.3 1z"/><path class="k165" d="M243.5 815.4l5.3-1.5 3.8 3.9-5.4 1.6z"/><path class="k166" d="M227.4 822.8l5.3-2.9 5.4-2.5 5.4-2 3.7 4-5.4 2.1-5.3 2.5-5.4 3.1z"/><path class="k165" d="M211.3 833.8l5.4-3.9 5.3-3.7 5.4-3.4 3.7 4.3-5.3 3.4-5.4 3.7-5.3 4z"/><path class="k164" d="M195.2 845.9l5.4-4 5.3-4.1 5.4-4 3.8 4.4-5.4 4.1-5.4 4.1-5.3 4.1z"/><path class="k163" d="M168.4 858.2l5.4-.9 5.4-1.8 5.3-2.7 5.4-3.2 5.3-3.7 3.8 4.6-5.4 3.7-5.3 3.4-5.4 2.7-5.4 1.9-5.3 .9z"/><path class="k116" d="M163.1 857.8l5.3 .4 3.8 4.9-5.4-.3z"/><path class="k69" d="M157.7 855.9l5.4 1.9 3.7 5-5.3-1.8z"/><path class="k22" d="M152.4 852.3l5.3 3.6 3.8 5.1-5.4-3.6z"/><path class="k24" d="M147 846.6l5.4 5.7 3.7 5.1-5.3-5.6z"/><path class="k26" d="M141.7 838.7l5.3 7.9 3.8 5.2-5.4-7.9z"/><path class="k29" d="M136.3 828.1l5.4 10.6 3.7 5.2-5.4-10.5z"/><path class="k33" d="M130.9 814.6l5.4 13.5 3.7 5.3-5.3-13.4z"/><path class="k163" d="M365.1 778.6l5.3-16.1 3.8 2.9-5.3 16.2z"/><path class="k160" d="M359.7 791.7l5.4-13.1 3.8 3-5.4 13.1z"/><path class="k158" d="M354.4 802.2l5.3-10.5 3.8 3-5.4 10.6z"/><path class="k156" d="M349 810.4l5.4-8.2 3.7 3.1-5.3 8.3z"/><path class="k154" d="M338.3 821l5.4-4.4 5.3-6.2 3.8 3.2-5.4 6.2-5.3 4.5z"/><path class="k153" d="M332.9 824l5.4-3 3.8 3.3-5.4 3z"/><path class="k105" d="M327.6 825.7l5.3-1.7 3.8 3.3-5.4 1.8z"/><path class="k106" d="M322.2 826.4l5.4-.7 3.7 3.4-5.3 .7z"/><path class="k58" d="M316.9 826.2l5.3 .2 3.8 3.4-5.4 0z"/><path class="k59" d="M311.5 825.5l5.4 .7 3.7 3.6-5.3-.7z"/><path class="k12" d="M306.1 824.4l5.4 1.1 3.8 3.6-5.4-1.1z"/><path class="k13" d="M300.8 822.9l5.3 1.5 3.8 3.6-5.3-1.3z"/><path class="k14" d="M295.4 821.4l5.4 1.5 3.8 3.8-5.4-1.5z"/><path class="k15" d="M290.1 819.9l5.3 1.5 3.8 3.8-5.4-1.4z"/><path class="k16" d="M284.7 818.5l5.4 1.4 3.7 3.9-5.3-1.3z"/><path class="k65" d="M279.4 817.4l5.3 1.1 3.8 4-5.4-1.1z"/><path class="k66" d="M274 816.6l5.4 .8 3.7 4-5.3-.7z"/><path class="k115" d="M263.3 816.2l5.3 0 5.4 .4 3.8 4.1-5.4-.4-5.4 .1z"/><path class="k116" d="M257.9 816.8l5.4-.6 3.7 4.2-5.3 .6z"/><path class="k164" d="M252.6 817.8l5.3-1 3.8 4.2-5.4 1.2z"/><path class="k165" d="M225.8 830.5l5.3-3.4 5.4-3.1 5.3-2.5 5.4-2.1 5.4-1.6 3.7 4.4-5.3 1.6-5.4 2.1-5.4 2.7-5.3 3.1-5.4 3.4z"/><path class="k164" d="M215.1 838.2l5.3-4 5.4-3.7 3.7 4.6-5.3 3.8-5.4 4.1z"/><path class="k163" d="M199 850.5l5.3-4.1 5.4-4.1 5.4-4.1 3.7 4.8-5.3 4.2-5.4 4.2-5.4 4.1z"/><path class="k162" d="M172.2 863.1l5.3-.9 5.4-1.9 5.4-2.7 5.3-3.4 5.4-3.7 3.7 5-5.3 3.8-5.4 3.4-5.3 2.8-5.4 2-5.4 .9z"/><path class="k115" d="M166.8 862.8l5.4 .3 3.7 5.3-5.3-.2z"/><path class="k68" d="M161.5 861l5.3 1.8 3.8 5.4-5.4-1.8z"/><path class="k21" d="M156.1 857.4l5.4 3.6 3.7 5.4-5.3-3.5z"/><path class="k23" d="M150.8 851.8l5.3 5.6 3.8 5.5-5.4-5.5z"/><path class="k25" d="M145.4 843.9l5.4 7.9 3.7 5.6-5.4-7.8z"/><path class="k28" d="M140 833.4l5.4 10.5 3.7 5.7-5.3-10.5z"/><path class="k32" d="M134.7 820l5.3 13.4 3.8 5.7-5.4-13.3z"/><path class="k163" d="M368.9 781.6l5.3-16.2 3.8 3.3-5.4 16.1z"/><path class="k159" d="M363.5 794.7l5.4-13.1 3.7 3.2-5.3 13.3z"/><path class="k157" d="M358.1 805.3l5.4-10.6 3.8 3.4-5.4 10.6z"/><path class="k155" d="M352.8 813.6l5.3-8.3 3.8 3.4-5.3 8.4z"/><path class="k154" d="M347.4 819.8l5.4-6.2 3.8 3.5-5.4 6.3z"/><path class="k153" d="M331.3 829.1l5.4-1.8 5.4-3 5.3-4.5 3.8 3.6-5.4 4.5-5.3 3.1-5.4 1.8z"/><path class="k105" d="M326 829.8l5.3-.7 3.8 3.7-5.3 .9z"/><path class="k106" d="M320.6 829.8l5.4 0 3.8 3.9-5.4 0z"/><path class="k58" d="M315.3 829.1l5.3 .7 3.8 3.9-5.4-.6z"/><path class="k59" d="M309.9 828l5.4 1.1 3.7 4-5.3-1z"/><path class="k12" d="M304.6 826.7l5.3 1.3 3.8 4.1-5.4-1.3z"/><path class="k13" d="M299.2 825.2l5.4 1.5 3.7 4.1-5.3-1.4z"/><path class="k62" d="M293.8 823.8l5.4 1.4 3.8 4.2-5.4-1.4z"/><path class="k63" d="M288.5 822.5l5.3 1.3 3.8 4.2-5.4-1.2z"/><path class="k64" d="M283.1 821.4l5.4 1.1 3.7 4.3-5.3-1z"/><path class="k65" d="M277.8 820.7l5.3 .7 3.8 4.4-5.4-.7z"/><path class="k114" d="M272.4 820.3l5.4 .4 3.7 4.4-5.3-.3z"/><path class="k115" d="M261.7 821l5.3-.6 5.4-.1 3.8 4.5-5.4 .2-5.4 .6z"/><path class="k164" d="M229.5 835.1l5.4-3.4 5.3-3.1 5.4-2.7 5.4-2.1 5.3-1.6 5.4-1.2 3.7 4.6-5.3 1.2-5.4 1.7-5.3 2.2-5.4 2.7-5.4 3.2-5.3 3.5z"/><path class="k163" d="M218.8 843l5.4-4.1 5.3-3.8 3.8 5-5.4 3.9-5.3 4.1z"/><path class="k162" d="M202.7 855.5l5.4-4.1 5.4-4.2 5.3-4.2 3.8 5.1-5.4 4.3-5.4 4.2-5.3 4.2z"/><path class="k161" d="M175.9 868.4l5.4-.9 5.4-2 5.3-2.8 5.4-3.4 5.3-3.8 3.8 5.3-5.4 3.9-5.3 3.4-5.4 2.9-5.4 2.1-5.3 1z"/><path class="k162" d="M170.6 868.2l5.3 .2 3.8 5.7-5.4-.2z"/><path class="k114" d="M165.2 866.4l5.4 1.8 3.7 5.7-5.3-1.7z"/><path class="k20" d="M159.9 862.9l5.3 3.5 3.8 5.8-5.4-3.4z"/><path class="k22" d="M154.5 857.4l5.4 5.5 3.7 5.9-5.4-5.5z"/><path class="k24" d="M149.1 849.6l5.4 7.8 3.7 5.9-5.3-7.8z"/><path class="k27" d="M143.8 839.1l5.3 10.5 3.8 5.9-5.4-10.3z"/><path class="k31" d="M138.4 825.8l5.4 13.3 3.7 6.1-5.3-13.3z"/><path class="k162" d="M372.6 784.8l5.4-16.1 3.8 3.5-5.4 16.2z"/><path class="k159" d="M367.3 798.1l5.3-13.3 3.8 3.6-5.4 13.3z"/><path class="k156" d="M361.9 808.7l5.4-10.6 3.7 3.6-5.3 10.7z"/><path class="k155" d="M356.6 817.1l5.3-8.4 3.8 3.7-5.4 8.4z"/><path class="k153" d="M345.8 827.9l5.4-4.5 5.4-6.3 3.7 3.7-5.3 6.4-5.4 4.6z"/><path class="k152" d="M335.1 832.8l5.4-1.8 5.3-3.1 3.8 3.9-5.4 3.2-5.3 1.9z"/><path class="k104" d="M329.8 833.7l5.3-.9 3.8 4.1-5.4 .8z"/><path class="k105" d="M324.4 833.7l5.4 0 3.7 4-5.3 .1z"/><path class="k58" d="M319 833.1l5.4 .6 3.8 4.1-5.4-.5z"/><path class="k59" d="M308.3 830.8l5.4 1.3 5.3 1 3.8 4.2-5.4-1-5.3-1.2z"/><path class="k60" d="M303 829.4l5.3 1.4 3.8 4.3-5.4-1.3z"/><path class="k61" d="M297.6 828l5.4 1.4 3.7 4.4-5.3-1.3z"/><path class="k62" d="M292.2 826.8l5.4 1.2 3.8 4.5-5.4-1.2z"/><path class="k63" d="M286.9 825.8l5.3 1 3.8 4.5-5.4-.9z"/><path class="k112" d="M281.5 825.1l5.4 .7 3.7 4.6-5.3-.6z"/><path class="k113" d="M276.2 824.8l5.3 .3 3.8 4.7-5.4-.3z"/><path class="k114" d="M270.8 825l5.4-.2 3.7 4.7-5.3 .3z"/><path class="k162" d="M265.4 825.6l5.4-.6 3.8 4.8-5.4 .7z"/><path class="k163" d="M233.3 840.1l5.3-3.5 5.4-3.2 5.4-2.7 5.3-2.2 5.4-1.7 5.3-1.2 3.8 4.9-5.4 1.2-5.3 1.8-5.4 2.3-5.3 2.8-5.4 3.2-5.4 3.6z"/><path class="k162" d="M222.6 848.1l5.3-4.1 5.4-3.9 3.7 5.3-5.3 3.9-5.4 4.2z"/><path class="k161" d="M211.8 856.6l5.4-4.2 5.4-4.3 3.7 5.4-5.3 4.3-5.4 4.3z"/><path class="k160" d="M174.3 873.9l5.4 .2 5.3-1 5.4-2.1 5.4-2.9 5.3-3.4 5.4-3.9 5.3-4.2 3.8 5.5-5.4 4.3-5.3 3.9-5.4 3.6-5.3 2.9-5.4 2.1-5.4 1.1-5.3-.1z"/><path class="k113" d="M169 872.2l5.3 1.7 3.8 6-5.4-1.7z"/><path class="k19" d="M163.6 868.8l5.4 3.4 3.7 6-5.3-3.3z"/><path class="k20" d="M158.2 863.3l5.4 5.5 3.8 6.1-5.4-5.4z"/><path class="k23" d="M152.9 855.5l5.3 7.8 3.8 6.2-5.4-7.7z"/><path class="k26" d="M147.5 845.2l5.4 10.3 3.7 6.3-5.3-10.3z"/><path class="k29" d="M142.2 831.9l5.3 13.3 3.8 6.3-5.4-13.3z"/><path class="k161" d="M376.4 788.4l5.4-16.2 3.7 3.6-5.3 16.4z"/><path class="k158" d="M371 801.7l5.4-13.3 3.8 3.8-5.4 13.3z"/><path class="k156" d="M365.7 812.4l5.3-10.7 3.8 3.8-5.4 10.8z"/><path class="k154" d="M360.3 820.8l5.4-8.4 3.7 3.9-5.3 8.5z"/><path class="k153" d="M355 827.2l5.3-6.4 3.8 4-5.4 6.4z"/><path class="k152" d="M349.6 831.8l5.4-4.6 3.7 4-5.3 4.7z"/><path class="k151" d="M338.9 836.9l5.3-1.9 5.4-3.2 3.8 4.1-5.4 3.2-5.4 2z"/><path class="k104" d="M328.2 837.8l5.3-.1 5.4-.8 3.7 4.2-5.3 .9-5.4 .2z"/><path class="k105" d="M322.8 837.3l5.4 .5 3.7 4.4-5.3-.5z"/><path class="k58" d="M317.4 836.3l5.4 1 3.8 4.4-5.4-.9z"/><path class="k59" d="M312.1 835.1l5.3 1.2 3.8 4.5-5.4-1.1z"/><path class="k60" d="M306.7 833.8l5.4 1.3 3.7 4.6-5.3-1.3z"/><path class="k61" d="M301.4 832.5l5.3 1.3 3.8 4.6-5.4-1.3z"/><path class="k62" d="M296 831.3l5.4 1.2 3.7 4.6-5.3-1.1z"/><path class="k110" d="M290.6 830.4l5.4 .9 3.8 4.7-5.4-.8z"/><path class="k111" d="M285.3 829.8l5.3 .6 3.8 4.8-5.4-.6z"/><path class="k112" d="M279.9 829.5l5.4 .3 3.7 4.8-5.3-.1z"/><path class="k113" d="M274.6 829.8l5.3-.3 3.8 5-5.4 .3z"/><path class="k161" d="M269.2 830.5l5.4-.7 3.7 5-5.3 .8z"/><path class="k162" d="M237 845.4l5.4-3.6 5.4-3.2 5.3-2.8 5.4-2.3 5.3-1.8 5.4-1.2 3.8 5.1-5.4 1.3-5.4 1.8-5.3 2.3-5.4 2.9-5.4 3.3-5.3 3.6z"/><path class="k161" d="M226.3 853.5l5.4-4.2 5.3-3.9 3.8 5.4-5.4 4-5.3 4.3z"/><path class="k160" d="M215.6 862.1l5.4-4.3 5.3-4.3 3.8 5.6-5.4 4.4-5.4 4.4z"/><path class="k159" d="M199.5 873.9l5.4-3.6 5.3-3.9 5.4-4.3 3.7 5.8-5.3 4.2-5.4 4.1-5.3 3.6z"/><path class="k158" d="M188.8 878.9l5.4-2.1 5.3-2.9 3.8 5.9-5.4 2.9-5.4 2.2z"/><path class="k159" d="M178.1 879.9l5.3 .1 5.4-1.1 3.7 6-5.3 1.2-5.4-.1z"/><path class="k112" d="M172.7 878.2l5.4 1.7 3.7 6.1-5.3-1.5z"/><path class="k65" d="M167.4 874.9l5.3 3.3 3.8 6.3-5.4-3.3z"/><path class="k19" d="M162 869.5l5.4 5.4 3.7 6.3-5.4-5.4z"/><path class="k21" d="M156.6 861.8l5.4 7.7 3.7 6.3-5.3-7.6z"/><path class="k24" d="M151.3 851.5l5.3 10.3 3.8 6.4-5.4-10.2z"/><path class="k28" d="M145.9 838.2l5.4 13.3 3.7 6.5-5.3-13.2z"/><path class="k161" d="M380.2 792.2l5.3-16.4 3.8 3.9-5.4 16.3z"/><path class="k158" d="M374.8 805.5l5.4-13.3 3.7 3.8-5.3 13.5z"/><path class="k155" d="M369.4 816.3l5.4-10.8 3.8 4-5.4 10.8z"/><path class="k153" d="M364.1 824.8l5.3-8.5 3.8 4-5.3 8.5z"/><path class="k152" d="M358.7 831.2l5.4-6.4 3.8 4-5.4 6.5z"/><path class="k151" d="M337.3 842l5.3-.9 5.4-2 5.4-3.2 5.3-4.7 3.8 4.1-5.4 4.8-5.3 3.3-5.4 2-5.4 1z"/><path class="k103" d="M331.9 842.2l5.4-.2 3.7 4.4-5.3 .2z"/><path class="k104" d="M326.6 841.7l5.3 .5 3.8 4.4-5.4-.4z"/><path class="k105" d="M321.2 840.8l5.4 .9 3.7 4.5-5.3-.8z"/><path class="k58" d="M315.8 839.7l5.4 1.1 3.8 4.6-5.4-1.1z"/><path class="k59" d="M310.5 838.4l5.3 1.3 3.8 4.6-5.4-1.2z"/><path class="k60" d="M305.1 837.1l5.4 1.3 3.7 4.7-5.3-1.2z"/><path class="k109" d="M299.8 836l5.3 1.1 3.8 4.8-5.4-1z"/><path class="k110" d="M289 834.6l5.4 .6 5.4 .8 3.7 4.9-5.3-.8-5.4-.5z"/><path class="k111" d="M283.7 834.5l5.3 .1 3.8 5-5.4-.1z"/><path class="k160" d="M273 835.6l5.3-.8 5.4-.3 3.7 5-5.3 .4-5.4 .9z"/><path class="k161" d="M246.1 847.2l5.4-3.3 5.4-2.9 5.3-2.3 5.4-1.8 5.4-1.3 3.7 5.2-5.4 1.3-5.3 1.9-5.4 2.4-5.3 2.9-5.4 3.4z"/><path class="k160" d="M230.1 859.1l5.3-4.3 5.4-4 5.3-3.6 3.8 5.5-5.4 3.7-5.3 4.1-5.4 4.3z"/><path class="k159" d="M219.3 867.9l5.4-4.4 5.4-4.4 3.7 5.7-5.3 4.4-5.4 4.5z"/><path class="k158" d="M208.6 876.2l5.4-4.1 5.3-4.2 3.8 5.8-5.4 4.3-5.3 4.1z"/><path class="k157" d="M187.2 886.1l5.3-1.2 5.4-2.2 5.4-2.9 5.3-3.6 3.8 5.9-5.4 3.7-5.4 3-5.3 2.3-5.4 1.2z"/><path class="k158" d="M181.8 886l5.4 .1 3.7 6.2-5.3 0z"/><path class="k111" d="M176.5 884.5l5.3 1.5 3.8 6.3-5.4-1.5z"/><path class="k64" d="M171.1 881.2l5.4 3.3 3.7 6.3-5.4-3.2z"/><path class="k18" d="M165.7 875.8l5.4 5.4 3.7 6.4-5.3-5.3z"/><path class="k20" d="M160.4 868.2l5.3 7.6 3.8 6.5-5.4-7.5z"/><path class="k23" d="M155 858l5.4 10.2 3.7 6.6-5.3-10.2z"/><path class="k27" d="M149.7 844.8l5.3 13.2 3.8 6.6-5.4-13.1z"/><path class="k160" d="M383.9 796l5.4-16.3 3.8 3.8-5.4 16.5z"/><path class="k157" d="M378.6 809.5l5.3-13.5 3.8 4-5.4 13.5z"/><path class="k154" d="M373.2 820.3l5.4-10.8 3.7 4-5.3 10.9z"/><path class="k152" d="M367.9 828.8l5.3-8.5 3.8 4.1-5.4 8.6z"/><path class="k151" d="M362.5 835.3l5.4-6.5 3.7 4.2-5.3 6.5z"/><path class="k150" d="M341 846.4l5.4-1 5.4-2 5.3-3.3 5.4-4.8 3.8 4.2-5.4 4.9-5.4 3.3-5.3 2.1-5.4 1.1z"/><path class="k103" d="M330.3 846.2l5.4 .4 5.3-.2 3.8 4.5-5.4 .2-5.3-.3z"/><path class="k104" d="M325 845.4l5.3 .8 3.8 4.6-5.4-.7z"/><path class="k57" d="M319.6 844.3l5.4 1.1 3.7 4.7-5.3-1.1z"/><path class="k58" d="M314.2 843.1l5.4 1.2 3.8 4.7-5.4-1.1z"/><path class="k59" d="M308.9 841.9l5.3 1.2 3.8 4.8-5.4-1.1z"/><path class="k108" d="M303.5 840.9l5.4 1 3.7 4.9-5.3-1z"/><path class="k109" d="M292.8 839.6l5.4 .5 5.3 .8 3.8 4.9-5.4-.7-5.3-.4z"/><path class="k110" d="M287.4 839.5l5.4 .1 3.8 5.1-5.4-.1z"/><path class="k159" d="M276.7 840.8l5.4-.9 5.3-.4 3.8 5.1-5.4 .5-5.3 .9z"/><path class="k160" d="M249.9 852.7l5.4-3.4 5.3-2.9 5.4-2.4 5.3-1.9 5.4-1.3 3.8 5.2-5.4 1.4-5.4 2-5.3 2.5-5.4 2.9-5.3 3.4z"/><path class="k159" d="M239.2 860.5l5.3-4.1 5.4-3.7 3.8 5.5-5.4 3.8-5.4 4.2z"/><path class="k158" d="M228.5 869.2l5.3-4.4 5.4-4.3 3.7 5.7-5.3 4.4-5.4 4.5z"/><path class="k157" d="M217.7 878l5.4-4.3 5.4-4.5 3.7 5.9-5.4 4.5-5.3 4.4z"/><path class="k156" d="M185.6 892.3l5.3 0 5.4-1.2 5.3-2.3 5.4-3 5.4-3.7 5.3-4.1 3.8 6-5.4 4.2-5.3 3.7-5.4 3.1-5.4 2.3-5.3 1.3-5.4 .1z"/><path class="k109" d="M180.2 890.8l5.4 1.5 3.7 6.4-5.4-1.5z"/><path class="k63" d="M174.8 887.6l5.4 3.2 3.7 6.4-5.3-3.1z"/><path class="k16" d="M169.5 882.3l5.3 5.3 3.8 6.5-5.4-5.2z"/><path class="k19" d="M164.1 874.8l5.4 7.5 3.7 6.6-5.3-7.5z"/><path class="k22" d="M158.8 864.6l5.3 10.2 3.8 6.6-5.4-10.1z"/><path class="k25" d="M153.4 851.5l5.4 13.1 3.7 6.7-5.4-13.1z"/><path class="k159" d="M387.7 800l5.4-16.5 3.7 3.9-5.3 16.5z"/><path class="k156" d="M382.3 813.5l5.4-13.5 3.8 3.9-5.4 13.6z"/><path class="k154" d="M377 824.4l5.3-10.9 3.8 4-5.4 10.9z"/><path class="k152" d="M371.6 833l5.4-8.6 3.7 4-5.3 8.7z"/><path class="k150" d="M366.3 839.5l5.3-6.5 3.8 4.1-5.4 6.6z"/><path class="k149" d="M344.8 850.9l5.4-1.1 5.3-2.1 5.4-3.3 5.4-4.9 3.7 4.2-5.3 4.9-5.4 3.4-5.4 2.2-5.3 1.1z"/><path class="k102" d="M334.1 850.8l5.3 .3 5.4-.2 3.8 4.4-5.4 .4-5.4-.3z"/><path class="k103" d="M328.7 850.1l5.4 .7 3.7 4.6-5.3-.7z"/><path class="k56" d="M323.4 849l5.3 1.1 3.8 4.6-5.4-1z"/><path class="k57" d="M318 847.9l5.4 1.1 3.7 4.7-5.3-1z"/><path class="k106" d="M312.6 846.8l5.4 1.1 3.8 4.8-5.4-1.1z"/><path class="k107" d="M307.3 845.8l5.3 1 3.8 4.8-5.4-.9z"/><path class="k108" d="M296.6 844.7l5.3 .4 5.4 .7 3.7 4.9-5.3-.7-5.4-.3z"/><path class="k109" d="M291.2 844.6l5.4 .1 3.7 5-5.4 0z"/><path class="k158" d="M275.1 847.4l5.4-1.4 5.3-.9 5.4-.5 3.7 5.1-5.3 .5-5.4 1-5.3 1.5z"/><path class="k159" d="M259 854.8l5.4-2.9 5.3-2.5 5.4-2 3.8 5.3-5.4 2-5.4 2.6-5.3 3z"/><path class="k158" d="M242.9 866.2l5.4-4.2 5.4-3.8 5.3-3.4 3.8 5.5-5.4 3.5-5.4 3.9-5.3 4.2z"/><path class="k157" d="M232.2 875.1l5.4-4.5 5.3-4.4 3.8 5.7-5.4 4.4-5.3 4.6z"/><path class="k156" d="M221.5 884l5.3-4.4 5.4-4.5 3.8 5.8-5.4 4.6-5.4 4.5z"/><path class="k155" d="M205.4 895l5.4-3.1 5.3-3.7 5.4-4.2 3.7 6-5.3 4.2-5.4 3.8-5.4 3.1z"/><path class="k154" d="M200 897.3l5.4-2.3 3.7 6.1-5.3 2.4z"/><path class="k155" d="M189.3 898.7l5.4-.1 5.3-1.3 3.8 6.2-5.4 1.4-5.3 .1z"/><path class="k108" d="M183.9 897.2l5.4 1.5 3.8 6.3-5.4-1.3z"/><path class="k61" d="M178.6 894.1l5.3 3.1 3.8 6.5-5.4-3.2z"/><path class="k15" d="M173.2 888.9l5.4 5.2 3.7 6.4-5.3-5.1z"/><path class="k17" d="M167.9 881.4l5.3 7.5 3.8 6.5-5.4-7.4z"/><path class="k20" d="M162.5 871.3l5.4 10.1 3.7 6.6-5.4-10.1z"/><path class="k24" d="M157.1 858.2l5.4 13.1 3.7 6.6-5.3-13z"/><path class="k159" d="M391.5 803.9l5.3-16.5 3.8 3.8-5.4 16.5z"/><path class="k155" d="M386.1 817.5l5.4-13.6 3.7 3.8-5.3 13.7z"/><path class="k153" d="M380.7 828.4l5.4-10.9 3.8 3.9-5.4 11z"/><path class="k151" d="M375.4 837.1l5.3-8.7 3.8 4-5.3 8.7z"/><path class="k150" d="M370 843.7l5.4-6.6 3.8 4-5.4 6.7z"/><path class="k149" d="M364.7 848.6l5.3-4.9 3.8 4.1-5.4 5z"/><path class="k148" d="M348.6 855.3l5.3-1.1 5.4-2.2 5.4-3.4 3.7 4.2-5.3 3.4-5.4 2.3-5.4 1.2z"/><path class="k101" d="M337.8 855.4l5.4 .3 5.4-.4 3.7 4.4-5.3 .4-5.4-.2z"/><path class="k102" d="M332.5 854.7l5.3 .7 3.8 4.5-5.4-.6z"/><path class="k55" d="M327.1 853.7l5.4 1 3.7 4.6-5.3-.9z"/><path class="k56" d="M321.8 852.7l5.3 1 3.8 4.7-5.4-1z"/><path class="k105" d="M316.4 851.6l5.4 1.1 3.7 4.7-5.3-1z"/><path class="k106" d="M311 850.7l5.4 .9 3.8 4.8-5.4-.9z"/><path class="k107" d="M300.3 849.7l5.4 .3 5.3 .7 3.8 4.8-5.4-.6-5.3-.3z"/><path class="k108" d="M294.9 849.7l5.4 0 3.8 4.9-5.4 .1z"/><path class="k157" d="M278.9 852.7l5.3-1.5 5.4-1 5.3-.5 3.8 5-5.4 .6-5.3 1.1-5.4 1.5z"/><path class="k158" d="M262.8 860.3l5.3-3 5.4-2.6 5.4-2 3.7 5.2-5.3 2.1-5.4 2.6-5.4 3.1z"/><path class="k157" d="M246.7 871.9l5.3-4.2 5.4-3.9 5.4-3.5 3.7 5.4-5.3 3.6-5.4 3.9-5.4 4.3z"/><path class="k156" d="M236 880.9l5.3-4.6 5.4-4.4 3.7 5.6-5.3 4.5-5.4 4.6z"/><path class="k155" d="M230.6 885.5l5.4-4.6 3.7 5.7-5.4 4.7z"/><path class="k154" d="M214.5 898l5.4-3.8 5.3-4.2 5.4-4.5 3.7 5.8-5.3 4.5-5.4 4.3-5.3 3.9z"/><path class="k153" d="M198.4 904.9l5.4-1.4 5.3-2.4 5.4-3.1 3.8 6-5.4 3.2-5.4 2.5-5.3 1.4z"/><path class="k154" d="M193.1 905l5.3-.1 3.8 6.2-5.4 .2z"/><path class="k107" d="M187.7 903.7l5.4 1.3 3.7 6.3-5.4-1.3z"/><path class="k60" d="M182.3 900.5l5.4 3.2 3.7 6.3-5.3-3.1z"/><path class="k14" d="M177 895.4l5.3 5.1 3.8 6.4-5.4-5z"/><path class="k16" d="M171.6 888l5.4 7.4 3.7 6.5-5.3-7.4z"/><path class="k19" d="M166.2 877.9l5.4 10.1 3.8 6.5-5.4-10z"/><path class="k22" d="M160.9 864.9l5.3 13 3.8 6.6-5.4-12.9z"/><path class="k158" d="M395.2 807.7l5.4-16.5 3.8 3.6-5.4 16.6z"/><path class="k155" d="M389.9 821.4l5.3-13.7 3.8 3.7-5.4 13.7z"/><path class="k152" d="M384.5 832.4l5.4-11 3.7 3.7-5.3 11.1z"/><path class="k150" d="M379.2 841.1l5.3-8.7 3.8 3.8-5.4 8.8z"/><path class="k149" d="M373.8 847.8l5.4-6.7 3.7 3.9-5.3 6.8z"/><path class="k148" d="M368.4 852.8l5.4-5 3.8 4-5.4 5z"/><path class="k147" d="M357.7 858.5l5.4-2.3 5.3-3.4 3.8 4-5.4 3.5-5.3 2.3z"/><path class="k148" d="M352.3 859.7l5.4-1.2 3.8 4.1-5.4 1.3z"/><path class="k100" d="M347 860.1l5.3-.4 3.8 4.2-5.4 .5z"/><path class="k101" d="M336.2 859.3l5.4 .6 5.4 .2 3.7 4.3-5.3-.2-5.4-.5z"/><path class="k54" d="M330.9 858.4l5.3 .9 3.8 4.4-5.4-.9z"/><path class="k55" d="M325.5 857.4l5.4 1 3.7 4.4-5.3-.9z"/><path class="k56" d="M320.2 856.4l5.3 1 3.8 4.5-5.4-.9z"/><path class="k105" d="M314.8 855.5l5.4 .9 3.7 4.6-5.3-.8z"/><path class="k106" d="M304.1 854.6l5.3 .3 5.4 .6 3.8 4.7-5.4-.5-5.4-.3z"/><path class="k107" d="M298.7 854.7l5.4-.1 3.7 4.8-5.3 .2z"/><path class="k156" d="M282.6 857.9l5.4-1.5 5.3-1.1 5.4-.6 3.8 4.9-5.4 .6-5.4 1.2-5.3 1.6z"/><path class="k157" d="M271.9 862.6l5.4-2.6 5.3-2.1 3.8 5.1-5.4 2.1-5.4 2.7z"/><path class="k156" d="M255.8 873.2l5.4-3.9 5.3-3.6 5.4-3.1 3.7 5.2-5.3 3.2-5.4 3.6-5.3 4z"/><path class="k155" d="M245.1 882l5.3-4.5 5.4-4.3 3.8 5.4-5.4 4.3-5.4 4.6z"/><path class="k154" d="M234.3 891.3l5.4-4.7 5.4-4.6 3.7 5.5-5.3 4.7-5.4 4.7z"/><path class="k153" d="M223.6 900.1l5.4-4.3 5.3-4.5 3.8 5.6-5.4 4.6-5.3 4.4z"/><path class="k152" d="M202.2 911.1l5.3-1.4 5.4-2.5 5.4-3.2 5.3-3.9 3.8 5.8-5.4 3.9-5.4 3.3-5.3 2.5-5.4 1.5z"/><path class="k153" d="M196.8 911.3l5.4-.2 3.7 6-5.3 .3z"/><path class="k105" d="M191.4 910l5.4 1.3 3.8 6.1-5.4-1.3z"/><path class="k59" d="M186.1 906.9l5.3 3.1 3.8 6.1-5.4-2.9z"/><path class="k12" d="M180.7 901.9l5.4 5 3.7 6.3-5.3-5z"/><path class="k14" d="M175.4 894.5l5.3 7.4 3.8 6.3-5.4-7.3z"/><path class="k17" d="M170 884.5l5.4 10 3.7 6.4-5.4-10z"/><path class="k21" d="M164.6 871.6l5.4 12.9 3.7 6.4-5.3-12.8z"/><path class="k157" d="M399 811.4l5.4-16.6 3.7 3.4-5.3 16.7z"/><path class="k154" d="M393.6 825.1l5.4-13.7 3.8 3.5-5.4 13.8z"/><path class="k152" d="M388.3 836.2l5.3-11.1 3.8 3.6-5.3 11.1z"/><path class="k150" d="M382.9 845l5.4-8.8 3.8 3.6-5.4 8.9z"/><path class="k148" d="M377.6 851.8l5.3-6.8 3.8 3.7-5.4 6.8z"/><path class="k147" d="M361.5 862.6l5.3-2.3 5.4-3.5 5.4-5 3.7 3.7-5.3 5.1-5.4 3.6-5.4 2.3z"/><path class="k99" d="M350.7 864.4l5.4-.5 5.4-1.3 3.7 3.9-5.3 1.4-5.4 .5z"/><path class="k100" d="M345.4 864.2l5.3 .2 3.8 4-5.4-.1z"/><path class="k53" d="M334.6 862.8l5.4 .9 5.4 .5 3.7 4.1-5.3-.5-5.4-.7z"/><path class="k54" d="M329.3 861.9l5.3 .9 3.8 4.3-5.4-.9z"/><path class="k55" d="M323.9 861l5.4 .9 3.7 4.3-5.3-.8z"/><path class="k56" d="M318.6 860.2l5.3 .8 3.8 4.4-5.4-.8z"/><path class="k105" d="M313.2 859.7l5.4 .5 3.7 4.4-5.3-.4z"/><path class="k106" d="M302.5 859.6l5.3-.2 5.4 .3 3.8 4.5-5.4-.2-5.4 .3z"/><path class="k155" d="M286.4 863l5.3-1.6 5.4-1.2 5.4-.6 3.7 4.7-5.3 .7-5.4 1.1-5.4 1.7z"/><path class="k156" d="M275.6 867.8l5.4-2.7 5.4-2.1 3.7 4.8-5.3 2.3-5.4 2.7z"/><path class="k155" d="M259.6 878.6l5.3-4 5.4-3.6 5.3-3.2 3.8 5-5.4 3.2-5.3 3.7-5.4 4.1z"/><path class="k154" d="M248.8 887.5l5.4-4.6 5.4-4.3 3.7 5.2-5.4 4.3-5.3 4.7z"/><path class="k153" d="M238.1 896.9l5.4-4.7 5.3-4.7 3.8 5.3-5.4 4.8-5.4 4.7z"/><path class="k152" d="M227.4 905.9l5.3-4.4 5.4-4.6 3.7 5.4-5.3 4.7-5.4 4.4z"/><path class="k151" d="M200.6 917.4l5.3-.3 5.4-1.5 5.3-2.5 5.4-3.3 5.4-3.9 3.7 5.5-5.3 4-5.4 3.4-5.4 2.6-5.3 1.5-5.4 .4z"/><path class="k104" d="M195.2 916.1l5.4 1.3 3.7 5.9-5.4-1.2z"/><path class="k57" d="M189.8 913.2l5.4 2.9 3.7 6-5.3-2.9z"/><path class="k11" d="M184.5 908.2l5.3 5 3.8 6-5.4-4.9z"/><path class="k13" d="M179.1 900.9l5.4 7.3 3.7 6.1-5.4-7.3z"/><path class="k16" d="M173.7 890.9l5.4 10 3.7 6.1-5.3-9.8z"/><path class="k20" d="M168.4 878.1l5.3 12.8 3.8 6.3-5.4-12.8z"/><path class="k157" d="M402.8 814.9l5.3-16.7 3.8 3.1-5.3 16.8z"/><path class="k154" d="M397.4 828.7l5.4-13.8 3.8 3.2-5.4 13.8z"/><path class="k151" d="M392.1 839.8l5.3-11.1 3.8 3.2-5.4 11.2z"/><path class="k149" d="M386.7 848.7l5.4-8.9 3.7 3.3-5.3 9z"/><path class="k148" d="M381.3 855.5l5.4-6.8 3.8 3.4-5.4 6.8z"/><path class="k147" d="M376 860.6l5.3-5.1 3.8 3.4-5.4 5.2z"/><path class="k146" d="M365.2 866.5l5.4-2.3 5.4-3.6 3.7 3.5-5.3 3.7-5.4 2.4z"/><path class="k98" d="M359.9 867.9l5.3-1.4 3.8 3.7-5.4 1.4z"/><path class="k99" d="M349.1 868.3l5.4 .1 5.4-.5 3.7 3.7-5.3 .6-5.4 0z"/><path class="k52" d="M343.8 867.8l5.3 .5 3.8 3.9-5.4-.4z"/><path class="k53" d="M333 866.2l5.4 .9 5.4 .7 3.7 4-5.3-.7-5.4-.8z"/><path class="k54" d="M327.7 865.4l5.3 .8 3.8 4.1-5.4-.8z"/><path class="k55" d="M322.3 864.6l5.4 .8 3.7 4.1-5.3-.7z"/><path class="k104" d="M317 864.2l5.3 .4 3.8 4.2-5.4-.4z"/><path class="k105" d="M306.2 864.3l5.4-.3 5.4 .2 3.7 4.2-5.4-.1-5.3 .3z"/><path class="k106" d="M300.9 865l5.3-.7 3.8 4.3-5.4 .8z"/><path class="k154" d="M295.5 866.1l5.4-1.1 3.7 4.4-5.4 1.2z"/><path class="k155" d="M279.4 872.8l5.4-2.7 5.3-2.3 5.4-1.7 3.7 4.5-5.3 1.8-5.4 2.3-5.3 2.8z"/><path class="k154" d="M263.3 883.8l5.4-4.1 5.3-3.7 5.4-3.2 3.8 4.7-5.4 3.3-5.4 3.7-5.3 4.1z"/><path class="k153" d="M252.6 892.8l5.3-4.7 5.4-4.3 3.8 4.8-5.4 4.5-5.4 4.7z"/><path class="k152" d="M241.8 902.3l5.4-4.7 5.4-4.8 3.7 5-5.3 4.8-5.4 4.9z"/><path class="k151" d="M231.1 911.4l5.4-4.4 5.3-4.7 3.8 5.2-5.4 4.7-5.3 4.5z"/><path class="k150" d="M204.3 923.3l5.4-.4 5.3-1.5 5.4-2.6 5.4-3.4 5.3-4 3.8 5.3-5.4 4.1-5.4 3.4-5.3 2.7-5.4 1.6-5.4 .4z"/><path class="k103" d="M198.9 922.1l5.4 1.2 3.7 5.6-5.3-1.1z"/><path class="k56" d="M193.6 919.2l5.3 2.9 3.8 5.7-5.4-2.9z"/><path class="k10" d="M188.2 914.3l5.4 4.9 3.7 5.7-5.4-4.8z"/><path class="k12" d="M182.8 907l5.4 7.3 3.7 5.8-5.3-7.2z"/><path class="k15" d="M177.5 897.2l5.3 9.8 3.8 5.9-5.4-9.8z"/><path class="k18" d="M172.1 884.4l5.4 12.8 3.7 5.9-5.3-12.7z"/><path class="k156" d="M406.6 818.1l5.3-16.8 3.8 2.8-5.4 16.8z"/><path class="k153" d="M401.2 831.9l5.4-13.8 3.7 2.8-5.3 13.9z"/><path class="k150" d="M395.8 843.1l5.4-11.2 3.8 2.9-5.4 11.3z"/><path class="k148" d="M390.5 852.1l5.3-9 3.8 3-5.4 9z"/><path class="k147" d="M385.1 858.9l5.4-6.8 3.7 3-5.3 7z"/><path class="k146" d="M374.4 867.8l5.3-3.7 5.4-5.2 3.8 3.2-5.4 5.2-5.4 3.7z"/><path class="k145" d="M369 870.2l5.4-2.4 3.7 3.2-5.3 2.5z"/><path class="k98" d="M358.3 872.2l5.3-.6 5.4-1.4 3.8 3.3-5.4 1.5-5.4 .6z"/><path class="k50" d="M352.9 872.2l5.4 0 3.7 3.4-5.3 .1z"/><path class="k51" d="M347.5 871.8l5.4 .4 3.8 3.5-5.4-.4z"/><path class="k52" d="M342.2 871.1l5.3 .7 3.8 3.5-5.4-.6z"/><path class="k53" d="M336.8 870.3l5.4 .8 3.7 3.6-5.3-.7z"/><path class="k54" d="M326.1 868.8l5.3 .7 5.4 .8 3.8 3.7-5.4-.8-5.4-.5z"/><path class="k55" d="M320.7 868.4l5.4 .4 3.7 3.9-5.3-.4z"/><path class="k104" d="M315.3 868.3l5.4 .1 3.8 3.9-5.4 0z"/><path class="k105" d="M304.6 869.4l5.4-.8 5.3-.3 3.8 4-5.4 .4-5.3 .8z"/><path class="k153" d="M299.2 870.6l5.4-1.2 3.8 4.1-5.4 1.3z"/><path class="k154" d="M277.8 880.8l5.4-3.3 5.3-2.8 5.4-2.3 5.3-1.8 3.8 4.2-5.4 1.8-5.3 2.4-5.4 2.9-5.4 3.3z"/><path class="k153" d="M267.1 888.6l5.3-4.1 5.4-3.7 3.7 4.4-5.3 3.8-5.4 4.2z"/><path class="k152" d="M256.3 897.8l5.4-4.7 5.4-4.5 3.7 4.6-5.4 4.5-5.3 4.8z"/><path class="k151" d="M245.6 907.5l5.4-4.9 5.3-4.8 3.8 4.7-5.4 4.9-5.4 4.9z"/><path class="k150" d="M234.9 916.7l5.3-4.5 5.4-4.7 3.7 4.8-5.3 4.8-5.4 4.6z"/><path class="k149" d="M208 928.9l5.4-.4 5.4-1.6 5.3-2.7 5.4-3.4 5.4-4.1 3.7 5-5.3 4.1-5.4 3.5-5.4 2.7-5.3 1.7-5.4 .5z"/><path class="k102" d="M202.7 927.8l5.3 1.1 3.8 5.3-5.4-1.1z"/><path class="k7" d="M197.3 924.9l5.4 2.9 3.7 5.3-5.3-2.8z"/><path class="k9" d="M191.9 920.1l5.4 4.8 3.8 5.4-5.4-4.8z"/><path class="k11" d="M186.6 912.9l5.3 7.2 3.8 5.4-5.4-7.1z"/><path class="k14" d="M181.2 903.1l5.4 9.8 3.7 5.5-5.3-9.7z"/><path class="k17" d="M175.9 890.4l5.3 12.7 3.8 5.6-5.4-12.7z"/><path class="k156" d="M410.3 820.9l5.4-16.8 3.8 2.4-5.4 16.9z"/><path class="k153" d="M405 834.8l5.3-13.9 3.8 2.5-5.4 14z"/><path class="k150" d="M399.6 846.1l5.4-11.3 3.7 2.6-5.3 11.3z"/><path class="k148" d="M394.2 855.1l5.4-9 3.8 2.6-5.4 9.1z"/><path class="k147" d="M388.9 862.1l5.3-7 3.8 2.7-5.4 7z"/><path class="k146" d="M383.5 867.3l5.4-5.2 3.7 2.7-5.3 5.3z"/><path class="k145" d="M378.1 871l5.4-3.7 3.8 2.8-5.4 3.8z"/><path class="k97" d="M367.4 875l5.4-1.5 5.3-2.5 3.8 2.9-5.4 2.5-5.3 1.6z"/><path class="k49" d="M362 875.6l5.4-.6 3.8 3-5.4 .7z"/><path class="k50" d="M356.7 875.7l5.3-.1 3.8 3.1-5.4 .1z"/><path class="k51" d="M351.3 875.3l5.4 .4 3.7 3.1-5.3-.3z"/><path class="k3" d="M345.9 874.7l5.4 .6 3.8 3.2-5.4-.5z"/><path class="k4" d="M340.6 874l5.3 .7 3.8 3.3-5.4-.7z"/><path class="k5" d="M335.2 873.2l5.4 .8 3.7 3.3-5.3-.7z"/><path class="k54" d="M329.8 872.7l5.4 .5 3.8 3.4-5.4-.5z"/><path class="k55" d="M319.1 872.3l5.4 0 5.3 .4 3.8 3.4-5.4-.3-5.3 .1z"/><path class="k104" d="M308.4 873.5l5.3-.8 5.4-.4 3.8 3.6-5.4 .4-5.4 .9z"/><path class="k105" d="M303 874.8l5.4-1.3 3.7 3.7-5.3 1.4z"/><path class="k153" d="M276.2 889l5.3-3.8 5.4-3.3 5.4-2.9 5.3-2.4 5.4-1.8 3.8 3.8-5.4 1.9-5.4 2.4-5.3 2.9-5.4 3.5-5.4 3.8z"/><path class="k152" d="M265.4 897.7l5.4-4.5 5.4-4.2 3.7 4.1-5.3 4.3-5.4 4.6z"/><path class="k151" d="M260.1 902.5l5.3-4.8 3.8 4.3-5.4 4.8z"/><path class="k150" d="M249.3 912.3l5.4-4.9 5.4-4.9 3.7 4.3-5.3 5-5.4 5z"/><path class="k149" d="M238.6 921.7l5.4-4.6 5.3-4.8 3.8 4.5-5.4 4.8-5.3 4.7z"/><path class="k148" d="M211.8 934.2l5.4-.5 5.3-1.7 5.4-2.7 5.4-3.5 5.3-4.1 3.8 4.6-5.4 4.1-5.4 3.6-5.3 2.8-5.4 1.7-5.4 .6z"/><path class="k101" d="M206.4 933.1l5.4 1.1 3.7 4.9-5.3-1z"/><path class="k6" d="M201.1 930.3l5.3 2.8 3.8 5-5.4-2.7z"/><path class="k7" d="M195.7 925.5l5.4 4.8 3.7 5.1-5.4-4.8z"/><path class="k10" d="M190.3 918.4l5.4 7.1 3.7 5.1-5.3-7z"/><path class="k13" d="M185 908.7l5.3 9.7 3.8 5.2-5.4-9.7z"/><path class="k16" d="M179.6 896l5.4 12.7 3.7 5.2-5.4-12.6z"/><path class="k156" d="M414.1 823.4l5.4-16.9 3.7 2-5.3 17z"/><path class="k152" d="M408.7 837.4l5.4-14 3.8 2.1-5.4 14z"/><path class="k150" d="M403.4 848.7l5.3-11.3 3.8 2.1-5.4 11.4z"/><path class="k148" d="M398 857.8l5.4-9.1 3.7 2.2-5.3 9.2z"/><path class="k146" d="M392.6 864.8l5.4-7 3.8 2.3-5.4 7z"/><path class="k145" d="M381.9 873.9l5.4-3.8 5.3-5.3 3.8 2.3-5.4 5.3-5.3 3.9z"/><path class="k97" d="M371.2 878l5.3-1.6 5.4-2.5 3.8 2.4-5.4 2.6-5.4 1.6z"/><path class="k49" d="M365.8 878.7l5.4-.7 3.7 2.5-5.3 .8z"/><path class="k2" d="M355.1 878.5l5.3 .3 5.4-.1 3.8 2.6-5.4 .3-5.4-.3z"/><path class="k3" d="M349.7 878l5.4 .5 3.7 2.8-5.3-.5z"/><path class="k4" d="M344.3 877.3l5.4 .7 3.8 2.8-5.4-.6z"/><path class="k5" d="M333.6 876.1l5.4 .5 5.3 .7 3.8 2.9-5.4-.6-5.3-.4z"/><path class="k6" d="M328.2 875.8l5.4 .3 3.8 3.1-5.4-.2z"/><path class="k55" d="M317.5 876.3l5.4-.4 5.3-.1 3.8 3.2-5.4 .1-5.3 .5z"/><path class="k104" d="M301.4 880.5l5.4-1.9 5.3-1.4 5.4-.9 3.8 3.3-5.4 .9-5.4 1.5-5.3 1.9z"/><path class="k152" d="M279.9 893.1l5.4-3.8 5.4-3.5 5.3-2.9 5.4-2.4 3.8 3.4-5.4 2.5-5.4 3-5.3 3.5-5.4 3.9z"/><path class="k151" d="M269.2 902l5.4-4.6 5.3-4.3 3.8 3.7-5.4 4.4-5.3 4.6z"/><path class="k150" d="M258.5 911.8l5.3-5 5.4-4.8 3.8 3.8-5.4 4.9-5.4 5z"/><path class="k149" d="M253.1 916.8l5.4-5 3.7 3.9-5.3 5.1z"/><path class="k148" d="M242.4 926.3l5.3-4.7 5.4-4.8 3.8 4-5.4 4.9-5.4 4.7z"/><path class="k147" d="M220.9 938.5l5.4-1.7 5.3-2.8 5.4-3.6 5.4-4.1 3.7 4.1-5.4 4.3-5.3 3.6-5.4 2.8-5.4 1.9z"/><path class="k99" d="M215.5 939.1l5.4-.6 3.7 4.5-5.3 .5z"/><path class="k52" d="M210.2 938.1l5.3 1 3.8 4.4-5.4-.9z"/><path class="k5" d="M204.8 935.4l5.4 2.7 3.7 4.5-5.4-2.6z"/><path class="k7" d="M199.4 930.6l5.4 4.8 3.7 4.6-5.3-4.7z"/><path class="k9" d="M194.1 923.6l5.3 7 3.8 4.7-5.4-7z"/><path class="k12" d="M188.7 913.9l5.4 9.7 3.7 4.7-5.4-9.6z"/><path class="k15" d="M183.3 901.3l5.4 12.6 3.7 4.8-5.3-12.5z"/><path class="k156" d="M417.9 825.5l5.3-17 3.8 1.6-5.4 17z"/><path class="k152" d="M412.5 839.5l5.4-14 3.7 1.6-5.3 14.1z"/><path class="k150" d="M407.1 850.9l5.4-11.4 3.8 1.7-5.4 11.5z"/><path class="k147" d="M401.8 860.1l5.3-9.2 3.8 1.8-5.4 9.1z"/><path class="k146" d="M396.4 867.1l5.4-7 3.7 1.7-5.3 7.2z"/><path class="k145" d="M391 872.4l5.4-5.3 3.8 1.9-5.4 5.3z"/><path class="k96" d="M380.3 878.9l5.4-2.6 5.3-3.9 3.8 1.9-5.4 3.8-5.3 2.7z"/><path class="k48" d="M374.9 880.5l5.4-1.6 3.8 1.9-5.4 1.7z"/><path class="k1" d="M364.2 881.6l5.4-.3 5.3-.8 3.8 2-5.4 1-5.3 .3z"/><path class="k2" d="M358.8 881.3l5.4 .3 3.8 2.2-5.4-.2z"/><path class="k3" d="M348.1 880.2l5.4 .6 5.3 .5 3.8 2.3-5.4-.4-5.4-.5z"/><path class="k4" d="M342.7 879.6l5.4 .6 3.7 2.5-5.3-.6z"/><path class="k5" d="M337.4 879.2l5.3 .4 3.8 2.5-5.4-.3z"/><path class="k6" d="M326.6 879.1l5.4-.1 5.4 .2 3.7 2.6-5.4-.2-5.3 .2z"/><path class="k55" d="M315.9 880.5l5.4-.9 5.3-.5 3.8 2.7-5.4 .5-5.4 1.1z"/><path class="k104" d="M299.8 886.4l5.4-2.5 5.3-1.9 5.4-1.5 3.7 2.9-5.3 1.5-5.4 2-5.4 2.6z"/><path class="k152" d="M289.1 892.9l5.3-3.5 5.4-3 3.7 3.1-5.3 3-5.4 3.6z"/><path class="k151" d="M278.3 901.2l5.4-4.4 5.4-3.9 3.7 3.2-5.4 4-5.3 4.4z"/><path class="k150" d="M267.6 910.7l5.4-4.9 5.3-4.6 3.8 3.3-5.4 4.7-5.4 4.9z"/><path class="k149" d="M262.2 915.7l5.4-5 3.7 3.4-5.3 5.1z"/><path class="k148" d="M251.5 925.7l5.4-4.9 5.3-5.1 3.8 3.5-5.4 5.2-5.4 5z"/><path class="k147" d="M240.7 934.7l5.4-4.3 5.4-4.7 3.7 3.7-5.3 4.7-5.4 4.3z"/><path class="k146" d="M224.6 943l5.4-1.9 5.4-2.8 5.3-3.6 3.8 3.7-5.4 3.7-5.3 2.9-5.4 1.9z"/><path class="k98" d="M219.3 943.5l5.3-.5 3.8 3.9-5.4 .7z"/><path class="k51" d="M213.9 942.6l5.4 .9 3.7 4.1-5.3-.9z"/><path class="k4" d="M208.5 940l5.4 2.6 3.8 4.1-5.4-2.6z"/><path class="k6" d="M203.2 935.3l5.3 4.7 3.8 4.1-5.4-4.6z"/><path class="k8" d="M197.8 928.3l5.4 7 3.7 4.2-5.3-6.9z"/><path class="k11" d="M192.4 918.7l5.4 9.6 3.8 4.3-5.4-9.5z"/><path class="k14" d="M187.1 906.2l5.3 12.5 3.8 4.4-5.4-12.5z"/><path class="k156" d="M421.6 827.1l5.4-17 3.8 1-5.4 17.1z"/><path class="k152" d="M416.3 841.2l5.3-14.1 3.8 1.1-5.4 14.2z"/><path class="k149" d="M410.9 852.7l5.4-11.5 3.7 1.2-5.3 11.5z"/><path class="k147" d="M405.5 861.8l5.4-9.1 3.8 1.2-5.4 9.3z"/><path class="k146" d="M400.2 869l5.3-7.2 3.8 1.4-5.4 7.1z"/><path class="k97" d="M394.8 874.3l5.4-5.3 3.7 1.3-5.3 5.4z"/><path class="k96" d="M389.4 878.1l5.4-3.8 3.8 1.4-5.4 3.8z"/><path class="k48" d="M378.7 882.5l5.4-1.7 5.3-2.7 3.8 1.4-5.4 2.7-5.3 1.9z"/><path class="k1" d="M368 883.8l5.3-.3 5.4-1 3.8 1.6-5.4 1.1-5.4 .4z"/><path class="k2" d="M357.2 883.2l5.4 .4 5.4 .2 3.7 1.8-5.4-.1-5.3-.4z"/><path class="k3" d="M351.8 882.7l5.4 .5 3.8 1.9-5.4-.5z"/><path class="k4" d="M346.5 882.1l5.3 .6 3.8 1.9-5.4-.4z"/><path class="k5" d="M335.7 881.6l5.4 .2 5.4 .3 3.7 2.1-5.3-.3-5.4-.1z"/><path class="k6" d="M330.4 881.8l5.3-.2 3.8 2.2-5.4 .2z"/><path class="k7" d="M325 882.3l5.4-.5 3.7 2.2-5.3 .6z"/><path class="k55" d="M314.3 884.9l5.3-1.5 5.4-1.1 3.8 2.3-5.4 1.1-5.4 1.6z"/><path class="k103" d="M298.2 892.5l5.3-3 5.4-2.6 5.4-2 3.7 2.4-5.3 2.1-5.4 2.6-5.4 3.1z"/><path class="k151" d="M287.4 900.1l5.4-4 5.4-3.6 3.7 2.6-5.3 3.7-5.4 4z"/><path class="k150" d="M276.7 909.2l5.4-4.7 5.3-4.4 3.8 2.7-5.4 4.5-5.3 4.8z"/><path class="k149" d="M266 919.2l5.3-5.1 5.4-4.9 3.8 2.9-5.4 5-5.4 5.2z"/><path class="k148" d="M260.6 924.4l5.4-5.2 3.7 3.1-5.3 5.1z"/><path class="k147" d="M255.2 929.4l5.4-5 3.8 3-5.4 5.1z"/><path class="k146" d="M239.1 942.1l5.4-3.7 5.4-4.3 5.3-4.7 3.8 3.1-5.4 4.8-5.4 4.4-5.3 3.8z"/><path class="k145" d="M233.8 945l5.3-2.9 3.8 3.4-5.4 2.9z"/><path class="k97" d="M228.4 946.9l5.4-1.9 3.7 3.4-5.4 2z"/><path class="k98" d="M223 947.6l5.4-.7 3.7 3.5-5.3 .7z"/><path class="k2" d="M217.7 946.7l5.3 .9 3.8 3.5-5.4-.8z"/><path class="k3" d="M212.3 944.1l5.4 2.6 3.7 3.6-5.4-2.5z"/><path class="k5" d="M206.9 939.5l5.4 4.6 3.7 3.7-5.3-4.5z"/><path class="k7" d="M201.6 932.6l5.3 6.9 3.8 3.8-5.4-6.9z"/><path class="k10" d="M196.2 923.1l5.4 9.5 3.7 3.8-5.4-9.4z"/><path class="k13" d="M190.8 910.6l5.4 12.5 3.7 3.9-5.3-12.4z"/><path class="k156" d="M425.4 828.2l5.4-17.1 3.7 .6-5.3 17.1z"/><path class="k152" d="M420 842.4l5.4-14.2 3.8 .6-5.4 14.3z"/><path class="k150" d="M414.7 853.9l5.3-11.5 3.8 .7-5.4 11.6z"/><path class="k147" d="M409.3 863.2l5.4-9.3 3.7 .8-5.3 9.3z"/><path class="k146" d="M403.9 870.3l5.4-7.1 3.8 .8-5.4 7.2z"/><path class="k97" d="M398.6 875.7l5.3-5.4 3.8 .9-5.4 5.5z"/><path class="k96" d="M393.2 879.5l5.4-3.8 3.7 1-5.3 3.9z"/><path class="k48" d="M387.8 882.2l5.4-2.7 3.8 1.1-5.4 2.8z"/><path class="k0" d="M377.1 885.2l5.4-1.1 5.3-1.9 3.8 1.2-5.4 1.8-5.4 1.2z"/><path class="k1" d="M371.7 885.6l5.4-.4 3.7 1.2-5.3 .4z"/><path class="k2" d="M361 885.1l5.3 .4 5.4 .1 3.8 1.2-5.4 0-5.4-.3z"/><path class="k3" d="M355.6 884.6l5.4 .5 3.7 1.4-5.3-.4z"/><path class="k4" d="M344.9 883.9l5.3 .3 5.4 .4 3.8 1.5-5.4-.4-5.4-.2z"/><path class="k5" d="M339.5 883.8l5.4 .1 3.7 1.6-5.3-.1z"/><path class="k6" d="M328.8 884.6l5.3-.6 5.4-.2 3.8 1.6-5.4 .3-5.4 .7z"/><path class="k7" d="M323.4 885.7l5.4-1.1 3.7 1.8-5.3 1.2z"/><path class="k55" d="M312.7 889.4l5.3-2.1 5.4-1.6 3.8 1.9-5.4 1.6-5.4 2.2z"/><path class="k103" d="M296.6 898.8l5.3-3.7 5.4-3.1 5.4-2.6 3.7 2-5.3 2.7-5.4 3.2-5.4 3.6z"/><path class="k150" d="M285.8 907.3l5.4-4.5 5.4-4 3.7 2.1-5.4 4.2-5.3 4.5z"/><path class="k149" d="M275.1 917.1l5.4-5 5.3-4.8 3.8 2.3-5.4 4.8-5.4 5.1z"/><path class="k148" d="M269.7 922.3l5.4-5.2 3.7 2.4-5.3 5.3z"/><path class="k147" d="M259 932.5l5.4-5.1 5.3-5.1 3.8 2.5-5.4 5.2-5.4 5.1z"/><path class="k146" d="M253.6 937.3l5.4-4.8 3.7 2.6-5.3 4.9z"/><path class="k145" d="M237.5 948.4l5.4-2.9 5.3-3.8 5.4-4.4 3.8 2.7-5.4 4.5-5.4 3.8-5.3 3z"/><path class="k97" d="M232.1 950.4l5.4-2 3.8 2.9-5.4 2.1z"/><path class="k49" d="M226.8 951.1l5.3-.7 3.8 3-5.4 .7z"/><path class="k2" d="M221.4 950.3l5.4 .8 3.7 3-5.3-.7z"/><path class="k3" d="M216 947.8l5.4 2.5 3.8 3.1-5.4-2.4z"/><path class="k4" d="M210.7 943.3l5.3 4.5 3.8 3.2-5.4-4.5z"/><path class="k7" d="M205.3 936.4l5.4 6.9 3.7 3.2-5.4-6.8z"/><path class="k9" d="M199.9 927l5.4 9.4 3.7 3.3-5.3-9.4z"/><path class="k13" d="M194.6 914.6l5.3 12.4 3.8 3.3-5.4-12.3z"/><path class="k156" d="M429.2 828.8l5.3-17.1 3.8 0-5.4 17.2z"/><path class="k152" d="M423.8 843.1l5.4-14.3 3.7 .1-5.3 14.3z"/><path class="k150" d="M418.4 854.7l5.4-11.6 3.8 .1-5.4 11.7z"/><path class="k148" d="M413.1 864l5.3-9.3 3.8 .2-5.4 9.4z"/><path class="k98" d="M407.7 871.2l5.4-7.2 3.7 .3-5.3 7.3z"/><path class="k97" d="M402.3 876.7l5.4-5.5 3.8 .4-5.4 5.6z"/><path class="k48" d="M397 880.6l5.3-3.9 3.8 .5-5.4 4z"/><path class="k0" d="M386.2 885.2l5.4-1.8 5.4-2.8 3.7 .6-5.4 2.9-5.3 1.9z"/><path class="k1" d="M375.5 886.8l5.3-.4 5.4-1.2 3.8 .8-5.4 1.1-5.4 .5z"/><path class="k2" d="M364.7 886.5l5.4 .3 5.4 0 3.7 .8-5.3 0-5.4-.2z"/><path class="k3" d="M359.4 886.1l5.3 .4 3.8 .9-5.4-.3z"/><path class="k4" d="M348.6 885.5l5.4 .2 5.4 .4 3.7 1-5.3-.4-5.4-.2z"/><path class="k5" d="M343.3 885.4l5.3 .1 3.8 1-5.4 .1z"/><path class="k6" d="M332.5 886.4l5.4-.7 5.4-.3 3.7 1.2-5.3 .3-5.4 .8z"/><path class="k7" d="M321.8 889.2l5.4-1.6 5.3-1.2 3.8 1.3-5.4 1.2-5.4 1.7z"/><path class="k55" d="M311.1 894.1l5.3-2.7 5.4-2.2 3.7 1.4-5.3 2.3-5.4 2.7z"/><path class="k103" d="M300.3 900.9l5.4-3.6 5.4-3.2 3.7 1.5-5.4 3.3-5.3 3.7z"/><path class="k102" d="M289.6 909.6l5.3-4.5 5.4-4.2 3.8 1.7-5.4 4.2-5.4 4.6z"/><path class="k149" d="M278.8 919.5l5.4-5.1 5.4-4.8 3.7 1.8-5.3 4.9-5.4 5.2z"/><path class="k148" d="M273.5 924.8l5.3-5.3 3.8 2-5.4 5.3z"/><path class="k147" d="M268.1 930l5.4-5.2 3.7 2-5.3 5.3z"/><path class="k146" d="M257.4 940l5.3-4.9 5.4-5.1 3.8 2.1-5.4 5.2-5.4 4.9z"/><path class="k145" d="M246.6 948.3l5.4-3.8 5.4-4.5 3.7 2.2-5.4 4.5-5.3 3.9z"/><path class="k96" d="M235.9 953.4l5.4-2.1 5.3-3 3.8 2.3-5.4 3.1-5.4 2.1z"/><path class="k49" d="M230.5 954.1l5.4-.7 3.7 2.4-5.3 .8z"/><path class="k1" d="M225.2 953.4l5.3 .7 3.8 2.5-5.4-.6z"/><path class="k2" d="M219.8 951l5.4 2.4 3.7 2.6-5.4-2.4z"/><path class="k4" d="M214.4 946.5l5.4 4.5 3.7 2.6-5.3-4.4z"/><path class="k6" d="M209 939.7l5.4 6.8 3.8 2.7-5.4-6.7z"/><path class="k9" d="M203.7 930.3l5.3 9.4 3.8 2.8-5.4-9.3z"/><path class="k12" d="M198.3 918l5.4 12.3 3.7 2.9-5.3-12.3z"/><path class="k156" d="M432.9 828.9l5.4-17.2 3.8-.5-5.4 17.3z"/><path class="k153" d="M427.6 843.2l5.3-14.3 3.8-.4-5.4 14.4z"/><path class="k150" d="M422.2 854.9l5.4-11.7 3.7-.3-5.3 11.7z"/><path class="k100" d="M416.8 864.3l5.4-9.4 3.8-.3-5.4 9.4z"/><path class="k98" d="M411.5 871.6l5.3-7.3 3.8-.3-5.4 7.5z"/><path class="k49" d="M406.1 877.2l5.4-5.6 3.7-.1-5.3 5.6z"/><path class="k1" d="M400.7 881.2l5.4-4 3.8-.1-5.4 4.2z"/><path class="k0" d="M390 886l5.3-1.9 5.4-2.9 3.8 .1-5.4 2.9-5.4 2z"/><path class="k1" d="M379.2 887.6l5.4-.5 5.4-1.1 3.7 .2-5.3 1.1-5.4 .5z"/><path class="k2" d="M368.5 887.4l5.4 .2 5.3 0 3.8 .2-5.4 .1-5.3-.1z"/><path class="k3" d="M363.1 887.1l5.4 .3 3.8 .4-5.4-.3z"/><path class="k4" d="M357.8 886.7l5.3 .4 3.8 .4-5.4-.3z"/><path class="k5" d="M347 886.6l5.4-.1 5.4 .2 3.7 .5-5.3-.1-5.4 .1z"/><path class="k6" d="M336.3 887.7l5.4-.8 5.3-.3 3.8 .6-5.4 .4-5.4 .9z"/><path class="k7" d="M320.2 892.9l5.3-2.3 5.4-1.7 5.4-1.2 3.7 .8-5.3 1.2-5.4 1.8-5.4 2.3z"/><path class="k55" d="M309.4 898.9l5.4-3.3 5.4-2.7 3.7 .9-5.3 2.8-5.4 3.3z"/><path class="k103" d="M304.1 902.6l5.3-3.7 3.8 1-5.4 3.8z"/><path class="k102" d="M293.3 911.4l5.4-4.6 5.4-4.2 3.7 1.1-5.3 4.3-5.4 4.7z"/><path class="k101" d="M288 916.3l5.3-4.9 3.8 1.3-5.4 4.9z"/><path class="k100" d="M277.2 926.8l5.4-5.3 5.4-5.2 3.7 1.3-5.4 5.3-5.3 5.3z"/><path class="k147" d="M271.9 932.1l5.3-5.3 3.8 1.4-5.4 5.4z"/><path class="k146" d="M261.1 942.2l5.4-4.9 5.4-5.2 3.7 1.5-5.4 5.3-5.3 5z"/><path class="k97" d="M250.4 950.6l5.3-3.9 5.4-4.5 3.8 1.7-5.4 4.6-5.4 3.9z"/><path class="k96" d="M245 953.7l5.4-3.1 3.7 1.8-5.3 3.2z"/><path class="k48" d="M239.6 955.8l5.4-2.1 3.8 1.9-5.4 2.1z"/><path class="k0" d="M234.3 956.6l5.3-.8 3.8 1.9-5.4 .9z"/><path class="k1" d="M228.9 956l5.4 .6 3.7 2-5.4-.5z"/><path class="k2" d="M223.5 953.6l5.4 2.4 3.7 2.1-5.3-2.4z"/><path class="k4" d="M218.2 949.2l5.3 4.4 3.8 2.1-5.4-4.3z"/><path class="k6" d="M212.8 942.5l5.4 6.7 3.7 2.2-5.4-6.7z"/><path class="k8" d="M207.4 933.2l5.4 9.3 3.7 2.2-5.3-9.2z"/><path class="k12" d="M202.1 920.9l5.3 12.3 3.8 2.3-5.4-12.2z"/><path class="k157" d="M436.7 828.5l5.4-17.3 3.7-1-5.3 17.4z"/><path class="k153" d="M431.3 842.9l5.4-14.4 3.8-.9-5.4 14.4z"/><path class="k103" d="M426 854.6l5.3-11.7 3.8-.9-5.4 11.8z"/><path class="k100" d="M420.6 864l5.4-9.4 3.7-.8-5.3 9.5z"/><path class="k99" d="M415.2 871.5l5.4-7.5 3.8-.7-5.4 7.5z"/><path class="k50" d="M409.9 877.1l5.3-5.6 3.8-.7-5.4 5.7z"/><path class="k1" d="M383 887.8l5.4-.5 5.3-1.1 5.4-2 5.4-2.9 5.4-4.2 3.7-.6-5.3 4.3-5.4 3-5.4 2-5.4 1.2-5.3 .6z"/><path class="k2" d="M377.6 887.9l5.4-.1 3.8-.2-5.4 .1z"/><path class="k3" d="M366.9 887.5l5.4 .3 5.3 .1 3.8-.2-5.4-.1-5.3-.2z"/><path class="k4" d="M361.5 887.2l5.4 .3 3.8-.1-5.4-.2z"/><path class="k5" d="M350.8 887.2l5.4-.1 5.3 .1 3.8 0-5.4-.1-5.4 .2z"/><path class="k6" d="M340 888.5l5.4-.9 5.4-.4 3.7 .1-5.3 .5-5.4 .9z"/><path class="k7" d="M318.6 896.6l5.3-2.8 5.4-2.3 5.4-1.8 5.3-1.2 3.8 .2-5.4 1.3-5.3 1.9-5.4 2.3-5.4 2.9z"/><path class="k55" d="M307.8 903.7l5.4-3.8 5.4-3.3 3.7 .5-5.4 3.4-5.3 3.9z"/><path class="k54" d="M302.5 908l5.3-4.3 3.8 .7-5.4 4.3z"/><path class="k102" d="M297.1 912.7l5.4-4.7 3.7 .7-5.4 4.7z"/><path class="k101" d="M291.7 917.6l5.4-4.9 3.7 .7-5.3 5.1z"/><path class="k100" d="M281 928.2l5.3-5.3 5.4-5.3 3.8 .9-5.4 5.3-5.4 5.4z"/><path class="k99" d="M275.6 933.6l5.4-5.4 3.7 1-5.3 5.4z"/><path class="k98" d="M264.9 943.9l5.3-5 5.4-5.3 3.8 1-5.4 5.4-5.4 5z"/><path class="k97" d="M259.5 948.5l5.4-4.6 3.7 1.1-5.4 4.7z"/><path class="k96" d="M248.8 955.6l5.3-3.2 5.4-3.9 3.7 1.2-5.3 4-5.4 3.2z"/><path class="k48" d="M243.4 957.7l5.4-2.1 3.7 1.3-5.4 2.2z"/><path class="k0" d="M238 958.6l5.4-.9 3.7 1.4-5.3 1z"/><path class="k1" d="M232.6 958.1l5.4 .5 3.8 1.5-5.4-.5z"/><path class="k2" d="M227.3 955.7l5.3 2.4 3.8 1.5-5.4-2.3z"/><path class="k3" d="M221.9 951.4l5.4 4.3 3.7 1.6-5.4-4.2z"/><path class="k6" d="M216.5 944.7l5.4 6.7 3.7 1.7-5.3-6.6z"/><path class="k8" d="M211.2 935.5l5.3 9.2 3.8 1.8-5.4-9.2z"/><path class="k12" d="M205.8 923.3l5.4 12.2 3.7 1.8-5.4-12.2z"/><path class="k157" d="M440.5 827.6l5.3-17.4 3.8-1.5-5.4 17.4z"/><path class="k154" d="M435.1 842l5.4-14.4 3.7-1.5-5.3 14.5z"/><path class="k103" d="M429.7 853.8l5.4-11.8 3.8-1.4-5.4 11.9z"/><path class="k101" d="M424.4 863.3l5.3-9.5 3.8-1.3-5.4 9.5z"/><path class="k51" d="M419 870.8l5.4-7.5 3.7-1.3-5.3 7.6z"/><path class="k2" d="M408.3 880.8l5.3-4.3 5.4-5.7 3.8-1.2-5.4 5.8-5.4 4.3z"/><path class="k1" d="M397.5 885.8l5.4-2 5.4-3 3.7-1.1-5.4 3.1-5.3 2.1z"/><path class="k2" d="M381.4 887.7l5.4-.1 5.3-.6 5.4-1.2 3.8-.9-5.4 1.2-5.4 .7-5.3 .2z"/><path class="k3" d="M376 887.6l5.4 .1 3.8-.7-5.4-.1z"/><path class="k4" d="M370.7 887.4l5.3 .2 3.8-.7-5.4-.1z"/><path class="k5" d="M359.9 887.1l5.4 .1 5.4 .2 3.7-.6-5.4-.2-5.3 .1z"/><path class="k6" d="M349.2 887.8l5.3-.5 5.4-.2 3.8-.4-5.4 .2-5.4 .6z"/><path class="k7" d="M311.6 904.4l5.3-3.9 5.4-3.4 5.4-2.9 5.4-2.3 5.3-1.9 5.4-1.3 5.4-.9 3.7-.3-5.3 .9-5.4 1.4-5.4 1.9-5.4 2.5-5.3 2.9-5.4 3.4-5.4 4z"/><path class="k55" d="M306.2 908.7l5.4-4.3 3.7 .1-5.3 4.4z"/><path class="k54" d="M300.8 913.4l5.4-4.7 3.8 .2-5.4 4.8z"/><path class="k53" d="M295.5 918.5l5.3-5.1 3.8 .3-5.4 5.1z"/><path class="k101" d="M290.1 923.8l5.4-5.3 3.7 .3-5.4 5.3z"/><path class="k100" d="M284.7 929.2l5.4-5.4 3.7 .3-5.3 5.5z"/><path class="k99" d="M279.4 934.6l5.3-5.4 3.8 .4-5.4 5.5z"/><path class="k98" d="M268.6 945l5.4-5 5.4-5.4 3.7 .5-5.4 5.4-5.3 5.2z"/><path class="k97" d="M263.2 949.7l5.4-4.7 3.8 .7-5.4 4.7z"/><path class="k48" d="M252.5 956.9l5.4-3.2 5.3-4 3.8 .7-5.4 4.1-5.4 3.3z"/><path class="k0" d="M241.8 960.1l5.3-1 5.4-2.2 3.7 .9-5.3 2.2-5.4 1.1z"/><path class="k1" d="M236.4 959.6l5.4 .5 3.7 1-5.4-.5z"/><path class="k2" d="M231 957.3l5.4 2.3 3.7 1-5.3-2.2z"/><path class="k3" d="M225.6 953.1l5.4 4.2 3.8 1.1-5.4-4.2z"/><path class="k5" d="M220.3 946.5l5.3 6.6 3.8 1.1-5.4-6.5z"/><path class="k8" d="M214.9 937.3l5.4 9.2 3.7 1.2-5.3-9.1z"/><path class="k12" d="M209.5 925.1l5.4 12.2 3.8 1.3-5.4-12.1z"/><path class="k158" d="M444.2 826.1l5.4-17.4 3.8-2-5.4 17.5z"/><path class="k107" d="M438.9 840.6l5.3-14.5 3.8-1.9-5.4 14.5z"/><path class="k104" d="M433.5 852.5l5.4-11.9 3.7-1.9-5.3 12z"/><path class="k54" d="M428.1 862l5.4-9.5 3.8-1.8-5.4 9.6z"/><path class="k4" d="M422.8 869.6l5.3-7.6 3.8-1.7-5.4 7.6z"/><path class="k3" d="M417.4 875.4l5.4-5.8 3.7-1.7-5.3 5.9z"/><path class="k2" d="M395.9 886.1l5.4-1.2 5.3-2.1 5.4-3.1 5.4-4.3 3.8-1.6-5.4 4.4-5.4 3.1-5.4 2.1-5.3 1.4z"/><path class="k3" d="M385.2 887l5.3-.2 5.4-.7 3.8-1.3-5.4 .7-5.4 .3z"/><path class="k4" d="M374.4 886.8l5.4 .1 5.4 .1 3.7-1.2-5.4 0-5.3-.1z"/><path class="k5" d="M369 886.6l5.4 .2 3.8-1.1-5.4-.1z"/><path class="k6" d="M358.3 886.9l5.4-.2 5.3-.1 3.8-1-5.4 .1-5.3 .3z"/><path class="k7" d="M347.6 888.4l5.3-.9 5.4-.6 3.8-.9-5.4 .6-5.4 1.1z"/><path class="k8" d="M320.7 900.5l5.4-3.4 5.3-2.9 5.4-2.5 5.4-1.9 5.4-1.4 3.7-.7-5.4 1.4-5.3 2-5.4 2.5-5.4 3-5.3 3.5z"/><path class="k7" d="M310 908.9l5.3-4.4 5.4-4 3.8-.4-5.4 4-5.4 4.5z"/><path class="k6" d="M304.6 913.7l5.4-4.8 3.7-.3-5.4 4.8z"/><path class="k54" d="M299.2 918.8l5.4-5.1 3.7-.3-5.3 5.2z"/><path class="k53" d="M293.8 924.1l5.4-5.3 3.8-.2-5.4 5.4z"/><path class="k52" d="M288.5 929.6l5.3-5.5 3.8-.1-5.4 5.6z"/><path class="k51" d="M277.7 940.5l5.4-5.4 5.4-5.5 3.7 0-5.3 5.6-5.4 5.4z"/><path class="k50" d="M272.4 945.7l5.3-5.2 3.8 .1-5.4 5.2z"/><path class="k49" d="M261.6 954.5l5.4-4.1 5.4-4.7 3.7 .1-5.4 4.8-5.3 4.2z"/><path class="k0" d="M245.5 961.1l5.4-1.1 5.3-2.2 5.4-3.3 3.8 .3-5.4 3.3-5.4 2.4-5.3 1.1z"/><path class="k1" d="M240.1 960.6l5.4 .5 3.8 .5-5.4-.4z"/><path class="k2" d="M234.8 958.4l5.3 2.2 3.8 .6-5.4-2.1z"/><path class="k3" d="M229.4 954.2l5.4 4.2 3.7 .7-5.4-4.2z"/><path class="k6" d="M224 947.7l5.4 6.5 3.7 .7-5.3-6.4z"/><path class="k8" d="M218.7 938.6l5.3 9.1 3.8 .8-5.4-9.1z"/><path class="k12" d="M213.3 926.5l5.4 12.1 3.7 .8-5.4-12z"/><path class="k111" d="M448 824.2l5.4-17.5 3.8-2.5-5.4 17.6z"/><path class="k108" d="M442.6 838.7l5.4-14.5 3.8-2.4-5.4 14.6z"/><path class="k105" d="M437.3 850.7l5.3-12 3.8-2.3-5.4 12z"/><path class="k55" d="M431.9 860.3l5.4-9.6 3.7-2.3-5.3 9.7z"/><path class="k5" d="M426.5 867.9l5.4-7.6 3.8-2.2-5.4 7.7z"/><path class="k4" d="M421.2 873.8l5.3-5.9 3.8-2.1-5.4 5.9z"/><path class="k3" d="M394.3 885.5l5.4-.7 5.3-1.4 5.4-2.1 5.4-3.1 5.4-4.4 3.7-2.1-5.4 4.5-5.3 3.2-5.4 2.2-5.4 1.4-5.3 .7z"/><path class="k4" d="M383.5 885.8l5.4 0 5.4-.3 3.8-1.8-5.4 .4-5.4 .1z"/><path class="k5" d="M378.2 885.7l5.3 .1 3.8-1.6-5.4 0z"/><path class="k6" d="M367.4 885.7l5.4-.1 5.4 .1 3.7-1.5-5.3 0-5.4 .1z"/><path class="k7" d="M356.7 886.6l5.4-.6 5.3-.3 3.8-1.4-5.4 .4-5.4 .7z"/><path class="k8" d="M319.1 904.1l5.4-4 5.3-3.5 5.4-3 5.4-2.5 5.3-2 5.4-1.4 5.4-1.1 3.7-1.2-5.3 1-5.4 1.6-5.4 2-5.3 2.6-5.4 3-5.4 3.6-5.4 4.1z"/><path class="k7" d="M308.3 913.4l5.4-4.8 5.4-4.5 3.7-.8-5.3 4.5-5.4 4.9z"/><path class="k6" d="M303 918.6l5.3-5.2 3.8-.7-5.4 5.3z"/><path class="k5" d="M297.6 924l5.4-5.4 3.7-.6-5.3 5.5z"/><path class="k53" d="M292.2 929.6l5.4-5.6 3.8-.5-5.4 5.6z"/><path class="k52" d="M286.9 935.2l5.3-5.6 3.8-.5-5.4 5.6z"/><path class="k51" d="M281.5 940.6l5.4-5.4 3.7-.5-5.4 5.6z"/><path class="k50" d="M276.1 945.8l5.4-5.2 3.7-.3-5.3 5.2z"/><path class="k2" d="M270.7 950.6l5.4-4.8 3.8-.3-5.4 4.9z"/><path class="k1" d="M243.9 961.2l5.4 .4 5.3-1.1 5.4-2.4 5.4-3.3 5.3-4.2 3.8-.2-5.4 4.2-5.4 3.4-5.3 2.4-5.4 1.2-5.4-.3z"/><path class="k2" d="M238.5 959.1l5.4 2.1 3.7 .1-5.3-2.1z"/><path class="k4" d="M233.1 954.9l5.4 4.2 3.8 .1-5.4-4.1z"/><path class="k6" d="M227.8 948.5l5.3 6.4 3.8 .2-5.4-6.4z"/><path class="k8" d="M222.4 939.4l5.4 9.1 3.7 .2-5.4-9z"/><path class="k12" d="M217 927.4l5.4 12 3.7 .3-5.3-11.9z"/><path class="k112" d="M451.8 821.8l5.4-17.6 3.7-2.8-5.3 17.6z"/><path class="k109" d="M446.4 836.4l5.4-14.6 3.8-2.8-5.4 14.7z"/><path class="k58" d="M441 848.4l5.4-12 3.8-2.7-5.4 12z"/><path class="k7" d="M435.7 858.1l5.3-9.7 3.8-2.7-5.4 9.8z"/><path class="k6" d="M430.3 865.8l5.4-7.7 3.7-2.6-5.3 7.7z"/><path class="k5" d="M424.9 871.7l5.4-5.9 3.8-2.6-5.4 6z"/><path class="k4" d="M398.1 883.7l5.3-.7 5.4-1.4 5.4-2.2 5.3-3.2 5.4-4.5 3.8-2.5-5.4 4.6-5.4 3.2-5.3 2.3-5.4 1.4-5.4 .9z"/><path class="k5" d="M387.3 884.2l5.4-.1 5.4-.4 3.7-2.1-5.4 .4-5.3 .2z"/><path class="k6" d="M376.6 884.2l5.3 0 5.4 0 3.8-2-5.4 0-5.4 .1z"/><path class="k7" d="M371.2 884.3l5.4-.1 3.7-1.9-5.3 .2z"/><path class="k8" d="M360.4 885.4l5.4-.7 5.4-.4 3.8-1.8-5.4 .4-5.4 .8z"/><path class="k9" d="M328.2 899.2l5.4-3.6 5.4-3 5.3-2.6 5.4-2 5.4-1.6 5.3-1 3.8-1.7-5.4 1.1-5.3 1.6-5.4 2.1-5.4 2.6-5.4 3.2-5.3 3.6z"/><path class="k8" d="M317.5 907.8l5.3-4.5 5.4-4.1 3.8-1.3-5.4 4.2-5.4 4.5z"/><path class="k7" d="M306.7 918l5.4-5.3 5.4-4.9 3.7-1.2-5.4 5-5.3 5.3z"/><path class="k6" d="M301.4 923.5l5.3-5.5 3.8-1.1-5.4 5.6z"/><path class="k5" d="M296 929.1l5.4-5.6 3.7-1-5.4 5.7z"/><path class="k4" d="M290.6 934.7l5.4-5.6 3.7-.9-5.3 5.7z"/><path class="k3" d="M279.9 945.5l5.3-5.2 5.4-5.6 3.8-.8-5.4 5.6-5.4 5.3z"/><path class="k2" d="M274.5 950.4l5.4-4.9 3.7-.7-5.4 4.9z"/><path class="k1" d="M253 961.6l5.4-1.2 5.3-2.4 5.4-3.4 5.4-4.2 3.7-.7-5.3 4.3-5.4 3.5-5.4 2.5-5.4 1.2z"/><path class="k2" d="M247.6 961.3l5.4 .3 3.7-.4-5.3-.3z"/><path class="k3" d="M242.3 959.2l5.3 2.1 3.8-.4-5.4-2z"/><path class="k4" d="M236.9 955.1l5.4 4.1 3.7-.3-5.4-4z"/><path class="k6" d="M231.5 948.7l5.4 6.4 3.7-.2-5.3-6.3z"/><path class="k9" d="M226.1 939.7l5.4 9 3.8-.1-5.4-8.9z"/><path class="k12" d="M220.8 927.8l5.3 11.9 3.8 0-5.4-11.9z"/><path class="k113" d="M455.6 819l5.3-17.6 3.8-3.3-5.4 17.7z"/><path class="k110" d="M450.2 833.7l5.4-14.7 3.7-3.2-5.4 14.7z"/><path class="k59" d="M444.8 845.7l5.4-12 3.7-3.2-5.3 12.2z"/><path class="k9" d="M439.4 855.5l5.4-9.8 3.8-3-5.4 9.8z"/><path class="k7" d="M434.1 863.2l5.3-7.7 3.8-3-5.4 7.8z"/><path class="k6" d="M428.7 869.2l5.4-6 3.7-2.9-5.3 6.1z"/><path class="k5" d="M401.8 881.6l5.4-.9 5.4-1.4 5.3-2.3 5.4-3.2 5.4-4.6 3.8-2.8-5.4 4.6-5.4 3.3-5.4 2.3-5.3 1.5-5.4 .9z"/><path class="k6" d="M391.1 882.2l5.3-.2 5.4-.4 3.8-2.6-5.4 .5-5.4 .2z"/><path class="k7" d="M380.3 882.3l5.4-.1 5.4 0 3.7-2.5-5.3 .2-5.4 .1z"/><path class="k8" d="M369.6 882.9l5.4-.4 5.3-.2 3.8-2.3-5.4 .2-5.4 .5z"/><path class="k9" d="M358.8 884.8l5.4-1.1 5.4-.8 3.7-2.2-5.3 .9-5.4 1.2z"/><path class="k10" d="M337.3 894.3l5.4-3.2 5.4-2.6 5.4-2.1 5.3-1.6 3.8-2-5.4 1.7-5.4 2.1-5.3 2.7-5.4 3.2z"/><path class="k9" d="M321.2 906.6l5.4-4.5 5.4-4.2 5.3-3.6 3.8-1.8-5.4 3.7-5.3 4.2-5.4 4.7z"/><path class="k8" d="M315.8 911.6l5.4-5 3.8-1.5-5.4 5z"/><path class="k7" d="M310.5 916.9l5.3-5.3 3.8-1.5-5.4 5.4z"/><path class="k6" d="M299.7 928.2l5.4-5.7 5.4-5.6 3.7-1.4-5.3 5.6-5.4 5.8z"/><path class="k5" d="M294.4 933.9l5.3-5.7 3.8-1.3-5.4 5.7z"/><path class="k4" d="M289 939.5l5.4-5.6 3.7-1.3-5.4 5.7z"/><path class="k3" d="M283.6 944.8l5.4-5.3 3.7-1.2-5.3 5.4z"/><path class="k2" d="M267.5 957.5l5.4-3.5 5.3-4.3 5.4-4.9 3.8-1.1-5.4 5-5.4 4.3-5.4 3.6z"/><path class="k1" d="M262.1 960l5.4-2.5 3.7-.9-5.3 2.5z"/><path class="k2" d="M251.4 960.9l5.3 .3 5.4-1.2 3.8-.9-5.4 1.3-5.4-.2z"/><path class="k3" d="M246 958.9l5.4 2 3.7-.7-5.4-1.9z"/><path class="k4" d="M240.6 954.9l5.4 4 3.7-.6-5.3-3.9z"/><path class="k6" d="M235.3 948.6l5.3 6.3 3.8-.5-5.4-6.3z"/><path class="k9" d="M229.9 939.7l5.4 8.9 3.7-.5-5.4-8.9z"/><path class="k12" d="M224.5 927.8l5.4 11.9 3.7-.5-5.4-11.8z"/><path class="k114" d="M459.3 815.8l5.4-17.7 3.8-3.6-5.4 17.8z"/><path class="k63" d="M453.9 830.5l5.4-14.7 3.8-3.5-5.4 14.8z"/><path class="k12" d="M448.6 842.7l5.3-12.2 3.8-3.4-5.4 12.2z"/><path class="k10" d="M443.2 852.5l5.4-9.8 3.7-3.4-5.3 9.9z"/><path class="k8" d="M437.8 860.3l5.4-7.8 3.8-3.3-5.4 7.8z"/><path class="k7" d="M432.5 866.4l5.3-6.1 3.8-3.3-5.4 6.2z"/><path class="k6" d="M405.6 879l5.4-.9 5.3-1.5 5.4-2.3 5.4-3.3 5.4-4.6 3.7-3.2-5.4 4.6-5.3 3.4-5.4 2.4-5.4 1.6-5.4 1z"/><path class="k7" d="M394.8 879.7l5.4-.2 5.4-.5 3.7-2.8-5.3 .5-5.4 .3z"/><path class="k8" d="M384.1 880l5.4-.1 5.3-.2 3.8-2.7-5.4 .2-5.4 .2z"/><path class="k9" d="M373.3 880.7l5.4-.5 5.4-.2 3.7-2.6-5.3 .3-5.4 .6z"/><path class="k10" d="M357.2 884.5l5.4-1.7 5.4-1.2 5.3-.9 3.8-2.4-5.4 .9-5.3 1.2-5.4 1.8z"/><path class="k11" d="M341.1 892.5l5.4-3.2 5.3-2.7 5.4-2.1 3.8-2.3-5.4 2.2-5.4 2.8-5.3 3.2z"/><path class="k10" d="M330.4 900.4l5.3-4.2 5.4-3.7 3.8-2.1-5.4 3.8-5.4 4.3z"/><path class="k9" d="M319.6 910.1l5.4-5 5.4-4.7 3.7-1.9-5.4 4.7-5.3 5.1z"/><path class="k8" d="M314.2 915.5l5.4-5.4 3.8-1.8-5.4 5.4z"/><path class="k7" d="M308.9 921.1l5.3-5.6 3.8-1.8-5.4 5.7z"/><path class="k6" d="M303.5 926.9l5.4-5.8 3.7-1.7-5.4 5.8z"/><path class="k5" d="M292.7 938.3l5.4-5.7 5.4-5.7 3.7-1.7-5.3 5.9-5.4 5.7z"/><path class="k4" d="M287.4 943.7l5.3-5.4 3.8-1.5-5.4 5.5z"/><path class="k3" d="M276.6 953l5.4-4.3 5.4-5 3.7-1.4-5.4 5-5.3 4.4z"/><path class="k2" d="M260.5 960.4l5.4-1.3 5.3-2.5 5.4-3.6 3.8-1.3-5.4 3.6-5.4 2.7-5.4 1.3z"/><path class="k3" d="M255.1 960.2l5.4 .2 3.7-1.1-5.3-.1z"/><path class="k4" d="M249.7 958.3l5.4 1.9 3.8-1-5.4-1.9z"/><path class="k5" d="M244.4 954.4l5.3 3.9 3.8-1-5.4-3.9z"/><path class="k7" d="M239 948.1l5.4 6.3 3.7-1-5.4-6.2z"/><path class="k10" d="M233.6 939.2l5.4 8.9 3.7-.9-5.3-8.8z"/><path class="k13" d="M228.2 927.4l5.4 11.8 3.8-.8-5.4-11.7z"/><path class="k116" d="M463.1 812.3l5.4-17.8 3.7-3.9-5.3 17.9z"/><path class="k64" d="M457.7 827.1l5.4-14.8 3.8-3.8-5.4 14.8z"/><path class="k13" d="M452.3 839.3l5.4-12.2 3.8-3.8-5.4 12.3z"/><path class="k11" d="M447 849.2l5.3-9.9 3.8-3.7-5.4 10z"/><path class="k9" d="M441.6 857l5.4-7.8 3.7-3.6-5.3 7.9z"/><path class="k8" d="M436.2 863.2l5.4-6.2 3.8-3.5-5.4 6.2z"/><path class="k7" d="M409.3 876.2l5.4-1 5.4-1.6 5.4-2.4 5.3-3.4 5.4-4.6 3.8-3.5-5.4 4.7-5.4 3.5-5.3 2.4-5.4 1.7-5.4 1z"/><path class="k8" d="M398.6 877l5.4-.3 5.3-.5 3.8-3.2-5.4 .6-5.3 .4z"/><path class="k9" d="M387.8 877.4l5.4-.2 5.4-.2 3.8-3-5.4 .2-5.4 .3z"/><path class="k10" d="M377.1 878.3l5.4-.6 5.3-.3 3.8-2.9-5.4 .4-5.3 .6z"/><path class="k11" d="M361 882.2l5.4-1.8 5.3-1.2 5.4-.9 3.8-2.8-5.4 1-5.4 1.3-5.4 1.8z"/><path class="k12" d="M350.2 887.2l5.4-2.8 5.4-2.2 3.7-2.6-5.3 2.3-5.4 2.8z"/><path class="k11" d="M334.1 898.5l5.4-4.3 5.4-3.8 5.3-3.2 3.8-2.5-5.4 3.4-5.4 3.8-5.3 4.3z"/><path class="k10" d="M323.4 908.3l5.3-5.1 5.4-4.7 3.8-2.3-5.4 4.8-5.4 5.2z"/><path class="k9" d="M318 913.7l5.4-5.4 3.7-2.1-5.4 5.5z"/><path class="k8" d="M312.6 919.4l5.4-5.7 3.7-2-5.3 5.8z"/><path class="k7" d="M307.2 925.2l5.4-5.8 3.8-1.9-5.4 5.8z"/><path class="k6" d="M301.9 931.1l5.3-5.9 3.8-1.9-5.4 5.9z"/><path class="k5" d="M291.1 942.3l5.4-5.5 5.4-5.7 3.7-1.9-5.4 5.8-5.3 5.6z"/><path class="k4" d="M285.7 947.3l5.4-5 3.8-1.7-5.4 5.1z"/><path class="k3" d="M258.9 959.2l5.3 .1 5.4-1.3 5.4-2.7 5.4-3.6 5.3-4.4 3.8-1.6-5.4 4.4-5.4 3.7-5.3 2.7-5.4 1.4-5.4 0z"/><path class="k4" d="M253.5 957.3l5.4 1.9 3.7-1.3-5.4-1.8z"/><path class="k6" d="M248.1 953.4l5.4 3.9 3.7-1.2-5.3-3.8z"/><path class="k8" d="M242.7 947.2l5.4 6.2 3.8-1.1-5.4-6.2z"/><path class="k10" d="M237.4 938.4l5.3 8.8 3.8-1.1-5.4-8.7z"/><path class="k13" d="M232 926.7l5.4 11.7 3.7-1-5.4-11.7z"/><path class="k117" d="M466.9 808.5l5.3-17.9 3.8-4-5.4 17.8z"/><path class="k65" d="M461.5 823.3l5.4-14.8 3.7-4.1-5.3 15z"/><path class="k14" d="M456.1 835.6l5.4-12.3 3.8-3.9-5.4 12.3z"/><path class="k12" d="M450.7 845.6l5.4-10 3.8-3.9-5.4 10.1z"/><path class="k11" d="M445.4 853.5l5.3-7.9 3.8-3.8-5.4 8z"/><path class="k9" d="M434.6 864.4l5.4-4.7 5.4-6.2 3.7-3.7-5.4 6.2-5.3 4.8z"/><path class="k8" d="M413.1 873l5.4-1 5.4-1.7 5.3-2.4 5.4-3.5 3.8-3.6-5.4 3.5-5.4 2.5-5.4 1.8-5.3 1.1z"/><path class="k9" d="M402.4 874l5.3-.4 5.4-.6 3.8-3.3-5.4 .6-5.4 .5z"/><path class="k10" d="M391.6 874.5l5.4-.3 5.4-.2 3.7-3.2-5.4 .3-5.3 .3z"/><path class="k11" d="M380.9 875.5l5.3-.6 5.4-.4 3.8-3.1-5.4 .4-5.4 .7z"/><path class="k12" d="M364.7 879.6l5.4-1.8 5.4-1.3 5.4-1 3.7-3-5.4 1.1-5.3 1.4-5.4 1.9z"/><path class="k13" d="M354 884.7l5.4-2.8 5.3-2.3 3.8-2.7-5.4 2.3-5.4 2.9z"/><path class="k12" d="M337.9 896.2l5.3-4.3 5.4-3.8 5.4-3.4 3.7-2.6-5.3 3.4-5.4 3.9-5.4 4.4z"/><path class="k11" d="M332.5 901l5.4-4.8 3.7-2.4-5.4 4.8z"/><path class="k10" d="M321.7 911.7l5.4-5.5 5.4-5.2 3.7-2.4-5.3 5.3-5.4 5.6z"/><path class="k9" d="M316.4 917.5l5.3-5.8 3.8-2.2-5.4 5.8z"/><path class="k8" d="M311 923.3l5.4-5.8 3.7-2.2-5.4 5.9z"/><path class="k7" d="M305.6 929.2l5.4-5.9 3.7-2.1-5.3 6z"/><path class="k6" d="M300.2 935l5.4-5.8 3.8-2-5.4 5.8z"/><path class="k5" d="M289.5 945.7l5.4-5.1 5.3-5.6 3.8-2-5.4 5.6-5.4 5.2z"/><path class="k4" d="M278.7 953.8l5.4-3.7 5.4-4.4 3.7-1.9-5.3 4.6-5.4 3.7z"/><path class="k3" d="M268 957.9l5.4-1.4 5.3-2.7 3.8-1.7-5.4 2.7-5.4 1.5z"/><path class="k4" d="M262.6 957.9l5.4 0 3.7-1.6-5.3 0z"/><path class="k5" d="M257.2 956.1l5.4 1.8 3.8-1.6-5.4-1.7z"/><path class="k6" d="M251.9 952.3l5.3 3.8 3.8-1.5-5.4-3.7z"/><path class="k8" d="M246.5 946.1l5.4 6.2 3.7-1.4-5.4-6.1z"/><path class="k11" d="M241.1 937.4l5.4 8.7 3.7-1.3-5.3-8.7z"/><path class="k14" d="M235.7 925.7l5.4 11.7 3.8-1.3-5.4-11.6z"/><path class="k70" d="M470.6 804.4l5.4-17.8 3.8-4.3-5.4 18z"/><path class="k67" d="M465.3 819.4l5.3-15 3.8-4.1-5.4 15z"/><path class="k16" d="M459.9 831.7l5.4-12.3 3.7-4.1-5.4 12.4z"/><path class="k14" d="M454.5 841.8l5.4-10.1 3.7-4-5.3 10.1z"/><path class="k12" d="M449.1 849.8l5.4-8 3.8-4-5.4 8.1z"/><path class="k11" d="M443.7 856l5.4-6.2 3.8-3.9-5.4 6.3z"/><path class="k10" d="M438.4 860.8l5.3-4.8 3.8-3.8-5.4 4.8z"/><path class="k9" d="M422.2 868.6l5.4-1.8 5.4-2.5 5.4-3.5 3.7-3.8-5.3 3.6-5.4 2.6-5.4 1.8z"/><path class="k10" d="M406.1 870.8l5.4-.5 5.4-.6 5.3-1.1 3.8-3.6-5.4 1.2-5.3 .7-5.4 .5z"/><path class="k11" d="M400.7 871.1l5.4-.3 3.8-3.4-5.4 .3z"/><path class="k12" d="M390 871.8l5.4-.4 5.3-.3 3.8-3.4-5.4 .4-5.3 .6z"/><path class="k13" d="M373.9 875l5.3-1.4 5.4-1.1 5.4-.7 3.8-3.1-5.4 .7-5.4 1.1-5.4 1.5z"/><path class="k14" d="M357.7 882.1l5.4-2.9 5.4-2.3 5.4-1.9 3.7-3-5.4 1.9-5.3 2.5-5.4 2.9z"/><path class="k13" d="M341.6 893.8l5.4-4.4 5.4-3.9 5.3-3.4 3.8-2.8-5.4 3.5-5.4 3.9-5.3 4.5z"/><path class="k12" d="M336.2 898.6l5.4-4.8 3.8-2.6-5.4 4.9z"/><path class="k11" d="M325.5 909.5l5.4-5.6 5.3-5.3 3.8-2.5-5.4 5.3-5.4 5.7z"/><path class="k10" d="M320.1 915.3l5.4-5.8 3.7-2.4-5.3 5.8z"/><path class="k9" d="M314.7 921.2l5.4-5.9 3.8-2.4-5.4 6.1z"/><path class="k8" d="M309.4 927.2l5.3-6 3.8-2.2-5.4 6z"/><path class="k7" d="M304 933l5.4-5.8 3.7-2.2-5.4 5.9z"/><path class="k6" d="M298.6 938.6l5.4-5.6 3.7-2.1-5.3 5.7z"/><path class="k5" d="M287.9 948.4l5.3-4.6 5.4-5.2 3.8-2-5.4 5.2-5.4 4.6z"/><path class="k4" d="M271.7 956.3l5.4-1.5 5.4-2.7 5.4-3.7 3.7-2-5.4 3.8-5.3 2.8-5.4 1.6z"/><path class="k5" d="M266.4 956.3l5.3 0 3.8-1.7-5.4 .1z"/><path class="k6" d="M261 954.6l5.4 1.7 3.7-1.6-5.4-1.7z"/><path class="k7" d="M255.6 950.9l5.4 3.7 3.7-1.6-5.4-3.7z"/><path class="k9" d="M250.2 944.8l5.4 6.1 3.7-1.6-5.3-6z"/><path class="k11" d="M244.9 936.1l5.3 8.7 3.8-1.5-5.4-8.6z"/><path class="k15" d="M239.5 924.5l5.4 11.6 3.7-1.4-5.4-11.6z"/><path class="k72" d="M474.4 800.3l5.4-18 3.7-4.3-5.3 18z"/><path class="k68" d="M469 815.3l5.4-15 3.8-4.3-5.4 15.1z"/><path class="k17" d="M463.6 827.7l5.4-12.4 3.8-4.2-5.4 12.5z"/><path class="k15" d="M458.3 837.8l5.3-10.1 3.8-4.1-5.4 10.1z"/><path class="k13" d="M452.9 845.9l5.4-8.1 3.7-4.1-5.3 8.2z"/><path class="k12" d="M447.5 852.2l5.4-6.3 3.8-4-5.4 6.4z"/><path class="k11" d="M436.8 860.6l5.3-3.6 5.4-4.8 3.8-3.9-5.4 4.9-5.4 3.6z"/><path class="k10" d="M431.4 863.2l5.4-2.6 3.7-3.8-5.3 2.7z"/><path class="k11" d="M415.3 866.9l5.3-.7 5.4-1.2 5.4-1.8 3.8-3.7-5.4 1.8-5.4 1.3-5.4 .8z"/><path class="k12" d="M404.5 867.7l5.4-.3 5.4-.5 3.7-3.5-5.4 .5-5.3 .4z"/><path class="k13" d="M393.8 868.7l5.3-.6 5.4-.4 3.8-3.4-5.4 .5-5.4 .6z"/><path class="k14" d="M377.6 872l5.4-1.5 5.4-1.1 5.4-.7 3.7-3.3-5.4 .8-5.3 1.2-5.4 1.5z"/><path class="k15" d="M361.5 879.3l5.4-2.9 5.3-2.5 5.4-1.9 3.8-3.1-5.4 2-5.4 2.5-5.3 3z"/><path class="k14" d="M345.4 891.2l5.3-4.5 5.4-3.9 5.4-3.5 3.8-2.9-5.4 3.5-5.4 4.1-5.4 4.5z"/><path class="k13" d="M340 896.1l5.4-4.9 3.7-2.7-5.4 5z"/><path class="k12" d="M329.2 907.1l5.4-5.7 5.4-5.3 3.7-2.6-5.3 5.4-5.4 5.7z"/><path class="k11" d="M323.9 912.9l5.3-5.8 3.8-2.5-5.4 5.9z"/><path class="k10" d="M318.5 919l5.4-6.1 3.7-2.4-5.4 6.1z"/><path class="k9" d="M313.1 925l5.4-6 3.7-2.4-5.3 6.1z"/><path class="k8" d="M307.7 930.9l5.4-5.9 3.8-2.3-5.4 6z"/><path class="k7" d="M302.4 936.6l5.3-5.7 3.8-2.2-5.4 5.7z"/><path class="k6" d="M291.6 946.4l5.4-4.6 5.4-5.2 3.7-2.2-5.4 5.3-5.3 4.7z"/><path class="k5" d="M270.1 954.7l5.4-.1 5.4-1.6 5.3-2.8 5.4-3.8 3.8-2-5.4 3.9-5.4 2.8-5.4 1.7-5.4 .1z"/><path class="k6" d="M264.7 953l5.4 1.7 3.7-1.8-5.3-1.6z"/><path class="k8" d="M259.3 949.3l5.4 3.7 3.8-1.7-5.4-3.6z"/><path class="k10" d="M254 943.3l5.3 6 3.8-1.6-5.4-6z"/><path class="k12" d="M248.6 934.7l5.4 8.6 3.7-1.6-5.4-8.5z"/><path class="k15" d="M243.2 923.1l5.4 11.6 3.7-1.5-5.3-11.5z"/><path class="k73" d="M478.2 796l5.3-18 3.8-4.3-5.4 18.1z"/><path class="k70" d="M472.8 811.1l5.4-15.1 3.7-4.2-5.3 15.1z"/><path class="k19" d="M467.4 823.6l5.4-12.5 3.8-4.2-5.4 12.5z"/><path class="k16" d="M462 833.7l5.4-10.1 3.8-4.2-5.4 10.3z"/><path class="k15" d="M456.7 841.9l5.3-8.2 3.8-4-5.4 8.2z"/><path class="k13" d="M451.3 848.3l5.4-6.4 3.7-4-5.4 6.4z"/><path class="k12" d="M419 863.4l5.4-.8 5.4-1.3 5.4-1.8 5.3-2.7 5.4-3.6 5.4-4.9 3.7-4-5.3 5-5.4 3.7-5.4 2.7-5.4 1.9-5.3 1.3-5.4 .9z"/><path class="k13" d="M408.3 864.3l5.3-.4 5.4-.5 3.8-3.6-5.4 .6-5.4 .5z"/><path class="k14" d="M397.5 865.4l5.4-.6 5.4-.5 3.7-3.4-5.3 .6-5.4 .6z"/><path class="k15" d="M386.8 867.4l5.3-1.2 5.4-.8 3.8-3.3-5.4 .9-5.4 1.2z"/><path class="k16" d="M359.9 879.9l5.4-3.5 5.3-3 5.4-2.5 5.4-2 5.4-1.5 3.7-3.2-5.4 1.6-5.3 2.1-5.4 2.6-5.4 3-5.4 3.6z"/><path class="k15" d="M349.1 888.5l5.4-4.5 5.4-4.1 3.7-2.8-5.3 4.1-5.4 4.6z"/><path class="k14" d="M343.7 893.5l5.4-5 3.8-2.7-5.4 5.1z"/><path class="k13" d="M333 904.6l5.4-5.7 5.3-5.4 3.8-2.6-5.4 5.4-5.4 5.8z"/><path class="k12" d="M327.6 910.5l5.4-5.9 3.7-2.5-5.3 6z"/><path class="k11" d="M322.2 916.6l5.4-6.1 3.8-2.4-5.4 6.1z"/><path class="k10" d="M316.9 922.7l5.3-6.1 3.8-2.4-5.4 6.2z"/><path class="k9" d="M311.5 928.7l5.4-6 3.7-2.3-5.4 6z"/><path class="k8" d="M306.1 934.4l5.4-5.7 3.7-2.3-5.3 5.8z"/><path class="k7" d="M295.4 944.4l5.3-4.7 5.4-5.3 3.8-2.2-5.4 5.4-5.4 4.7z"/><path class="k6" d="M273.8 952.9l5.4-.1 5.4-1.7 5.4-2.8 5.4-3.9 3.7-2.1-5.4 4-5.4 2.9-5.3 1.7-5.4 .2z"/><path class="k7" d="M268.5 951.3l5.3 1.6 3.8-1.8-5.4-1.5z"/><path class="k8" d="M263.1 947.7l5.4 3.6 3.7-1.7-5.4-3.6z"/><path class="k10" d="M257.7 941.7l5.4 6 3.7-1.7-5.3-5.9z"/><path class="k13" d="M252.3 933.2l5.4 8.5 3.8-1.6-5.4-8.4z"/><path class="k16" d="M247 921.7l5.3 11.5 3.8-1.5-5.4-11.5z"/><path class="k75" d="M481.9 791.8l5.4-18.1 3.8-4.3-5.4 18.2z"/><path class="k71" d="M476.6 806.9l5.3-15.1 3.8-4.2-5.4 15.2z"/><path class="k20" d="M471.2 819.4l5.4-12.5 3.7-4.1-5.4 12.6z"/><path class="k18" d="M465.8 829.7l5.4-10.3 3.7-4-5.3 10.3z"/><path class="k16" d="M460.4 837.9l5.4-8.2 3.8-4-5.4 8.2z"/><path class="k15" d="M455 844.3l5.4-6.4 3.8-4-5.4 6.5z"/><path class="k14" d="M449.7 849.3l5.3-5 3.8-3.9-5.4 5.1z"/><path class="k13" d="M428.2 858.9l5.3-1.3 5.4-1.9 5.4-2.7 5.4-3.7 3.7-3.8-5.3 3.8-5.4 2.7-5.4 2-5.4 1.4z"/><path class="k14" d="M417.4 860.4l5.4-.6 5.4-.9 3.7-3.5-5.4 .9-5.3 .7z"/><path class="k15" d="M406.7 861.5l5.3-.6 5.4-.5 3.8-3.4-5.4 .6-5.4 .6z"/><path class="k16" d="M390.5 864.2l5.4-1.2 5.4-.9 5.4-.6 3.7-3.3-5.4 .7-5.3 .9-5.4 1.3z"/><path class="k17" d="M363.6 877.1l5.4-3.6 5.4-3 5.4-2.6 5.3-2.1 5.4-1.6 3.8-3.1-5.4 1.7-5.4 2.1-5.4 2.7-5.3 3.1-5.4 3.7z"/><path class="k16" d="M352.9 885.8l5.4-4.6 5.3-4.1 3.8-2.7-5.4 4.1-5.4 4.7z"/><path class="k15" d="M347.5 890.9l5.4-5.1 3.7-2.6-5.3 5.1z"/><path class="k14" d="M336.7 902.1l5.4-5.8 5.4-5.4 3.8-2.6-5.4 5.5-5.4 5.8z"/><path class="k13" d="M331.4 908.1l5.3-6 3.8-2.5-5.4 6.1z"/><path class="k12" d="M326 914.2l5.4-6.1 3.7-2.4-5.4 6.2z"/><path class="k11" d="M320.6 920.4l5.4-6.2 3.7-2.3-5.3 6.2z"/><path class="k10" d="M315.2 926.4l5.4-6 3.8-2.3-5.4 6.2z"/><path class="k9" d="M309.9 932.2l5.3-5.8 3.8-2.1-5.4 5.8z"/><path class="k8" d="M304.5 937.6l5.4-5.4 3.7-2.1-5.4 5.4z"/><path class="k7" d="M277.6 951.1l5.4-.2 5.3-1.7 5.4-2.9 5.4-4 5.4-4.7 3.7-2.1-5.3 4.9-5.4 4-5.4 3-5.4 1.7-5.4 .3z"/><path class="k8" d="M272.2 949.6l5.4 1.5 3.7-1.7-5.3-1.5z"/><path class="k9" d="M266.8 946l5.4 3.6 3.8-1.7-5.4-3.5z"/><path class="k11" d="M261.5 940.1l5.3 5.9 3.8-1.6-5.4-5.8z"/><path class="k14" d="M256.1 931.7l5.4 8.4 3.7-1.5-5.4-8.4z"/><path class="k17" d="M250.7 920.2l5.4 11.5 3.7-1.5-5.4-11.4z"/><path class="k124" d="M485.7 787.6l5.4-18.2 3.8-4.1-5.4 18.2z"/><path class="k72" d="M480.3 802.8l5.4-15.2 3.8-4.1-5.4 15.3z"/><path class="k21" d="M474.9 815.4l5.4-12.6 3.8-4-5.4 12.6z"/><path class="k19" d="M469.6 825.7l5.3-10.3 3.8-4-5.4 10.4z"/><path class="k17" d="M464.2 833.9l5.4-8.2 3.7-3.9-5.3 8.3z"/><path class="k16" d="M458.8 840.4l5.4-6.5 3.8-3.8-5.4 6.6z"/><path class="k15" d="M448.1 849.3l5.3-3.8 5.4-5.1 3.8-3.7-5.4 5.1-5.4 3.8z"/><path class="k14" d="M437.3 854l5.4-2 5.4-2.7 3.7-3.7-5.4 2.9-5.3 2z"/><path class="k15" d="M421.2 857l5.3-.7 5.4-.9 5.4-1.4 3.8-3.5-5.4 1.5-5.4 1-5.4 .7z"/><path class="k16" d="M410.4 858.2l5.4-.6 5.4-.6 3.7-3.3-5.3 .6-5.4 .7z"/><path class="k17" d="M399.7 859.8l5.3-.9 5.4-.7 3.8-3.2-5.4 .8-5.4 1z"/><path class="k18" d="M367.4 874.4l5.4-3.7 5.3-3.1 5.4-2.7 5.4-2.1 5.4-1.7 5.4-1.3 3.7-3-5.4 1.4-5.3 1.7-5.4 2.2-5.4 2.7-5.4 3.2-5.4 3.7z"/><path class="k17" d="M356.6 883.2l5.4-4.7 5.4-4.1 3.7-2.7-5.3 4.2-5.4 4.8z"/><path class="k16" d="M351.3 888.3l5.3-5.1 3.8-2.5-5.4 5.1z"/><path class="k15" d="M345.9 893.8l5.4-5.5 3.7-2.5-5.4 5.6z"/><path class="k14" d="M335.1 905.7l5.4-6.1 5.4-5.8 3.7-2.4-5.4 5.9-5.3 6.2z"/><path class="k13" d="M329.7 911.9l5.4-6.2 3.8-2.2-5.4 6.2z"/><path class="k12" d="M324.4 918.1l5.3-6.2 3.8-2.2-5.4 6.3z"/><path class="k11" d="M319 924.3l5.4-6.2 3.7-2.1-5.4 6.2z"/><path class="k10" d="M313.6 930.1l5.4-5.8 3.7-2.1-5.3 5.9z"/><path class="k9" d="M308.2 935.5l5.4-5.4 3.8-2-5.4 5.5z"/><path class="k8" d="M297.5 944.4l5.4-4 5.3-4.9 3.8-1.9-5.4 4.9-5.4 4.1z"/><path class="k7" d="M286.7 949.1l5.4-1.7 5.4-3 3.7-1.8-5.4 3-5.3 1.9z"/><path class="k8" d="M281.3 949.4l5.4-.3 3.8-1.6-5.4 .3z"/><path class="k9" d="M276 947.9l5.3 1.5 3.8-1.6-5.4-1.4z"/><path class="k10" d="M270.6 944.4l5.4 3.5 3.7-1.5-5.4-3.4z"/><path class="k12" d="M265.2 938.6l5.4 5.8 3.7-1.4-5.4-5.8z"/><path class="k14" d="M259.8 930.2l5.4 8.4 3.7-1.4-5.3-8.3z"/><path class="k17" d="M254.4 918.8l5.4 11.4 3.8-1.3-5.4-11.3z"/><path class="k125" d="M489.5 783.5l5.4-18.2 3.7-4-5.4 18.3z"/><path class="k74" d="M484.1 798.8l5.4-15.3 3.7-3.9-5.3 15.3z"/><path class="k23" d="M478.7 811.4l5.4-12.6 3.8-3.9-5.4 12.8z"/><path class="k20" d="M473.3 821.8l5.4-10.4 3.8-3.7-5.4 10.4z"/><path class="k19" d="M468 830.1l5.3-8.3 3.8-3.7-5.4 8.4z"/><path class="k17" d="M462.6 836.7l5.4-6.6 3.7-3.6-5.4 6.6z"/><path class="k16" d="M424.9 853.7l5.4-.7 5.4-1 5.4-1.5 5.3-2 5.4-2.9 5.4-3.8 5.4-5.1 3.7-3.6-5.3 5.2-5.4 3.9-5.4 2.9-5.4 2.1-5.4 1.5-5.3 1.1-5.4 .8z"/><path class="k17" d="M414.2 855l5.4-.7 5.3-.6 3.8-3.1-5.4 .7-5.4 .7z"/><path class="k18" d="M403.4 856.8l5.4-1 5.4-.8 3.7-3-5.3 .9-5.4 1.1z"/><path class="k19" d="M371.1 871.7l5.4-3.7 5.4-3.2 5.4-2.7 5.4-2.2 5.3-1.7 5.4-1.4 3.8-2.8-5.4 1.4-5.4 1.8-5.4 2.3-5.3 2.7-5.4 3.3-5.4 3.8z"/><path class="k18" d="M360.4 880.7l5.4-4.8 5.3-4.2 3.8-2.4-5.4 4.3-5.4 4.8z"/><path class="k17" d="M355 885.8l5.4-5.1 3.7-2.3-5.3 5.2z"/><path class="k16" d="M349.6 891.4l5.4-5.6 3.8-2.2-5.4 5.6z"/><path class="k15" d="M344.2 897.3l5.4-5.9 3.8-2.2-5.4 6z"/><path class="k14" d="M338.9 903.5l5.3-6.2 3.8-2.1-5.4 6.2z"/><path class="k13" d="M333.5 909.7l5.4-6.2 3.7-2.1-5.4 6.3z"/><path class="k12" d="M328.1 916l5.4-6.3 3.7-2-5.3 6.4z"/><path class="k11" d="M317.4 928.1l5.3-5.9 5.4-6.2 3.8-1.9-5.4 6.2-5.4 6z"/><path class="k10" d="M312 933.6l5.4-5.5 3.7-1.8-5.4 5.6z"/><path class="k9" d="M306.6 938.5l5.4-4.9 3.7-1.7-5.4 4.9z"/><path class="k8" d="M290.5 947.5l5.3-1.9 5.4-3 5.4-4.1 3.7-1.7-5.3 4.2-5.4 3.1-5.4 1.9z"/><path class="k9" d="M279.7 946.4l5.4 1.4 5.4-.3 3.7-1.5-5.4 .4-5.3-1.4z"/><path class="k11" d="M274.3 943l5.4 3.4 3.8-1.4-5.4-3.3z"/><path class="k12" d="M268.9 937.2l5.4 5.8 3.8-1.3-5.4-5.7z"/><path class="k15" d="M263.6 928.9l5.3 8.3 3.8-1.2-5.4-8.3z"/><path class="k18" d="M258.2 917.6l5.4 11.3 3.7-1.2-5.4-11.2z"/><path class="k127" d="M493.2 779.6l5.4-18.3 3.8-3.7-5.4 18.4z"/><path class="k75" d="M487.9 794.9l5.3-15.3 3.8-3.6-5.4 15.4z"/><path class="k72" d="M482.5 807.7l5.4-12.8 3.7-3.5-5.3 12.8z"/><path class="k22" d="M477.1 818.1l5.4-10.4 3.8-3.5-5.4 10.5z"/><path class="k20" d="M471.7 826.5l5.4-8.4 3.8-3.4-5.4 8.4z"/><path class="k18" d="M461 838.3l5.3-5.2 5.4-6.6 3.8-3.4-5.4 6.7-5.4 5.3z"/><path class="k17" d="M434.1 849.8l5.3-1.1 5.4-1.5 5.4-2.1 5.4-2.9 5.4-3.9 3.7-3.2-5.3 4-5.4 2.9-5.4 2.2-5.4 1.6-5.4 1.1z"/><path class="k18" d="M417.9 852l5.4-.7 5.4-.7 5.4-.8 3.7-2.9-5.3 .9-5.4 .7-5.4 .8z"/><path class="k19" d="M407.2 854l5.4-1.1 5.3-.9 3.8-2.7-5.4 .9-5.4 1.2z"/><path class="k20" d="M374.9 869.3l5.4-3.8 5.4-3.3 5.3-2.7 5.4-2.3 5.4-1.8 5.4-1.4 3.7-2.6-5.3 1.5-5.4 1.8-5.4 2.4-5.4 2.8-5.4 3.3-5.3 3.9z"/><path class="k19" d="M364.1 878.4l5.4-4.8 5.4-4.3 3.8-2.2-5.4 4.3-5.4 4.9z"/><path class="k18" d="M358.8 883.6l5.3-5.2 3.8-2.1-5.4 5.3z"/><path class="k17" d="M353.4 889.2l5.4-5.6 3.7-2-5.4 5.7z"/><path class="k16" d="M348 895.2l5.4-6 3.7-1.9-5.3 6z"/><path class="k15" d="M342.6 901.4l5.4-6.2 3.8-1.9-5.4 6.3z"/><path class="k14" d="M337.2 907.7l5.4-6.3 3.8-1.8-5.4 6.4z"/><path class="k13" d="M331.9 914.1l5.3-6.4 3.8-1.7-5.4 6.4z"/><path class="k12" d="M326.5 920.3l5.4-6.2 3.7-1.7-5.4 6.3z"/><path class="k11" d="M321.1 926.3l5.4-6 3.7-1.6-5.3 6.1z"/><path class="k10" d="M310.3 936.8l5.4-4.9 5.4-5.6 3.8-1.5-5.4 5.6-5.4 5z"/><path class="k9" d="M288.8 946.4l5.4-.4 5.4-1.9 5.4-3.1 5.3-4.2 3.8-1.4-5.4 4.2-5.4 3.2-5.3 2-5.4 .5z"/><path class="k10" d="M283.5 945l5.3 1.4 3.8-1.1-5.4-1.3z"/><path class="k11" d="M278.1 941.7l5.4 3.3 3.7-1-5.4-3.3z"/><path class="k13" d="M272.7 936l5.4 5.7 3.7-1-5.4-5.6z"/><path class="k15" d="M267.3 927.7l5.4 8.3 3.7-.9-5.3-8.3z"/><path class="k19" d="M261.9 916.5l5.4 11.2 3.8-.9-5.4-11.1z"/><path class="k128" d="M497 776l5.4-18.4 3.8-3.3-5.4 18.4z"/><path class="k124" d="M491.6 791.4l5.4-15.4 3.8-3.3-5.4 15.4z"/><path class="k73" d="M486.3 804.2l5.3-12.8 3.8-3.3-5.4 12.9z"/><path class="k23" d="M480.9 814.7l5.4-10.5 3.7-3.2-5.4 10.6z"/><path class="k21" d="M475.5 823.1l5.4-8.4 3.7-3.1-5.3 8.5z"/><path class="k20" d="M470.1 829.8l5.4-6.7 3.8-3-5.4 6.8z"/><path class="k19" d="M464.7 835.1l5.4-5.3 3.8-2.9-5.4 5.3z"/><path class="k18" d="M437.8 846.9l5.4-1.1 5.4-1.6 5.4-2.2 5.4-2.9 5.3-4 3.8-2.9-5.4 4-5.4 3.1-5.3 2.2-5.4 1.6-5.4 1.2z"/><path class="k19" d="M421.7 849.3l5.4-.8 5.4-.7 5.3-.9 3.8-2.6-5.4 1-5.4 .8-5.3 .8z"/><path class="k20" d="M410.9 851.4l5.4-1.2 5.4-.9 3.8-2.4-5.4 1-5.4 1.2z"/><path class="k21" d="M384 863.2l5.4-3.3 5.4-2.8 5.4-2.4 5.4-1.8 5.3-1.5 3.8-2.3-5.4 1.6-5.4 1.9-5.3 2.4-5.4 2.9-5.4 3.4z"/><path class="k20" d="M373.3 871.4l5.4-4.3 5.3-3.9 3.8-1.9-5.4 3.9-5.4 4.5z"/><path class="k19" d="M362.5 881.6l5.4-5.3 5.4-4.9 3.7-1.7-5.4 4.9-5.3 5.3z"/><path class="k18" d="M357.1 887.3l5.4-5.7 3.8-1.7-5.4 5.8z"/><path class="k17" d="M351.8 893.3l5.3-6 3.8-1.6-5.4 6.1z"/><path class="k16" d="M346.4 899.6l5.4-6.3 3.7-1.5-5.4 6.3z"/><path class="k15" d="M341 906l5.4-6.4 3.7-1.5-5.4 6.5z"/><path class="k14" d="M335.6 912.4l5.4-6.4 3.7-1.4-5.3 6.5z"/><path class="k13" d="M330.2 918.7l5.4-6.3 3.8-1.3-5.4 6.4z"/><path class="k12" d="M324.9 924.8l5.3-6.1 3.8-1.2-5.4 6.1z"/><path class="k11" d="M319.5 930.4l5.4-5.6 3.7-1.2-5.4 5.7z"/><path class="k10" d="M308.7 939.6l5.4-4.2 5.4-5 3.7-1.1-5.4 5.1-5.3 4.2z"/><path class="k9" d="M298 944.8l5.3-2 5.4-3.2 3.8-1-5.4 3.3-5.4 2z"/><path class="k10" d="M287.2 944l5.4 1.3 5.4-.5 3.7-.9-5.4 .5-5.4-1.2z"/><path class="k12" d="M281.8 940.7l5.4 3.3 3.7-.8-5.3-3.2z"/><path class="k14" d="M276.4 935.1l5.4 5.6 3.8-.7-5.4-5.5z"/><path class="k16" d="M271.1 926.8l5.3 8.3 3.8-.6-5.4-8.2z"/><path class="k19" d="M265.7 915.7l5.4 11.1 3.7-.5-5.4-11.1z"/><path class="k129" d="M500.8 772.7l5.4-18.4 3.7-3-5.4 18.5z"/><path class="k125" d="M495.4 788.1l5.4-15.4 3.7-2.9-5.3 15.5z"/><path class="k74" d="M490 801l5.4-12.9 3.8-2.8-5.4 12.9z"/><path class="k24" d="M484.6 811.6l5.4-10.6 3.8-2.8-5.4 10.6z"/><path class="k22" d="M479.3 820.1l5.3-8.5 3.8-2.8-5.4 8.6z"/><path class="k21" d="M473.9 826.9l5.4-6.8 3.7-2.7-5.4 6.9z"/><path class="k20" d="M468.5 832.2l5.4-5.3 3.7-2.6-5.3 5.3z"/><path class="k19" d="M441.6 844.3l5.4-1.2 5.4-1.6 5.3-2.2 5.4-3.1 5.4-4 3.8-2.6-5.4 4.2-5.4 3.1-5.4 2.3-5.4 1.7-5.3 1.2z"/><path class="k20" d="M425.5 846.9l5.3-.8 5.4-.8 5.4-1 3.8-2.2-5.4 1-5.4 .9-5.4 .9z"/><path class="k21" d="M409.3 850.7l5.4-1.6 5.4-1.2 5.4-1 3.7-2-5.4 1.1-5.3 1.3-5.4 1.6z"/><path class="k22" d="M393.2 857.9l5.4-2.9 5.3-2.4 5.4-1.9 3.8-1.8-5.4 2-5.4 2.4-5.4 3z"/><path class="k21" d="M377 869.7l5.4-4.5 5.4-3.9 5.4-3.4 3.7-1.6-5.4 3.5-5.3 3.9-5.4 4.5z"/><path class="k20" d="M371.6 874.6l5.4-4.9 3.8-1.5-5.4 5z"/><path class="k19" d="M360.9 885.7l5.4-5.8 5.3-5.3 3.8-1.4-5.4 5.5-5.4 5.8z"/><path class="k18" d="M355.5 891.8l5.4-6.1 3.7-1.2-5.3 6.2z"/><path class="k17" d="M350.1 898.1l5.4-6.3 3.8-1.1-5.4 6.4z"/><path class="k16" d="M344.7 904.6l5.4-6.5 3.8-1-5.4 6.5z"/><path class="k63" d="M339.4 911.1l5.3-6.5 3.8-1-5.4 6.5z"/><path class="k62" d="M334 917.5l5.4-6.4 3.7-1-5.4 6.5z"/><path class="k61" d="M328.6 923.6l5.4-6.1 3.7-.9-5.3 6.2z"/><path class="k12" d="M323.2 929.3l5.4-5.7 3.8-.8-5.4 5.7z"/><path class="k11" d="M317.8 934.4l5.4-5.1 3.8-.8-5.4 5.2z"/><path class="k10" d="M296.3 944.4l5.4-.5 5.4-2 5.4-3.3 5.3-4.2 3.8-.7-5.4 4.3-5.4 3.3-5.4 2.1-5.3 .6z"/><path class="k11" d="M290.9 943.2l5.4 1.2 3.8-.4-5.4-1.1z"/><path class="k12" d="M285.6 940l5.3 3.2 3.8-.3-5.4-3.2z"/><path class="k14" d="M280.2 934.5l5.4 5.5 3.7-.3-5.4-5.5z"/><path class="k16" d="M274.8 926.3l5.4 8.2 3.7-.3-5.4-8.1z"/><path class="k20" d="M269.4 915.2l5.4 11.1 3.7-.2-5.3-11z"/><path class="k130" d="M504.5 769.8l5.4-18.5 3.8-2.6-5.4 18.6z"/><path class="k126" d="M499.2 785.3l5.3-15.5 3.8-2.5-5.4 15.6z"/><path class="k123" d="M493.8 798.2l5.4-12.9 3.7-2.4-5.3 13z"/><path class="k73" d="M488.4 808.8l5.4-10.6 3.8-2.3-5.4 10.6z"/><path class="k23" d="M483 817.4l5.4-8.6 3.8-2.3-5.4 8.7z"/><path class="k22" d="M477.6 824.3l5.4-6.9 3.8-2.2-5.4 6.9z"/><path class="k21" d="M472.3 829.6l5.3-5.3 3.8-2.2-5.4 5.4z"/><path class="k20" d="M440 843.1l5.4-1 5.3-1.2 5.4-1.7 5.4-2.3 5.4-3.1 5.4-4.2 3.7-2.1-5.4 4.2-5.3 3.2-5.4 2.4-5.4 1.7-5.4 1.4-5.4 1z"/><path class="k21" d="M429.2 844.9l5.4-.9 5.4-.9 3.7-1.7-5.3 1-5.4 1z"/><path class="k22" d="M386.2 863.7l5.3-3.9 5.4-3.5 5.4-3 5.4-2.4 5.4-2 5.4-1.6 5.3-1.3 5.4-1.1 3.8-1.5-5.4 1.1-5.4 1.3-5.4 1.7-5.4 2.1-5.3 2.5-5.4 3-5.4 3.5-5.4 4.1z"/><path class="k21" d="M375.4 873.2l5.4-5 5.4-4.5 3.7-1-5.4 4.6-5.3 5z"/><path class="k20" d="M370 878.7l5.4-5.5 3.8-.9-5.4 5.5z"/><path class="k19" d="M364.6 884.5l5.4-5.8 3.8-.9-5.4 5.9z"/><path class="k66" d="M359.3 890.7l5.3-6.2 3.8-.8-5.4 6.2z"/><path class="k65" d="M353.9 897.1l5.4-6.4 3.7-.8-5.4 6.5z"/><path class="k64" d="M348.5 903.6l5.4-6.5 3.7-.7-5.4 6.6z"/><path class="k63" d="M343.1 910.1l5.4-6.5 3.7-.6-5.3 6.6z"/><path class="k62" d="M337.7 916.6l5.4-6.5 3.8-.5-5.4 6.5z"/><path class="k61" d="M332.4 922.8l5.3-6.2 3.8-.5-5.4 6.3z"/><path class="k60" d="M327 928.5l5.4-5.7 3.7-.4-5.4 5.8z"/><path class="k59" d="M321.6 933.7l5.4-5.2 3.7-.3-5.4 5.2z"/><path class="k11" d="M316.2 938l5.4-4.3 3.7-.3-5.3 4.4z"/><path class="k10" d="M305.4 943.4l5.4-2.1 5.4-3.3 3.8-.2-5.4 3.4-5.4 2.1z"/><path class="k11" d="M294.7 942.9l5.4 1.1 5.3-.6 3.8-.1-5.4 .7-5.4-1.1z"/><path class="k13" d="M289.3 939.7l5.4 3.2 3.7 0-5.4-3.1z"/><path class="k14" d="M283.9 934.2l5.4 5.5 3.7 .1-5.3-5.4z"/><path class="k17" d="M278.5 926.1l5.4 8.1 3.8 .2-5.4-8z"/><path class="k20" d="M273.2 915.1l5.3 11 3.8 .3-5.4-11z"/><path class="k179" d="M508.3 767.3l5.4-18.6 3.8-2-5.4 18.6z"/><path class="k127" d="M502.9 782.9l5.4-15.6 3.8-2-5.4 15.6z"/><path class="k124" d="M497.6 795.9l5.3-13 3.8-2-5.4 13.1z"/><path class="k122" d="M492.2 806.5l5.4-10.6 3.7-1.9-5.4 10.7z"/><path class="k72" d="M486.8 815.2l5.4-8.7 3.7-1.8-5.3 8.8z"/><path class="k22" d="M481.4 822.1l5.4-6.9 3.8-1.7-5.4 6.9z"/><path class="k21" d="M470.6 831.7l5.4-4.2 5.4-5.4 3.8-1.7-5.4 5.5-5.4 4.3z"/><path class="k20" d="M459.9 837.3l5.4-2.4 5.3-3.2 3.8-1.5-5.4 3.2-5.4 2.4z"/><path class="k21" d="M438.4 842.4l5.3-1 5.4-1 5.4-1.4 5.4-1.7 3.7-1.5-5.3 1.9-5.4 1.4-5.4 1.1-5.4 1z"/><path class="k22" d="M427.6 844.5l5.4-1.1 5.4-1 3.7-1.2-5.4 1.1-5.3 1.1z"/><path class="k23" d="M395.3 858.6l5.4-3.5 5.4-3 5.3-2.5 5.4-2.1 5.4-1.7 5.4-1.3 3.8-1.1-5.4 1.5-5.4 1.7-5.4 2.1-5.4 2.6-5.4 3.1-5.3 3.6z"/><path class="k22" d="M384.5 867.3l5.4-4.6 5.4-4.1 3.8-.6-5.4 4.1-5.4 4.6z"/><path class="k21" d="M379.2 872.3l5.3-5 3.8-.6-5.4 5.2z"/><path class="k68" d="M368.4 883.7l5.4-5.9 5.4-5.5 3.7-.4-5.4 5.5-5.4 6z"/><path class="k67" d="M363 889.9l5.4-6.2 3.7-.3-5.3 6.3z"/><path class="k114" d="M357.6 896.4l5.4-6.5 3.8-.2-5.4 6.5z"/><path class="k113" d="M352.2 903l5.4-6.6 3.8-.2-5.4 6.7z"/><path class="k112" d="M346.9 909.6l5.3-6.6 3.8-.1-5.4 6.7z"/><path class="k110" d="M341.5 916.1l5.4-6.5 3.7 0-5.4 6.5z"/><path class="k109" d="M336.1 922.4l5.4-6.3 3.7 0-5.3 6.4z"/><path class="k108" d="M330.7 928.2l5.4-5.8 3.8 .1-5.4 5.8z"/><path class="k60" d="M325.3 933.4l5.4-5.2 3.8 .1-5.4 5.3z"/><path class="k59" d="M320 937.8l5.3-4.4 3.8 .2-5.4 4.5z"/><path class="k11" d="M303.8 944l5.4-.7 5.4-2.1 5.4-3.4 3.7 .3-5.4 3.4-5.4 2.2-5.3 .8z"/><path class="k12" d="M298.4 942.9l5.4 1.1 3.8 .5-5.4-1z"/><path class="k13" d="M293 939.8l5.4 3.1 3.8 .6-5.4-3.1z"/><path class="k15" d="M287.7 934.4l5.3 5.4 3.8 .6-5.4-5.3z"/><path class="k17" d="M282.3 926.4l5.4 8 3.7 .7-5.4-8z"/><path class="k20" d="M276.9 915.4l5.4 11 3.7 .7-5.4-10.9z"/><path class="k180" d="M512.1 765.3l5.4-18.6 3.7-1.6-5.3 18.6z"/><path class="k176" d="M506.7 780.9l5.4-15.6 3.8-1.6-5.4 15.8z"/><path class="k125" d="M501.3 794l5.4-13.1 3.8-1.4-5.4 13.1z"/><path class="k122" d="M495.9 804.7l5.4-10.7 3.8-1.4-5.4 10.8z"/><path class="k73" d="M490.6 813.5l5.3-8.8 3.8-1.3-5.4 8.8z"/><path class="k71" d="M485.2 820.4l5.4-6.9 3.7-1.3-5.4 7z"/><path class="k22" d="M479.8 825.9l5.4-5.5 3.7-1.2-5.3 5.6z"/><path class="k21" d="M452.9 839.1l5.4-1.4 5.3-1.9 5.4-2.4 5.4-3.2 5.4-4.3 3.8-1.1-5.4 4.3-5.4 3.3-5.4 2.5-5.4 1.9-5.4 1.5z"/><path class="k22" d="M436.7 842.3l5.4-1.1 5.4-1 5.4-1.1 3.7-.8-5.3 1.2-5.4 1.1-5.4 1.1z"/><path class="k23" d="M393.7 862.1l5.4-4.1 5.3-3.6 5.4-3.1 5.4-2.6 5.4-2.1 5.4-1.7 5.4-1.5 5.3-1.1 3.8-.6-5.4 1.2-5.4 1.5-5.4 1.8-5.3 2.2-5.4 2.7-5.4 3.1-5.4 3.7-5.4 4.1z"/><path class="k70" d="M382.9 871.9l5.4-5.2 5.4-4.6 3.7-.1-5.4 4.7-5.3 5.2z"/><path class="k117" d="M377.5 877.4l5.4-5.5 3.8 0-5.4 5.6z"/><path class="k116" d="M372.1 883.4l5.4-6 3.8 .1-5.4 6.1z"/><path class="k115" d="M366.8 889.7l5.3-6.3 3.8 .2-5.4 6.3z"/><path class="k114" d="M361.4 896.2l5.4-6.5 3.7 .2-5.4 6.6z"/><path class="k113" d="M356 902.9l5.4-6.7 3.7 .3-5.3 6.8z"/><path class="k112" d="M350.6 909.6l5.4-6.7 3.8 .4-5.4 6.7z"/><path class="k111" d="M345.2 916.1l5.4-6.5 3.8 .4-5.4 6.6z"/><path class="k110" d="M339.9 922.5l5.3-6.4 3.8 .5-5.4 6.4z"/><path class="k109" d="M334.5 928.3l5.4-5.8 3.7 .5-5.4 6z"/><path class="k108" d="M329.1 933.6l5.4-5.3 3.7 .7-5.4 5.3z"/><path class="k107" d="M323.7 938.1l5.4-4.5 3.7 .7-5.3 4.5z"/><path class="k59" d="M318.3 941.5l5.4-3.4 3.8 .7-5.4 3.6z"/><path class="k11" d="M307.6 944.5l5.3-.8 5.4-2.2 3.8 .9-5.4 2.2-5.4 .8z"/><path class="k12" d="M302.2 943.5l5.4 1 3.7 .9-5.4-.9z"/><path class="k13" d="M296.8 940.4l5.4 3.1 3.7 1-5.4-3z"/><path class="k15" d="M291.4 935.1l5.4 5.3 3.7 1.1-5.3-5.3z"/><path class="k17" d="M286 927.1l5.4 8 3.8 1.1-5.4-7.9z"/><path class="k20" d="M280.6 916.2l5.4 10.9 3.8 1.2-5.4-10.8z"/><path class="k180" d="M515.9 763.7l5.3-18.6 3.8-1.1-5.4 18.7z"/><path class="k177" d="M510.5 779.5l5.4-15.8 3.7-1-5.4 15.8z"/><path class="k173" d="M505.1 792.6l5.4-13.1 3.7-1-5.3 13.2z"/><path class="k123" d="M499.7 803.4l5.4-10.8 3.8-.9-5.4 10.9z"/><path class="k121" d="M494.3 812.2l5.4-8.8 3.8-.8-5.4 8.9z"/><path class="k72" d="M488.9 819.2l5.4-7 3.8-.7-5.4 7.1z"/><path class="k23" d="M483.6 824.8l5.3-5.6 3.8-.6-5.4 5.6z"/><path class="k22" d="M445.9 840.6l5.4-1.1 5.3-1.2 5.4-1.5 5.4-1.9 5.4-2.5 5.4-3.3 5.4-4.3 3.7-.6-5.4 4.4-5.3 3.3-5.4 2.6-5.4 2-5.4 1.5-5.4 1.2-5.4 1.2z"/><path class="k23" d="M429.7 844.4l5.4-1.5 5.4-1.2 5.4-1.1 3.7-.2-5.3 1.2-5.4 1.3-5.4 1.5z"/><path class="k24" d="M408.2 854.2l5.4-3.1 5.4-2.7 5.3-2.2 5.4-1.8 3.8 0-5.4 1.9-5.4 2.3-5.4 2.7-5.3 3.2z"/><path class="k71" d="M397.4 862l5.4-4.1 5.4-3.7 3.8 .3-5.4 3.7-5.4 4.3z"/><path class="k70" d="M392 866.7l5.4-4.7 3.8 .5-5.4 4.7z"/><path class="k118" d="M386.7 871.9l5.3-5.2 3.8 .5-5.4 5.3z"/><path class="k117" d="M381.3 877.5l5.4-5.6 3.7 .6-5.4 5.7z"/><path class="k116" d="M375.9 883.6l5.4-6.1 3.7 .7-5.3 6.1z"/><path class="k115" d="M370.5 889.9l5.4-6.3 3.8 .7-5.4 6.4z"/><path class="k114" d="M365.1 896.5l5.4-6.6 3.8 .8-5.4 6.7z"/><path class="k161" d="M359.8 903.3l5.3-6.8 3.8 .9-5.4 6.7z"/><path class="k160" d="M354.4 910l5.4-6.7 3.7 .8-5.4 6.9z"/><path class="k159" d="M349 916.6l5.4-6.6 3.7 1-5.4 6.7z"/><path class="k158" d="M343.6 923l5.4-6.4 3.7 1.1-5.3 6.4z"/><path class="k109" d="M338.2 929l5.4-6 3.8 1.1-5.4 6z"/><path class="k108" d="M332.8 934.3l5.4-5.3 3.8 1.1-5.4 5.4z"/><path class="k107" d="M322.1 942.4l5.4-3.6 5.3-4.5 3.8 1.2-5.4 4.6-5.4 3.6z"/><path class="k59" d="M316.7 944.6l5.4-2.2 3.7 1.3-5.4 2.4z"/><path class="k11" d="M311.3 945.4l5.4-.8 3.7 1.5-5.4 .8z"/><path class="k12" d="M305.9 944.5l5.4 .9 3.7 1.5-5.3-.9z"/><path class="k13" d="M300.5 941.5l5.4 3 3.8 1.5-5.4-2.9z"/><path class="k15" d="M295.2 936.2l5.3 5.3 3.8 1.6-5.4-5.2z"/><path class="k17" d="M289.8 928.3l5.4 7.9 3.7 1.7-5.4-7.8z"/><path class="k20" d="M284.4 917.5l5.4 10.8 3.7 1.8-5.4-10.8z"/><path class="k181" d="M519.6 762.7l5.4-18.7 3.8-.6-5.4 18.8z"/><path class="k177" d="M514.2 778.5l5.4-15.8 3.8-.5-5.4 15.9z"/><path class="k174" d="M508.9 791.7l5.3-13.2 3.8-.4-5.4 13.3z"/><path class="k171" d="M503.5 802.6l5.4-10.9 3.7-.3-5.4 10.9z"/><path class="k122" d="M498.1 811.5l5.4-8.9 3.7-.3-5.3 8.9z"/><path class="k120" d="M492.7 818.6l5.4-7.1 3.8-.3-5.4 7.2z"/><path class="k71" d="M487.3 824.2l5.4-5.6 3.8-.2-5.4 5.7z"/><path class="k22" d="M455 839.2l5.4-1.2 5.4-1.5 5.4-2 5.4-2.6 5.3-3.3 5.4-4.4 3.8-.1-5.4 4.4-5.4 3.5-5.4 2.6-5.3 2-5.4 1.6-5.4 1.3z"/><path class="k23" d="M438.9 842.9l5.4-1.3 5.3-1.2 5.4-1.2 3.8 .3-5.4 1.3-5.4 1.2-5.4 1.4z"/><path class="k24" d="M417.3 851.3l5.4-2.7 5.4-2.3 5.4-1.9 5.4-1.5 3.7 .5-5.4 1.6-5.3 1.9-5.4 2.4-5.4 2.7z"/><path class="k72" d="M406.6 858.2l5.4-3.7 5.3-3.2 3.8 .7-5.4 3.3-5.4 3.8z"/><path class="k119" d="M395.8 867.2l5.4-4.7 5.4-4.3 3.7 .9-5.4 4.3-5.3 4.8z"/><path class="k118" d="M390.4 872.5l5.4-5.3 3.8 1-5.4 5.4z"/><path class="k117" d="M385 878.2l5.4-5.7 3.8 1.1-5.4 5.7z"/><path class="k164" d="M379.7 884.3l5.3-6.1 3.8 1.1-5.4 6.2z"/><path class="k163" d="M374.3 890.7l5.4-6.4 3.7 1.2-5.4 6.5z"/><path class="k162" d="M368.9 897.4l5.4-6.7 3.7 1.3-5.4 6.7z"/><path class="k161" d="M363.5 904.1l5.4-6.7 3.7 1.3-5.3 6.8z"/><path class="k160" d="M358.1 911l5.4-6.9 3.8 1.4-5.4 6.9z"/><path class="k159" d="M352.7 917.7l5.4-6.7 3.8 1.4-5.4 6.8z"/><path class="k158" d="M347.4 924.1l5.3-6.4 3.8 1.5-5.4 6.5z"/><path class="k157" d="M342 930.1l5.4-6 3.7 1.6-5.4 6.1z"/><path class="k156" d="M336.6 935.5l5.4-5.4 3.7 1.7-5.4 5.5z"/><path class="k107" d="M320.4 946.1l5.4-2.4 5.4-3.6 5.4-4.6 3.7 1.8-5.4 4.6-5.3 3.7-5.4 2.4z"/><path class="k11" d="M315 946.9l5.4-.8 3.8 1.9-5.4 .9z"/><path class="k12" d="M309.7 946l5.3 .9 3.8 2-5.4-.8z"/><path class="k13" d="M304.3 943.1l5.4 2.9 3.7 2.1-5.4-2.9z"/><path class="k14" d="M298.9 937.9l5.4 5.2 3.7 2.1-5.4-5.1z"/><path class="k17" d="M293.5 930.1l5.4 7.8 3.7 2.2-5.3-7.8z"/><path class="k20" d="M288.1 919.3l5.4 10.8 3.8 2.2-5.4-10.7z"/><path class="k181" d="M523.4 762.2l5.4-18.8 3.7 0-5.3 18.8z"/><path class="k177" d="M518 778.1l5.4-15.9 3.8 0-5.4 16z"/><path class="k174" d="M512.6 791.4l5.4-13.3 3.8 .1-5.4 13.3z"/><path class="k172" d="M507.2 802.3l5.4-10.9 3.8 .1-5.4 11z"/><path class="k170" d="M501.9 811.2l5.3-8.9 3.8 .2-5.4 9z"/><path class="k120" d="M496.5 818.4l5.4-7.2 3.7 .3-5.4 7.2z"/><path class="k119" d="M491.1 824.1l5.4-5.7 3.7 .3-5.3 5.8z"/><path class="k71" d="M485.7 828.5l5.4-4.4 3.8 .4-5.4 4.5z"/><path class="k70" d="M480.3 832l5.4-3.5 3.8 .5-5.4 3.5z"/><path class="k22" d="M464.2 838.2l5.4-1.6 5.3-2 5.4-2.6 3.8 .5-5.4 2.7-5.4 2.1-5.4 1.6z"/><path class="k23" d="M448 842l5.4-1.2 5.4-1.3 5.4-1.3 3.7 .7-5.4 1.4-5.3 1.3-5.4 1.3z"/><path class="k24" d="M431.9 846.9l5.3-1.9 5.4-1.6 5.4-1.4 3.8 .9-5.4 1.4-5.4 1.7-5.4 2z"/><path class="k72" d="M421.1 852l5.4-2.7 5.4-2.4 3.7 1.1-5.4 2.4-5.3 2.9z"/><path class="k120" d="M410.3 859.1l5.4-3.8 5.4-3.3 3.8 1.3-5.4 3.3-5.4 3.9z"/><path class="k119" d="M399.6 868.2l5.3-4.8 5.4-4.3 3.8 1.4-5.4 4.3-5.4 4.9z"/><path class="k166" d="M394.2 873.6l5.4-5.4 3.7 1.5-5.4 5.4z"/><path class="k165" d="M388.8 879.3l5.4-5.7 3.7 1.5-5.4 5.8z"/><path class="k164" d="M383.4 885.5l5.4-6.2 3.7 1.6-5.3 6.3z"/><path class="k163" d="M378 892l5.4-6.5 3.8 1.7-5.4 6.5z"/><path class="k162" d="M372.6 898.7l5.4-6.7 3.8 1.7-5.4 6.8z"/><path class="k161" d="M367.3 905.5l5.3-6.8 3.8 1.8-5.4 6.9z"/><path class="k160" d="M361.9 912.4l5.4-6.9 3.7 1.9-5.4 7z"/><path class="k159" d="M356.5 919.2l5.4-6.8 3.7 2-5.4 6.8z"/><path class="k158" d="M351.1 925.7l5.4-6.5 3.7 2-5.3 6.6z"/><path class="k157" d="M345.7 931.8l5.4-6.1 3.8 2.1-5.4 6.1z"/><path class="k156" d="M340.3 937.3l5.4-5.5 3.8 2.1-5.4 5.6z"/><path class="k155" d="M329.6 945.6l5.3-3.7 5.4-4.6 3.8 2.2-5.4 4.7-5.4 3.7z"/><path class="k106" d="M324.2 948l5.4-2.4 3.7 2.3-5.4 2.5z"/><path class="k59" d="M318.8 948.9l5.4-.9 3.7 2.4-5.4 1z"/><path class="k11" d="M313.4 948.1l5.4 .8 3.7 2.5-5.3-.8z"/><path class="k12" d="M308 945.2l5.4 2.9 3.8 2.5-5.4-2.7z"/><path class="k14" d="M302.6 940.1l5.4 5.1 3.8 2.7-5.4-5.1z"/><path class="k16" d="M297.3 932.3l5.3 7.8 3.8 2.7-5.4-7.7z"/><path class="k19" d="M291.9 921.6l5.4 10.7 3.7 2.8-5.4-10.7z"/><path class="k182" d="M527.2 762.2l5.3-18.8 3.8 .4-5.4 18.9z"/><path class="k178" d="M521.8 778.2l5.4-16 3.7 .5-5.4 16z"/><path class="k175" d="M516.4 791.5l5.4-13.3 3.7 .5-5.3 13.4z"/><path class="k172" d="M511 802.5l5.4-11 3.8 .6-5.4 11z"/><path class="k170" d="M505.6 811.5l5.4-9 3.8 .6-5.4 9.1z"/><path class="k169" d="M500.2 818.7l5.4-7.2 3.8 .7-5.4 7.3z"/><path class="k120" d="M494.9 824.5l5.3-5.8 3.8 .8-5.4 5.8z"/><path class="k119" d="M489.5 829l5.4-4.5 3.7 .8-5.4 4.6z"/><path class="k70" d="M478.7 835.2l5.4-2.7 5.4-3.5 3.7 .9-5.3 3.6-5.4 2.7z"/><path class="k22" d="M467.9 838.9l5.4-1.6 5.4-2.1 3.8 1-5.4 2.2-5.4 1.7z"/><path class="k23" d="M451.8 842.9l5.4-1.3 5.3-1.3 5.4-1.4 3.8 1.2-5.4 1.5-5.4 1.3-5.4 1.4z"/><path class="k24" d="M441 846l5.4-1.7 5.4-1.4 3.7 1.4-5.3 1.5-5.4 1.7z"/><path class="k72" d="M430.2 850.4l5.4-2.4 5.4-2 3.8 1.5-5.4 2.1-5.4 2.5z"/><path class="k120" d="M419.5 856.6l5.4-3.3 5.3-2.9 3.8 1.7-5.4 2.9-5.4 3.4z"/><path class="k119" d="M408.7 864.8l5.4-4.3 5.4-3.9 3.7 1.8-5.4 3.9-5.3 4.4z"/><path class="k166" d="M397.9 875.1l5.4-5.4 5.4-4.9 3.8 1.9-5.4 5-5.4 5.4z"/><path class="k165" d="M392.5 880.9l5.4-5.8 3.8 2-5.4 5.9z"/><path class="k164" d="M387.2 887.2l5.3-6.3 3.8 2.1-5.4 6.3z"/><path class="k163" d="M381.8 893.7l5.4-6.5 3.7 2.1-5.4 6.6z"/><path class="k162" d="M376.4 900.5l5.4-6.8 3.7 2.2-5.4 6.9z"/><path class="k161" d="M371 907.4l5.4-6.9 3.7 2.3-5.3 7z"/><path class="k160" d="M365.6 914.4l5.4-7 3.8 2.4-5.4 7z"/><path class="k158" d="M360.2 921.2l5.4-6.8 3.8 2.4-5.4 6.9z"/><path class="k157" d="M354.9 927.8l5.3-6.6 3.8 2.5-5.4 6.6z"/><path class="k156" d="M349.5 933.9l5.4-6.1 3.7 2.5-5.4 6.2z"/><path class="k155" d="M338.7 944.2l5.4-4.7 5.4-5.6 3.7 2.6-5.4 5.6-5.4 4.8z"/><path class="k154" d="M333.3 947.9l5.4-3.7 3.7 2.7-5.3 3.8z"/><path class="k106" d="M322.5 951.4l5.4-1 5.4-2.5 3.8 2.8-5.4 2.6-5.4 1z"/><path class="k11" d="M317.2 950.6l5.3 .8 3.8 2.9-5.4-.7z"/><path class="k12" d="M311.8 947.9l5.4 2.7 3.7 3-5.4-2.7z"/><path class="k14" d="M306.4 942.8l5.4 5.1 3.7 3-5.4-5z"/><path class="k16" d="M301 935.1l5.4 7.7 3.7 3.1-5.4-7.6z"/><path class="k19" d="M295.6 924.4l5.4 10.7 3.7 3.2-5.3-10.6z"/><path class="k182" d="M530.9 762.7l5.4-18.9 3.8 .7-5.4 19z"/><path class="k178" d="M525.5 778.7l5.4-16 3.8 .8-5.4 16.1z"/><path class="k175" d="M520.2 792.1l5.3-13.4 3.8 .9-5.4 13.4z"/><path class="k172" d="M514.8 803.1l5.4-11 3.7 .9-5.4 11.2z"/><path class="k170" d="M509.4 812.2l5.4-9.1 3.7 1.1-5.3 9.1z"/><path class="k169" d="M504 819.5l5.4-7.3 3.8 1.1-5.4 7.4z"/><path class="k168" d="M498.6 825.3l5.4-5.8 3.8 1.2-5.4 5.8z"/><path class="k119" d="M493.2 829.9l5.4-4.6 3.8 1.2-5.4 4.7z"/><path class="k118" d="M487.9 833.5l5.3-3.6 3.8 1.3-5.4 3.6z"/><path class="k70" d="M471.7 840.1l5.4-1.7 5.4-2.2 5.4-2.7 3.7 1.3-5.4 2.8-5.4 2.3-5.3 1.8z"/><path class="k23" d="M455.5 844.3l5.4-1.4 5.4-1.3 5.4-1.5 3.8 1.6-5.4 1.5-5.4 1.4-5.4 1.4z"/><path class="k71" d="M450.2 845.8l5.3-1.5 3.8 1.7-5.4 1.6z"/><path class="k72" d="M439.4 849.6l5.4-2.1 5.4-1.7 3.7 1.8-5.4 1.8-5.4 2.1z"/><path class="k120" d="M423.2 858.4l5.4-3.4 5.4-2.9 5.4-2.5 3.7 1.9-5.3 2.6-5.4 2.9-5.4 3.5z"/><path class="k167" d="M412.5 866.7l5.3-4.4 5.4-3.9 3.8 2.1-5.4 4-5.4 4.5z"/><path class="k166" d="M401.7 877.1l5.4-5.4 5.4-5 3.7 2.3-5.4 5-5.4 5.5z"/><path class="k165" d="M396.3 883l5.4-5.9 3.7 2.4-5.3 6z"/><path class="k164" d="M390.9 889.3l5.4-6.3 3.8 2.5-5.4 6.4z"/><path class="k163" d="M385.5 895.9l5.4-6.6 3.8 2.6-5.4 6.6z"/><path class="k162" d="M380.1 902.8l5.4-6.9 3.8 2.6-5.4 7z"/><path class="k160" d="M374.8 909.8l5.3-7 3.8 2.7-5.4 7z"/><path class="k159" d="M369.4 916.8l5.4-7 3.7 2.7-5.4 7.1z"/><path class="k158" d="M364 923.7l5.4-6.9 3.7 2.8-5.4 7z"/><path class="k157" d="M358.6 930.3l5.4-6.6 3.7 2.9-5.4 6.7z"/><path class="k156" d="M353.2 936.5l5.4-6.2 3.7 3-5.3 6.2z"/><path class="k155" d="M347.8 942.1l5.4-5.6 3.8 3-5.4 5.7z"/><path class="k154" d="M331.7 953.3l5.4-2.6 5.3-3.8 5.4-4.8 3.8 3.1-5.4 4.9-5.4 3.8-5.4 2.6z"/><path class="k106" d="M326.3 954.3l5.4-1 3.7 3.2-5.4 1.1z"/><path class="k10" d="M320.9 953.6l5.4 .7 3.7 3.3-5.4-.6z"/><path class="k11" d="M315.5 950.9l5.4 2.7 3.7 3.4-5.3-2.6z"/><path class="k13" d="M310.1 945.9l5.4 5 3.8 3.5-5.4-5z"/><path class="k15" d="M304.7 938.3l5.4 7.6 3.8 3.5-5.4-7.5z"/><path class="k18" d="M299.4 927.7l5.3 10.6 3.8 3.6-5.4-10.6z"/><path class="k182" d="M534.7 763.5l5.4-19 3.8 1.1-5.4 19.1z"/><path class="k178" d="M529.3 779.6l5.4-16.1 3.8 1.2-5.4 16.1z"/><path class="k175" d="M523.9 793l5.4-13.4 3.8 1.2-5.4 13.5z"/><path class="k172" d="M518.5 804.2l5.4-11.2 3.8 1.3-5.4 11.2z"/><path class="k170" d="M513.2 813.3l5.3-9.1 3.8 1.3-5.4 9.2z"/><path class="k169" d="M507.8 820.7l5.4-7.4 3.7 1.4-5.4 7.4z"/><path class="k168" d="M502.4 826.5l5.4-5.8 3.7 1.4-5.3 6z"/><path class="k119" d="M497 831.2l5.4-4.7 3.8 1.6-5.4 4.7z"/><path class="k118" d="M486.2 837.6l5.4-2.8 5.4-3.6 3.8 1.6-5.4 3.7-5.4 2.9z"/><path class="k70" d="M470.1 843.2l5.4-1.5 5.3-1.8 5.4-2.3 3.8 1.8-5.4 2.3-5.4 1.8-5.4 1.6z"/><path class="k71" d="M448.5 849.4l5.4-1.8 5.4-1.6 5.4-1.4 5.4-1.4 3.7 1.9-5.4 1.5-5.3 1.5-5.4 1.6-5.4 1.9z"/><path class="k120" d="M432.4 857l5.4-2.9 5.3-2.6 5.4-2.1 3.8 2.2-5.4 2.2-5.4 2.6-5.4 3z"/><path class="k167" d="M416.2 869l5.4-4.5 5.4-4 5.4-3.5 3.7 2.4-5.4 3.6-5.3 4-5.4 4.6z"/><path class="k166" d="M410.8 874l5.4-5 3.8 2.6-5.4 5.1z"/><path class="k165" d="M405.4 879.5l5.4-5.5 3.8 2.7-5.4 5.6z"/><path class="k164" d="M400.1 885.5l5.3-6 3.8 2.8-5.4 6z"/><path class="k163" d="M394.7 891.9l5.4-6.4 3.7 2.8-5.4 6.4z"/><path class="k162" d="M389.3 898.5l5.4-6.6 3.7 2.8-5.4 6.8z"/><path class="k161" d="M383.9 905.5l5.4-7 3.7 3-5.4 6.9z"/><path class="k160" d="M378.5 912.5l5.4-7 3.7 2.9-5.3 7.2z"/><path class="k159" d="M373.1 919.6l5.4-7.1 3.8 3.1-5.4 7.1z"/><path class="k158" d="M367.7 926.6l5.4-7 3.8 3.1-5.4 7z"/><path class="k156" d="M362.3 933.3l5.4-6.7 3.8 3.1-5.4 6.8z"/><path class="k155" d="M357 939.5l5.3-6.2 3.8 3.2-5.4 6.3z"/><path class="k154" d="M346.2 950.1l5.4-4.9 5.4-5.7 3.7 3.3-5.4 5.8-5.4 4.9z"/><path class="k153" d="M335.4 956.5l5.4-2.6 5.4-3.8 3.7 3.4-5.3 3.9-5.4 2.7z"/><path class="k105" d="M330 957.6l5.4-1.1 3.8 3.6-5.4 1.2z"/><path class="k58" d="M324.6 957l5.4 .6 3.8 3.7-5.4-.6z"/><path class="k11" d="M319.3 954.4l5.3 2.6 3.8 3.7-5.4-2.6z"/><path class="k12" d="M313.9 949.4l5.4 5 3.7 3.7-5.4-4.9z"/><path class="k15" d="M308.5 941.9l5.4 7.5 3.7 3.8-5.4-7.5z"/><path class="k18" d="M303.1 931.3l5.4 10.6 3.7 3.8-5.4-10.4z"/><path class="k182" d="M538.5 764.7l5.4-19.1 3.7 1.3-5.4 19.1z"/><path class="k178" d="M533.1 780.8l5.4-16.1 3.7 1.3-5.3 16.2z"/><path class="k175" d="M527.7 794.3l5.4-13.5 3.8 1.4-5.4 13.6z"/><path class="k172" d="M522.3 805.5l5.4-11.2 3.8 1.5-5.4 11.3z"/><path class="k170" d="M516.9 814.7l5.4-9.2 3.8 1.6-5.4 9.2z"/><path class="k169" d="M511.5 822.1l5.4-7.4 3.8 1.6-5.4 7.5z"/><path class="k167" d="M500.8 832.8l5.4-4.7 5.3-6 3.8 1.7-5.4 6-5.4 4.8z"/><path class="k118" d="M484.6 841.7l5.4-2.3 5.4-2.9 5.4-3.7 3.7 1.8-5.4 3.8-5.3 2.9-5.4 2.4z"/><path class="k70" d="M473.8 845.1l5.4-1.6 5.4-1.8 3.8 2-5.4 1.9-5.4 1.6z"/><path class="k71" d="M457.7 849.7l5.4-1.6 5.3-1.5 5.4-1.5 3.8 2.1-5.4 1.6-5.4 1.5-5.4 1.7z"/><path class="k119" d="M436.1 859.4l5.4-3 5.4-2.6 5.4-2.2 5.4-1.9 3.7 2.3-5.4 2-5.3 2.2-5.4 2.7-5.4 3.1z"/><path class="k167" d="M425.4 867l5.3-4 5.4-3.6 3.8 2.6-5.4 3.6-5.4 4.1z"/><path class="k166" d="M414.6 876.7l5.4-5.1 5.4-4.6 3.7 2.7-5.4 4.7-5.4 5.1z"/><path class="k165" d="M409.2 882.3l5.4-5.6 3.7 2.8-5.4 5.7z"/><path class="k164" d="M403.8 888.3l5.4-6 3.7 2.9-5.3 6.1z"/><path class="k163" d="M398.4 894.7l5.4-6.4 3.8 3-5.4 6.4z"/><path class="k162" d="M393 901.5l5.4-6.8 3.8 3-5.4 6.9z"/><path class="k161" d="M387.6 908.4l5.4-6.9 3.8 3.1-5.4 7z"/><path class="k159" d="M382.3 915.6l5.3-7.2 3.8 3.2-5.4 7.2z"/><path class="k158" d="M376.9 922.7l5.4-7.1 3.7 3.2-5.4 7.2z"/><path class="k157" d="M371.5 929.7l5.4-7 3.7 3.3-5.4 7.1z"/><path class="k156" d="M366.1 936.5l5.4-6.8 3.7 3.4-5.4 6.8z"/><path class="k155" d="M360.7 942.8l5.4-6.3 3.7 3.4-5.3 6.4z"/><path class="k154" d="M355.3 948.6l5.4-5.8 3.8 3.5-5.4 5.8z"/><path class="k153" d="M344.6 957.4l5.3-3.9 5.4-4.9 3.8 3.5-5.4 5-5.4 4z"/><path class="k152" d="M339.2 960.1l5.4-2.7 3.7 3.7-5.4 2.7z"/><path class="k105" d="M333.8 961.3l5.4-1.2 3.7 3.7-5.4 1.3z"/><path class="k57" d="M328.4 960.7l5.4 .6 3.7 3.8-5.4-.5z"/><path class="k10" d="M323 958.1l5.4 2.6 3.7 3.9-5.4-2.5z"/><path class="k12" d="M317.6 953.2l5.4 4.9 3.7 4-5.3-4.8z"/><path class="k14" d="M312.2 945.7l5.4 7.5 3.8 4.1-5.4-7.5z"/><path class="k17" d="M306.8 935.3l5.4 10.4 3.8 4.1-5.4-10.3z"/><path class="k182" d="M542.2 766l5.4-19.1 3.8 1.3-5.4 19.2z"/><path class="k178" d="M536.9 782.2l5.3-16.2 3.8 1.4-5.4 16.3z"/><path class="k175" d="M531.5 795.8l5.4-13.6 3.7 1.5-5.4 13.6z"/><path class="k172" d="M526.1 807.1l5.4-11.3 3.7 1.5-5.4 11.3z"/><path class="k170" d="M520.7 816.3l5.4-9.2 3.7 1.5-5.3 9.3z"/><path class="k168" d="M515.3 823.8l5.4-7.5 3.8 1.6-5.4 7.6z"/><path class="k167" d="M504.5 834.6l5.4-4.8 5.4-6 3.8 1.7-5.4 6.1-5.4 4.8z"/><path class="k118" d="M488.4 843.7l5.4-2.4 5.3-2.9 5.4-3.8 3.8 1.8-5.4 3.9-5.4 3-5.4 2.4z"/><path class="k70" d="M466.8 850.3l5.4-1.5 5.4-1.6 5.4-1.6 5.4-1.9 3.7 2-5.4 2-5.3 1.7-5.4 1.6-5.4 1.6z"/><path class="k119" d="M439.9 862l5.4-3.1 5.4-2.7 5.3-2.2 5.4-2 5.4-1.7 3.8 2.3-5.4 1.8-5.4 2-5.4 2.3-5.4 2.8-5.4 3.1z"/><path class="k167" d="M434.5 865.6l5.4-3.6 3.7 2.6-5.3 3.7z"/><path class="k166" d="M423.7 874.4l5.4-4.7 5.4-4.1 3.8 2.7-5.4 4.2-5.4 4.7z"/><path class="k165" d="M418.3 879.5l5.4-5.1 3.8 2.8-5.4 5.2z"/><path class="k164" d="M412.9 885.2l5.4-5.7 3.8 2.9-5.4 5.7z"/><path class="k163" d="M407.6 891.3l5.3-6.1 3.8 2.9-5.4 6.2z"/><path class="k162" d="M402.2 897.7l5.4-6.4 3.7 3-5.4 6.5z"/><path class="k161" d="M396.8 904.6l5.4-6.9 3.7 3.1-5.4 6.9z"/><path class="k160" d="M391.4 911.6l5.4-7 3.7 3.1-5.4 7.1z"/><path class="k159" d="M386 918.8l5.4-7.2 3.7 3.2-5.3 7.3z"/><path class="k158" d="M380.6 926l5.4-7.2 3.8 3.3-5.4 7.3z"/><path class="k156" d="M375.2 933.1l5.4-7.1 3.8 3.4-5.4 7.1z"/><path class="k155" d="M369.8 939.9l5.4-6.8 3.8 3.4-5.4 6.9z"/><path class="k154" d="M364.5 946.3l5.3-6.4 3.8 3.5-5.4 6.5z"/><path class="k153" d="M359.1 952.1l5.4-5.8 3.7 3.6-5.4 5.8z"/><path class="k152" d="M342.9 963.8l5.4-2.7 5.4-4 5.4-5 3.7 3.6-5.4 5.1-5.4 4-5.3 2.8z"/><path class="k104" d="M337.5 965.1l5.4-1.3 3.8 3.8-5.4 1.4z"/><path class="k56" d="M332.1 964.6l5.4 .5 3.8 3.9-5.4-.5z"/><path class="k9" d="M326.7 962.1l5.4 2.5 3.8 3.9-5.4-2.4z"/><path class="k11" d="M321.4 957.3l5.3 4.8 3.8 4-5.4-4.8z"/><path class="k13" d="M316 949.8l5.4 7.5 3.7 4-5.4-7.3z"/><path class="k16" d="M310.6 939.5l5.4 10.3 3.7 4.2-5.4-10.4z"/><path class="k182" d="M546 767.4l5.4-19.2 3.8 1.2-5.4 19.3z"/><path class="k178" d="M540.6 783.7l5.4-16.3 3.8 1.3-5.4 16.3z"/><path class="k175" d="M535.2 797.3l5.4-13.6 3.8 1.3-5.4 13.7z"/><path class="k172" d="M529.8 808.6l5.4-11.3 3.8 1.4-5.4 11.4z"/><path class="k170" d="M524.5 817.9l5.3-9.3 3.8 1.5-5.4 9.4z"/><path class="k168" d="M519.1 825.5l5.4-7.6 3.7 1.6-5.4 7.6z"/><path class="k167" d="M513.7 831.6l5.4-6.1 3.7 1.6-5.4 6.1z"/><path class="k166" d="M508.3 836.4l5.4-4.8 3.7 1.6-5.3 5z"/><path class="k118" d="M492.1 845.7l5.4-2.4 5.4-3 5.4-3.9 3.8 1.8-5.4 3.8-5.4 3.1-5.4 2.5z"/><path class="k70" d="M465.2 854.4l5.4-1.8 5.4-1.6 5.4-1.6 5.3-1.7 5.4-2 3.8 1.9-5.4 2.1-5.4 1.7-5.4 1.7-5.4 1.7-5.3 1.8z"/><path class="k119" d="M449 861.5l5.4-2.8 5.4-2.3 5.4-2 3.8 2.2-5.4 2.1-5.4 2.4-5.4 2.8z"/><path class="k118" d="M443.6 864.6l5.4-3.1 3.8 2.4-5.4 3.2z"/><path class="k166" d="M432.9 872.5l5.4-4.2 5.3-3.7 3.8 2.5-5.4 3.8-5.4 4.2z"/><path class="k165" d="M422.1 882.4l5.4-5.2 5.4-4.7 3.7 2.6-5.4 4.8-5.4 5.3z"/><path class="k164" d="M416.7 888.1l5.4-5.7 3.7 2.8-5.3 5.7z"/><path class="k163" d="M411.3 894.3l5.4-6.2 3.8 2.8-5.4 6.3z"/><path class="k162" d="M405.9 900.8l5.4-6.5 3.8 2.9-5.4 6.6z"/><path class="k161" d="M400.5 907.7l5.4-6.9 3.8 3-5.4 6.9z"/><path class="k160" d="M395.1 914.8l5.4-7.1 3.8 3-5.4 7.2z"/><path class="k158" d="M389.8 922.1l5.3-7.3 3.8 3.1-5.4 7.3z"/><path class="k157" d="M384.4 929.4l5.4-7.3 3.7 3.1-5.4 7.4z"/><path class="k156" d="M379 936.5l5.4-7.1 3.7 3.2-5.4 7.2z"/><path class="k155" d="M373.6 943.4l5.4-6.9 3.7 3.3-5.4 7z"/><path class="k154" d="M368.2 949.9l5.4-6.5 3.7 3.4-5.3 6.5z"/><path class="k153" d="M362.8 955.7l5.4-5.8 3.8 3.4-5.4 5.9z"/><path class="k152" d="M357.4 960.8l5.4-5.1 3.8 3.5-5.4 5.1z"/><path class="k151" d="M346.7 967.6l5.3-2.8 5.4-4 3.8 3.5-5.4 4.2-5.4 2.8z"/><path class="k103" d="M341.3 969l5.4-1.4 3.7 3.7-5.4 1.4z"/><path class="k56" d="M335.9 968.5l5.4 .5 3.7 3.7-5.4-.4z"/><path class="k9" d="M330.5 966.1l5.4 2.4 3.7 3.8-5.4-2.3z"/><path class="k10" d="M325.1 961.3l5.4 4.8 3.7 3.9-5.3-4.7z"/><path class="k13" d="M319.7 954l5.4 7.3 3.8 4-5.4-7.3z"/><path class="k15" d="M314.3 943.6l5.4 10.4 3.8 4-5.4-10.3z"/><path class="k182" d="M549.8 768.7l5.4-19.3 3.7 .9-5.4 19.3z"/><path class="k178" d="M544.4 785l5.4-16.3 3.7 .9-5.3 16.4z"/><path class="k175" d="M539 798.7l5.4-13.7 3.8 1-5.4 13.7z"/><path class="k172" d="M533.6 810.1l5.4-11.4 3.8 1-5.4 11.5z"/><path class="k170" d="M528.2 819.5l5.4-9.4 3.8 1.1-5.4 9.4z"/><path class="k168" d="M522.8 827.1l5.4-7.6 3.8 1.1-5.4 7.7z"/><path class="k167" d="M517.4 833.2l5.4-6.1 3.8 1.2-5.4 6.3z"/><path class="k118" d="M501.3 845.1l5.4-3.1 5.4-3.8 5.3-5 3.8 1.4-5.4 4.9-5.4 4-5.4 3.1z"/><path class="k69" d="M495.9 847.6l5.4-2.5 3.7 1.5-5.3 2.6z"/><path class="k70" d="M463.6 858.7l5.4-2.1 5.3-1.8 5.4-1.7 5.4-1.7 5.4-1.7 5.4-2.1 3.8 1.6-5.4 2.1-5.4 1.8-5.4 1.8-5.4 1.7-5.4 1.9-5.4 2.2z"/><path class="k118" d="M442 870.9l5.4-3.8 5.4-3.2 5.4-2.8 5.4-2.4 3.7 2-5.4 2.4-5.4 2.9-5.3 3.3-5.4 3.8z"/><path class="k166" d="M436.6 875.1l5.4-4.2 3.8 2.2-5.4 4.3z"/><path class="k165" d="M431.2 879.9l5.4-4.8 3.8 2.3-5.4 4.8z"/><path class="k164" d="M420.5 890.9l5.3-5.7 5.4-5.3 3.8 2.3-5.4 5.4-5.4 5.8z"/><path class="k163" d="M415.1 897.2l5.4-6.3 3.7 2.5-5.4 6.3z"/><path class="k162" d="M409.7 903.8l5.4-6.6 3.7 2.5-5.4 6.7z"/><path class="k160" d="M404.3 910.7l5.4-6.9 3.7 2.6-5.4 7z"/><path class="k159" d="M398.9 917.9l5.4-7.2 3.7 2.7-5.3 7.3z"/><path class="k158" d="M393.5 925.2l5.4-7.3 3.8 2.8-5.4 7.3z"/><path class="k157" d="M388.1 932.6l5.4-7.4 3.8 2.8-5.4 7.4z"/><path class="k155" d="M382.7 939.8l5.4-7.2 3.8 2.8-5.4 7.3z"/><path class="k154" d="M377.3 946.8l5.4-7 3.8 2.9-5.4 7.1z"/><path class="k153" d="M372 953.3l5.3-6.5 3.8 3-5.4 6.6z"/><path class="k152" d="M366.6 959.2l5.4-5.9 3.7 3.1-5.4 6z"/><path class="k151" d="M355.8 968.5l5.4-4.2 5.4-5.1 3.7 3.2-5.4 5.2-5.4 4.1z"/><path class="k150" d="M350.4 971.3l5.4-2.8 3.7 3.2-5.3 3z"/><path class="k103" d="M345 972.7l5.4-1.4 3.8 3.4-5.4 1.4z"/><path class="k55" d="M339.6 972.3l5.4 .4 3.8 3.4-5.4-.3z"/><path class="k8" d="M334.2 970l5.4 2.3 3.8 3.5-5.4-2.3z"/><path class="k10" d="M328.9 965.3l5.3 4.7 3.8 3.5-5.4-4.6z"/><path class="k12" d="M323.5 958l5.4 7.3 3.7 3.6-5.4-7.3z"/><path class="k15" d="M318.1 947.7l5.4 10.3 3.7 3.6-5.4-10.2z"/><path class="k182" d="M553.5 769.6l5.4-19.3 3.8 .2-5.4 19.4z"/><path class="k178" d="M548.2 786l5.3-16.4 3.8 .3-5.4 16.5z"/><path class="k175" d="M542.8 799.7l5.4-13.7 3.7 .4-5.4 13.8z"/><path class="k172" d="M537.4 811.2l5.4-11.5 3.7 .5-5.4 11.5z"/><path class="k170" d="M532 820.6l5.4-9.4 3.7 .5-5.3 9.5z"/><path class="k168" d="M526.6 828.3l5.4-7.7 3.8 .6-5.4 7.8z"/><path class="k119" d="M521.2 834.6l5.4-6.3 3.8 .7-5.4 6.3z"/><path class="k118" d="M515.8 839.5l5.4-4.9 3.8 .7-5.4 5z"/><path class="k70" d="M505 846.6l5.4-3.1 5.4-4 3.8 .8-5.4 4-5.4 3.2z"/><path class="k21" d="M494.3 851.3l5.4-2.1 5.3-2.6 3.8 .9-5.4 2.7-5.4 2.1z"/><path class="k22" d="M472.7 858.5l5.4-1.9 5.4-1.7 5.4-1.8 5.4-1.8 3.7 1-5.4 2-5.3 1.8-5.4 1.8-5.4 1.9z"/><path class="k70" d="M456.5 866l5.4-2.9 5.4-2.4 5.4-2.2 3.8 1.3-5.4 2.2-5.4 2.6-5.4 2.9z"/><path class="k118" d="M445.8 873.1l5.4-3.8 5.3-3.3 3.8 1.5-5.4 3.4-5.4 3.8z"/><path class="k117" d="M440.4 877.4l5.4-4.3 3.7 1.6-5.4 4.4z"/><path class="k165" d="M435 882.2l5.4-4.8 3.7 1.7-5.4 4.9z"/><path class="k164" d="M429.6 887.6l5.4-5.4 3.7 1.8-5.3 5.4z"/><path class="k163" d="M424.2 893.4l5.4-5.8 3.8 1.8-5.4 5.9z"/><path class="k162" d="M418.8 899.7l5.4-6.3 3.8 1.9-5.4 6.4z"/><path class="k161" d="M413.4 906.4l5.4-6.7 3.8 2-5.4 6.7z"/><path class="k160" d="M408 913.4l5.4-7 3.8 2-5.4 7.1z"/><path class="k159" d="M402.7 920.7l5.3-7.3 3.8 2.1-5.4 7.3z"/><path class="k158" d="M397.3 928l5.4-7.3 3.7 2.1-5.4 7.5z"/><path class="k156" d="M391.9 935.4l5.4-7.4 3.7 2.3-5.4 7.4z"/><path class="k155" d="M386.5 942.7l5.4-7.3 3.7 2.3-5.4 7.4z"/><path class="k154" d="M381.1 949.8l5.4-7.1 3.7 2.4-5.4 7.1z"/><path class="k153" d="M375.7 956.4l5.4-6.6 3.7 2.4-5.3 6.6z"/><path class="k152" d="M370.3 962.4l5.4-6 3.8 2.4-5.4 6.1z"/><path class="k151" d="M364.9 967.6l5.4-5.2 3.8 2.5-5.4 5.3z"/><path class="k150" d="M359.5 971.7l5.4-4.1 3.8 2.6-5.4 4.2z"/><path class="k102" d="M348.8 976.1l5.4-1.4 5.3-3 3.8 2.7-5.4 3-5.4 1.5z"/><path class="k7" d="M343.4 975.8l5.4 .3 3.7 2.8-5.4-.2z"/><path class="k8" d="M338 973.5l5.4 2.3 3.7 2.9-5.4-2.3z"/><path class="k9" d="M332.6 968.9l5.4 4.6 3.7 2.9-5.4-4.5z"/><path class="k11" d="M327.2 961.6l5.4 7.3 3.7 3-5.4-7.2z"/><path class="k14" d="M321.8 951.4l5.4 10.2 3.7 3.1-5.3-10.1z"/><path class="k182" d="M557.3 769.9l5.4-19.4 3.8-.6-5.4 19.4z"/><path class="k178" d="M551.9 786.4l5.4-16.5 3.8-.6-5.4 16.6z"/><path class="k175" d="M546.5 800.2l5.4-13.8 3.8-.5-5.4 13.9z"/><path class="k172" d="M541.1 811.7l5.4-11.5 3.8-.4-5.4 11.6z"/><path class="k122" d="M535.8 821.2l5.3-9.5 3.8-.3-5.4 9.5z"/><path class="k121" d="M530.4 829l5.4-7.8 3.7-.3-5.4 7.9z"/><path class="k119" d="M525 835.3l5.4-6.3 3.7-.2-5.4 6.3z"/><path class="k71" d="M519.6 840.3l5.4-5 3.7-.2-5.3 5.1z"/><path class="k22" d="M460.3 867.5l5.4-2.9 5.4-2.6 5.4-2.2 5.4-1.9 5.4-1.8 5.3-1.8 5.4-2 5.4-2.1 5.4-2.7 5.4-3.2 5.4-4 3.8-.1-5.4 4.1-5.4 3.3-5.4 2.6-5.4 2.3-5.4 2-5.4 1.8-5.4 1.9-5.4 2.1-5.4 2.2-5.3 2.6-5.4 3z"/><path class="k70" d="M449.5 874.7l5.4-3.8 5.4-3.4 3.8 .6-5.4 3.4-5.4 4z"/><path class="k117" d="M438.7 884l5.4-4.9 5.4-4.4 3.8 .8-5.4 4.4-5.4 5z"/><path class="k116" d="M433.4 889.4l5.3-5.4 3.8 .9-5.4 5.5z"/><path class="k115" d="M428 895.3l5.4-5.9 3.7 1-5.4 5.9z"/><path class="k162" d="M422.6 901.7l5.4-6.4 3.7 1-5.4 6.4z"/><path class="k161" d="M417.2 908.4l5.4-6.7 3.7 1-5.4 6.9z"/><path class="k160" d="M411.8 915.5l5.4-7.1 3.7 1.2-5.4 7.1z"/><path class="k159" d="M406.4 922.8l5.4-7.3 3.7 1.2-5.3 7.4z"/><path class="k158" d="M401 930.3l5.4-7.5 3.8 1.3-5.4 7.5z"/><path class="k156" d="M395.6 937.7l5.4-7.4 3.8 1.3-5.4 7.5z"/><path class="k155" d="M390.2 945.1l5.4-7.4 3.8 1.4-5.4 7.4z"/><path class="k154" d="M384.8 952.2l5.4-7.1 3.8 1.4-5.4 7.2z"/><path class="k152" d="M379.5 958.8l5.3-6.6 3.8 1.5-5.4 6.7z"/><path class="k151" d="M368.7 970.2l5.4-5.3 5.4-6.1 3.7 1.6-5.4 6.2-5.4 5.3z"/><path class="k102" d="M357.9 977.4l5.4-3 5.4-4.2 3.7 1.7-5.4 4.3-5.4 3.1z"/><path class="k54" d="M352.5 978.9l5.4-1.5 3.7 1.9-5.3 1.5z"/><path class="k6" d="M347.1 978.7l5.4 .2 3.8 1.9-5.4-.1z"/><path class="k7" d="M341.7 976.4l5.4 2.3 3.8 2-5.4-2.2z"/><path class="k9" d="M336.3 971.9l5.4 4.5 3.8 2.1-5.4-4.5z"/><path class="k11" d="M330.9 964.7l5.4 7.2 3.8 2.1-5.4-7.1z"/><path class="k14" d="M325.6 954.6l5.3 10.1 3.8 2.2-5.4-10.1z"/><path class="k183" d="M561.1 769.3l5.4-19.4 3.7-1.9-5.3 19.6z"/><path class="k179" d="M555.7 785.9l5.4-16.6 3.8-1.7-5.4 16.5z"/><path class="k128" d="M550.3 799.8l5.4-13.9 3.8-1.8-5.4 14z"/><path class="k125" d="M544.9 811.4l5.4-11.6 3.8-1.7-5.4 11.7z"/><path class="k75" d="M539.5 820.9l5.4-9.5 3.8-1.6-5.4 9.6z"/><path class="k73" d="M534.1 828.8l5.4-7.9 3.8-1.5-5.4 7.9z"/><path class="k24" d="M528.7 835.1l5.4-6.3 3.8-1.5-5.4 6.4z"/><path class="k23" d="M518 844.3l5.4-4.1 5.3-5.1 3.8-1.4-5.4 5.2-5.4 4.1z"/><path class="k22" d="M485.6 858.2l5.4-1.9 5.4-1.8 5.4-2 5.4-2.3 5.4-2.6 5.4-3.3 3.7-1.3-5.4 3.4-5.4 2.7-5.3 2.3-5.4 2.1-5.4 1.9-5.4 2z"/><path class="k23" d="M464.1 868.1l5.4-3 5.3-2.6 5.4-2.2 5.4-2.1 3.8-.8-5.4 2.1-5.4 2.3-5.4 2.6-5.4 3.1z"/><path class="k22" d="M447.9 879.9l5.4-4.4 5.4-4 5.4-3.4 3.7-.6-5.4 3.5-5.4 4-5.4 4.5z"/><path class="k21" d="M442.5 884.9l5.4-5 3.7-.4-5.3 5z"/><path class="k68" d="M437.1 890.4l5.4-5.5 3.8-.4-5.4 5.6z"/><path class="k67" d="M431.7 896.3l5.4-5.9 3.8-.3-5.4 6z"/><path class="k114" d="M426.3 902.7l5.4-6.4 3.8-.2-5.4 6.5z"/><path class="k113" d="M420.9 909.6l5.4-6.9 3.8-.1-5.4 6.9z"/><path class="k112" d="M415.5 916.7l5.4-7.1 3.8-.1-5.4 7.2z"/><path class="k111" d="M410.2 924.1l5.3-7.4 3.8 0-5.4 7.4z"/><path class="k110" d="M404.8 931.6l5.4-7.5 3.7 0-5.4 7.6z"/><path class="k108" d="M399.4 939.1l5.4-7.5 3.7 .1-5.4 7.6z"/><path class="k107" d="M394 946.5l5.4-7.4 3.7 .2-5.4 7.5z"/><path class="k106" d="M388.6 953.7l5.4-7.2 3.7 .3-5.4 7.2z"/><path class="k105" d="M383.2 960.4l5.4-6.7 3.7 .3-5.3 6.8z"/><path class="k104" d="M377.8 966.6l5.4-6.2 3.8 .4-5.4 6.2z"/><path class="k103" d="M372.4 971.9l5.4-5.3 3.8 .4-5.4 5.4z"/><path class="k54" d="M367 976.2l5.4-4.3 3.8 .5-5.4 4.4z"/><path class="k6" d="M350.9 980.7l5.4 .1 5.3-1.5 5.4-3.1 3.8 .6-5.4 3.1-5.4 1.6-5.4-.1z"/><path class="k7" d="M345.5 978.5l5.4 2.2 3.7 .7-5.4-2.1z"/><path class="k9" d="M340.1 974l5.4 4.5 3.7 .8-5.4-4.4z"/><path class="k11" d="M334.7 966.9l5.4 7.1 3.7 .9-5.4-7.1z"/><path class="k14" d="M329.3 956.8l5.4 10.1 3.7 .9-5.4-10z"/><path class="k136" d="M564.9 767.6l5.3-19.6 3.8-3.4-5.4 19.6z"/><path class="k132" d="M559.5 784.1l5.4-16.5 3.7-3.4-5.4 16.6z"/><path class="k81" d="M554.1 798.1l5.4-14 3.7-3.3-5.4 14z"/><path class="k30" d="M548.7 809.8l5.4-11.7 3.7-3.3-5.3 11.8z"/><path class="k28" d="M543.3 819.4l5.4-9.6 3.8-3.2-5.4 9.7z"/><path class="k26" d="M537.9 827.3l5.4-7.9 3.8-3.1-5.4 7.9z"/><path class="k25" d="M532.5 833.7l5.4-6.4 3.8-3.1-5.4 6.5z"/><path class="k24" d="M527.1 838.9l5.4-5.2 3.8-3-5.4 5.2z"/><path class="k23" d="M457 875l5.4-4 5.4-3.5 5.4-3.1 5.4-2.6 5.4-2.3 5.4-2.1 5.4-2 5.4-1.9 5.4-2.1 5.3-2.3 5.4-2.7 5.4-3.4 5.4-4.1 3.8-3-5.4 4.2-5.4 3.5-5.4 2.8-5.4 2.3-5.4 2.2-5.4 2-5.4 2-5.3 2.1-5.4 2.4-5.4 2.8-5.4 3.1-5.4 3.5-5.4 4.1z"/><path class="k22" d="M446.3 884.5l5.3-5 5.4-4.5 3.8-2.1-5.4 4.6-5.4 5.1z"/><path class="k21" d="M440.9 890.1l5.4-5.6 3.7-1.9-5.4 5.6z"/><path class="k20" d="M435.5 896.1l5.4-6 3.7-1.9-5.4 6.1z"/><path class="k19" d="M430.1 902.6l5.4-6.5 3.7-1.8-5.4 6.5z"/><path class="k18" d="M424.7 909.5l5.4-6.9 3.7-1.8-5.4 7z"/><path class="k17" d="M419.3 916.7l5.4-7.2 3.7-1.7-5.3 7.2z"/><path class="k15" d="M413.9 924.1l5.4-7.4 3.8-1.7-5.4 7.5z"/><path class="k14" d="M408.5 931.7l5.4-7.6 3.8-1.6-5.4 7.7z"/><path class="k61" d="M403.1 939.3l5.4-7.6 3.8-1.5-5.4 7.7z"/><path class="k59" d="M397.7 946.8l5.4-7.5 3.8-1.4-5.4 7.5z"/><path class="k58" d="M392.3 954l5.4-7.2 3.8-1.4-5.4 7.3z"/><path class="k9" d="M387 960.8l5.3-6.8 3.8-1.3-5.4 6.9z"/><path class="k8" d="M381.6 967l5.4-6.2 3.7-1.2-5.4 6.2z"/><path class="k7" d="M376.2 972.4l5.4-5.4 3.7-1.2-5.4 5.5z"/><path class="k6" d="M360 981.5l5.4-1.6 5.4-3.1 5.4-4.4 3.7-1.1-5.4 4.4-5.4 3.2-5.4 1.7z"/><path class="k7" d="M349.2 979.3l5.4 2.1 5.4 .1 3.7-.9-5.3 0-5.4-2.1z"/><path class="k9" d="M343.8 974.9l5.4 4.4 3.8-.8-5.4-4.4z"/><path class="k11" d="M338.4 967.8l5.4 7.1 3.8-.8-5.4-6.9z"/><path class="k14" d="M333 957.8l5.4 10 3.8-.6-5.4-9.9z"/><path class="k89" d="M568.6 764.2l5.4-19.6 3.8-5.5-5.4 19.6z"/><path class="k37" d="M563.2 780.8l5.4-16.6 3.8-5.5-5.4 16.7z"/><path class="k34" d="M557.8 794.8l5.4-14 3.8-5.4-5.4 14.1z"/><path class="k31" d="M552.5 806.6l5.3-11.8 3.8-5.3-5.4 11.8z"/><path class="k29" d="M547.1 816.3l5.4-9.7 3.7-5.3-5.4 9.8z"/><path class="k27" d="M541.7 824.2l5.4-7.9 3.7-5.2-5.4 8z"/><path class="k26" d="M536.3 830.7l5.4-6.5 3.7-5.1-5.4 6.5z"/><path class="k25" d="M525.5 840.1l5.4-4.2 5.4-5.2 3.7-5.1-5.4 5.3-5.3 4.3z"/><path class="k24" d="M493.1 854.9l5.4-2 5.4-2 5.4-2.2 5.4-2.3 5.4-2.8 5.4-3.5 3.8-4.9-5.4 3.5-5.4 2.9-5.4 2.4-5.4 2.2-5.4 2.1-5.4 2z"/><path class="k25" d="M477 862.2l5.4-2.8 5.4-2.4 5.3-2.1 3.8-4.6-5.4 2.3-5.4 2.4-5.4 2.8z"/><path class="k24" d="M460.8 872.9l5.4-4.1 5.4-3.5 5.4-3.1 3.7-4.4-5.4 3.2-5.4 3.6-5.3 4.2z"/><path class="k23" d="M450 882.6l5.4-5.1 5.4-4.6 3.8-4.1-5.4 4.6-5.4 5.2z"/><path class="k22" d="M444.6 888.2l5.4-5.6 3.8-4-5.4 5.6z"/><path class="k21" d="M439.2 894.3l5.4-6.1 3.8-4-5.4 6.2z"/><path class="k20" d="M433.8 900.8l5.4-6.5 3.8-3.9-5.4 6.6z"/><path class="k19" d="M428.4 907.8l5.4-7 3.8-3.8-5.4 7z"/><path class="k18" d="M423.1 915l5.3-7.2 3.8-3.8-5.4 7.3z"/><path class="k16" d="M417.7 922.5l5.4-7.5 3.7-3.7-5.4 7.6z"/><path class="k15" d="M412.3 930.2l5.4-7.7 3.7-3.6-5.4 7.7z"/><path class="k14" d="M406.9 937.9l5.4-7.7 3.7-3.6-5.4 7.8z"/><path class="k12" d="M401.5 945.4l5.4-7.5 3.7-3.5-5.4 7.6z"/><path class="k11" d="M396.1 952.7l5.4-7.3 3.7-3.4-5.4 7.3z"/><path class="k10" d="M390.7 959.6l5.4-6.9 3.7-3.4-5.3 7z"/><path class="k9" d="M385.3 965.8l5.4-6.2 3.8-3.3-5.4 6.3z"/><path class="k8" d="M379.9 971.3l5.4-5.5 3.8-3.2-5.4 5.5z"/><path class="k7" d="M358.4 980.6l5.3 0 5.4-1.7 5.4-3.2 5.4-4.4 3.8-3.2-5.4 4.5-5.4 3.3-5.4 1.7-5.4 .1z"/><path class="k8" d="M353 978.5l5.4 2.1 3.7-2.9-5.4-2z"/><path class="k10" d="M347.6 974.1l5.4 4.4 3.7-2.8-5.4-4.3z"/><path class="k12" d="M342.2 967.2l5.4 6.9 3.7-2.7-5.4-6.9z"/><path class="k15" d="M336.8 957.3l5.4 9.9 3.7-2.7-5.4-9.9z"/><path class="k44" d="M572.4 758.7l5.4-19.6 3.8-8.1-5.4 19.7z"/><path class="k39" d="M567 775.4l5.4-16.7 3.8-8-5.4 16.8z"/><path class="k36" d="M561.6 789.5l5.4-14.1 3.8-7.9-5.4 14.1z"/><path class="k33" d="M556.2 801.3l5.4-11.8 3.8-7.9-5.4 11.9z"/><path class="k31" d="M550.8 811.1l5.4-9.8 3.8-7.8-5.4 9.8z"/><path class="k29" d="M545.4 819.1l5.4-8 3.8-7.8-5.4 8.1z"/><path class="k28" d="M540 825.6l5.4-6.5 3.8-7.7-5.4 6.6z"/><path class="k27" d="M529.3 835.2l5.3-4.3 5.4-5.3 3.8-7.6-5.4 5.4-5.4 4.3z"/><path class="k26" d="M464.6 868.8l5.3-4.2 5.4-3.6 5.4-3.2 5.4-2.8 5.4-2.4 5.4-2.3 5.4-2 5.4-2.1 5.4-2.2 5.4-2.4 5.4-2.9 5.4-3.5 3.7-7.5-5.4 3.6-5.4 2.9-5.4 2.5-5.4 2.3-5.3 2.1-5.4 2.2-5.4 2.2-5.4 2.6-5.4 2.8-5.4 3.3-5.4 3.7-5.4 4.2z"/><path class="k25" d="M459.2 873.4l5.4-4.6 3.7-6.7-5.4 4.7z"/><path class="k24" d="M448.4 884.2l5.4-5.6 5.4-5.2 3.7-6.6-5.4 5.2-5.4 5.7z"/><path class="k23" d="M443 890.4l5.4-6.2 3.7-6.5-5.4 6.3z"/><path class="k22" d="M437.6 897l5.4-6.6 3.7-6.4-5.4 6.6z"/><path class="k21" d="M432.2 904l5.4-7 3.7-6.4-5.4 7.1z"/><path class="k19" d="M426.8 911.3l5.4-7.3 3.7-6.3-5.3 7.4z"/><path class="k18" d="M421.4 918.9l5.4-7.6 3.8-6.2-5.4 7.7z"/><path class="k17" d="M416 926.6l5.4-7.7 3.8-6.1-5.4 7.7z"/><path class="k15" d="M410.6 934.4l5.4-7.8 3.8-6.1-5.4 7.8z"/><path class="k14" d="M405.2 942l5.4-7.6 3.8-6.1-5.4 7.7z"/><path class="k13" d="M399.8 949.3l5.4-7.3 3.8-6-5.4 7.4z"/><path class="k11" d="M394.5 956.3l5.3-7 3.8-5.9-5.4 7z"/><path class="k10" d="M389.1 962.6l5.4-6.3 3.7-5.9-5.4 6.4z"/><path class="k9" d="M378.3 972.6l5.4-4.5 5.4-5.5 3.7-5.8-5.4 5.6-5.4 4.6z"/><path class="k8" d="M367.5 977.6l5.4-1.7 5.4-3.3 3.7-5.6-5.4 3.3-5.4 1.8z"/><path class="k9" d="M362.1 977.7l5.4-.1 3.7-5.5-5.4 .1z"/><path class="k10" d="M356.7 975.7l5.4 2 3.7-5.5-5.3-1.9z"/><path class="k11" d="M351.3 971.4l5.4 4.3 3.8-5.4-5.4-4.2z"/><path class="k13" d="M345.9 964.5l5.4 6.9 3.8-5.3-5.4-6.9z"/><path class="k16" d="M340.5 954.6l5.4 9.9 3.8-5.3-5.4-9.8z"/></g>
<g stroke="#000" stroke-width="2" fill="none"><line x1="61" y1="954.4" x2="61" y2="745.1" /><line x1="61" y1="954.4" x2="344.3" y2="1045.7" /><line x1="344.3" y1="1045.7" x2="581.6" y2="936.5" /><line x1="61" y1="954.4" x2="52.5" y2="951.7" /><line x1="61" y1="902.1" x2="52.5" y2="899.4" /><line x1="61" y1="849.8" x2="52.5" y2="847.1" /><line x1="61" y1="797.4" x2="52.5" y2="794.7" /><line x1="61" y1="745.1" x2="52.5" y2="742.4" /></g>
<g stroke="#000" stroke-width="2.6" fill="none"><line x1="120.7" y1="978.6" x2="133.7" y2="972.6" /><line x1="195.6" y1="1002.8" x2="208.6" y2="996.8" /><line x1="270.4" y1="1026.9" x2="283.4" y2="1020.9" /><line x1="348.1" y1="1038.4" x2="362.1" y2="1042.9" /><line x1="402" y1="1013.6" x2="416" y2="1018.1" /><line x1="455.9" y1="988.8" x2="469.9" y2="993.3" /><line x1="509.8" y1="964" x2="523.8" y2="968.5" /><line x1="563.8" y1="939.2" x2="577.8" y2="943.7" /></g>
<g font-family="Liberation Sans, Arial, sans-serif" fill="#262626" stroke="#262626" stroke-width="0.25" font-size="15.5"><text x="319" y="621.6" text-anchor="middle">Model output.</text><text x="49.5" y="957" text-anchor="end">-2</text><text x="49.5" y="904.7" text-anchor="end">0</text><text x="49.5" y="852.4" text-anchor="end">2</text><text x="49.5" y="800" text-anchor="end">4</text><text x="49.5" y="747.7" text-anchor="end">6</text><text x="112.2" y="993.1" text-anchor="middle">-1</text><text x="187.1" y="1017.3" text-anchor="middle">0</text><text x="261.9" y="1041.4" text-anchor="middle">1</text><text x="366.1" y="1057.7" text-anchor="start">-1</text><text x="420" y="1032.9" text-anchor="start">-0.5</text><text x="473.9" y="1008.1" text-anchor="start">0</text><text x="527.8" y="983.3" text-anchor="start">0.5</text><text x="581.8" y="958.4" text-anchor="start">1</text><text x="230" y="1089">x<tspan dy="6" font-size="13">1</tspan></text><text x="463" y="1069">x<tspan dy="6" font-size="13">2</tspan></text><text transform="translate(23.5 857) rotate(-90)">y</text></g>
<path fill="none" stroke="#1c0c50" stroke-width="1.8" stroke-linejoin="round" d="M1002.9 983.9 1000.3 982.3 996.5 972.9 1002.9 964.7 1009.7 963.7 1016.6 968.7 1019.6 972.9 1018.1 982.3 1016.6 983.3 1009.7 985.2 1002.9 983.9M975.4 712 974.4 710.8 975.4 705.3 977.6 701.4 982.3 700.5 988.4 701.4 989.1 701.9 992.9 710.8 989.1 715.1 982.3 716 975.4 712"/>
<path fill="none" stroke="#3010a8" stroke-width="1.8" stroke-linejoin="round" d="M1002.9 1029.9 996.3 1029.1 989.1 1027.5 982.3 1025.4 975.4 1022.8 968.5 1019.8 961.6 1015.3 954.8 1010.4 947.9 1003 946.1 1001 941 992.5 940.6 991.6 937.3 982.3 935.9 972.9 936 963.5 937.3 954.2 939.6 944.8 941 940.4 942.8 935.5 946.6 926.1 947.9 923.2 951.1 916.7 954.8 909.4 955.9 907.4 961.1 898 961.6 897 966.7 888.7 968.5 885.2 972.5 879.3 975.4 874 978.4 869.9 982.3 863.1 984.6 860.6 989.1 852.6 991.4 851.2 996 843.4 1002.9 850.5 1003.1 851.2 1009.7 858.4 1011 860.6 1016.6 866.6 1018.9 869.9 1023.5 874.9 1026.7 879.3 1030.4 883.3 1034.5 888.7 1037.2 891.7 1042.2 898 1044.1 900.2 1049.8 907.4 1051 908.8 1057.2 916.7 1057.8 917.5 1064.5 926.1 1071.4 935.5 1077.9 944.8 1078.5 945.8 1083.7 954.2 1085.3 957.4 1088.5 963.5 1091.8 972.9 1092.2 976.2 1093 982.3 1092.2 986.6 1091.3 991.6 1086.1 1001 1085.3 1001.8 1078.5 1008.6 1076.6 1010.4 1071.6 1013.6 1064.7 1017.8 1061.4 1019.7 1057.8 1021.2 1051 1023.7 1044.1 1026 1037.2 1027.8 1031.2 1029.1 1030.4 1029.2 1023.5 1030 1016.6 1030.3 1009.7 1030.3 1002.9 1029.9M1222.7 1012.8 1217.6 1010.4 1215.9 1009 1209 1001.6 1208.5 1001 1205.5 991.6 1206.5 982.3 1209 977.1 1211.5 972.9 1215.9 968.6 1222.7 963.9 1224.5 963.5 1229.6 962.7 1232.6 963.5 1236.5 965 1243.4 972.5 1243.6 972.9 1246.7 982.3 1247.9 991.6 1246.7 1001 1243.4 1008.6 1241.8 1010.4 1236.5 1013.6 1229.6 1014.4 1222.7 1012.8M989.1 833.2 988.9 832.5 982.3 825.3 981 823.1 975.4 817.1 973.1 813.8 968.5 808.8 965.3 804.4 961.6 800.4 957.5 795 954.8 792 949.8 785.7 947.9 783.5 942.2 776.3 941 774.9 934.8 767 934.2 766.2 927.5 757.6 920.6 748.2 914.1 738.9 913.5 737.9 908.3 729.5 906.7 726.3 903.5 720.2 900.2 710.8 899.8 707.5 899 701.4 899.8 697.1 900.7 692.1 905.9 682.7 906.7 681.9 913.5 675.1 915.4 673.3 920.4 670.1 927.3 665.9 930.6 664 934.2 662.5 941 660 947.9 657.7 954.8 655.9 960.8 654.6 961.6 654.5 968.5 653.7 975.4 653.4 982.3 653.4 989.1 653.8 995.7 654.6 1002.9 656.2 1009.7 658.3 1016.6 660.9 1023.5 663.9 1030.4 668.4 1037.2 673.3 1044.1 680.7 1045.9 682.7 1051 691.2 1051.4 692.1 1054.7 701.4 1056.1 710.8 1056 720.2 1054.7 729.5 1052.4 738.9 1051 743.3 1049.2 748.2 1045.4 757.6 1044.1 760.5 1040.9 767 1037.2 774.3 1036.1 776.3 1030.9 785.7 1030.4 786.7 1025.3 795 1023.5 798.5 1019.5 804.4 1016.6 809.7 1013.6 813.8 1009.7 820.6 1007.4 823.1 1002.9 831.1 1000.6 832.5 996 840.3 989.1 833.2M762.4 721 759.4 720.2 755.5 718.7 748.6 711.2 748.4 710.8 745.3 701.4 744.1 692.1 745.3 682.7 748.6 675.1 750.2 673.3 755.5 670.1 762.4 669.3 769.3 670.9 774.4 673.3 776.1 674.7 783 682.1 783.5 682.7 786.5 692.1 785.5 701.4 783 706.6 780.5 710.8 776.1 715.1 769.3 719.8 767.5 720.2 762.4 721"/>
<path fill="none" stroke="#70c4dc" stroke-width="1.6" stroke-linejoin="round" d="M998.7 1047.8 996 1047.5 989.1 1046.4 982.3 1045 975.4 1043.3 968.5 1041.4 961.6 1039.1 959.8 1038.4 954.8 1036.2 947.9 1032.9 941 1029.3 934.2 1024.6 927.3 1019.8 920.4 1013.3 917.3 1010.4 913.5 1005.6 909.9 1001 906.7 995.3 904.6 991.6 901.1 982.3 899.8 975.3 899.3 972.9 898.9 963.5 899.6 954.2 899.8 953.1 901.2 944.8 903.5 935.5 906.2 926.1 906.7 924.7 909.2 916.7 912.2 907.4 913.5 902.9 915 898 917.6 888.7 919.8 879.3 920.4 875.6 921.4 869.9 922.3 860.6 922.5 851.2 921.7 841.8 920.4 834.7 920 832.5 917.4 823.1 913.9 813.8 913.5 813.1 909.4 804.4 906.7 799.6 904 795 899.8 788.7 897.7 785.7 892.9 779.4 890.4 776.3 886.1 771.3 881.9 767 879.2 764.3 872.3 758.2 871.5 757.6 865.4 753.1 858.6 749.2 856.3 748.2 851.7 746.3 844.8 744.6 838 744.2 831.1 745.1 824.2 747 821.2 748.2 817.4 749.7 810.5 753.2 803.6 757.2 802.9 757.6 796.7 761.3 789.9 765.4 787.1 767 783 769.2 776.1 772.3 769.3 774.1 762.4 774.2 755.5 772.1 748.6 767.1 741.8 758.6 741.2 757.6 736.3 748.2 734.9 745.5M1257.1 1032.8 1251.2 1038.4 1250.2 1039.1 1243.4 1042.1 1236.5 1043.4 1229.6 1043.6 1222.7 1042.9 1215.9 1041.5 1209 1039.6 1205 1038.4 1202.1 1037.3 1195.3 1034.6 1188.4 1031.9 1181.5 1029.5 1180.3 1029.1 1174.6 1026.7 1167.8 1024.3 1160.9 1022.6 1154 1021.5 1147.2 1021 1140.3 1021.1 1133.4 1021.8 1126.5 1023 1119.7 1024.8 1112.8 1026.9 1106.9 1029.1 1105.9 1029.3 1099.1 1031.4 1092.2 1033.6 1085.3 1036 1078.5 1038.3 1071.6 1040.1 1064.7 1041.9 1057.8 1043.5 1051 1045 1044.1 1046.2 1037.2 1047.3 1032.6 1047.8M734.9 650.9 740.8 645.3 741.8 644.6 748.6 641.6 755.5 640.3 762.4 640.1 769.3 640.8 776.1 642.2 783 644.1 787 645.3 789.9 646.4 796.7 649.1 803.6 651.8 810.5 654.2 811.7 654.6 817.4 657 824.2 659.4 831.1 661.1 838 662.2 844.8 662.7 851.7 662.6 858.6 661.9 865.4 660.7 872.3 658.9 879.2 656.8 885.1 654.6 886.1 654.4 892.9 652.3 899.8 650.1 906.7 647.7 913.5 645.4 920.4 643.6 927.3 641.8 934.2 640.2 941 638.7 947.9 637.5 954.8 636.4 959.4 635.9M993.3 635.9 996 636.2 1002.9 637.3 1009.7 638.7 1016.6 640.4 1023.5 642.3 1030.4 644.6 1032.2 645.3 1037.2 647.5 1044.1 650.8 1051 654.4 1057.8 659.1 1064.7 663.9 1071.6 670.4 1074.7 673.3 1078.5 678.1 1082.1 682.7 1085.3 688.4 1087.4 692.1 1090.9 701.4 1092.2 708.4 1092.7 710.8 1093.1 720.2 1092.4 729.5 1092.2 730.6 1090.8 738.9 1088.5 748.2 1085.8 757.6 1085.3 759 1082.8 767 1079.8 776.3 1078.5 780.8 1077 785.7 1074.4 795 1072.2 804.4 1071.6 808.1 1070.6 813.8 1069.7 823.1 1069.5 832.5 1070.3 841.8 1071.6 849 1072 851.2 1074.6 860.6 1078.1 869.9 1078.5 870.6 1082.6 879.3 1085.3 884.1 1088 888.7 1092.2 895 1094.3 898 1099.1 904.3 1101.6 907.4 1105.9 912.4 1110.1 916.7 1112.8 919.4 1119.7 925.5 1120.5 926.1 1126.5 930.6 1133.4 934.5 1135.7 935.5 1140.3 937.4 1147.2 939.1 1154 939.5 1160.9 938.6 1167.8 936.7 1170.8 935.5 1174.6 934 1181.5 930.5 1188.4 926.5 1189.1 926.1 1195.3 922.4 1202.1 918.3 1204.9 916.7 1209 914.5 1215.9 911.4 1222.7 909.6 1229.6 909.5 1236.5 911.6 1243.4 916.6 1250.2 925.1 1250.8 926.1 1255.7 935.5 1257.1 938.2"/>
<path fill="none" stroke="#a0dc88" stroke-width="1.6" stroke-linejoin="round" d="M942.7 1047.8 941 1047.1 934.2 1044 927.3 1040.8 922.4 1038.4 920.4 1037.3 913.5 1033.3 906.7 1029.2 899.8 1024.3 893.2 1019.7 886.1 1013.6 881.9 1010.4 879.2 1007.5 872.5 1001 865.4 992.5 864.6 991.6 858.6 982.3 854.4 972.9 852.5 963.5 852.7 954.2 854.5 944.8 857.5 935.5 858.6 932.9 861 926.1 864.7 916.7 865.4 915 868.2 907.4 871.4 898 872.3 894.8 874 888.7 875.9 879.3 877.1 869.9 877.3 860.6 876.6 851.2 874.7 841.8 872.3 834.9 871.4 832.5 866.2 823.1 865.4 822 858.6 814.1 851.7 809 844.8 805.7 839.9 804.4 838 804 831.1 803.8 827.4 804.4 824.2 804.9 817.4 807.3 810.5 810.7 805.3 813.8 803.6 814.9 796.7 819.9 792.3 823.1 789.9 825.1 783 830.3 779 832.5 776.1 834.4 769.3 836.5 762.4 835.1 759.3 832.5 755.5 829.9 750.6 823.1 748.6 820.8 745 813.8 741.8 808.4 740.2 804.4 736 795 734.9 792.7M1171.1 1047.8 1167.8 1047.1 1160.9 1046 1154 1045.2 1147.2 1044.8 1140.3 1044.7 1133.4 1045 1126.5 1045.7 1119.7 1046.6 1112.8 1047.8 1112.6 1047.8M820.9 635.9 824.2 636.6 831.1 637.7 838 638.5 844.8 638.9 851.7 639 858.6 638.7 865.4 638 872.3 637.1 879.2 635.9 879.4 635.9M1049.3 635.9 1051 636.6 1057.8 639.7 1064.7 642.9 1069.6 645.3 1071.6 646.4 1078.5 650.4 1085.3 654.5 1092.2 659.4 1098.8 664 1105.9 670.1 1110.1 673.3 1112.8 676.2 1119.5 682.7 1126.5 691.2 1127.4 692.1 1133.4 701.4 1137.6 710.8 1139.5 720.2 1139.3 729.5 1137.5 738.9 1134.5 748.2 1133.4 750.8 1131 757.6 1127.3 767 1126.5 768.7 1123.8 776.3 1120.6 785.7 1119.7 788.9 1118 795 1116.1 804.4 1114.9 813.8 1114.7 823.1 1115.4 832.5 1117.3 841.8 1119.7 848.8 1120.6 851.2 1125.8 860.6 1126.5 861.7 1133.4 869.6 1140.3 874.7 1147.2 878 1152.1 879.3 1154 879.7 1160.9 879.9 1164.6 879.3 1167.8 878.8 1174.6 876.4 1181.5 873 1186.7 869.9 1188.4 868.8 1195.3 863.8 1199.7 860.6 1202.1 858.6 1209 853.4 1213 851.2 1215.9 849.3 1222.7 847.2 1229.6 848.6 1232.7 851.2 1236.5 853.8 1241.4 860.6 1243.4 862.9 1247 869.9 1250.2 875.3 1251.8 879.3 1256 888.7 1257.1 891"/>
<path fill="none" stroke="#dcc838" stroke-width="1.6" stroke-linejoin="round" d="M909.1 1047.8 906.7 1046.7 899.8 1043.4 892.9 1040.2 888.9 1038.4 886.1 1036.9 879.2 1033.4 872.3 1030.2 869.7 1029.1 865.4 1026.8 858.6 1023.6 851.7 1020.8 848.3 1019.7 844.8 1018.2 838 1015.9 831.1 1014.2 824.2 1013.1 817.4 1012.4 810.5 1012.2 803.6 1012.4 796.7 1012.7 789.9 1013.1 783 1013.3 776.1 1013.2 769.3 1012.5 762.4 1010.8 761.3 1010.4 755.5 1007.3 748.6 1001.6 748.1 1001 742.2 991.6 741.8 990.7 738.9 982.3 736.7 972.9 735.2 963.5 734.9 960.1M1082.9 635.9 1085.3 637 1092.2 640.3 1099.1 643.5 1103.1 645.3 1105.9 646.8 1112.8 650.3 1119.7 653.5 1122.3 654.6 1126.5 656.9 1133.4 660.1 1140.3 662.9 1143.7 664 1147.2 665.5 1154 667.8 1160.9 669.5 1167.8 670.6 1174.6 671.3 1181.5 671.5 1188.4 671.3 1195.3 671 1202.1 670.6 1209 670.4 1215.9 670.5 1222.7 671.2 1229.6 672.9 1230.7 673.3 1236.5 676.4 1243.4 682.1 1243.9 682.7 1249.8 692.1 1250.2 693 1253.1 701.4 1255.3 710.8 1256.8 720.2 1257.1 723.6"/>
<path fill="none" stroke="#a81424" stroke-width="1.6" stroke-linejoin="round" d="M874.2 1047.8 872.3 1047.1 865.4 1044.6 858.6 1042.4 851.7 1040.6 844.8 1039 842 1038.4 838 1037.5 831.1 1036.3 824.2 1035.5 817.4 1035 810.5 1034.8 803.6 1034.7 796.7 1034.8 789.9 1035 783 1035 776.1 1034.9 769.3 1034.3 762.4 1033.1 755.5 1031.2 750.8 1029.1 748.6 1027.9 741.8 1022.6 739 1019.7 734.9 1014.3M1117.8 635.9 1119.7 636.6 1126.5 639.1 1133.4 641.3 1140.3 643.1 1147.2 644.7 1150 645.3 1154 646.2 1160.9 647.4 1167.8 648.2 1174.6 648.7 1181.5 648.9 1188.4 649 1195.3 648.9 1202.1 648.7 1209 648.7 1215.9 648.8 1222.7 649.4 1229.6 650.6 1236.5 652.5 1241.2 654.6 1243.4 655.8 1250.2 661.1 1253 664 1257.1 669.4"/>
<path fill="none" stroke="#500a10" stroke-width="1.6" stroke-linejoin="round" d="M759.7 1047.8 755.5 1046.8 748.6 1044.2 741.8 1040.6 738.9 1038.4 734.9 1035M1232.3 635.9 1236.5 636.9 1243.4 639.5 1250.2 643.1 1253.1 645.3 1257.1 648.7"/>
<g stroke="#000" stroke-width="1.8" fill="none"><rect x="734.9" y="635.9" width="522.2" height="411.9"/><line x1="789.9" y1="1047.8" x2="789.9" y2="1041.3" /><line x1="789.9" y1="635.9" x2="789.9" y2="642.4" /><line x1="858.6" y1="1047.8" x2="858.6" y2="1041.3" /><line x1="858.6" y1="635.9" x2="858.6" y2="642.4" /><line x1="927.3" y1="1047.8" x2="927.3" y2="1041.3" /><line x1="927.3" y1="635.9" x2="927.3" y2="642.4" /><line x1="996" y1="1047.8" x2="996" y2="1041.3" /><line x1="996" y1="635.9" x2="996" y2="642.4" /><line x1="1064.7" y1="1047.8" x2="1064.7" y2="1041.3" /><line x1="1064.7" y1="635.9" x2="1064.7" y2="642.4" /><line x1="1133.4" y1="1047.8" x2="1133.4" y2="1041.3" /><line x1="1133.4" y1="635.9" x2="1133.4" y2="642.4" /><line x1="1202.1" y1="1047.8" x2="1202.1" y2="1041.3" /><line x1="1202.1" y1="635.9" x2="1202.1" y2="642.4" /><line x1="734.9" y1="1029.1" x2="741.4" y2="1029.1" /><line x1="1257.1" y1="1029.1" x2="1250.6" y2="1029.1" /><line x1="734.9" y1="991.6" x2="741.4" y2="991.6" /><line x1="1257.1" y1="991.6" x2="1250.6" y2="991.6" /><line x1="734.9" y1="954.2" x2="741.4" y2="954.2" /><line x1="1257.1" y1="954.2" x2="1250.6" y2="954.2" /><line x1="734.9" y1="916.7" x2="741.4" y2="916.7" /><line x1="1257.1" y1="916.7" x2="1250.6" y2="916.7" /><line x1="734.9" y1="879.3" x2="741.4" y2="879.3" /><line x1="1257.1" y1="879.3" x2="1250.6" y2="879.3" /><line x1="734.9" y1="841.8" x2="741.4" y2="841.8" /><line x1="1257.1" y1="841.8" x2="1250.6" y2="841.8" /><line x1="734.9" y1="804.4" x2="741.4" y2="804.4" /><line x1="1257.1" y1="804.4" x2="1250.6" y2="804.4" /><line x1="734.9" y1="767" x2="741.4" y2="767" /><line x1="1257.1" y1="767" x2="1250.6" y2="767" /><line x1="734.9" y1="729.5" x2="741.4" y2="729.5" /><line x1="1257.1" y1="729.5" x2="1250.6" y2="729.5" /><line x1="734.9" y1="692.1" x2="741.4" y2="692.1" /><line x1="1257.1" y1="692.1" x2="1250.6" y2="692.1" /><line x1="734.9" y1="654.6" x2="741.4" y2="654.6" /><line x1="1257.1" y1="654.6" x2="1250.6" y2="654.6" /></g>
<g font-family="Liberation Sans, Arial, sans-serif" fill="#262626" stroke="#262626" stroke-width="0.25" font-size="15.5"><text x="993" y="621.6" text-anchor="middle">Model output.</text><text x="788.4" y="1064.6" text-anchor="middle">-1.5</text><text x="857.1" y="1064.6" text-anchor="middle">-1</text><text x="925.8" y="1064.6" text-anchor="middle">-0.5</text><text x="994.5" y="1064.6" text-anchor="middle">0</text><text x="1063.2" y="1064.6" text-anchor="middle">0.5</text><text x="1131.9" y="1064.6" text-anchor="middle">1</text><text x="1200.6" y="1064.6" text-anchor="middle">1.5</text><text x="730.9" y="1031.9" text-anchor="end">-1</text><text x="730.9" y="994.4" text-anchor="end">-0.8</text><text x="730.9" y="957" text-anchor="end">-0.6</text><text x="730.9" y="919.5" text-anchor="end">-0.4</text><text x="730.9" y="882.1" text-anchor="end">-0.2</text><text x="730.9" y="844.6" text-anchor="end">0</text><text x="730.9" y="807.2" text-anchor="end">0.2</text><text x="730.9" y="769.8" text-anchor="end">0.4</text><text x="730.9" y="732.3" text-anchor="end">0.6</text><text x="730.9" y="694.9" text-anchor="end">0.8</text><text x="730.9" y="657.4" text-anchor="end">1</text><text x="986.5" y="1083.8">x<tspan dy="7" font-size="13">1</tspan></text><text transform="translate(683.4 850.3) rotate(-90)">x<tspan dy="7" font-size="13">2</tspan></text></g>
<g font-family="Liberation Serif, Times New Roman, serif" fill="#222"><text x="324" y="567.8" text-anchor="middle" font-size="35.6">(a)</text><text x="1003.6" y="567.8" text-anchor="middle" font-size="35.6">(b)</text><text x="323.2" y="1159.8" text-anchor="middle" font-size="35.6">(c)</text><text x="1003.6" y="1159.7" text-anchor="middle" font-size="35.6">(d)</text></g>
</svg></body></html>
